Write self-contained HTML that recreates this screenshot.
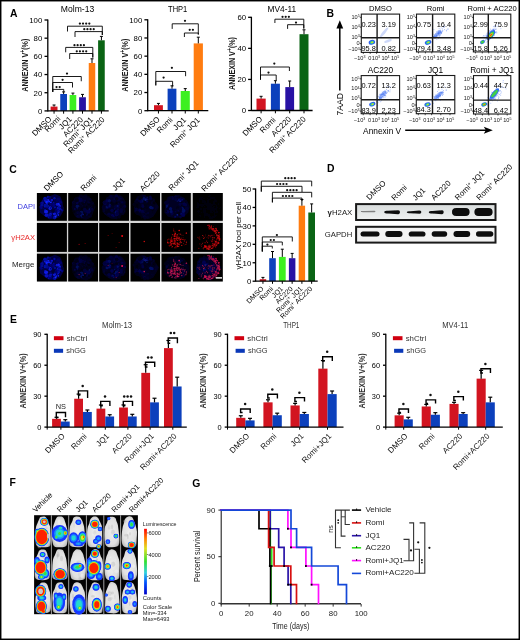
<!DOCTYPE html><html><head><meta charset="utf-8"><style>html,body{margin:0;padding:0;background:#fff;width:520px;height:640px;overflow:hidden;}svg{display:block;will-change:transform;}text{font-family:"Liberation Sans", sans-serif;}</style></head><body><svg width="520" height="640" viewBox="0 0 520 640" font-family='"Liberation Sans", sans-serif'>
<defs><linearGradient id="cbar" x1="0" y1="1" x2="0" y2="0"><stop offset="0" stop-color="#0000c8"/><stop offset="0.18" stop-color="#0050ff"/><stop offset="0.33" stop-color="#30d0e0"/><stop offset="0.5" stop-color="#30e030"/><stop offset="0.7" stop-color="#e0e020"/><stop offset="0.85" stop-color="#ff8000"/><stop offset="1" stop-color="#ff0000"/></linearGradient><radialGradient id="mouse" cx="0.5" cy="0.5" r="0.6"><stop offset="0" stop-color="#ececec"/><stop offset="0.7" stop-color="#e0e0e0"/><stop offset="0.92" stop-color="#c4c4c4"/><stop offset="1" stop-color="#a0a0a0"/></radialGradient><linearGradient id="blot1" x1="0" y1="0" x2="0" y2="1"><stop offset="0" stop-color="#d8dcdc"/><stop offset="1" stop-color="#eef0f0"/></linearGradient><filter id="b04" x="-20%" y="-20%" width="140%" height="140%"><feGaussianBlur stdDeviation="0.45"/></filter><filter id="b03" x="-20%" y="-20%" width="140%" height="140%"><feGaussianBlur stdDeviation="0.3"/></filter></defs>
<rect x="0" y="0" width="520" height="640" fill="#fff"/>
<rect x="0.7" y="0.7" width="518.6" height="638.6" fill="none" stroke="#000" stroke-width="1.5"/>
<text x="10" y="17.2" font-size="10.4" font-weight="bold">A</text>
<text x="326.5" y="17.2" font-size="10.4" font-weight="bold">B</text>
<text x="9.3" y="172.7" font-size="10.4" font-weight="bold">C</text>
<text x="327" y="172.4" font-size="10.4" font-weight="bold">D</text>
<text x="10" y="323.4" font-size="10.4" font-weight="bold">E</text>
<text x="9.5" y="486.2" font-size="10.4" font-weight="bold">F</text>
<text x="192.3" y="486.6" font-size="10.4" font-weight="bold">G</text>
<rect x="50.6" y="106.6" width="6.9" height="4.3" fill="#d21420"/>
<line x1="54.05" y1="106.6" x2="54.05" y2="105" stroke="#000" stroke-width="1"/>
<line x1="52.55" y1="105" x2="55.55" y2="105" stroke="#000" stroke-width="1"/>
<rect x="60.25" y="94" width="6.75" height="16.9" fill="#0c40bc"/>
<line x1="63.62" y1="94" x2="63.62" y2="91.9" stroke="#000" stroke-width="1"/>
<line x1="62.12" y1="91.9" x2="65.12" y2="91.9" stroke="#000" stroke-width="1"/>
<rect x="69.6" y="95" width="6.65" height="15.9" fill="#3cf020"/>
<line x1="72.92" y1="95" x2="72.92" y2="93.1" stroke="#000" stroke-width="1"/>
<line x1="71.42" y1="93.1" x2="74.42" y2="93.1" stroke="#000" stroke-width="1"/>
<rect x="79.1" y="97.25" width="6.8" height="13.65" fill="#2812a4"/>
<line x1="82.5" y1="97.25" x2="82.5" y2="94.4" stroke="#000" stroke-width="1"/>
<line x1="81" y1="94.4" x2="84" y2="94.4" stroke="#000" stroke-width="1"/>
<rect x="88.75" y="63" width="6.5" height="47.9" fill="#ff7c10"/>
<line x1="92" y1="63" x2="92" y2="58.8" stroke="#000" stroke-width="1"/>
<line x1="90.5" y1="58.8" x2="93.5" y2="58.8" stroke="#000" stroke-width="1"/>
<rect x="98.1" y="40.3" width="6.65" height="70.6" fill="#0a6414"/>
<line x1="101.42" y1="40.3" x2="101.42" y2="36.4" stroke="#000" stroke-width="1"/>
<line x1="99.92" y1="36.4" x2="102.92" y2="36.4" stroke="#000" stroke-width="1"/>
<line x1="47.8" y1="19.5" x2="47.8" y2="111.4" stroke="#000" stroke-width="1.3"/>
<line x1="44.5" y1="110.9" x2="47.8" y2="110.9" stroke="#000" stroke-width="1.3"/>
<text x="42.3" y="113.71" font-size="7.8" text-anchor="end">0</text>
<line x1="44.5" y1="92.72" x2="47.8" y2="92.72" stroke="#000" stroke-width="1.3"/>
<text x="42.3" y="95.53" font-size="7.8" text-anchor="end">20</text>
<line x1="44.5" y1="74.54" x2="47.8" y2="74.54" stroke="#000" stroke-width="1.3"/>
<text x="42.3" y="77.35" font-size="7.8" text-anchor="end">40</text>
<line x1="44.5" y1="56.36" x2="47.8" y2="56.36" stroke="#000" stroke-width="1.3"/>
<text x="42.3" y="59.17" font-size="7.8" text-anchor="end">60</text>
<line x1="44.5" y1="38.18" x2="47.8" y2="38.18" stroke="#000" stroke-width="1.3"/>
<text x="42.3" y="40.99" font-size="7.8" text-anchor="end">80</text>
<line x1="44.5" y1="20" x2="47.8" y2="20" stroke="#000" stroke-width="1.3"/>
<text x="42.3" y="22.81" font-size="7.8" text-anchor="end">100</text>
<line x1="47.8" y1="110.9" x2="108.7" y2="110.9" stroke="#000" stroke-width="1.3"/>
<line x1="54.05" y1="110.9" x2="54.05" y2="113.7" stroke="#000" stroke-width="1"/>
<line x1="63.62" y1="110.9" x2="63.62" y2="113.7" stroke="#000" stroke-width="1"/>
<line x1="72.92" y1="110.9" x2="72.92" y2="113.7" stroke="#000" stroke-width="1"/>
<line x1="82.5" y1="110.9" x2="82.5" y2="113.7" stroke="#000" stroke-width="1"/>
<line x1="92" y1="110.9" x2="92" y2="113.7" stroke="#000" stroke-width="1"/>
<line x1="101.42" y1="110.9" x2="101.42" y2="113.7" stroke="#000" stroke-width="1"/>
<polyline points="67.5,31.5 67.5,26.2 102.3,26.2 102.3,35" fill="none" stroke="#000" stroke-width="0.9"/>
<circle cx="79.88" cy="23.6" r="1.12" fill="#111"/>
<circle cx="83.02" cy="23.6" r="1.12" fill="#111"/>
<circle cx="86.17" cy="23.6" r="1.12" fill="#111"/>
<circle cx="89.32" cy="23.6" r="1.12" fill="#111"/>
<polyline points="75,37 75,31.6 102.3,31.6 102.3,35" fill="none" stroke="#000" stroke-width="0.9"/>
<circle cx="84.28" cy="29.2" r="1.12" fill="#111"/>
<circle cx="87.42" cy="29.2" r="1.12" fill="#111"/>
<circle cx="90.58" cy="29.2" r="1.12" fill="#111"/>
<circle cx="93.72" cy="29.2" r="1.12" fill="#111"/>
<polyline points="65.7,52.3 65.7,47.4 92.8,47.4 92.8,57.5" fill="none" stroke="#000" stroke-width="0.9"/>
<circle cx="74.48" cy="45.2" r="1.12" fill="#111"/>
<circle cx="77.62" cy="45.2" r="1.12" fill="#111"/>
<circle cx="80.78" cy="45.2" r="1.12" fill="#111"/>
<circle cx="83.92" cy="45.2" r="1.12" fill="#111"/>
<polyline points="69.7,59 69.7,53.5 92.8,53.5 92.8,57.5" fill="none" stroke="#000" stroke-width="0.9"/>
<circle cx="76.78" cy="51.3" r="1.12" fill="#111"/>
<circle cx="79.92" cy="51.3" r="1.12" fill="#111"/>
<circle cx="83.08" cy="51.3" r="1.12" fill="#111"/>
<circle cx="86.22" cy="51.3" r="1.12" fill="#111"/>
<polyline points="52.75,91.9 52.75,76.5 81.25,76.5 81.25,81.25" fill="none" stroke="#000" stroke-width="0.9"/>
<circle cx="67" cy="73.6" r="1.12" fill="#111"/>
<polyline points="52.75,91.9 52.75,82.5 72.5,82.5 72.5,87.5" fill="none" stroke="#000" stroke-width="0.9"/>
<circle cx="62.6" cy="79.8" r="1.12" fill="#111"/>
<polyline points="52.75,91.9 52.75,89.4 63.75,89.4 63.75,91.9" fill="none" stroke="#000" stroke-width="0.9"/>
<circle cx="56.52" cy="87.1" r="1.12" fill="#111"/>
<circle cx="59.68" cy="87.1" r="1.12" fill="#111"/>
<text x="77.5" y="12.4" font-size="9.2" text-anchor="middle" textLength="33.4" lengthAdjust="spacingAndGlyphs">Molm-13</text>
<text x="28.1" y="65.2" font-size="9" text-anchor="middle" fill="#1a1a1a" font-weight="bold" transform="rotate(-90 28.1 65.2)" textLength="53" lengthAdjust="spacingAndGlyphs">ANNEXIN V<tspan font-size="6.5" dy="-3">+</tspan><tspan dy="3">(%)</tspan></text>
<text x="52.2" y="119.6" font-size="8" text-anchor="end" transform="rotate(-45 52.2 119.6)">DMSO</text>
<text x="60.9" y="119.3" font-size="8" text-anchor="end" transform="rotate(-45 60.9 119.3)">Romi</text>
<text x="72.5" y="119.7" font-size="8" text-anchor="end" transform="rotate(-45 72.5 119.7)">JQ1</text>
<text x="83.6" y="120.2" font-size="8" text-anchor="end" transform="rotate(-45 83.6 120.2)">AC220</text>
<text x="93.7" y="120.2" font-size="8" text-anchor="end" transform="rotate(-45 93.7 120.2)">Romi<tspan font-size="5.2" dy="-2.6">+</tspan><tspan dy="2.6"> </tspan>JQ1</text>
<text x="105.2" y="120.2" font-size="8" text-anchor="end" transform="rotate(-45 105.2 120.2)">Romi<tspan font-size="5.2" dy="-2.6">+</tspan><tspan dy="2.6"> </tspan>AC220</text>
<rect x="154" y="105.2" width="8.9" height="5.5" fill="#d21420"/>
<line x1="158.45" y1="105.2" x2="158.45" y2="103.4" stroke="#000" stroke-width="1"/>
<line x1="156.95" y1="103.4" x2="159.95" y2="103.4" stroke="#000" stroke-width="1"/>
<rect x="167.6" y="88.7" width="8.8" height="22" fill="#0c40bc"/>
<line x1="172" y1="88.7" x2="172" y2="85.8" stroke="#000" stroke-width="1"/>
<line x1="170.5" y1="85.8" x2="173.5" y2="85.8" stroke="#000" stroke-width="1"/>
<rect x="180.7" y="91" width="9.1" height="19.7" fill="#3cf020"/>
<line x1="185.25" y1="91" x2="185.25" y2="88.6" stroke="#000" stroke-width="1"/>
<line x1="183.75" y1="88.6" x2="186.75" y2="88.6" stroke="#000" stroke-width="1"/>
<rect x="193.7" y="43.4" width="9.2" height="67.3" fill="#ff7c10"/>
<line x1="198.3" y1="43.4" x2="198.3" y2="37.2" stroke="#000" stroke-width="1"/>
<line x1="196.8" y1="37.2" x2="199.8" y2="37.2" stroke="#000" stroke-width="1"/>
<line x1="147.7" y1="19.3" x2="147.7" y2="111.2" stroke="#000" stroke-width="1.3"/>
<line x1="144.4" y1="110.7" x2="147.7" y2="110.7" stroke="#000" stroke-width="1.3"/>
<text x="142.3" y="113.51" font-size="7.8" text-anchor="end">0</text>
<line x1="144.4" y1="92.52" x2="147.7" y2="92.52" stroke="#000" stroke-width="1.3"/>
<text x="142.3" y="95.33" font-size="7.8" text-anchor="end">20</text>
<line x1="144.4" y1="74.34" x2="147.7" y2="74.34" stroke="#000" stroke-width="1.3"/>
<text x="142.3" y="77.15" font-size="7.8" text-anchor="end">40</text>
<line x1="144.4" y1="56.16" x2="147.7" y2="56.16" stroke="#000" stroke-width="1.3"/>
<text x="142.3" y="58.97" font-size="7.8" text-anchor="end">60</text>
<line x1="144.4" y1="37.98" x2="147.7" y2="37.98" stroke="#000" stroke-width="1.3"/>
<text x="142.3" y="40.79" font-size="7.8" text-anchor="end">80</text>
<line x1="144.4" y1="19.8" x2="147.7" y2="19.8" stroke="#000" stroke-width="1.3"/>
<text x="142.3" y="22.61" font-size="7.8" text-anchor="end">100</text>
<line x1="147.7" y1="110.7" x2="208.3" y2="110.7" stroke="#000" stroke-width="1.3"/>
<line x1="158.45" y1="110.7" x2="158.45" y2="113.5" stroke="#000" stroke-width="1"/>
<line x1="172" y1="110.7" x2="172" y2="113.5" stroke="#000" stroke-width="1"/>
<line x1="185.25" y1="110.7" x2="185.25" y2="113.5" stroke="#000" stroke-width="1"/>
<line x1="198.3" y1="110.7" x2="198.3" y2="113.5" stroke="#000" stroke-width="1"/>
<polyline points="172.2,28.9 172.2,23.8 198.3,23.8 198.3,34.5" fill="none" stroke="#000" stroke-width="0.9"/>
<circle cx="185" cy="20.8" r="1.12" fill="#111"/>
<polyline points="184.4,37 184.4,33 198.3,33 198.3,34.5" fill="none" stroke="#000" stroke-width="0.9"/>
<circle cx="189.73" cy="29.8" r="1.12" fill="#111"/>
<circle cx="192.88" cy="29.8" r="1.12" fill="#111"/>
<polyline points="155.8,85.4 155.8,71.5 185.6,71.5 185.6,76.2" fill="none" stroke="#000" stroke-width="0.9"/>
<circle cx="171.9" cy="67.8" r="1.12" fill="#111"/>
<polyline points="155.8,85.4 155.8,81.3 172.6,81.3 172.6,86.5" fill="none" stroke="#000" stroke-width="0.9"/>
<circle cx="163.6" cy="77.6" r="1.12" fill="#111"/>
<text x="177.7" y="12.4" font-size="9.2" text-anchor="middle" textLength="19.2" lengthAdjust="spacingAndGlyphs">THP1</text>
<text x="128.1" y="65.2" font-size="9" text-anchor="middle" fill="#1a1a1a" font-weight="bold" transform="rotate(-90 128.1 65.2)" textLength="53" lengthAdjust="spacingAndGlyphs">ANNEXIN V<tspan font-size="6.5" dy="-3">+</tspan><tspan dy="3">(%)</tspan></text>
<text x="160.5" y="119.8" font-size="8" text-anchor="end" transform="rotate(-45 160.5 119.8)">DMSO</text>
<text x="173.3" y="120.4" font-size="8" text-anchor="end" transform="rotate(-45 173.3 120.4)">Romi</text>
<text x="186.7" y="120.4" font-size="8" text-anchor="end" transform="rotate(-45 186.7 120.4)">JQ1</text>
<text x="200.5" y="120.7" font-size="8" text-anchor="end" transform="rotate(-45 200.5 120.7)">Romi<tspan font-size="5.2" dy="-2.6">+</tspan><tspan dy="2.6"> </tspan>JQ1</text>
<rect x="256.5" y="98.6" width="9.2" height="11.9" fill="#d21420"/>
<line x1="261.1" y1="98.6" x2="261.1" y2="96.3" stroke="#000" stroke-width="1"/>
<line x1="259.6" y1="96.3" x2="262.6" y2="96.3" stroke="#000" stroke-width="1"/>
<rect x="270.9" y="83.7" width="9" height="26.8" fill="#0c40bc"/>
<line x1="275.4" y1="83.7" x2="275.4" y2="80.7" stroke="#000" stroke-width="1"/>
<line x1="273.9" y1="80.7" x2="276.9" y2="80.7" stroke="#000" stroke-width="1"/>
<rect x="285.3" y="87.1" width="8.8" height="23.4" fill="#2812a4"/>
<line x1="289.7" y1="87.1" x2="289.7" y2="81" stroke="#000" stroke-width="1"/>
<line x1="288.2" y1="81" x2="291.2" y2="81" stroke="#000" stroke-width="1"/>
<rect x="299.5" y="34.2" width="9" height="76.3" fill="#0a6414"/>
<line x1="304" y1="34.2" x2="304" y2="29.8" stroke="#000" stroke-width="1"/>
<line x1="302.5" y1="29.8" x2="305.5" y2="29.8" stroke="#000" stroke-width="1"/>
<line x1="251.4" y1="16.8" x2="251.4" y2="111" stroke="#000" stroke-width="1.3"/>
<line x1="248.1" y1="110.5" x2="251.4" y2="110.5" stroke="#000" stroke-width="1.3"/>
<text x="246.2" y="113.31" font-size="7.8" text-anchor="end">0</text>
<line x1="248.1" y1="79.43" x2="251.4" y2="79.43" stroke="#000" stroke-width="1.3"/>
<text x="246.2" y="82.24" font-size="7.8" text-anchor="end">20</text>
<line x1="248.1" y1="48.37" x2="251.4" y2="48.37" stroke="#000" stroke-width="1.3"/>
<text x="246.2" y="51.17" font-size="7.8" text-anchor="end">40</text>
<line x1="248.1" y1="17.3" x2="251.4" y2="17.3" stroke="#000" stroke-width="1.3"/>
<text x="246.2" y="20.11" font-size="7.8" text-anchor="end">60</text>
<line x1="251.4" y1="110.5" x2="312.6" y2="110.5" stroke="#000" stroke-width="1.3"/>
<line x1="261.1" y1="110.5" x2="261.1" y2="113.3" stroke="#000" stroke-width="1"/>
<line x1="275.4" y1="110.5" x2="275.4" y2="113.3" stroke="#000" stroke-width="1"/>
<line x1="289.7" y1="110.5" x2="289.7" y2="113.3" stroke="#000" stroke-width="1"/>
<line x1="304" y1="110.5" x2="304" y2="113.3" stroke="#000" stroke-width="1"/>
<polyline points="274.9,23 274.9,19.2 303.8,19.2 303.8,28.5" fill="none" stroke="#000" stroke-width="0.9"/>
<circle cx="282.55" cy="16.8" r="1.12" fill="#111"/>
<circle cx="285.7" cy="16.8" r="1.12" fill="#111"/>
<circle cx="288.85" cy="16.8" r="1.12" fill="#111"/>
<polyline points="287.6,28.9 287.6,24.7 303.8,24.7 303.8,28.5" fill="none" stroke="#000" stroke-width="0.9"/>
<circle cx="296" cy="22.6" r="1.12" fill="#111"/>
<polyline points="260.5,79.7 260.5,67 289.4,67 289.4,71" fill="none" stroke="#000" stroke-width="0.9"/>
<circle cx="274.3" cy="63.6" r="1.12" fill="#111"/>
<polyline points="260.5,79.7 260.5,75 276.2,75 276.2,80.1" fill="none" stroke="#000" stroke-width="0.9"/>
<circle cx="268.5" cy="72.6" r="1.12" fill="#111"/>
<text x="281.8" y="12.4" font-size="9.2" text-anchor="middle" textLength="28.6" lengthAdjust="spacingAndGlyphs">MV4-11</text>
<text x="235.2" y="63.5" font-size="9" text-anchor="middle" fill="#1a1a1a" font-weight="bold" transform="rotate(-90 235.2 63.5)" textLength="53" lengthAdjust="spacingAndGlyphs">ANNEXIN V<tspan font-size="6.5" dy="-3">+</tspan><tspan dy="3">(%)</tspan></text>
<text x="262.8" y="119.6" font-size="8" text-anchor="end" transform="rotate(-45 262.8 119.6)">DMSO</text>
<text x="276.3" y="120.4" font-size="8" text-anchor="end" transform="rotate(-45 276.3 120.4)">Romi</text>
<text x="291.7" y="119.6" font-size="8" text-anchor="end" transform="rotate(-45 291.7 119.6)">AC220</text>
<text x="306.3" y="119.7" font-size="8" text-anchor="end" transform="rotate(-45 306.3 119.7)">Romi<tspan font-size="5.2" dy="-2.6">+</tspan><tspan dy="2.6"> </tspan>AC220</text>
<ellipse cx="384" cy="32.5" rx="1.4" ry="6.5" transform="rotate(40 384 32.5)" fill="#c8d4f8" opacity="0.9"/>
<ellipse cx="388" cy="41" rx="1.2" ry="4" transform="rotate(70 388 41)" fill="#c8d4f8" opacity="0.9"/>
<ellipse cx="371.9" cy="42.3" rx="3.3" ry="2.3" transform="rotate(-15 371.9 42.3)" fill="#2a5cf0"/>
<ellipse cx="371.9" cy="42.3" rx="2.15" ry="1.43" transform="rotate(-15 371.9 42.3)" fill="#30c8a0"/>
<ellipse cx="372.2" cy="42.3" rx="1.25" ry="0.8" transform="rotate(-15 372.2 42.3)" fill="#c8e020"/>
<rect x="361.3" y="14.1" width="38.3" height="38.3" fill="none" stroke="#1a1a1a" stroke-width="1.1"/>
<line x1="377.1" y1="14.1" x2="377.1" y2="52.4" stroke="#1a1a1a" stroke-width="1.4"/>
<line x1="361.3" y1="37.8" x2="399.6" y2="37.8" stroke="#1a1a1a" stroke-width="1.4"/>
<text x="368.7" y="26.5" font-size="7.4" text-anchor="middle">0.23</text>
<text x="388.7" y="26.5" font-size="7.4" text-anchor="middle">3.19</text>
<text x="368.7" y="51" font-size="7.4" text-anchor="middle">95.8</text>
<text x="388.7" y="51" font-size="7.4" text-anchor="middle">0.82</text>
<text x="380.45" y="11.2" font-size="7.6" text-anchor="middle">DMSO</text>
<text x="359.7" y="19.1" font-size="5.6" text-anchor="end" fill="#222">10<tspan font-size="3.6" dy="-1.9">5</tspan><tspan dy="1.9"></tspan></text>
<line x1="359.8" y1="17.3" x2="361.3" y2="17.3" stroke="#000" stroke-width="0.7"/>
<text x="359.7" y="28.9" font-size="5.6" text-anchor="end" fill="#222">10<tspan font-size="3.6" dy="-1.9">4</tspan><tspan dy="1.9"></tspan></text>
<line x1="359.8" y1="27.1" x2="361.3" y2="27.1" stroke="#000" stroke-width="0.7"/>
<text x="359.7" y="38.5" font-size="5.6" text-anchor="end" fill="#222">10<tspan font-size="3.6" dy="-1.9">3</tspan><tspan dy="1.9"></tspan></text>
<line x1="359.8" y1="36.7" x2="361.3" y2="36.7" stroke="#000" stroke-width="0.7"/>
<text x="359.7" y="45.4" font-size="5.6" text-anchor="end" fill="#222">0</text>
<line x1="359.8" y1="43.6" x2="361.3" y2="43.6" stroke="#000" stroke-width="0.7"/>
<text x="359.7" y="51.4" font-size="5.6" text-anchor="end" fill="#222">&#8722;10<tspan font-size="3.6" dy="-1.9">3</tspan><tspan dy="1.9"></tspan></text>
<line x1="359.8" y1="49.6" x2="361.3" y2="49.6" stroke="#000" stroke-width="0.7"/>
<text x="359.7" y="60.2" font-size="5.6" text-anchor="middle" fill="#222">&#8722;10<tspan font-size="3.6" dy="-1.9">3</tspan><tspan dy="1.9"></tspan></text>
<text x="369.7" y="60.2" font-size="5.6" text-anchor="middle" fill="#222">0</text>
<text x="375.9" y="60.2" font-size="5.6" text-anchor="middle" fill="#222">10<tspan font-size="3.6" dy="-1.9">3</tspan><tspan dy="1.9"></tspan></text>
<text x="385.5" y="60.2" font-size="5.6" text-anchor="middle" fill="#222">10<tspan font-size="3.6" dy="-1.9">4</tspan><tspan dy="1.9"></tspan></text>
<text x="395.1" y="60.2" font-size="5.6" text-anchor="middle" fill="#222">10<tspan font-size="3.6" dy="-1.9">5</tspan><tspan dy="1.9"></tspan></text>
<line x1="363.3" y1="52.4" x2="363.3" y2="53.9" stroke="#000" stroke-width="0.7"/>
<line x1="370.2" y1="52.4" x2="370.2" y2="53.9" stroke="#000" stroke-width="0.7"/>
<line x1="376.6" y1="52.4" x2="376.6" y2="53.9" stroke="#000" stroke-width="0.7"/>
<line x1="385.8" y1="52.4" x2="385.8" y2="53.9" stroke="#000" stroke-width="0.7"/>
<line x1="395" y1="52.4" x2="395" y2="53.9" stroke="#000" stroke-width="0.7"/>
<rect x="433.64" y="38.09" width="0.9" height="0.9" fill="#3c6cf0" opacity="0.45"/>
<rect x="433.19" y="36.01" width="0.9" height="0.9" fill="#3c6cf0" opacity="0.45"/>
<rect x="438.01" y="32.85" width="0.9" height="0.9" fill="#3c6cf0" opacity="0.45"/>
<rect x="439.35" y="36.85" width="0.9" height="0.9" fill="#3c6cf0" opacity="0.45"/>
<rect x="435.13" y="36.27" width="0.9" height="0.9" fill="#3c6cf0" opacity="0.45"/>
<rect x="438.99" y="35.3" width="0.9" height="0.9" fill="#3c6cf0" opacity="0.45"/>
<rect x="441.33" y="31.63" width="0.9" height="0.9" fill="#3c6cf0" opacity="0.45"/>
<rect x="438.44" y="32.15" width="0.9" height="0.9" fill="#3c6cf0" opacity="0.45"/>
<rect x="440.65" y="27.55" width="0.9" height="0.9" fill="#3c6cf0" opacity="0.45"/>
<rect x="436.25" y="31.23" width="0.9" height="0.9" fill="#3c6cf0" opacity="0.45"/>
<rect x="438.31" y="32.77" width="0.9" height="0.9" fill="#3c6cf0" opacity="0.45"/>
<rect x="441.84" y="29.84" width="0.9" height="0.9" fill="#3c6cf0" opacity="0.45"/>
<rect x="436.64" y="34.66" width="0.9" height="0.9" fill="#3c6cf0" opacity="0.45"/>
<rect x="441.12" y="32.24" width="0.9" height="0.9" fill="#3c6cf0" opacity="0.45"/>
<rect x="443.42" y="27.09" width="0.9" height="0.9" fill="#3c6cf0" opacity="0.45"/>
<rect x="443.87" y="26.39" width="0.9" height="0.9" fill="#3c6cf0" opacity="0.45"/>
<rect x="432.24" y="35.75" width="0.9" height="0.9" fill="#3c6cf0" opacity="0.45"/>
<rect x="432.23" y="33.82" width="0.9" height="0.9" fill="#3c6cf0" opacity="0.45"/>
<rect x="438.9" y="33.41" width="0.9" height="0.9" fill="#3c6cf0" opacity="0.45"/>
<rect x="436.39" y="36.25" width="0.9" height="0.9" fill="#3c6cf0" opacity="0.45"/>
<rect x="439.53" y="34.56" width="0.9" height="0.9" fill="#3c6cf0" opacity="0.45"/>
<rect x="438.69" y="31.34" width="0.9" height="0.9" fill="#3c6cf0" opacity="0.45"/>
<rect x="436.42" y="32.64" width="0.9" height="0.9" fill="#3c6cf0" opacity="0.45"/>
<rect x="433.13" y="36.43" width="0.9" height="0.9" fill="#3c6cf0" opacity="0.45"/>
<rect x="438.67" y="28.21" width="0.9" height="0.9" fill="#3c6cf0" opacity="0.45"/>
<rect x="442.98" y="26.16" width="0.9" height="0.9" fill="#3c6cf0" opacity="0.45"/>
<rect x="447.52" y="28.69" width="0.9" height="0.9" fill="#3c6cf0" opacity="0.45"/>
<rect x="438.82" y="31.98" width="0.9" height="0.9" fill="#3c6cf0" opacity="0.45"/>
<rect x="445.87" y="29.73" width="0.9" height="0.9" fill="#3c6cf0" opacity="0.45"/>
<rect x="441.15" y="33" width="0.9" height="0.9" fill="#3c6cf0" opacity="0.45"/>
<rect x="439.44" y="31.67" width="0.9" height="0.9" fill="#3c6cf0" opacity="0.45"/>
<rect x="441.91" y="31.17" width="0.9" height="0.9" fill="#3c6cf0" opacity="0.45"/>
<rect x="436.28" y="35.03" width="0.9" height="0.9" fill="#3c6cf0" opacity="0.45"/>
<rect x="447.43" y="28.62" width="0.9" height="0.9" fill="#3c6cf0" opacity="0.45"/>
<rect x="436.37" y="38.9" width="0.9" height="0.9" fill="#3c6cf0" opacity="0.45"/>
<rect x="435.93" y="34.37" width="0.9" height="0.9" fill="#3c6cf0" opacity="0.45"/>
<rect x="431.68" y="38.66" width="0.9" height="0.9" fill="#3c6cf0" opacity="0.45"/>
<rect x="438.45" y="33.57" width="0.9" height="0.9" fill="#3c6cf0" opacity="0.45"/>
<rect x="437.85" y="33.08" width="0.9" height="0.9" fill="#3c6cf0" opacity="0.45"/>
<rect x="440.08" y="30.98" width="0.9" height="0.9" fill="#3c6cf0" opacity="0.45"/>
<rect x="446.13" y="30.47" width="0.9" height="0.9" fill="#3c6cf0" opacity="0.45"/>
<rect x="433.43" y="29.15" width="0.9" height="0.9" fill="#3c6cf0" opacity="0.45"/>
<rect x="436.13" y="35" width="0.9" height="0.9" fill="#3c6cf0" opacity="0.45"/>
<rect x="437.72" y="33.28" width="0.9" height="0.9" fill="#3c6cf0" opacity="0.45"/>
<rect x="434.83" y="37.49" width="0.9" height="0.9" fill="#3c6cf0" opacity="0.45"/>
<rect x="438.13" y="32.26" width="0.9" height="0.9" fill="#3c6cf0" opacity="0.45"/>
<rect x="438.21" y="38.09" width="0.9" height="0.9" fill="#3c6cf0" opacity="0.45"/>
<rect x="428.89" y="40.18" width="0.9" height="0.9" fill="#3c6cf0" opacity="0.45"/>
<rect x="440.33" y="33.09" width="0.9" height="0.9" fill="#3c6cf0" opacity="0.45"/>
<rect x="435.1" y="33.5" width="0.9" height="0.9" fill="#3c6cf0" opacity="0.45"/>
<rect x="439.84" y="29.61" width="0.9" height="0.9" fill="#3c6cf0" opacity="0.45"/>
<rect x="437.51" y="30.79" width="0.9" height="0.9" fill="#3c6cf0" opacity="0.45"/>
<rect x="440.25" y="33.99" width="0.9" height="0.9" fill="#3c6cf0" opacity="0.45"/>
<rect x="433.58" y="34.33" width="0.9" height="0.9" fill="#3c6cf0" opacity="0.45"/>
<rect x="434.9" y="36.77" width="0.9" height="0.9" fill="#3c6cf0" opacity="0.45"/>
<rect x="439.52" y="34.95" width="0.9" height="0.9" fill="#3c6cf0" opacity="0.45"/>
<rect x="437.47" y="33.68" width="0.9" height="0.9" fill="#3c6cf0" opacity="0.45"/>
<rect x="433.97" y="34.72" width="0.9" height="0.9" fill="#3c6cf0" opacity="0.45"/>
<rect x="438.64" y="36.25" width="0.9" height="0.9" fill="#3c6cf0" opacity="0.45"/>
<rect x="438.03" y="32.88" width="0.9" height="0.9" fill="#3c6cf0" opacity="0.45"/>
<rect x="439.09" y="30.48" width="0.9" height="0.9" fill="#3c6cf0" opacity="0.45"/>
<rect x="439.68" y="30.82" width="0.9" height="0.9" fill="#3c6cf0" opacity="0.45"/>
<rect x="441.98" y="28.44" width="0.9" height="0.9" fill="#3c6cf0" opacity="0.45"/>
<rect x="437.78" y="34.59" width="0.9" height="0.9" fill="#3c6cf0" opacity="0.45"/>
<rect x="443.39" y="25.26" width="0.9" height="0.9" fill="#3c6cf0" opacity="0.45"/>
<rect x="433.98" y="37.5" width="0.9" height="0.9" fill="#3c6cf0" opacity="0.45"/>
<rect x="438.13" y="31.56" width="0.9" height="0.9" fill="#3c6cf0" opacity="0.45"/>
<rect x="434.72" y="35.38" width="0.9" height="0.9" fill="#3c6cf0" opacity="0.45"/>
<rect x="433.23" y="36" width="0.9" height="0.9" fill="#3c6cf0" opacity="0.45"/>
<rect x="434.18" y="36.57" width="0.9" height="0.9" fill="#3c6cf0" opacity="0.45"/>
<rect x="438.28" y="33.3" width="0.9" height="0.9" fill="#3c6cf0" opacity="0.45"/>
<rect x="437.86" y="29.98" width="0.9" height="0.9" fill="#3c6cf0" opacity="0.45"/>
<rect x="435.08" y="35.78" width="0.9" height="0.9" fill="#3c6cf0" opacity="0.45"/>
<rect x="440.02" y="32.09" width="0.9" height="0.9" fill="#3c6cf0" opacity="0.45"/>
<rect x="434.87" y="37.65" width="0.9" height="0.9" fill="#3c6cf0" opacity="0.45"/>
<rect x="438.71" y="32.42" width="0.9" height="0.9" fill="#3c6cf0" opacity="0.45"/>
<rect x="434.43" y="36.09" width="0.9" height="0.9" fill="#3c6cf0" opacity="0.45"/>
<rect x="441.12" y="31.71" width="0.9" height="0.9" fill="#3c6cf0" opacity="0.45"/>
<rect x="439.49" y="32.94" width="0.9" height="0.9" fill="#3c6cf0" opacity="0.45"/>
<rect x="432.63" y="37.01" width="0.9" height="0.9" fill="#3c6cf0" opacity="0.45"/>
<rect x="440.82" y="32.71" width="0.9" height="0.9" fill="#3c6cf0" opacity="0.45"/>
<rect x="436" y="35.69" width="0.9" height="0.9" fill="#3c6cf0" opacity="0.45"/>
<rect x="437.09" y="32.83" width="0.9" height="0.9" fill="#3c6cf0" opacity="0.45"/>
<rect x="444.02" y="29.13" width="0.9" height="0.9" fill="#3c6cf0" opacity="0.45"/>
<rect x="435.55" y="36.76" width="0.9" height="0.9" fill="#3c6cf0" opacity="0.45"/>
<rect x="442.39" y="30.36" width="0.9" height="0.9" fill="#3c6cf0" opacity="0.45"/>
<rect x="440.64" y="31.65" width="0.9" height="0.9" fill="#3c6cf0" opacity="0.45"/>
<rect x="436.28" y="36.63" width="0.9" height="0.9" fill="#3c6cf0" opacity="0.45"/>
<rect x="440.2" y="31.83" width="0.9" height="0.9" fill="#3c6cf0" opacity="0.45"/>
<rect x="434.05" y="35.99" width="0.9" height="0.9" fill="#3c6cf0" opacity="0.45"/>
<ellipse cx="437.5" cy="34" rx="1.93" ry="4.95" transform="rotate(45 437.5 34)" fill="#4a78f4" opacity="0.55"/>
<ellipse cx="428.1" cy="42.4" rx="3.4" ry="2.2" transform="rotate(-20 428.1 42.4)" fill="#2a5cf0"/>
<ellipse cx="428.1" cy="42.4" rx="2.21" ry="1.36" transform="rotate(-20 428.1 42.4)" fill="#30c8a0"/>
<ellipse cx="428.4" cy="42.4" rx="1.29" ry="0.77" transform="rotate(-20 428.4 42.4)" fill="#c8e020"/>
<rect x="416.5" y="14.1" width="38.3" height="37.8" fill="none" stroke="#1a1a1a" stroke-width="1.1"/>
<line x1="432.6" y1="14.1" x2="432.6" y2="51.9" stroke="#1a1a1a" stroke-width="1.4"/>
<line x1="416.5" y1="37.8" x2="454.8" y2="37.8" stroke="#1a1a1a" stroke-width="1.4"/>
<text x="423.9" y="26.5" font-size="7.4" text-anchor="middle">0.75</text>
<text x="443.9" y="26.5" font-size="7.4" text-anchor="middle">16.4</text>
<text x="423.9" y="51" font-size="7.4" text-anchor="middle">79.4</text>
<text x="443.9" y="51" font-size="7.4" text-anchor="middle">3.48</text>
<text x="435.65" y="11.2" font-size="7.6" text-anchor="middle">Romi</text>
<text x="414.9" y="19.1" font-size="5.6" text-anchor="end" fill="#222">10<tspan font-size="3.6" dy="-1.9">5</tspan><tspan dy="1.9"></tspan></text>
<line x1="415" y1="17.3" x2="416.5" y2="17.3" stroke="#000" stroke-width="0.7"/>
<text x="414.9" y="28.9" font-size="5.6" text-anchor="end" fill="#222">10<tspan font-size="3.6" dy="-1.9">4</tspan><tspan dy="1.9"></tspan></text>
<line x1="415" y1="27.1" x2="416.5" y2="27.1" stroke="#000" stroke-width="0.7"/>
<text x="414.9" y="38.5" font-size="5.6" text-anchor="end" fill="#222">10<tspan font-size="3.6" dy="-1.9">3</tspan><tspan dy="1.9"></tspan></text>
<line x1="415" y1="36.7" x2="416.5" y2="36.7" stroke="#000" stroke-width="0.7"/>
<text x="414.9" y="45.4" font-size="5.6" text-anchor="end" fill="#222">0</text>
<line x1="415" y1="43.6" x2="416.5" y2="43.6" stroke="#000" stroke-width="0.7"/>
<text x="414.9" y="51.4" font-size="5.6" text-anchor="end" fill="#222">&#8722;10<tspan font-size="3.6" dy="-1.9">3</tspan><tspan dy="1.9"></tspan></text>
<line x1="415" y1="49.6" x2="416.5" y2="49.6" stroke="#000" stroke-width="0.7"/>
<text x="414.9" y="59.7" font-size="5.6" text-anchor="middle" fill="#222">&#8722;10<tspan font-size="3.6" dy="-1.9">3</tspan><tspan dy="1.9"></tspan></text>
<text x="424.9" y="59.7" font-size="5.6" text-anchor="middle" fill="#222">0</text>
<text x="431.1" y="59.7" font-size="5.6" text-anchor="middle" fill="#222">10<tspan font-size="3.6" dy="-1.9">3</tspan><tspan dy="1.9"></tspan></text>
<text x="440.7" y="59.7" font-size="5.6" text-anchor="middle" fill="#222">10<tspan font-size="3.6" dy="-1.9">4</tspan><tspan dy="1.9"></tspan></text>
<text x="450.3" y="59.7" font-size="5.6" text-anchor="middle" fill="#222">10<tspan font-size="3.6" dy="-1.9">5</tspan><tspan dy="1.9"></tspan></text>
<line x1="418.5" y1="51.9" x2="418.5" y2="53.4" stroke="#000" stroke-width="0.7"/>
<line x1="425.4" y1="51.9" x2="425.4" y2="53.4" stroke="#000" stroke-width="0.7"/>
<line x1="431.8" y1="51.9" x2="431.8" y2="53.4" stroke="#000" stroke-width="0.7"/>
<line x1="441" y1="51.9" x2="441" y2="53.4" stroke="#000" stroke-width="0.7"/>
<line x1="450.2" y1="51.9" x2="450.2" y2="53.4" stroke="#000" stroke-width="0.7"/>
<rect x="486.87" y="34.93" width="0.9" height="0.9" fill="#3c6cf0" opacity="0.45"/>
<rect x="491.77" y="33.48" width="0.9" height="0.9" fill="#3c6cf0" opacity="0.45"/>
<rect x="493.42" y="37.37" width="0.9" height="0.9" fill="#3c6cf0" opacity="0.45"/>
<rect x="500.42" y="28.26" width="0.9" height="0.9" fill="#3c6cf0" opacity="0.45"/>
<rect x="483.09" y="35.25" width="0.9" height="0.9" fill="#3c6cf0" opacity="0.45"/>
<rect x="492.08" y="33.5" width="0.9" height="0.9" fill="#3c6cf0" opacity="0.45"/>
<rect x="496.65" y="25.91" width="0.9" height="0.9" fill="#3c6cf0" opacity="0.45"/>
<rect x="492.69" y="28.84" width="0.9" height="0.9" fill="#3c6cf0" opacity="0.45"/>
<rect x="486.53" y="37.45" width="0.9" height="0.9" fill="#3c6cf0" opacity="0.45"/>
<rect x="488.77" y="35.63" width="0.9" height="0.9" fill="#3c6cf0" opacity="0.45"/>
<rect x="490.47" y="31.27" width="0.9" height="0.9" fill="#3c6cf0" opacity="0.45"/>
<rect x="491.17" y="32.95" width="0.9" height="0.9" fill="#3c6cf0" opacity="0.45"/>
<rect x="495.03" y="31.94" width="0.9" height="0.9" fill="#3c6cf0" opacity="0.45"/>
<rect x="496.36" y="32.3" width="0.9" height="0.9" fill="#3c6cf0" opacity="0.45"/>
<rect x="494.36" y="32.1" width="0.9" height="0.9" fill="#3c6cf0" opacity="0.45"/>
<rect x="492.04" y="36.69" width="0.9" height="0.9" fill="#3c6cf0" opacity="0.45"/>
<rect x="487.98" y="37.65" width="0.9" height="0.9" fill="#3c6cf0" opacity="0.45"/>
<rect x="492.71" y="28.79" width="0.9" height="0.9" fill="#3c6cf0" opacity="0.45"/>
<rect x="482.58" y="36.54" width="0.9" height="0.9" fill="#3c6cf0" opacity="0.45"/>
<rect x="491.03" y="30.61" width="0.9" height="0.9" fill="#3c6cf0" opacity="0.45"/>
<rect x="482.92" y="42.34" width="0.9" height="0.9" fill="#3c6cf0" opacity="0.45"/>
<rect x="486.47" y="32.83" width="0.9" height="0.9" fill="#3c6cf0" opacity="0.45"/>
<rect x="487.51" y="35.73" width="0.9" height="0.9" fill="#3c6cf0" opacity="0.45"/>
<rect x="488.65" y="30.01" width="0.9" height="0.9" fill="#3c6cf0" opacity="0.45"/>
<rect x="485.78" y="41.65" width="0.9" height="0.9" fill="#3c6cf0" opacity="0.45"/>
<rect x="495.47" y="32.45" width="0.9" height="0.9" fill="#3c6cf0" opacity="0.45"/>
<rect x="490.47" y="33.61" width="0.9" height="0.9" fill="#3c6cf0" opacity="0.45"/>
<rect x="492.98" y="26.16" width="0.9" height="0.9" fill="#3c6cf0" opacity="0.45"/>
<rect x="490.29" y="36.01" width="0.9" height="0.9" fill="#3c6cf0" opacity="0.45"/>
<rect x="485.48" y="38.94" width="0.9" height="0.9" fill="#3c6cf0" opacity="0.45"/>
<rect x="486.6" y="34.93" width="0.9" height="0.9" fill="#3c6cf0" opacity="0.45"/>
<rect x="490.23" y="33.76" width="0.9" height="0.9" fill="#3c6cf0" opacity="0.45"/>
<rect x="490.13" y="35.37" width="0.9" height="0.9" fill="#3c6cf0" opacity="0.45"/>
<rect x="489.47" y="35.46" width="0.9" height="0.9" fill="#3c6cf0" opacity="0.45"/>
<rect x="494.07" y="35.18" width="0.9" height="0.9" fill="#3c6cf0" opacity="0.45"/>
<rect x="489.4" y="37.86" width="0.9" height="0.9" fill="#3c6cf0" opacity="0.45"/>
<rect x="486.65" y="36.9" width="0.9" height="0.9" fill="#3c6cf0" opacity="0.45"/>
<rect x="484.58" y="37.79" width="0.9" height="0.9" fill="#3c6cf0" opacity="0.45"/>
<rect x="490.49" y="30.9" width="0.9" height="0.9" fill="#3c6cf0" opacity="0.45"/>
<rect x="487.55" y="37.92" width="0.9" height="0.9" fill="#3c6cf0" opacity="0.45"/>
<rect x="488.23" y="38.93" width="0.9" height="0.9" fill="#3c6cf0" opacity="0.45"/>
<rect x="493.06" y="29.71" width="0.9" height="0.9" fill="#3c6cf0" opacity="0.45"/>
<rect x="489.78" y="35.98" width="0.9" height="0.9" fill="#3c6cf0" opacity="0.45"/>
<rect x="485.1" y="36.88" width="0.9" height="0.9" fill="#3c6cf0" opacity="0.45"/>
<rect x="493.69" y="30.22" width="0.9" height="0.9" fill="#3c6cf0" opacity="0.45"/>
<rect x="495.36" y="28.98" width="0.9" height="0.9" fill="#3c6cf0" opacity="0.45"/>
<rect x="487.23" y="34.57" width="0.9" height="0.9" fill="#3c6cf0" opacity="0.45"/>
<rect x="487.48" y="32.16" width="0.9" height="0.9" fill="#3c6cf0" opacity="0.45"/>
<rect x="485.32" y="35.37" width="0.9" height="0.9" fill="#3c6cf0" opacity="0.45"/>
<rect x="488.24" y="33.83" width="0.9" height="0.9" fill="#3c6cf0" opacity="0.45"/>
<rect x="488.91" y="30.62" width="0.9" height="0.9" fill="#3c6cf0" opacity="0.45"/>
<rect x="489.83" y="37.14" width="0.9" height="0.9" fill="#3c6cf0" opacity="0.45"/>
<rect x="483.91" y="35.53" width="0.9" height="0.9" fill="#3c6cf0" opacity="0.45"/>
<rect x="492.7" y="33.56" width="0.9" height="0.9" fill="#3c6cf0" opacity="0.45"/>
<rect x="495.92" y="31.36" width="0.9" height="0.9" fill="#3c6cf0" opacity="0.45"/>
<rect x="485.93" y="38.58" width="0.9" height="0.9" fill="#3c6cf0" opacity="0.45"/>
<rect x="487.48" y="41.08" width="0.9" height="0.9" fill="#3c6cf0" opacity="0.45"/>
<rect x="494.62" y="25.09" width="0.9" height="0.9" fill="#3c6cf0" opacity="0.45"/>
<rect x="495.66" y="28.47" width="0.9" height="0.9" fill="#3c6cf0" opacity="0.45"/>
<rect x="494.33" y="28.43" width="0.9" height="0.9" fill="#3c6cf0" opacity="0.45"/>
<rect x="488.79" y="38.75" width="0.9" height="0.9" fill="#3c6cf0" opacity="0.45"/>
<rect x="490.79" y="34.79" width="0.9" height="0.9" fill="#3c6cf0" opacity="0.45"/>
<rect x="491.12" y="32.81" width="0.9" height="0.9" fill="#3c6cf0" opacity="0.45"/>
<rect x="489.71" y="35.54" width="0.9" height="0.9" fill="#3c6cf0" opacity="0.45"/>
<rect x="492.22" y="32.78" width="0.9" height="0.9" fill="#3c6cf0" opacity="0.45"/>
<rect x="491.91" y="37.63" width="0.9" height="0.9" fill="#3c6cf0" opacity="0.45"/>
<rect x="487.43" y="41.4" width="0.9" height="0.9" fill="#3c6cf0" opacity="0.45"/>
<rect x="494.62" y="25.76" width="0.9" height="0.9" fill="#3c6cf0" opacity="0.45"/>
<rect x="493.3" y="33.98" width="0.9" height="0.9" fill="#3c6cf0" opacity="0.45"/>
<rect x="491.04" y="33.01" width="0.9" height="0.9" fill="#3c6cf0" opacity="0.45"/>
<rect x="494.41" y="29.16" width="0.9" height="0.9" fill="#3c6cf0" opacity="0.45"/>
<rect x="491.48" y="31.91" width="0.9" height="0.9" fill="#3c6cf0" opacity="0.45"/>
<rect x="498.23" y="24.14" width="0.9" height="0.9" fill="#3c6cf0" opacity="0.45"/>
<rect x="490.08" y="36.45" width="0.9" height="0.9" fill="#3c6cf0" opacity="0.45"/>
<rect x="489.95" y="28.69" width="0.9" height="0.9" fill="#3c6cf0" opacity="0.45"/>
<rect x="487.82" y="36.69" width="0.9" height="0.9" fill="#3c6cf0" opacity="0.45"/>
<rect x="485.11" y="39.83" width="0.9" height="0.9" fill="#3c6cf0" opacity="0.45"/>
<rect x="493.57" y="29.81" width="0.9" height="0.9" fill="#3c6cf0" opacity="0.45"/>
<rect x="486.33" y="36.26" width="0.9" height="0.9" fill="#3c6cf0" opacity="0.45"/>
<rect x="486.09" y="36.75" width="0.9" height="0.9" fill="#3c6cf0" opacity="0.45"/>
<rect x="489.48" y="37.79" width="0.9" height="0.9" fill="#3c6cf0" opacity="0.45"/>
<rect x="492.17" y="34.58" width="0.9" height="0.9" fill="#3c6cf0" opacity="0.45"/>
<rect x="492.08" y="31.49" width="0.9" height="0.9" fill="#3c6cf0" opacity="0.45"/>
<rect x="494.6" y="26.62" width="0.9" height="0.9" fill="#3c6cf0" opacity="0.45"/>
<rect x="492.94" y="28.77" width="0.9" height="0.9" fill="#3c6cf0" opacity="0.45"/>
<rect x="487.29" y="32.78" width="0.9" height="0.9" fill="#3c6cf0" opacity="0.45"/>
<rect x="491.9" y="33.14" width="0.9" height="0.9" fill="#3c6cf0" opacity="0.45"/>
<rect x="488.77" y="39.72" width="0.9" height="0.9" fill="#3c6cf0" opacity="0.45"/>
<rect x="493.74" y="32.8" width="0.9" height="0.9" fill="#3c6cf0" opacity="0.45"/>
<rect x="485.74" y="34.43" width="0.9" height="0.9" fill="#3c6cf0" opacity="0.45"/>
<ellipse cx="490" cy="34" rx="2.2" ry="6.05" transform="rotate(40 490 34)" fill="#4a78f4" opacity="0.55"/>
<ellipse cx="491" cy="35" rx="2.6" ry="6" transform="rotate(40 491 35)" fill="#2c68f4"/>
<ellipse cx="491" cy="35" rx="1.82" ry="4.2" transform="rotate(40 491 35)" fill="#38d048"/>
<ellipse cx="491" cy="35" rx="1.04" ry="2.4" transform="rotate(40 491 35)" fill="#f0b820"/>
<ellipse cx="491" cy="35" rx="0.52" ry="1.32" transform="rotate(40 491 35)" fill="#e03010"/>
<ellipse cx="482.5" cy="42" rx="2.6" ry="1.8" transform="rotate(-30 482.5 42)" fill="#2c68f4"/>
<ellipse cx="482.5" cy="42" rx="1.82" ry="1.3" transform="rotate(-30 482.5 42)" fill="#40d048"/>
<rect x="473.4" y="14.1" width="37.4" height="37.8" fill="none" stroke="#1a1a1a" stroke-width="1.1"/>
<line x1="488.3" y1="14.1" x2="488.3" y2="51.9" stroke="#1a1a1a" stroke-width="1.4"/>
<line x1="473.4" y1="37.8" x2="510.8" y2="37.8" stroke="#1a1a1a" stroke-width="1.4"/>
<text x="480.8" y="26.5" font-size="7.4" text-anchor="middle">2.99</text>
<text x="500.8" y="26.5" font-size="7.4" text-anchor="middle">75.9</text>
<text x="480.8" y="51" font-size="7.4" text-anchor="middle">15.8</text>
<text x="500.8" y="51" font-size="7.4" text-anchor="middle">5.26</text>
<text x="492.1" y="11.2" font-size="7.6" text-anchor="middle">Romi + AC220</text>
<text x="471.8" y="19.1" font-size="5.6" text-anchor="end" fill="#222">10<tspan font-size="3.6" dy="-1.9">5</tspan><tspan dy="1.9"></tspan></text>
<line x1="471.9" y1="17.3" x2="473.4" y2="17.3" stroke="#000" stroke-width="0.7"/>
<text x="471.8" y="28.9" font-size="5.6" text-anchor="end" fill="#222">10<tspan font-size="3.6" dy="-1.9">4</tspan><tspan dy="1.9"></tspan></text>
<line x1="471.9" y1="27.1" x2="473.4" y2="27.1" stroke="#000" stroke-width="0.7"/>
<text x="471.8" y="38.5" font-size="5.6" text-anchor="end" fill="#222">10<tspan font-size="3.6" dy="-1.9">3</tspan><tspan dy="1.9"></tspan></text>
<line x1="471.9" y1="36.7" x2="473.4" y2="36.7" stroke="#000" stroke-width="0.7"/>
<text x="471.8" y="45.4" font-size="5.6" text-anchor="end" fill="#222">0</text>
<line x1="471.9" y1="43.6" x2="473.4" y2="43.6" stroke="#000" stroke-width="0.7"/>
<text x="471.8" y="51.4" font-size="5.6" text-anchor="end" fill="#222">&#8722;10<tspan font-size="3.6" dy="-1.9">3</tspan><tspan dy="1.9"></tspan></text>
<line x1="471.9" y1="49.6" x2="473.4" y2="49.6" stroke="#000" stroke-width="0.7"/>
<text x="471.8" y="59.7" font-size="5.6" text-anchor="middle" fill="#222">&#8722;10<tspan font-size="3.6" dy="-1.9">3</tspan><tspan dy="1.9"></tspan></text>
<text x="481.8" y="59.7" font-size="5.6" text-anchor="middle" fill="#222">0</text>
<text x="488" y="59.7" font-size="5.6" text-anchor="middle" fill="#222">10<tspan font-size="3.6" dy="-1.9">3</tspan><tspan dy="1.9"></tspan></text>
<text x="497.6" y="59.7" font-size="5.6" text-anchor="middle" fill="#222">10<tspan font-size="3.6" dy="-1.9">4</tspan><tspan dy="1.9"></tspan></text>
<text x="507.2" y="59.7" font-size="5.6" text-anchor="middle" fill="#222">10<tspan font-size="3.6" dy="-1.9">5</tspan><tspan dy="1.9"></tspan></text>
<line x1="475.4" y1="51.9" x2="475.4" y2="53.4" stroke="#000" stroke-width="0.7"/>
<line x1="482.3" y1="51.9" x2="482.3" y2="53.4" stroke="#000" stroke-width="0.7"/>
<line x1="488.7" y1="51.9" x2="488.7" y2="53.4" stroke="#000" stroke-width="0.7"/>
<line x1="497.9" y1="51.9" x2="497.9" y2="53.4" stroke="#000" stroke-width="0.7"/>
<line x1="507.1" y1="51.9" x2="507.1" y2="53.4" stroke="#000" stroke-width="0.7"/>
<rect x="380.57" y="97.69" width="0.9" height="0.9" fill="#3c6cf0" opacity="0.45"/>
<rect x="379.01" y="99.53" width="0.9" height="0.9" fill="#3c6cf0" opacity="0.45"/>
<rect x="380.02" y="96.77" width="0.9" height="0.9" fill="#3c6cf0" opacity="0.45"/>
<rect x="388.74" y="86.54" width="0.9" height="0.9" fill="#3c6cf0" opacity="0.45"/>
<rect x="377.18" y="99.22" width="0.9" height="0.9" fill="#3c6cf0" opacity="0.45"/>
<rect x="377.19" y="96.16" width="0.9" height="0.9" fill="#3c6cf0" opacity="0.45"/>
<rect x="382.93" y="92.89" width="0.9" height="0.9" fill="#3c6cf0" opacity="0.45"/>
<rect x="381.88" y="95.73" width="0.9" height="0.9" fill="#3c6cf0" opacity="0.45"/>
<rect x="380.89" y="94.2" width="0.9" height="0.9" fill="#3c6cf0" opacity="0.45"/>
<rect x="380.39" y="98.21" width="0.9" height="0.9" fill="#3c6cf0" opacity="0.45"/>
<rect x="376.63" y="99" width="0.9" height="0.9" fill="#3c6cf0" opacity="0.45"/>
<rect x="377.18" y="105.04" width="0.9" height="0.9" fill="#3c6cf0" opacity="0.45"/>
<rect x="380.29" y="93.89" width="0.9" height="0.9" fill="#3c6cf0" opacity="0.45"/>
<rect x="379" y="93.9" width="0.9" height="0.9" fill="#3c6cf0" opacity="0.45"/>
<rect x="386.84" y="92.03" width="0.9" height="0.9" fill="#3c6cf0" opacity="0.45"/>
<rect x="379.94" y="93.63" width="0.9" height="0.9" fill="#3c6cf0" opacity="0.45"/>
<rect x="385.8" y="93.26" width="0.9" height="0.9" fill="#3c6cf0" opacity="0.45"/>
<rect x="390.22" y="86.64" width="0.9" height="0.9" fill="#3c6cf0" opacity="0.45"/>
<rect x="381.16" y="94.59" width="0.9" height="0.9" fill="#3c6cf0" opacity="0.45"/>
<rect x="377.65" y="100.23" width="0.9" height="0.9" fill="#3c6cf0" opacity="0.45"/>
<rect x="388.25" y="86.42" width="0.9" height="0.9" fill="#3c6cf0" opacity="0.45"/>
<rect x="384.94" y="93.68" width="0.9" height="0.9" fill="#3c6cf0" opacity="0.45"/>
<rect x="380.57" y="97.64" width="0.9" height="0.9" fill="#3c6cf0" opacity="0.45"/>
<rect x="378.66" y="100.33" width="0.9" height="0.9" fill="#3c6cf0" opacity="0.45"/>
<rect x="389.47" y="91.38" width="0.9" height="0.9" fill="#3c6cf0" opacity="0.45"/>
<rect x="376.06" y="101.29" width="0.9" height="0.9" fill="#3c6cf0" opacity="0.45"/>
<rect x="378.92" y="97.57" width="0.9" height="0.9" fill="#3c6cf0" opacity="0.45"/>
<rect x="383.77" y="93.59" width="0.9" height="0.9" fill="#3c6cf0" opacity="0.45"/>
<rect x="381.14" y="100.27" width="0.9" height="0.9" fill="#3c6cf0" opacity="0.45"/>
<rect x="379.31" y="97.58" width="0.9" height="0.9" fill="#3c6cf0" opacity="0.45"/>
<rect x="383.18" y="91.07" width="0.9" height="0.9" fill="#3c6cf0" opacity="0.45"/>
<rect x="383.49" y="96.24" width="0.9" height="0.9" fill="#3c6cf0" opacity="0.45"/>
<rect x="379.75" y="95.12" width="0.9" height="0.9" fill="#3c6cf0" opacity="0.45"/>
<rect x="378.82" y="99.5" width="0.9" height="0.9" fill="#3c6cf0" opacity="0.45"/>
<rect x="384.56" y="95.31" width="0.9" height="0.9" fill="#3c6cf0" opacity="0.45"/>
<rect x="382.34" y="93.96" width="0.9" height="0.9" fill="#3c6cf0" opacity="0.45"/>
<rect x="377.56" y="99.37" width="0.9" height="0.9" fill="#3c6cf0" opacity="0.45"/>
<rect x="380.15" y="101.28" width="0.9" height="0.9" fill="#3c6cf0" opacity="0.45"/>
<rect x="383.75" y="94.69" width="0.9" height="0.9" fill="#3c6cf0" opacity="0.45"/>
<rect x="384.73" y="95.01" width="0.9" height="0.9" fill="#3c6cf0" opacity="0.45"/>
<rect x="388.09" y="89.99" width="0.9" height="0.9" fill="#3c6cf0" opacity="0.45"/>
<rect x="377.39" y="99.06" width="0.9" height="0.9" fill="#3c6cf0" opacity="0.45"/>
<rect x="385.98" y="88.98" width="0.9" height="0.9" fill="#3c6cf0" opacity="0.45"/>
<rect x="376.99" y="100.1" width="0.9" height="0.9" fill="#3c6cf0" opacity="0.45"/>
<rect x="385.44" y="95.65" width="0.9" height="0.9" fill="#3c6cf0" opacity="0.45"/>
<rect x="382.26" y="94.06" width="0.9" height="0.9" fill="#3c6cf0" opacity="0.45"/>
<rect x="381.23" y="93.96" width="0.9" height="0.9" fill="#3c6cf0" opacity="0.45"/>
<rect x="386.83" y="89.93" width="0.9" height="0.9" fill="#3c6cf0" opacity="0.45"/>
<rect x="382.6" y="93.47" width="0.9" height="0.9" fill="#3c6cf0" opacity="0.45"/>
<rect x="385" y="90.37" width="0.9" height="0.9" fill="#3c6cf0" opacity="0.45"/>
<rect x="377.59" y="102.15" width="0.9" height="0.9" fill="#3c6cf0" opacity="0.45"/>
<rect x="383.5" y="93.29" width="0.9" height="0.9" fill="#3c6cf0" opacity="0.45"/>
<rect x="383.85" y="94.89" width="0.9" height="0.9" fill="#3c6cf0" opacity="0.45"/>
<rect x="377.1" y="98.46" width="0.9" height="0.9" fill="#3c6cf0" opacity="0.45"/>
<rect x="383.54" y="91.38" width="0.9" height="0.9" fill="#3c6cf0" opacity="0.45"/>
<rect x="384.49" y="91.36" width="0.9" height="0.9" fill="#3c6cf0" opacity="0.45"/>
<rect x="380.37" y="96.54" width="0.9" height="0.9" fill="#3c6cf0" opacity="0.45"/>
<rect x="382.17" y="98.89" width="0.9" height="0.9" fill="#3c6cf0" opacity="0.45"/>
<rect x="386.52" y="91.06" width="0.9" height="0.9" fill="#3c6cf0" opacity="0.45"/>
<rect x="385.42" y="91.93" width="0.9" height="0.9" fill="#3c6cf0" opacity="0.45"/>
<rect x="379.27" y="97.99" width="0.9" height="0.9" fill="#3c6cf0" opacity="0.45"/>
<rect x="383.42" y="94.58" width="0.9" height="0.9" fill="#3c6cf0" opacity="0.45"/>
<rect x="381.64" y="94" width="0.9" height="0.9" fill="#3c6cf0" opacity="0.45"/>
<rect x="385.59" y="92.18" width="0.9" height="0.9" fill="#3c6cf0" opacity="0.45"/>
<rect x="379.07" y="97.18" width="0.9" height="0.9" fill="#3c6cf0" opacity="0.45"/>
<rect x="381.85" y="91.54" width="0.9" height="0.9" fill="#3c6cf0" opacity="0.45"/>
<rect x="376.14" y="98.48" width="0.9" height="0.9" fill="#3c6cf0" opacity="0.45"/>
<rect x="381.61" y="97.39" width="0.9" height="0.9" fill="#3c6cf0" opacity="0.45"/>
<rect x="382.08" y="96.4" width="0.9" height="0.9" fill="#3c6cf0" opacity="0.45"/>
<rect x="387.91" y="90.32" width="0.9" height="0.9" fill="#3c6cf0" opacity="0.45"/>
<rect x="380.93" y="97.21" width="0.9" height="0.9" fill="#3c6cf0" opacity="0.45"/>
<rect x="378.11" y="95.86" width="0.9" height="0.9" fill="#3c6cf0" opacity="0.45"/>
<rect x="388.17" y="90.98" width="0.9" height="0.9" fill="#3c6cf0" opacity="0.45"/>
<rect x="382.89" y="93.44" width="0.9" height="0.9" fill="#3c6cf0" opacity="0.45"/>
<rect x="380.6" y="95.59" width="0.9" height="0.9" fill="#3c6cf0" opacity="0.45"/>
<rect x="381.63" y="92.71" width="0.9" height="0.9" fill="#3c6cf0" opacity="0.45"/>
<rect x="380.47" y="97.58" width="0.9" height="0.9" fill="#3c6cf0" opacity="0.45"/>
<rect x="383.33" y="94.29" width="0.9" height="0.9" fill="#3c6cf0" opacity="0.45"/>
<rect x="389.69" y="89.52" width="0.9" height="0.9" fill="#3c6cf0" opacity="0.45"/>
<rect x="384.63" y="95.18" width="0.9" height="0.9" fill="#3c6cf0" opacity="0.45"/>
<rect x="382.32" y="92.09" width="0.9" height="0.9" fill="#3c6cf0" opacity="0.45"/>
<rect x="386.74" y="86.23" width="0.9" height="0.9" fill="#3c6cf0" opacity="0.45"/>
<rect x="384.57" y="92.12" width="0.9" height="0.9" fill="#3c6cf0" opacity="0.45"/>
<rect x="386.23" y="93.09" width="0.9" height="0.9" fill="#3c6cf0" opacity="0.45"/>
<rect x="383.95" y="90.35" width="0.9" height="0.9" fill="#3c6cf0" opacity="0.45"/>
<rect x="384.54" y="97.2" width="0.9" height="0.9" fill="#3c6cf0" opacity="0.45"/>
<rect x="384.89" y="91.09" width="0.9" height="0.9" fill="#3c6cf0" opacity="0.45"/>
<rect x="381.66" y="93.12" width="0.9" height="0.9" fill="#3c6cf0" opacity="0.45"/>
<rect x="379.37" y="99.19" width="0.9" height="0.9" fill="#3c6cf0" opacity="0.45"/>
<rect x="383.05" y="97.28" width="0.9" height="0.9" fill="#3c6cf0" opacity="0.45"/>
<ellipse cx="382.5" cy="95" rx="1.93" ry="4.95" transform="rotate(45 382.5 95)" fill="#4a78f4" opacity="0.55"/>
<ellipse cx="372.3" cy="104.2" rx="3.2" ry="2.1" transform="rotate(-20 372.3 104.2)" fill="#2a5cf0"/>
<ellipse cx="372.3" cy="104.2" rx="2.08" ry="1.3" transform="rotate(-20 372.3 104.2)" fill="#30c8a0"/>
<ellipse cx="372.6" cy="104.2" rx="1.22" ry="0.73" transform="rotate(-20 372.6 104.2)" fill="#c8e020"/>
<rect x="361.2" y="75.6" width="38.4" height="38.1" fill="none" stroke="#1a1a1a" stroke-width="1.1"/>
<line x1="377.1" y1="75.6" x2="377.1" y2="113.7" stroke="#1a1a1a" stroke-width="1.4"/>
<line x1="361.2" y1="99.8" x2="399.6" y2="99.8" stroke="#1a1a1a" stroke-width="1.4"/>
<text x="368.6" y="88" font-size="7.4" text-anchor="middle">0.72</text>
<text x="388.6" y="88" font-size="7.4" text-anchor="middle">13.2</text>
<text x="368.6" y="112.5" font-size="7.4" text-anchor="middle">83.9</text>
<text x="388.6" y="112.5" font-size="7.4" text-anchor="middle">2.23</text>
<text x="380.4" y="72.7" font-size="8.3" text-anchor="middle">AC220</text>
<text x="359.6" y="80.6" font-size="5.6" text-anchor="end" fill="#222">10<tspan font-size="3.6" dy="-1.9">5</tspan><tspan dy="1.9"></tspan></text>
<line x1="359.7" y1="78.8" x2="361.2" y2="78.8" stroke="#000" stroke-width="0.7"/>
<text x="359.6" y="90.4" font-size="5.6" text-anchor="end" fill="#222">10<tspan font-size="3.6" dy="-1.9">4</tspan><tspan dy="1.9"></tspan></text>
<line x1="359.7" y1="88.6" x2="361.2" y2="88.6" stroke="#000" stroke-width="0.7"/>
<text x="359.6" y="100" font-size="5.6" text-anchor="end" fill="#222">10<tspan font-size="3.6" dy="-1.9">3</tspan><tspan dy="1.9"></tspan></text>
<line x1="359.7" y1="98.2" x2="361.2" y2="98.2" stroke="#000" stroke-width="0.7"/>
<text x="359.6" y="106.9" font-size="5.6" text-anchor="end" fill="#222">0</text>
<line x1="359.7" y1="105.1" x2="361.2" y2="105.1" stroke="#000" stroke-width="0.7"/>
<text x="359.6" y="112.9" font-size="5.6" text-anchor="end" fill="#222">&#8722;10<tspan font-size="3.6" dy="-1.9">3</tspan><tspan dy="1.9"></tspan></text>
<line x1="359.7" y1="111.1" x2="361.2" y2="111.1" stroke="#000" stroke-width="0.7"/>
<text x="359.6" y="121.5" font-size="5.6" text-anchor="middle" fill="#222">&#8722;10<tspan font-size="3.6" dy="-1.9">3</tspan><tspan dy="1.9"></tspan></text>
<text x="369.6" y="121.5" font-size="5.6" text-anchor="middle" fill="#222">0</text>
<text x="375.8" y="121.5" font-size="5.6" text-anchor="middle" fill="#222">10<tspan font-size="3.6" dy="-1.9">3</tspan><tspan dy="1.9"></tspan></text>
<text x="385.4" y="121.5" font-size="5.6" text-anchor="middle" fill="#222">10<tspan font-size="3.6" dy="-1.9">4</tspan><tspan dy="1.9"></tspan></text>
<text x="395" y="121.5" font-size="5.6" text-anchor="middle" fill="#222">10<tspan font-size="3.6" dy="-1.9">5</tspan><tspan dy="1.9"></tspan></text>
<line x1="363.2" y1="113.7" x2="363.2" y2="115.2" stroke="#000" stroke-width="0.7"/>
<line x1="370.1" y1="113.7" x2="370.1" y2="115.2" stroke="#000" stroke-width="0.7"/>
<line x1="376.5" y1="113.7" x2="376.5" y2="115.2" stroke="#000" stroke-width="0.7"/>
<line x1="385.7" y1="113.7" x2="385.7" y2="115.2" stroke="#000" stroke-width="0.7"/>
<line x1="394.9" y1="113.7" x2="394.9" y2="115.2" stroke="#000" stroke-width="0.7"/>
<rect x="439.92" y="91.95" width="0.9" height="0.9" fill="#3c6cf0" opacity="0.45"/>
<rect x="438.38" y="89.4" width="0.9" height="0.9" fill="#3c6cf0" opacity="0.45"/>
<rect x="439.6" y="94.94" width="0.9" height="0.9" fill="#3c6cf0" opacity="0.45"/>
<rect x="442.74" y="91.67" width="0.9" height="0.9" fill="#3c6cf0" opacity="0.45"/>
<rect x="438.17" y="97.55" width="0.9" height="0.9" fill="#3c6cf0" opacity="0.45"/>
<rect x="436.78" y="96.83" width="0.9" height="0.9" fill="#3c6cf0" opacity="0.45"/>
<rect x="437.01" y="90.96" width="0.9" height="0.9" fill="#3c6cf0" opacity="0.45"/>
<rect x="431.12" y="100.16" width="0.9" height="0.9" fill="#3c6cf0" opacity="0.45"/>
<rect x="439.38" y="93.67" width="0.9" height="0.9" fill="#3c6cf0" opacity="0.45"/>
<rect x="442.41" y="93.2" width="0.9" height="0.9" fill="#3c6cf0" opacity="0.45"/>
<rect x="442" y="95.02" width="0.9" height="0.9" fill="#3c6cf0" opacity="0.45"/>
<rect x="440.84" y="92.51" width="0.9" height="0.9" fill="#3c6cf0" opacity="0.45"/>
<rect x="445.91" y="89.59" width="0.9" height="0.9" fill="#3c6cf0" opacity="0.45"/>
<rect x="441.46" y="93.75" width="0.9" height="0.9" fill="#3c6cf0" opacity="0.45"/>
<rect x="441.72" y="91.9" width="0.9" height="0.9" fill="#3c6cf0" opacity="0.45"/>
<rect x="437.69" y="96.38" width="0.9" height="0.9" fill="#3c6cf0" opacity="0.45"/>
<rect x="437.73" y="97.23" width="0.9" height="0.9" fill="#3c6cf0" opacity="0.45"/>
<rect x="435.61" y="99.43" width="0.9" height="0.9" fill="#3c6cf0" opacity="0.45"/>
<rect x="441.27" y="91.27" width="0.9" height="0.9" fill="#3c6cf0" opacity="0.45"/>
<rect x="434.25" y="96.08" width="0.9" height="0.9" fill="#3c6cf0" opacity="0.45"/>
<rect x="434.19" y="98.38" width="0.9" height="0.9" fill="#3c6cf0" opacity="0.45"/>
<rect x="441.28" y="92.34" width="0.9" height="0.9" fill="#3c6cf0" opacity="0.45"/>
<rect x="432.94" y="102.8" width="0.9" height="0.9" fill="#3c6cf0" opacity="0.45"/>
<rect x="440.76" y="92.29" width="0.9" height="0.9" fill="#3c6cf0" opacity="0.45"/>
<rect x="434.12" y="97.28" width="0.9" height="0.9" fill="#3c6cf0" opacity="0.45"/>
<rect x="438.57" y="93.49" width="0.9" height="0.9" fill="#3c6cf0" opacity="0.45"/>
<rect x="438.81" y="96.38" width="0.9" height="0.9" fill="#3c6cf0" opacity="0.45"/>
<rect x="439.88" y="93.91" width="0.9" height="0.9" fill="#3c6cf0" opacity="0.45"/>
<rect x="436.69" y="95.23" width="0.9" height="0.9" fill="#3c6cf0" opacity="0.45"/>
<rect x="436.31" y="97.58" width="0.9" height="0.9" fill="#3c6cf0" opacity="0.45"/>
<rect x="436.28" y="95.98" width="0.9" height="0.9" fill="#3c6cf0" opacity="0.45"/>
<rect x="438.32" y="96.35" width="0.9" height="0.9" fill="#3c6cf0" opacity="0.45"/>
<rect x="435.49" y="99.42" width="0.9" height="0.9" fill="#3c6cf0" opacity="0.45"/>
<rect x="438" y="95.99" width="0.9" height="0.9" fill="#3c6cf0" opacity="0.45"/>
<rect x="435.76" y="95.35" width="0.9" height="0.9" fill="#3c6cf0" opacity="0.45"/>
<rect x="438.87" y="94.4" width="0.9" height="0.9" fill="#3c6cf0" opacity="0.45"/>
<rect x="435.15" y="96.3" width="0.9" height="0.9" fill="#3c6cf0" opacity="0.45"/>
<rect x="439.79" y="100.04" width="0.9" height="0.9" fill="#3c6cf0" opacity="0.45"/>
<rect x="436.72" y="97" width="0.9" height="0.9" fill="#3c6cf0" opacity="0.45"/>
<rect x="436.96" y="95.07" width="0.9" height="0.9" fill="#3c6cf0" opacity="0.45"/>
<rect x="439.22" y="92.64" width="0.9" height="0.9" fill="#3c6cf0" opacity="0.45"/>
<rect x="437.56" y="96.52" width="0.9" height="0.9" fill="#3c6cf0" opacity="0.45"/>
<rect x="440.39" y="92.83" width="0.9" height="0.9" fill="#3c6cf0" opacity="0.45"/>
<rect x="441.79" y="92.37" width="0.9" height="0.9" fill="#3c6cf0" opacity="0.45"/>
<rect x="440.06" y="95.35" width="0.9" height="0.9" fill="#3c6cf0" opacity="0.45"/>
<rect x="435.5" y="98" width="0.9" height="0.9" fill="#3c6cf0" opacity="0.45"/>
<rect x="442.81" y="92.07" width="0.9" height="0.9" fill="#3c6cf0" opacity="0.45"/>
<rect x="436.52" y="96.36" width="0.9" height="0.9" fill="#3c6cf0" opacity="0.45"/>
<rect x="444.31" y="86.5" width="0.9" height="0.9" fill="#3c6cf0" opacity="0.45"/>
<rect x="438.06" y="95.26" width="0.9" height="0.9" fill="#3c6cf0" opacity="0.45"/>
<rect x="438.27" y="96.29" width="0.9" height="0.9" fill="#3c6cf0" opacity="0.45"/>
<rect x="437.4" y="96.42" width="0.9" height="0.9" fill="#3c6cf0" opacity="0.45"/>
<rect x="438.16" y="98.74" width="0.9" height="0.9" fill="#3c6cf0" opacity="0.45"/>
<rect x="439.92" y="94.92" width="0.9" height="0.9" fill="#3c6cf0" opacity="0.45"/>
<rect x="439.98" y="96.3" width="0.9" height="0.9" fill="#3c6cf0" opacity="0.45"/>
<rect x="445.62" y="89.71" width="0.9" height="0.9" fill="#3c6cf0" opacity="0.45"/>
<rect x="438.61" y="95.5" width="0.9" height="0.9" fill="#3c6cf0" opacity="0.45"/>
<rect x="433.34" y="99.02" width="0.9" height="0.9" fill="#3c6cf0" opacity="0.45"/>
<rect x="438.95" y="95.55" width="0.9" height="0.9" fill="#3c6cf0" opacity="0.45"/>
<rect x="431.38" y="100.82" width="0.9" height="0.9" fill="#3c6cf0" opacity="0.45"/>
<rect x="436.84" y="98.51" width="0.9" height="0.9" fill="#3c6cf0" opacity="0.45"/>
<rect x="432.91" y="98.7" width="0.9" height="0.9" fill="#3c6cf0" opacity="0.45"/>
<rect x="439.55" y="95.33" width="0.9" height="0.9" fill="#3c6cf0" opacity="0.45"/>
<rect x="443.04" y="90.2" width="0.9" height="0.9" fill="#3c6cf0" opacity="0.45"/>
<rect x="442.27" y="92.84" width="0.9" height="0.9" fill="#3c6cf0" opacity="0.45"/>
<rect x="440.44" y="95.14" width="0.9" height="0.9" fill="#3c6cf0" opacity="0.45"/>
<rect x="436.06" y="95.9" width="0.9" height="0.9" fill="#3c6cf0" opacity="0.45"/>
<rect x="441.84" y="92.18" width="0.9" height="0.9" fill="#3c6cf0" opacity="0.45"/>
<rect x="435.98" y="97.33" width="0.9" height="0.9" fill="#3c6cf0" opacity="0.45"/>
<rect x="441.96" y="90.92" width="0.9" height="0.9" fill="#3c6cf0" opacity="0.45"/>
<rect x="440.75" y="92.15" width="0.9" height="0.9" fill="#3c6cf0" opacity="0.45"/>
<rect x="437.14" y="94.94" width="0.9" height="0.9" fill="#3c6cf0" opacity="0.45"/>
<rect x="438.6" y="94.77" width="0.9" height="0.9" fill="#3c6cf0" opacity="0.45"/>
<rect x="434.85" y="94.57" width="0.9" height="0.9" fill="#3c6cf0" opacity="0.45"/>
<rect x="439.04" y="93.96" width="0.9" height="0.9" fill="#3c6cf0" opacity="0.45"/>
<rect x="432.08" y="101.8" width="0.9" height="0.9" fill="#3c6cf0" opacity="0.45"/>
<rect x="441.51" y="88.81" width="0.9" height="0.9" fill="#3c6cf0" opacity="0.45"/>
<rect x="441.44" y="93.94" width="0.9" height="0.9" fill="#3c6cf0" opacity="0.45"/>
<rect x="442.72" y="93.98" width="0.9" height="0.9" fill="#3c6cf0" opacity="0.45"/>
<rect x="434.76" y="97.55" width="0.9" height="0.9" fill="#3c6cf0" opacity="0.45"/>
<rect x="437.72" y="98.03" width="0.9" height="0.9" fill="#3c6cf0" opacity="0.45"/>
<rect x="438.97" y="95.65" width="0.9" height="0.9" fill="#3c6cf0" opacity="0.45"/>
<rect x="438.1" y="94.31" width="0.9" height="0.9" fill="#3c6cf0" opacity="0.45"/>
<rect x="437.32" y="99.31" width="0.9" height="0.9" fill="#3c6cf0" opacity="0.45"/>
<rect x="437.02" y="96.53" width="0.9" height="0.9" fill="#3c6cf0" opacity="0.45"/>
<rect x="435.27" y="100.27" width="0.9" height="0.9" fill="#3c6cf0" opacity="0.45"/>
<rect x="438.09" y="95.09" width="0.9" height="0.9" fill="#3c6cf0" opacity="0.45"/>
<rect x="430.15" y="104.16" width="0.9" height="0.9" fill="#3c6cf0" opacity="0.45"/>
<rect x="434.28" y="99.82" width="0.9" height="0.9" fill="#3c6cf0" opacity="0.45"/>
<rect x="433.43" y="96.3" width="0.9" height="0.9" fill="#3c6cf0" opacity="0.45"/>
<ellipse cx="438" cy="95.5" rx="1.93" ry="4.95" transform="rotate(45 438 95.5)" fill="#4a78f4" opacity="0.55"/>
<ellipse cx="427.5" cy="104.5" rx="3.2" ry="2.1" transform="rotate(-20 427.5 104.5)" fill="#2a5cf0"/>
<ellipse cx="427.5" cy="104.5" rx="2.08" ry="1.3" transform="rotate(-20 427.5 104.5)" fill="#30c8a0"/>
<ellipse cx="427.8" cy="104.5" rx="1.22" ry="0.73" transform="rotate(-20 427.8 104.5)" fill="#c8e020"/>
<rect x="416.3" y="75.5" width="38.5" height="38.2" fill="none" stroke="#1a1a1a" stroke-width="1.1"/>
<line x1="432.5" y1="75.5" x2="432.5" y2="113.7" stroke="#1a1a1a" stroke-width="1.4"/>
<line x1="416.3" y1="99.8" x2="454.8" y2="99.8" stroke="#1a1a1a" stroke-width="1.4"/>
<text x="423.7" y="87.9" font-size="7.4" text-anchor="middle">0.63</text>
<text x="443.7" y="87.9" font-size="7.4" text-anchor="middle">12.3</text>
<text x="423.7" y="112.4" font-size="7.4" text-anchor="middle">84.3</text>
<text x="443.7" y="112.4" font-size="7.4" text-anchor="middle">2.70</text>
<text x="435.55" y="72.6" font-size="8.3" text-anchor="middle">JQ1</text>
<text x="414.7" y="80.5" font-size="5.6" text-anchor="end" fill="#222">10<tspan font-size="3.6" dy="-1.9">5</tspan><tspan dy="1.9"></tspan></text>
<line x1="414.8" y1="78.7" x2="416.3" y2="78.7" stroke="#000" stroke-width="0.7"/>
<text x="414.7" y="90.3" font-size="5.6" text-anchor="end" fill="#222">10<tspan font-size="3.6" dy="-1.9">4</tspan><tspan dy="1.9"></tspan></text>
<line x1="414.8" y1="88.5" x2="416.3" y2="88.5" stroke="#000" stroke-width="0.7"/>
<text x="414.7" y="99.9" font-size="5.6" text-anchor="end" fill="#222">10<tspan font-size="3.6" dy="-1.9">3</tspan><tspan dy="1.9"></tspan></text>
<line x1="414.8" y1="98.1" x2="416.3" y2="98.1" stroke="#000" stroke-width="0.7"/>
<text x="414.7" y="106.8" font-size="5.6" text-anchor="end" fill="#222">0</text>
<line x1="414.8" y1="105" x2="416.3" y2="105" stroke="#000" stroke-width="0.7"/>
<text x="414.7" y="112.8" font-size="5.6" text-anchor="end" fill="#222">&#8722;10<tspan font-size="3.6" dy="-1.9">3</tspan><tspan dy="1.9"></tspan></text>
<line x1="414.8" y1="111" x2="416.3" y2="111" stroke="#000" stroke-width="0.7"/>
<text x="414.7" y="121.5" font-size="5.6" text-anchor="middle" fill="#222">&#8722;10<tspan font-size="3.6" dy="-1.9">3</tspan><tspan dy="1.9"></tspan></text>
<text x="424.7" y="121.5" font-size="5.6" text-anchor="middle" fill="#222">0</text>
<text x="430.9" y="121.5" font-size="5.6" text-anchor="middle" fill="#222">10<tspan font-size="3.6" dy="-1.9">3</tspan><tspan dy="1.9"></tspan></text>
<text x="440.5" y="121.5" font-size="5.6" text-anchor="middle" fill="#222">10<tspan font-size="3.6" dy="-1.9">4</tspan><tspan dy="1.9"></tspan></text>
<text x="450.1" y="121.5" font-size="5.6" text-anchor="middle" fill="#222">10<tspan font-size="3.6" dy="-1.9">5</tspan><tspan dy="1.9"></tspan></text>
<line x1="418.3" y1="113.7" x2="418.3" y2="115.2" stroke="#000" stroke-width="0.7"/>
<line x1="425.2" y1="113.7" x2="425.2" y2="115.2" stroke="#000" stroke-width="0.7"/>
<line x1="431.6" y1="113.7" x2="431.6" y2="115.2" stroke="#000" stroke-width="0.7"/>
<line x1="440.8" y1="113.7" x2="440.8" y2="115.2" stroke="#000" stroke-width="0.7"/>
<line x1="450" y1="113.7" x2="450" y2="115.2" stroke="#000" stroke-width="0.7"/>
<rect x="495.74" y="88.04" width="0.9" height="0.9" fill="#3c6cf0" opacity="0.45"/>
<rect x="493.46" y="93.44" width="0.9" height="0.9" fill="#3c6cf0" opacity="0.45"/>
<rect x="492.9" y="96.93" width="0.9" height="0.9" fill="#3c6cf0" opacity="0.45"/>
<rect x="496.06" y="93.33" width="0.9" height="0.9" fill="#3c6cf0" opacity="0.45"/>
<rect x="496.93" y="100.52" width="0.9" height="0.9" fill="#3c6cf0" opacity="0.45"/>
<rect x="487.4" y="105.19" width="0.9" height="0.9" fill="#3c6cf0" opacity="0.45"/>
<rect x="493.44" y="99.03" width="0.9" height="0.9" fill="#3c6cf0" opacity="0.45"/>
<rect x="487.4" y="103.98" width="0.9" height="0.9" fill="#3c6cf0" opacity="0.45"/>
<rect x="495.82" y="89.08" width="0.9" height="0.9" fill="#3c6cf0" opacity="0.45"/>
<rect x="502.05" y="85.92" width="0.9" height="0.9" fill="#3c6cf0" opacity="0.45"/>
<rect x="488.35" y="99.03" width="0.9" height="0.9" fill="#3c6cf0" opacity="0.45"/>
<rect x="492.59" y="95.09" width="0.9" height="0.9" fill="#3c6cf0" opacity="0.45"/>
<rect x="499.64" y="90.69" width="0.9" height="0.9" fill="#3c6cf0" opacity="0.45"/>
<rect x="496.87" y="92.52" width="0.9" height="0.9" fill="#3c6cf0" opacity="0.45"/>
<rect x="493.18" y="92.18" width="0.9" height="0.9" fill="#3c6cf0" opacity="0.45"/>
<rect x="495.44" y="93.09" width="0.9" height="0.9" fill="#3c6cf0" opacity="0.45"/>
<rect x="489.22" y="98.41" width="0.9" height="0.9" fill="#3c6cf0" opacity="0.45"/>
<rect x="493.84" y="99.19" width="0.9" height="0.9" fill="#3c6cf0" opacity="0.45"/>
<rect x="497.86" y="90.06" width="0.9" height="0.9" fill="#3c6cf0" opacity="0.45"/>
<rect x="496.83" y="88.79" width="0.9" height="0.9" fill="#3c6cf0" opacity="0.45"/>
<rect x="490.86" y="99.46" width="0.9" height="0.9" fill="#3c6cf0" opacity="0.45"/>
<rect x="495.65" y="96.2" width="0.9" height="0.9" fill="#3c6cf0" opacity="0.45"/>
<rect x="492.66" y="95.26" width="0.9" height="0.9" fill="#3c6cf0" opacity="0.45"/>
<rect x="491.94" y="97.88" width="0.9" height="0.9" fill="#3c6cf0" opacity="0.45"/>
<rect x="499.13" y="94" width="0.9" height="0.9" fill="#3c6cf0" opacity="0.45"/>
<rect x="505.59" y="88.44" width="0.9" height="0.9" fill="#3c6cf0" opacity="0.45"/>
<rect x="496.74" y="85.56" width="0.9" height="0.9" fill="#3c6cf0" opacity="0.45"/>
<rect x="493.14" y="92.47" width="0.9" height="0.9" fill="#3c6cf0" opacity="0.45"/>
<rect x="500.2" y="94.78" width="0.9" height="0.9" fill="#3c6cf0" opacity="0.45"/>
<rect x="497.27" y="94.93" width="0.9" height="0.9" fill="#3c6cf0" opacity="0.45"/>
<rect x="498.16" y="90.57" width="0.9" height="0.9" fill="#3c6cf0" opacity="0.45"/>
<rect x="498.02" y="98.08" width="0.9" height="0.9" fill="#3c6cf0" opacity="0.45"/>
<rect x="484.27" y="104.47" width="0.9" height="0.9" fill="#3c6cf0" opacity="0.45"/>
<rect x="492.72" y="97.15" width="0.9" height="0.9" fill="#3c6cf0" opacity="0.45"/>
<rect x="496.92" y="91.01" width="0.9" height="0.9" fill="#3c6cf0" opacity="0.45"/>
<rect x="492.23" y="92.15" width="0.9" height="0.9" fill="#3c6cf0" opacity="0.45"/>
<rect x="495.15" y="99.23" width="0.9" height="0.9" fill="#3c6cf0" opacity="0.45"/>
<rect x="489.65" y="99.58" width="0.9" height="0.9" fill="#3c6cf0" opacity="0.45"/>
<rect x="487.15" y="99.93" width="0.9" height="0.9" fill="#3c6cf0" opacity="0.45"/>
<rect x="497.15" y="91.19" width="0.9" height="0.9" fill="#3c6cf0" opacity="0.45"/>
<rect x="493.19" y="98.32" width="0.9" height="0.9" fill="#3c6cf0" opacity="0.45"/>
<rect x="492.59" y="95.49" width="0.9" height="0.9" fill="#3c6cf0" opacity="0.45"/>
<rect x="490.3" y="102.8" width="0.9" height="0.9" fill="#3c6cf0" opacity="0.45"/>
<rect x="502.6" y="81.81" width="0.9" height="0.9" fill="#3c6cf0" opacity="0.45"/>
<rect x="498.5" y="96.73" width="0.9" height="0.9" fill="#3c6cf0" opacity="0.45"/>
<rect x="491.65" y="96.36" width="0.9" height="0.9" fill="#3c6cf0" opacity="0.45"/>
<rect x="489.29" y="99.13" width="0.9" height="0.9" fill="#3c6cf0" opacity="0.45"/>
<rect x="492.66" y="92.28" width="0.9" height="0.9" fill="#3c6cf0" opacity="0.45"/>
<rect x="486.03" y="100.14" width="0.9" height="0.9" fill="#3c6cf0" opacity="0.45"/>
<rect x="489.38" y="99.65" width="0.9" height="0.9" fill="#3c6cf0" opacity="0.45"/>
<rect x="500.94" y="91.54" width="0.9" height="0.9" fill="#3c6cf0" opacity="0.45"/>
<rect x="490.87" y="97.96" width="0.9" height="0.9" fill="#3c6cf0" opacity="0.45"/>
<rect x="494.6" y="94.46" width="0.9" height="0.9" fill="#3c6cf0" opacity="0.45"/>
<rect x="491.95" y="100.36" width="0.9" height="0.9" fill="#3c6cf0" opacity="0.45"/>
<rect x="493.51" y="93.53" width="0.9" height="0.9" fill="#3c6cf0" opacity="0.45"/>
<rect x="494.3" y="96.89" width="0.9" height="0.9" fill="#3c6cf0" opacity="0.45"/>
<rect x="498.53" y="90.1" width="0.9" height="0.9" fill="#3c6cf0" opacity="0.45"/>
<rect x="497.88" y="96.47" width="0.9" height="0.9" fill="#3c6cf0" opacity="0.45"/>
<rect x="494.59" y="95.22" width="0.9" height="0.9" fill="#3c6cf0" opacity="0.45"/>
<rect x="493.53" y="95.78" width="0.9" height="0.9" fill="#3c6cf0" opacity="0.45"/>
<rect x="491.13" y="95.52" width="0.9" height="0.9" fill="#3c6cf0" opacity="0.45"/>
<rect x="494.52" y="98.55" width="0.9" height="0.9" fill="#3c6cf0" opacity="0.45"/>
<rect x="493.39" y="98.25" width="0.9" height="0.9" fill="#3c6cf0" opacity="0.45"/>
<rect x="487.11" y="103.32" width="0.9" height="0.9" fill="#3c6cf0" opacity="0.45"/>
<rect x="491.36" y="95.78" width="0.9" height="0.9" fill="#3c6cf0" opacity="0.45"/>
<rect x="494.64" y="97.8" width="0.9" height="0.9" fill="#3c6cf0" opacity="0.45"/>
<rect x="496.35" y="88.54" width="0.9" height="0.9" fill="#3c6cf0" opacity="0.45"/>
<rect x="500.34" y="92.88" width="0.9" height="0.9" fill="#3c6cf0" opacity="0.45"/>
<rect x="491.93" y="97.49" width="0.9" height="0.9" fill="#3c6cf0" opacity="0.45"/>
<rect x="500.96" y="87.03" width="0.9" height="0.9" fill="#3c6cf0" opacity="0.45"/>
<rect x="491.16" y="91.8" width="0.9" height="0.9" fill="#3c6cf0" opacity="0.45"/>
<rect x="493.68" y="92.7" width="0.9" height="0.9" fill="#3c6cf0" opacity="0.45"/>
<rect x="493.53" y="95.87" width="0.9" height="0.9" fill="#3c6cf0" opacity="0.45"/>
<rect x="498.15" y="85.41" width="0.9" height="0.9" fill="#3c6cf0" opacity="0.45"/>
<rect x="498.02" y="93.48" width="0.9" height="0.9" fill="#3c6cf0" opacity="0.45"/>
<rect x="499.64" y="84.21" width="0.9" height="0.9" fill="#3c6cf0" opacity="0.45"/>
<rect x="499.74" y="90.02" width="0.9" height="0.9" fill="#3c6cf0" opacity="0.45"/>
<rect x="489.82" y="96.34" width="0.9" height="0.9" fill="#3c6cf0" opacity="0.45"/>
<rect x="492.37" y="98.01" width="0.9" height="0.9" fill="#3c6cf0" opacity="0.45"/>
<rect x="502.81" y="80.1" width="0.9" height="0.9" fill="#3c6cf0" opacity="0.45"/>
<rect x="493.46" y="92.21" width="0.9" height="0.9" fill="#3c6cf0" opacity="0.45"/>
<rect x="489.46" y="98.11" width="0.9" height="0.9" fill="#3c6cf0" opacity="0.45"/>
<rect x="498.62" y="90.75" width="0.9" height="0.9" fill="#3c6cf0" opacity="0.45"/>
<rect x="495.54" y="95.14" width="0.9" height="0.9" fill="#3c6cf0" opacity="0.45"/>
<rect x="488.87" y="99.43" width="0.9" height="0.9" fill="#3c6cf0" opacity="0.45"/>
<rect x="487.18" y="97.32" width="0.9" height="0.9" fill="#3c6cf0" opacity="0.45"/>
<rect x="503.75" y="87.17" width="0.9" height="0.9" fill="#3c6cf0" opacity="0.45"/>
<rect x="494.3" y="93.98" width="0.9" height="0.9" fill="#3c6cf0" opacity="0.45"/>
<rect x="494.26" y="90.75" width="0.9" height="0.9" fill="#3c6cf0" opacity="0.45"/>
<rect x="492.36" y="94.12" width="0.9" height="0.9" fill="#3c6cf0" opacity="0.45"/>
<ellipse cx="494" cy="95" rx="2.48" ry="6.6" transform="rotate(40 494 95)" fill="#4a78f4" opacity="0.55"/>
<ellipse cx="494.5" cy="93.5" rx="2.2" ry="6.5" transform="rotate(40 494.5 93.5)" fill="#2c68f4"/>
<ellipse cx="494.5" cy="93.5" rx="1.54" ry="4.68" transform="rotate(40 494.5 93.5)" fill="#40d048"/>
<ellipse cx="484.2" cy="104.4" rx="3" ry="2" transform="rotate(-20 484.2 104.4)" fill="#2c68f4"/>
<ellipse cx="484.2" cy="104.4" rx="2.1" ry="1.4" transform="rotate(-20 484.2 104.4)" fill="#38d048"/>
<ellipse cx="484.2" cy="104.4" rx="1.2" ry="0.8" transform="rotate(-20 484.2 104.4)" fill="#f0b820"/>
<ellipse cx="484.2" cy="104.4" rx="0.6" ry="0.44" transform="rotate(-20 484.2 104.4)" fill="#e03010"/>
<rect x="473.5" y="75.6" width="37.3" height="38.4" fill="none" stroke="#1a1a1a" stroke-width="1.1"/>
<line x1="488.4" y1="75.6" x2="488.4" y2="114" stroke="#1a1a1a" stroke-width="1.4"/>
<line x1="473.5" y1="100.1" x2="510.8" y2="100.1" stroke="#1a1a1a" stroke-width="1.4"/>
<text x="480.9" y="88" font-size="7.4" text-anchor="middle">0.44</text>
<text x="500.9" y="88" font-size="7.4" text-anchor="middle">44.7</text>
<text x="480.9" y="112.5" font-size="7.4" text-anchor="middle">48.4</text>
<text x="500.9" y="112.5" font-size="7.4" text-anchor="middle">6.42</text>
<text x="492.15" y="72.7" font-size="8.3" text-anchor="middle">Romi + JQ1</text>
<text x="471.9" y="80.6" font-size="5.6" text-anchor="end" fill="#222">10<tspan font-size="3.6" dy="-1.9">5</tspan><tspan dy="1.9"></tspan></text>
<line x1="472" y1="78.8" x2="473.5" y2="78.8" stroke="#000" stroke-width="0.7"/>
<text x="471.9" y="90.4" font-size="5.6" text-anchor="end" fill="#222">10<tspan font-size="3.6" dy="-1.9">4</tspan><tspan dy="1.9"></tspan></text>
<line x1="472" y1="88.6" x2="473.5" y2="88.6" stroke="#000" stroke-width="0.7"/>
<text x="471.9" y="100" font-size="5.6" text-anchor="end" fill="#222">10<tspan font-size="3.6" dy="-1.9">3</tspan><tspan dy="1.9"></tspan></text>
<line x1="472" y1="98.2" x2="473.5" y2="98.2" stroke="#000" stroke-width="0.7"/>
<text x="471.9" y="106.9" font-size="5.6" text-anchor="end" fill="#222">0</text>
<line x1="472" y1="105.1" x2="473.5" y2="105.1" stroke="#000" stroke-width="0.7"/>
<text x="471.9" y="112.9" font-size="5.6" text-anchor="end" fill="#222">&#8722;10<tspan font-size="3.6" dy="-1.9">3</tspan><tspan dy="1.9"></tspan></text>
<line x1="472" y1="111.1" x2="473.5" y2="111.1" stroke="#000" stroke-width="0.7"/>
<text x="471.9" y="121.8" font-size="5.6" text-anchor="middle" fill="#222">&#8722;10<tspan font-size="3.6" dy="-1.9">3</tspan><tspan dy="1.9"></tspan></text>
<text x="481.9" y="121.8" font-size="5.6" text-anchor="middle" fill="#222">0</text>
<text x="488.1" y="121.8" font-size="5.6" text-anchor="middle" fill="#222">10<tspan font-size="3.6" dy="-1.9">3</tspan><tspan dy="1.9"></tspan></text>
<text x="497.7" y="121.8" font-size="5.6" text-anchor="middle" fill="#222">10<tspan font-size="3.6" dy="-1.9">4</tspan><tspan dy="1.9"></tspan></text>
<text x="507.3" y="121.8" font-size="5.6" text-anchor="middle" fill="#222">10<tspan font-size="3.6" dy="-1.9">5</tspan><tspan dy="1.9"></tspan></text>
<line x1="475.5" y1="114" x2="475.5" y2="115.5" stroke="#000" stroke-width="0.7"/>
<line x1="482.4" y1="114" x2="482.4" y2="115.5" stroke="#000" stroke-width="0.7"/>
<line x1="488.8" y1="114" x2="488.8" y2="115.5" stroke="#000" stroke-width="0.7"/>
<line x1="498" y1="114" x2="498" y2="115.5" stroke="#000" stroke-width="0.7"/>
<line x1="507.2" y1="114" x2="507.2" y2="115.5" stroke="#000" stroke-width="0.7"/>
<line x1="339.8" y1="27" x2="339.8" y2="90.6" stroke="#000" stroke-width="1.5"/>
<polygon points="339.8,20.2 336.4,28.4 343.2,28.4" fill="#000"/>
<text x="342.9" y="104.35" font-size="8.6" text-anchor="middle" transform="rotate(-90 342.9 104.35)" textLength="22.3" lengthAdjust="spacingAndGlyphs">7AAD</text>
<text x="363.1" y="133.9" font-size="8.4" textLength="38.1" lengthAdjust="spacingAndGlyphs">Annexin V</text>
<line x1="405.2" y1="130.2" x2="486" y2="130.2" stroke="#000" stroke-width="1.6"/>
<polygon points="492.8,130.2 483.8,126.7 485.8,130.2 483.8,133.7" fill="#000"/>
<rect x="36.9" y="193" width="185.9" height="88.5" fill="#d4d4d4"/>
<rect x="36.9" y="193" width="30" height="27.8" fill="#000"/>
<rect x="36.9" y="223" width="30" height="28.9" fill="#000"/>
<rect x="36.9" y="253.7" width="30" height="27.8" fill="#000"/>
<rect x="68.2" y="193" width="29.8" height="27.8" fill="#000"/>
<rect x="68.2" y="223" width="29.8" height="28.9" fill="#000"/>
<rect x="68.2" y="253.7" width="29.8" height="27.8" fill="#000"/>
<rect x="99.2" y="193" width="29.8" height="27.8" fill="#000"/>
<rect x="99.2" y="223" width="29.8" height="28.9" fill="#000"/>
<rect x="99.2" y="253.7" width="29.8" height="27.8" fill="#000"/>
<rect x="130.5" y="193" width="29.5" height="27.8" fill="#000"/>
<rect x="130.5" y="223" width="29.5" height="28.9" fill="#000"/>
<rect x="130.5" y="253.7" width="29.5" height="27.8" fill="#000"/>
<rect x="161.5" y="193" width="29.3" height="27.8" fill="#000"/>
<rect x="161.5" y="223" width="29.3" height="28.9" fill="#000"/>
<rect x="161.5" y="253.7" width="29.3" height="27.8" fill="#000"/>
<rect x="192.8" y="193" width="30" height="27.8" fill="#000"/>
<rect x="192.8" y="223" width="30" height="28.9" fill="#000"/>
<rect x="192.8" y="253.7" width="30" height="27.8" fill="#000"/>
<g transform="translate(51.9 206.9)" filter="url(#b03)">
<path d="M11.25 0 L10.96 5.12 L8.17 9.93 L2.87 12.21 L-2.89 12.28 L-7.55 9.18 L-11.88 5.55 L-12.4 0 L-9.97 -4.66 L-7.59 -9.23 L-2.44 -10.37 L3.02 -12.84 L8.49 -10.33 L10.64 -4.97Z" fill="rgb(4,4,70)"/>
<circle cx="-3.61" cy="9.22" r="0.91" fill="rgb(0,1,76)"/>
<circle cx="2.51" cy="6.17" r="1.86" fill="rgb(8,17,189)"/>
<circle cx="2.69" cy="10.72" r="1.78" fill="rgb(5,11,158)"/>
<circle cx="1.88" cy="-4.12" r="0.85" fill="rgb(4,9,148)"/>
<circle cx="7.1" cy="0.25" r="1.38" fill="rgb(9,18,194)"/>
<circle cx="3.66" cy="9.7" r="0.98" fill="rgb(21,43,255)"/>
<circle cx="-8.55" cy="2.89" r="0.85" fill="rgb(7,15,180)"/>
<circle cx="-10.49" cy="-3.7" r="1.56" fill="rgb(1,3,109)"/>
<circle cx="1.26" cy="-7.95" r="1.41" fill="rgb(0,1,72)"/>
<circle cx="-6.52" cy="-1.17" r="1.14" fill="rgb(7,14,175)"/>
<circle cx="-9.81" cy="1.02" r="1.77" fill="rgb(3,6,131)"/>
<circle cx="-3.29" cy="-4.63" r="1.79" fill="rgb(22,44,255)"/>
<circle cx="-2.18" cy="-9.65" r="1.29" fill="rgb(2,4,113)"/>
<circle cx="-3.76" cy="-2.15" r="1.73" fill="rgb(8,17,189)"/>
<circle cx="5.01" cy="8.44" r="0.85" fill="rgb(14,29,237)"/>
<circle cx="8.28" cy="2.73" r="1.07" fill="rgb(0,0,63)"/>
<circle cx="-6.6" cy="-6.29" r="1.38" fill="rgb(10,20,204)"/>
<circle cx="-0.64" cy="1.09" r="0.93" fill="rgb(0,0,58)"/>
<circle cx="-9.47" cy="-1.52" r="1.17" fill="rgb(0,0,60)"/>
<circle cx="6.59" cy="-2.78" r="1.44" fill="rgb(16,32,245)"/>
<circle cx="-4.19" cy="-6.58" r="1.54" fill="rgb(8,16,184)"/>
<circle cx="5.35" cy="8.56" r="0.76" fill="rgb(21,42,255)"/>
<circle cx="1.81" cy="5.34" r="0.87" fill="rgb(0,0,60)"/>
<circle cx="-2.5" cy="-3.08" r="1.83" fill="rgb(0,0,51)"/>
<circle cx="-6.78" cy="4.8" r="1.11" fill="rgb(5,10,155)"/>
<circle cx="-4.78" cy="1.41" r="1" fill="rgb(3,6,130)"/>
<circle cx="3.16" cy="4.09" r="1.82" fill="rgb(4,8,140)"/>
<circle cx="-9.14" cy="-6.46" r="1.01" fill="rgb(1,2,92)"/>
<circle cx="-1.21" cy="-4.78" r="1.17" fill="rgb(19,38,255)"/>
<circle cx="-0.79" cy="5.83" r="1.82" fill="rgb(1,3,107)"/>
<circle cx="8.43" cy="-0.42" r="0.71" fill="rgb(0,1,81)"/>
<circle cx="5.41" cy="2.97" r="1.45" fill="rgb(4,8,142)"/>
<circle cx="6.19" cy="-8.16" r="1.51" fill="rgb(1,2,87)"/>
<circle cx="-9.06" cy="3.31" r="1.87" fill="rgb(0,0,63)"/>
<circle cx="8.79" cy="1.27" r="1.66" fill="rgb(1,2,88)"/>
<circle cx="6.61" cy="8.37" r="1.58" fill="rgb(0,0,35)"/>
<circle cx="-2.32" cy="-7.71" r="1.16" fill="rgb(0,1,72)"/>
<circle cx="-4.92" cy="1.71" r="1.71" fill="rgb(0,0,63)"/>
<circle cx="-5.6" cy="-1.8" r="1.46" fill="rgb(5,11,160)"/>
<circle cx="5.67" cy="6.52" r="0.83" fill="rgb(7,15,182)"/>
<circle cx="-3.29" cy="9.97" r="0.97" fill="rgb(3,7,135)"/>
<circle cx="-6" cy="4.75" r="1.73" fill="rgb(13,27,228)"/>
<circle cx="2.08" cy="1.27" r="0.72" fill="rgb(3,7,134)"/>
<circle cx="2.08" cy="3.04" r="1.45" fill="rgb(0,0,59)"/>
<circle cx="7.02" cy="4.8" r="0.87" fill="rgb(9,19,200)"/>
<circle cx="0.49" cy="-8.62" r="1.84" fill="rgb(0,0,58)"/>
<circle cx="-0.58" cy="-6.94" r="0.82" fill="rgb(10,20,201)"/>
<circle cx="5.21" cy="-8.97" r="1.8" fill="rgb(0,0,50)"/>
<circle cx="2.29" cy="-10.56" r="1.59" fill="rgb(0,0,65)"/>
<circle cx="1.24" cy="-6.55" r="0.72" fill="rgb(0,0,39)"/>
<circle cx="-8.36" cy="-0.35" r="1.46" fill="rgb(0,0,50)"/>
<circle cx="7.4" cy="2.51" r="0.94" fill="rgb(1,3,104)"/>
<circle cx="10.26" cy="3.16" r="1.41" fill="rgb(3,6,131)"/>
<circle cx="8.05" cy="1.5" r="1.62" fill="rgb(8,16,183)"/>
<circle cx="-0.85" cy="-2.08" r="0.98" fill="rgb(3,7,135)"/>
<circle cx="1.18" cy="-0.1" r="1.76" fill="rgb(0,1,75)"/>
<circle cx="4.51" cy="4.24" r="1.76" fill="rgb(1,2,97)"/>
<circle cx="-3.62" cy="-10.3" r="0.81" fill="rgb(0,0,62)"/>
<circle cx="-5.47" cy="8.24" r="1.82" fill="rgb(8,17,189)"/>
<circle cx="-0.75" cy="-3.15" r="0.94" fill="rgb(1,2,96)"/>
<circle cx="-1.02" cy="9.17" r="1.61" fill="rgb(1,3,101)"/>
<circle cx="10.72" cy="1.08" r="1.59" fill="rgb(0,0,55)"/>
<circle cx="1.3" cy="-1.92" r="1.87" fill="rgb(2,5,120)"/>
<circle cx="7.96" cy="0.37" r="1.16" fill="rgb(2,4,115)"/>
<circle cx="1.64" cy="4.51" r="0.96" fill="rgb(2,4,112)"/>
<circle cx="-2.92" cy="10.33" r="1.01" fill="rgb(8,16,185)"/>
<circle cx="5.74" cy="1" r="0.91" fill="rgb(9,18,192)"/>
<circle cx="-1.81" cy="-2.93" r="0.9" fill="rgb(2,4,113)"/>
<circle cx="-5.12" cy="-4.59" r="1.32" fill="rgb(17,35,255)"/>
<circle cx="-1.36" cy="0.94" r="0.75" fill="rgb(9,18,193)"/>
<circle cx="-11.23" cy="0.08" r="1.13" fill="rgb(2,5,120)"/>
<circle cx="5.19" cy="-2.45" r="1.39" fill="rgb(10,20,203)"/>
<circle cx="-1.1" cy="-5.97" r="1.09" fill="rgb(2,5,122)"/>
<circle cx="8.47" cy="-4.74" r="1.63" fill="rgb(2,4,110)"/>
<circle cx="-4.15" cy="-3.78" r="0.82" fill="rgb(7,14,176)"/>
<circle cx="0.75" cy="3.04" r="1.44" fill="rgb(0,0,58)"/>
<circle cx="4.97" cy="-9.05" r="1.84" fill="rgb(0,0,63)"/>
<circle cx="-4.78" cy="8.09" r="1.27" fill="rgb(8,17,187)"/>
<circle cx="-3.96" cy="-9.9" r="1.31" fill="rgb(4,8,143)"/>
<circle cx="6.29" cy="-7.47" r="1.87" fill="rgb(1,2,98)"/>
<circle cx="-1.85" cy="1.28" r="1.83" fill="rgb(11,23,215)"/>
<circle cx="-9.55" cy="-2.16" r="0.82" fill="rgb(2,5,123)"/>
<circle cx="2.53" cy="-8.59" r="1.27" fill="rgb(5,10,152)"/>
<circle cx="-1.72" cy="9.76" r="1.75" fill="rgb(2,5,119)"/>
<circle cx="9.01" cy="2.48" r="0.92" fill="rgb(4,9,150)"/>
<circle cx="6.66" cy="4.27" r="1.46" fill="rgb(4,8,142)"/>
<circle cx="-6.46" cy="-1.22" r="1.89" fill="rgb(5,10,153)"/>
<circle cx="-7.1" cy="-0.28" r="0.91" fill="rgb(6,12,168)"/>
<circle cx="-9.56" cy="-3.97" r="1.6" fill="rgb(4,8,143)"/>
<circle cx="-3.16" cy="-6.89" r="0.7" fill="rgb(22,45,255)"/>
<circle cx="-6.73" cy="3.51" r="1.04" fill="rgb(9,18,193)"/>
<circle cx="2.44" cy="7.16" r="1.33" fill="rgb(10,21,205)"/>
<circle cx="5.49" cy="-5.5" r="1.47" fill="rgb(0,1,84)"/>
<circle cx="-1.37" cy="1.14" r="0.83" fill="rgb(2,4,113)"/>
<circle cx="-6.88" cy="-8.25" r="1.85" fill="rgb(5,11,161)"/>
<circle cx="6.43" cy="8.08" r="0.99" fill="rgb(12,25,221)"/>
<circle cx="-4.64" cy="0.78" r="1.33" fill="rgb(0,1,80)"/>
<circle cx="-5.39" cy="4.54" r="1.51" fill="rgb(13,27,231)"/>
<circle cx="6.36" cy="5.69" r="0.74" fill="rgb(9,19,198)"/>
<circle cx="-0.03" cy="-1.61" r="1.16" fill="rgb(1,2,98)"/>
<circle cx="3.06" cy="0.39" r="1.02" fill="rgb(5,10,155)"/>
<circle cx="-4.53" cy="-0.55" r="1.82" fill="rgb(3,7,138)"/>
<circle cx="0.11" cy="-6.84" r="1.12" fill="rgb(9,18,195)"/>
<circle cx="-1.3" cy="7.23" r="1.16" fill="rgb(12,25,220)"/>
<circle cx="-2.11" cy="8.05" r="1.61" fill="rgb(5,11,163)"/>
<circle cx="-2.33" cy="-8.97" r="1.23" fill="rgb(1,3,106)"/>
<circle cx="7.89" cy="-0.92" r="1.13" fill="rgb(11,22,210)"/>
<circle cx="7.05" cy="0.5" r="1.18" fill="rgb(3,7,137)"/>
<circle cx="1.14" cy="4.39" r="1.55" fill="rgb(0,0,49)"/>
<circle cx="-10.05" cy="-1.76" r="1.6" fill="rgb(3,7,137)"/>
</g>
<g transform="translate(51.9 237.45)" filter="url(#b03)">
</g>
<g transform="translate(51.9 267.6)" filter="url(#b03)">
<path d="M11.25 0 L10.96 5.12 L8.17 9.93 L2.87 12.21 L-2.89 12.28 L-7.55 9.18 L-11.88 5.55 L-12.4 0 L-9.97 -4.66 L-7.59 -9.23 L-2.44 -10.37 L3.02 -12.84 L8.49 -10.33 L10.64 -4.97Z" fill="rgb(4,4,70)"/>
<circle cx="-3.61" cy="9.22" r="0.91" fill="rgb(0,1,76)"/>
<circle cx="2.51" cy="6.17" r="1.86" fill="rgb(8,17,189)"/>
<circle cx="2.69" cy="10.72" r="1.78" fill="rgb(5,11,158)"/>
<circle cx="1.88" cy="-4.12" r="0.85" fill="rgb(4,9,148)"/>
<circle cx="7.1" cy="0.25" r="1.38" fill="rgb(9,18,194)"/>
<circle cx="3.66" cy="9.7" r="0.98" fill="rgb(21,43,255)"/>
<circle cx="-8.55" cy="2.89" r="0.85" fill="rgb(7,15,180)"/>
<circle cx="-10.49" cy="-3.7" r="1.56" fill="rgb(1,3,109)"/>
<circle cx="1.26" cy="-7.95" r="1.41" fill="rgb(0,1,72)"/>
<circle cx="-6.52" cy="-1.17" r="1.14" fill="rgb(7,14,175)"/>
<circle cx="-9.81" cy="1.02" r="1.77" fill="rgb(3,6,131)"/>
<circle cx="-3.29" cy="-4.63" r="1.79" fill="rgb(22,44,255)"/>
<circle cx="-2.18" cy="-9.65" r="1.29" fill="rgb(2,4,113)"/>
<circle cx="-3.76" cy="-2.15" r="1.73" fill="rgb(8,17,189)"/>
<circle cx="5.01" cy="8.44" r="0.85" fill="rgb(14,29,237)"/>
<circle cx="8.28" cy="2.73" r="1.07" fill="rgb(0,0,63)"/>
<circle cx="-6.6" cy="-6.29" r="1.38" fill="rgb(10,20,204)"/>
<circle cx="-0.64" cy="1.09" r="0.93" fill="rgb(0,0,58)"/>
<circle cx="-9.47" cy="-1.52" r="1.17" fill="rgb(0,0,60)"/>
<circle cx="6.59" cy="-2.78" r="1.44" fill="rgb(16,32,245)"/>
<circle cx="-4.19" cy="-6.58" r="1.54" fill="rgb(8,16,184)"/>
<circle cx="5.35" cy="8.56" r="0.76" fill="rgb(21,42,255)"/>
<circle cx="1.81" cy="5.34" r="0.87" fill="rgb(0,0,60)"/>
<circle cx="-2.5" cy="-3.08" r="1.83" fill="rgb(0,0,51)"/>
<circle cx="-6.78" cy="4.8" r="1.11" fill="rgb(5,10,155)"/>
<circle cx="-4.78" cy="1.41" r="1" fill="rgb(3,6,130)"/>
<circle cx="3.16" cy="4.09" r="1.82" fill="rgb(4,8,140)"/>
<circle cx="-9.14" cy="-6.46" r="1.01" fill="rgb(1,2,92)"/>
<circle cx="-1.21" cy="-4.78" r="1.17" fill="rgb(19,38,255)"/>
<circle cx="-0.79" cy="5.83" r="1.82" fill="rgb(1,3,107)"/>
<circle cx="8.43" cy="-0.42" r="0.71" fill="rgb(0,1,81)"/>
<circle cx="5.41" cy="2.97" r="1.45" fill="rgb(4,8,142)"/>
<circle cx="6.19" cy="-8.16" r="1.51" fill="rgb(1,2,87)"/>
<circle cx="-9.06" cy="3.31" r="1.87" fill="rgb(0,0,63)"/>
<circle cx="8.79" cy="1.27" r="1.66" fill="rgb(1,2,88)"/>
<circle cx="6.61" cy="8.37" r="1.58" fill="rgb(0,0,35)"/>
<circle cx="-2.32" cy="-7.71" r="1.16" fill="rgb(0,1,72)"/>
<circle cx="-4.92" cy="1.71" r="1.71" fill="rgb(0,0,63)"/>
<circle cx="-5.6" cy="-1.8" r="1.46" fill="rgb(5,11,160)"/>
<circle cx="5.67" cy="6.52" r="0.83" fill="rgb(7,15,182)"/>
<circle cx="-3.29" cy="9.97" r="0.97" fill="rgb(3,7,135)"/>
<circle cx="-6" cy="4.75" r="1.73" fill="rgb(13,27,228)"/>
<circle cx="2.08" cy="1.27" r="0.72" fill="rgb(3,7,134)"/>
<circle cx="2.08" cy="3.04" r="1.45" fill="rgb(0,0,59)"/>
<circle cx="7.02" cy="4.8" r="0.87" fill="rgb(9,19,200)"/>
<circle cx="0.49" cy="-8.62" r="1.84" fill="rgb(0,0,58)"/>
<circle cx="-0.58" cy="-6.94" r="0.82" fill="rgb(10,20,201)"/>
<circle cx="5.21" cy="-8.97" r="1.8" fill="rgb(0,0,50)"/>
<circle cx="2.29" cy="-10.56" r="1.59" fill="rgb(0,0,65)"/>
<circle cx="1.24" cy="-6.55" r="0.72" fill="rgb(0,0,39)"/>
<circle cx="-8.36" cy="-0.35" r="1.46" fill="rgb(0,0,50)"/>
<circle cx="7.4" cy="2.51" r="0.94" fill="rgb(1,3,104)"/>
<circle cx="10.26" cy="3.16" r="1.41" fill="rgb(3,6,131)"/>
<circle cx="8.05" cy="1.5" r="1.62" fill="rgb(8,16,183)"/>
<circle cx="-0.85" cy="-2.08" r="0.98" fill="rgb(3,7,135)"/>
<circle cx="1.18" cy="-0.1" r="1.76" fill="rgb(0,1,75)"/>
<circle cx="4.51" cy="4.24" r="1.76" fill="rgb(1,2,97)"/>
<circle cx="-3.62" cy="-10.3" r="0.81" fill="rgb(0,0,62)"/>
<circle cx="-5.47" cy="8.24" r="1.82" fill="rgb(8,17,189)"/>
<circle cx="-0.75" cy="-3.15" r="0.94" fill="rgb(1,2,96)"/>
<circle cx="-1.02" cy="9.17" r="1.61" fill="rgb(1,3,101)"/>
<circle cx="10.72" cy="1.08" r="1.59" fill="rgb(0,0,55)"/>
<circle cx="1.3" cy="-1.92" r="1.87" fill="rgb(2,5,120)"/>
<circle cx="7.96" cy="0.37" r="1.16" fill="rgb(2,4,115)"/>
<circle cx="1.64" cy="4.51" r="0.96" fill="rgb(2,4,112)"/>
<circle cx="-2.92" cy="10.33" r="1.01" fill="rgb(8,16,185)"/>
<circle cx="5.74" cy="1" r="0.91" fill="rgb(9,18,192)"/>
<circle cx="-1.81" cy="-2.93" r="0.9" fill="rgb(2,4,113)"/>
<circle cx="-5.12" cy="-4.59" r="1.32" fill="rgb(17,35,255)"/>
<circle cx="-1.36" cy="0.94" r="0.75" fill="rgb(9,18,193)"/>
<circle cx="-11.23" cy="0.08" r="1.13" fill="rgb(2,5,120)"/>
<circle cx="5.19" cy="-2.45" r="1.39" fill="rgb(10,20,203)"/>
<circle cx="-1.1" cy="-5.97" r="1.09" fill="rgb(2,5,122)"/>
<circle cx="8.47" cy="-4.74" r="1.63" fill="rgb(2,4,110)"/>
<circle cx="-4.15" cy="-3.78" r="0.82" fill="rgb(7,14,176)"/>
<circle cx="0.75" cy="3.04" r="1.44" fill="rgb(0,0,58)"/>
<circle cx="4.97" cy="-9.05" r="1.84" fill="rgb(0,0,63)"/>
<circle cx="-4.78" cy="8.09" r="1.27" fill="rgb(8,17,187)"/>
<circle cx="-3.96" cy="-9.9" r="1.31" fill="rgb(4,8,143)"/>
<circle cx="6.29" cy="-7.47" r="1.87" fill="rgb(1,2,98)"/>
<circle cx="-1.85" cy="1.28" r="1.83" fill="rgb(11,23,215)"/>
<circle cx="-9.55" cy="-2.16" r="0.82" fill="rgb(2,5,123)"/>
<circle cx="2.53" cy="-8.59" r="1.27" fill="rgb(5,10,152)"/>
<circle cx="-1.72" cy="9.76" r="1.75" fill="rgb(2,5,119)"/>
<circle cx="9.01" cy="2.48" r="0.92" fill="rgb(4,9,150)"/>
<circle cx="6.66" cy="4.27" r="1.46" fill="rgb(4,8,142)"/>
<circle cx="-6.46" cy="-1.22" r="1.89" fill="rgb(5,10,153)"/>
<circle cx="-7.1" cy="-0.28" r="0.91" fill="rgb(6,12,168)"/>
<circle cx="-9.56" cy="-3.97" r="1.6" fill="rgb(4,8,143)"/>
<circle cx="-3.16" cy="-6.89" r="0.7" fill="rgb(22,45,255)"/>
<circle cx="-6.73" cy="3.51" r="1.04" fill="rgb(9,18,193)"/>
<circle cx="2.44" cy="7.16" r="1.33" fill="rgb(10,21,205)"/>
<circle cx="5.49" cy="-5.5" r="1.47" fill="rgb(0,1,84)"/>
<circle cx="-1.37" cy="1.14" r="0.83" fill="rgb(2,4,113)"/>
<circle cx="-6.88" cy="-8.25" r="1.85" fill="rgb(5,11,161)"/>
<circle cx="6.43" cy="8.08" r="0.99" fill="rgb(12,25,221)"/>
<circle cx="-4.64" cy="0.78" r="1.33" fill="rgb(0,1,80)"/>
<circle cx="-5.39" cy="4.54" r="1.51" fill="rgb(13,27,231)"/>
<circle cx="6.36" cy="5.69" r="0.74" fill="rgb(9,19,198)"/>
<circle cx="-0.03" cy="-1.61" r="1.16" fill="rgb(1,2,98)"/>
<circle cx="3.06" cy="0.39" r="1.02" fill="rgb(5,10,155)"/>
<circle cx="-4.53" cy="-0.55" r="1.82" fill="rgb(3,7,138)"/>
<circle cx="0.11" cy="-6.84" r="1.12" fill="rgb(9,18,195)"/>
<circle cx="-1.3" cy="7.23" r="1.16" fill="rgb(12,25,220)"/>
<circle cx="-2.11" cy="8.05" r="1.61" fill="rgb(5,11,163)"/>
<circle cx="-2.33" cy="-8.97" r="1.23" fill="rgb(1,3,106)"/>
<circle cx="7.89" cy="-0.92" r="1.13" fill="rgb(11,22,210)"/>
<circle cx="7.05" cy="0.5" r="1.18" fill="rgb(3,7,137)"/>
<circle cx="1.14" cy="4.39" r="1.55" fill="rgb(0,0,49)"/>
<circle cx="-10.05" cy="-1.76" r="1.6" fill="rgb(3,7,137)"/>
</g>
<g transform="translate(83.1 206.9)" filter="url(#b03)">
<path d="M12.54 0 L10.27 4.8 L8.53 10.37 L3.02 12.82 L-2.72 11.54 L-7.97 9.69 L-10.32 4.82 L-11.48 0 L-10.52 -4.91 L-8.02 -9.76 L-2.55 -10.83 L3.05 -12.95 L6.88 -8.37 L10.27 -4.8Z" fill="rgb(4,4,28)"/>
<circle cx="8.41" cy="5.25" r="1.27" fill="rgb(0,1,35)"/>
<circle cx="-4.15" cy="8.01" r="0.95" fill="rgb(0,1,37)"/>
<circle cx="-5.64" cy="2.65" r="1.69" fill="rgb(0,0,22)"/>
<circle cx="-3.92" cy="-8.34" r="1.17" fill="rgb(3,6,67)"/>
<circle cx="-5.33" cy="5.06" r="1.5" fill="rgb(0,0,33)"/>
<circle cx="7.69" cy="0.32" r="1.11" fill="rgb(2,4,56)"/>
<circle cx="9.4" cy="1.3" r="1.38" fill="rgb(0,0,14)"/>
<circle cx="1.2" cy="1.73" r="0.78" fill="rgb(0,0,23)"/>
<circle cx="5.46" cy="7.59" r="1.14" fill="rgb(1,2,47)"/>
<circle cx="-4.48" cy="-6.37" r="1.75" fill="rgb(0,1,39)"/>
<circle cx="-3.96" cy="9.77" r="1.52" fill="rgb(1,3,52)"/>
<circle cx="3.27" cy="0.12" r="1.11" fill="rgb(0,0,16)"/>
<circle cx="9.97" cy="-3.51" r="0.84" fill="rgb(1,2,46)"/>
<circle cx="-2.73" cy="-9.56" r="1.65" fill="rgb(3,7,70)"/>
<circle cx="3.04" cy="3.69" r="1.59" fill="rgb(3,6,66)"/>
<circle cx="5.89" cy="-4.72" r="0.87" fill="rgb(1,2,48)"/>
<circle cx="10.24" cy="-2.83" r="0.78" fill="rgb(0,0,27)"/>
<circle cx="-8.95" cy="-2.82" r="0.77" fill="rgb(0,0,34)"/>
<circle cx="-1.84" cy="10.09" r="1.82" fill="rgb(0,0,20)"/>
<circle cx="-0" cy="5.11" r="1.88" fill="rgb(0,0,22)"/>
<circle cx="5.19" cy="-3.72" r="1.48" fill="rgb(0,0,18)"/>
<circle cx="0.95" cy="-0.81" r="1.73" fill="rgb(0,1,41)"/>
<circle cx="-8.24" cy="2.18" r="0.99" fill="rgb(3,7,70)"/>
<circle cx="-1.34" cy="9.09" r="1.34" fill="rgb(2,5,62)"/>
<circle cx="-5.53" cy="9.44" r="1.51" fill="rgb(0,0,26)"/>
<circle cx="5.63" cy="-4.42" r="0.96" fill="rgb(0,0,16)"/>
<circle cx="3.98" cy="1.76" r="1.11" fill="rgb(0,0,24)"/>
<circle cx="-5.17" cy="5.51" r="1.51" fill="rgb(1,2,43)"/>
<circle cx="-2.62" cy="-6.3" r="1.36" fill="rgb(2,4,60)"/>
<circle cx="5.81" cy="6" r="1.51" fill="rgb(0,0,32)"/>
<circle cx="-0.53" cy="-5.52" r="1.25" fill="rgb(1,2,47)"/>
<circle cx="-0.66" cy="2.18" r="1.89" fill="rgb(0,0,16)"/>
<circle cx="-0.47" cy="-7.47" r="1.02" fill="rgb(4,9,77)"/>
<circle cx="-2.72" cy="-10.68" r="1.26" fill="rgb(2,5,61)"/>
<circle cx="10.79" cy="-1.12" r="1.19" fill="rgb(0,0,16)"/>
<circle cx="-5.65" cy="1.76" r="0.87" fill="rgb(3,6,67)"/>
<circle cx="-0.19" cy="-10.46" r="1.53" fill="rgb(0,0,18)"/>
<circle cx="-0.9" cy="8.98" r="1.87" fill="rgb(4,8,76)"/>
<circle cx="1.96" cy="-6.28" r="0.88" fill="rgb(3,7,70)"/>
<circle cx="-1.65" cy="-7.11" r="0.99" fill="rgb(0,1,36)"/>
<circle cx="2.09" cy="9.87" r="0.98" fill="rgb(0,0,21)"/>
<circle cx="1.59" cy="4.2" r="1.4" fill="rgb(2,4,56)"/>
<circle cx="-5.47" cy="-9.22" r="0.75" fill="rgb(0,0,34)"/>
<circle cx="3.02" cy="7.54" r="1.8" fill="rgb(2,5,64)"/>
<circle cx="-5.37" cy="-0.38" r="1.82" fill="rgb(3,7,70)"/>
<circle cx="-5.43" cy="9.46" r="1.39" fill="rgb(1,3,54)"/>
<circle cx="-4.03" cy="0.48" r="0.75" fill="rgb(0,0,23)"/>
<circle cx="-7.3" cy="-6.14" r="1.42" fill="rgb(1,3,54)"/>
<circle cx="7.17" cy="-0.28" r="0.77" fill="rgb(0,0,24)"/>
<circle cx="-1.96" cy="8" r="1.06" fill="rgb(7,15,97)"/>
<circle cx="0.89" cy="9.57" r="1.37" fill="rgb(1,2,47)"/>
<circle cx="6.06" cy="8.5" r="1.61" fill="rgb(1,3,52)"/>
<circle cx="5.99" cy="-2.56" r="1.07" fill="rgb(0,0,15)"/>
<circle cx="6.2" cy="-4.64" r="0.88" fill="rgb(0,0,21)"/>
<circle cx="3.84" cy="6.43" r="1.76" fill="rgb(3,6,67)"/>
<circle cx="0.48" cy="-9.81" r="1.63" fill="rgb(0,0,30)"/>
<circle cx="1.33" cy="8.08" r="1.77" fill="rgb(0,0,17)"/>
<circle cx="6.02" cy="6.28" r="1.47" fill="rgb(1,3,51)"/>
<circle cx="-2.83" cy="-6.26" r="1.83" fill="rgb(3,6,67)"/>
<circle cx="-8.29" cy="-7.51" r="0.77" fill="rgb(1,2,44)"/>
<circle cx="-1.62" cy="-3.01" r="1.15" fill="rgb(1,2,45)"/>
<circle cx="1.46" cy="-1.89" r="0.75" fill="rgb(1,3,54)"/>
<circle cx="0.54" cy="0.2" r="1.88" fill="rgb(0,0,19)"/>
<circle cx="5.52" cy="-9.31" r="1.53" fill="rgb(0,0,22)"/>
<circle cx="2.7" cy="-9.25" r="1.87" fill="rgb(0,0,33)"/>
<circle cx="-1.27" cy="-9.26" r="1.18" fill="rgb(0,1,38)"/>
<circle cx="0.4" cy="-8.11" r="1.8" fill="rgb(2,4,60)"/>
<circle cx="-9.19" cy="5.02" r="1.34" fill="rgb(0,0,15)"/>
<circle cx="-0.27" cy="-1.14" r="1.04" fill="rgb(1,2,44)"/>
<circle cx="-6.28" cy="-6.33" r="1.83" fill="rgb(0,0,19)"/>
<circle cx="0.19" cy="4.17" r="0.78" fill="rgb(0,1,41)"/>
<circle cx="7.93" cy="5.86" r="1.35" fill="rgb(0,0,19)"/>
<circle cx="5.72" cy="-5.02" r="1.7" fill="rgb(1,2,46)"/>
<circle cx="1.6" cy="2.69" r="1.74" fill="rgb(2,4,56)"/>
<circle cx="5.75" cy="-7.62" r="1.85" fill="rgb(0,1,36)"/>
<circle cx="-0.63" cy="-9.85" r="0.77" fill="rgb(6,13,91)"/>
<circle cx="-0.48" cy="-8.62" r="1.01" fill="rgb(0,0,15)"/>
<circle cx="-1.74" cy="-8.03" r="1.04" fill="rgb(2,5,62)"/>
<circle cx="-9.67" cy="-4.32" r="1.36" fill="rgb(2,4,57)"/>
<circle cx="-0.39" cy="-3.32" r="1.37" fill="rgb(0,0,21)"/>
<circle cx="1.8" cy="-3.46" r="1.3" fill="rgb(0,0,21)"/>
<circle cx="-1.43" cy="3.99" r="1.21" fill="rgb(0,0,22)"/>
<circle cx="1.24" cy="-4.51" r="0.79" fill="rgb(2,5,64)"/>
<circle cx="-0.05" cy="9.24" r="1.09" fill="rgb(0,0,14)"/>
<circle cx="3.06" cy="4.48" r="0.89" fill="rgb(3,6,68)"/>
<circle cx="-2.02" cy="-10.59" r="1.74" fill="rgb(0,0,30)"/>
<circle cx="-4.26" cy="8.97" r="1.12" fill="rgb(1,2,46)"/>
<circle cx="7.11" cy="-6.18" r="1.39" fill="rgb(0,0,25)"/>
<circle cx="-1.66" cy="5.81" r="1.87" fill="rgb(5,11,84)"/>
<circle cx="5.92" cy="9.06" r="0.71" fill="rgb(1,2,44)"/>
<circle cx="5.8" cy="4.69" r="1.75" fill="rgb(5,10,81)"/>
<circle cx="-0.04" cy="7.54" r="0.95" fill="rgb(8,17,102)"/>
<circle cx="5.76" cy="4.45" r="1.75" fill="rgb(3,6,67)"/>
<circle cx="0.87" cy="-0.85" r="0.85" fill="rgb(0,0,21)"/>
<circle cx="-5.93" cy="-4.08" r="1.44" fill="rgb(3,6,68)"/>
<circle cx="-7.03" cy="-6.18" r="1.77" fill="rgb(0,0,22)"/>
<circle cx="6.59" cy="-7.85" r="0.91" fill="rgb(1,2,44)"/>
<circle cx="6.45" cy="2.24" r="0.94" fill="rgb(5,10,82)"/>
<circle cx="7.11" cy="-7.68" r="1.28" fill="rgb(0,1,40)"/>
<circle cx="5.95" cy="8.24" r="1.3" fill="rgb(0,0,21)"/>
<circle cx="0.47" cy="-9" r="1.75" fill="rgb(0,1,35)"/>
<circle cx="-3.14" cy="6.62" r="1.54" fill="rgb(0,1,43)"/>
<circle cx="8.76" cy="2.18" r="1.66" fill="rgb(1,2,50)"/>
<circle cx="-5.68" cy="6.38" r="0.77" fill="rgb(1,3,55)"/>
<circle cx="2.02" cy="-7.46" r="1.03" fill="rgb(0,1,38)"/>
<circle cx="2.1" cy="10.16" r="1.85" fill="rgb(0,0,28)"/>
<circle cx="-6" cy="-0.63" r="1.4" fill="rgb(6,12,88)"/>
<circle cx="3.21" cy="-2.85" r="0.73" fill="rgb(1,2,45)"/>
<circle cx="2.95" cy="6.65" r="1.04" fill="rgb(0,1,35)"/>
<circle cx="-8.85" cy="-4.12" r="1.31" fill="rgb(0,0,34)"/>
</g>
<g transform="translate(83.1 237.45)" filter="url(#b03)">
<circle cx="-4" cy="7" r="0.6" fill="rgb(144,10,12)"/>
<circle cx="2" cy="6" r="0.5" fill="rgb(144,10,12)"/>
</g>
<g transform="translate(83.1 267.6)" filter="url(#b03)">
<path d="M12.54 0 L10.27 4.8 L8.53 10.37 L3.02 12.82 L-2.72 11.54 L-7.97 9.69 L-10.32 4.82 L-11.48 0 L-10.52 -4.91 L-8.02 -9.76 L-2.55 -10.83 L3.05 -12.95 L6.88 -8.37 L10.27 -4.8Z" fill="rgb(4,4,28)"/>
<circle cx="8.41" cy="5.25" r="1.27" fill="rgb(0,1,35)"/>
<circle cx="-4.15" cy="8.01" r="0.95" fill="rgb(0,1,37)"/>
<circle cx="-5.64" cy="2.65" r="1.69" fill="rgb(0,0,22)"/>
<circle cx="-3.92" cy="-8.34" r="1.17" fill="rgb(3,6,67)"/>
<circle cx="-5.33" cy="5.06" r="1.5" fill="rgb(0,0,33)"/>
<circle cx="7.69" cy="0.32" r="1.11" fill="rgb(2,4,56)"/>
<circle cx="9.4" cy="1.3" r="1.38" fill="rgb(0,0,14)"/>
<circle cx="1.2" cy="1.73" r="0.78" fill="rgb(0,0,23)"/>
<circle cx="5.46" cy="7.59" r="1.14" fill="rgb(1,2,47)"/>
<circle cx="-4.48" cy="-6.37" r="1.75" fill="rgb(0,1,39)"/>
<circle cx="-3.96" cy="9.77" r="1.52" fill="rgb(1,3,52)"/>
<circle cx="3.27" cy="0.12" r="1.11" fill="rgb(0,0,16)"/>
<circle cx="9.97" cy="-3.51" r="0.84" fill="rgb(1,2,46)"/>
<circle cx="-2.73" cy="-9.56" r="1.65" fill="rgb(3,7,70)"/>
<circle cx="3.04" cy="3.69" r="1.59" fill="rgb(3,6,66)"/>
<circle cx="5.89" cy="-4.72" r="0.87" fill="rgb(1,2,48)"/>
<circle cx="10.24" cy="-2.83" r="0.78" fill="rgb(0,0,27)"/>
<circle cx="-8.95" cy="-2.82" r="0.77" fill="rgb(0,0,34)"/>
<circle cx="-1.84" cy="10.09" r="1.82" fill="rgb(0,0,20)"/>
<circle cx="-0" cy="5.11" r="1.88" fill="rgb(0,0,22)"/>
<circle cx="5.19" cy="-3.72" r="1.48" fill="rgb(0,0,18)"/>
<circle cx="0.95" cy="-0.81" r="1.73" fill="rgb(0,1,41)"/>
<circle cx="-8.24" cy="2.18" r="0.99" fill="rgb(3,7,70)"/>
<circle cx="-1.34" cy="9.09" r="1.34" fill="rgb(2,5,62)"/>
<circle cx="-5.53" cy="9.44" r="1.51" fill="rgb(0,0,26)"/>
<circle cx="5.63" cy="-4.42" r="0.96" fill="rgb(0,0,16)"/>
<circle cx="3.98" cy="1.76" r="1.11" fill="rgb(0,0,24)"/>
<circle cx="-5.17" cy="5.51" r="1.51" fill="rgb(1,2,43)"/>
<circle cx="-2.62" cy="-6.3" r="1.36" fill="rgb(2,4,60)"/>
<circle cx="5.81" cy="6" r="1.51" fill="rgb(0,0,32)"/>
<circle cx="-0.53" cy="-5.52" r="1.25" fill="rgb(1,2,47)"/>
<circle cx="-0.66" cy="2.18" r="1.89" fill="rgb(0,0,16)"/>
<circle cx="-0.47" cy="-7.47" r="1.02" fill="rgb(4,9,77)"/>
<circle cx="-2.72" cy="-10.68" r="1.26" fill="rgb(2,5,61)"/>
<circle cx="10.79" cy="-1.12" r="1.19" fill="rgb(0,0,16)"/>
<circle cx="-5.65" cy="1.76" r="0.87" fill="rgb(3,6,67)"/>
<circle cx="-0.19" cy="-10.46" r="1.53" fill="rgb(0,0,18)"/>
<circle cx="-0.9" cy="8.98" r="1.87" fill="rgb(4,8,76)"/>
<circle cx="1.96" cy="-6.28" r="0.88" fill="rgb(3,7,70)"/>
<circle cx="-1.65" cy="-7.11" r="0.99" fill="rgb(0,1,36)"/>
<circle cx="2.09" cy="9.87" r="0.98" fill="rgb(0,0,21)"/>
<circle cx="1.59" cy="4.2" r="1.4" fill="rgb(2,4,56)"/>
<circle cx="-5.47" cy="-9.22" r="0.75" fill="rgb(0,0,34)"/>
<circle cx="3.02" cy="7.54" r="1.8" fill="rgb(2,5,64)"/>
<circle cx="-5.37" cy="-0.38" r="1.82" fill="rgb(3,7,70)"/>
<circle cx="-5.43" cy="9.46" r="1.39" fill="rgb(1,3,54)"/>
<circle cx="-4.03" cy="0.48" r="0.75" fill="rgb(0,0,23)"/>
<circle cx="-7.3" cy="-6.14" r="1.42" fill="rgb(1,3,54)"/>
<circle cx="7.17" cy="-0.28" r="0.77" fill="rgb(0,0,24)"/>
<circle cx="-1.96" cy="8" r="1.06" fill="rgb(7,15,97)"/>
<circle cx="0.89" cy="9.57" r="1.37" fill="rgb(1,2,47)"/>
<circle cx="6.06" cy="8.5" r="1.61" fill="rgb(1,3,52)"/>
<circle cx="5.99" cy="-2.56" r="1.07" fill="rgb(0,0,15)"/>
<circle cx="6.2" cy="-4.64" r="0.88" fill="rgb(0,0,21)"/>
<circle cx="3.84" cy="6.43" r="1.76" fill="rgb(3,6,67)"/>
<circle cx="0.48" cy="-9.81" r="1.63" fill="rgb(0,0,30)"/>
<circle cx="1.33" cy="8.08" r="1.77" fill="rgb(0,0,17)"/>
<circle cx="6.02" cy="6.28" r="1.47" fill="rgb(1,3,51)"/>
<circle cx="-2.83" cy="-6.26" r="1.83" fill="rgb(3,6,67)"/>
<circle cx="-8.29" cy="-7.51" r="0.77" fill="rgb(1,2,44)"/>
<circle cx="-1.62" cy="-3.01" r="1.15" fill="rgb(1,2,45)"/>
<circle cx="1.46" cy="-1.89" r="0.75" fill="rgb(1,3,54)"/>
<circle cx="0.54" cy="0.2" r="1.88" fill="rgb(0,0,19)"/>
<circle cx="5.52" cy="-9.31" r="1.53" fill="rgb(0,0,22)"/>
<circle cx="2.7" cy="-9.25" r="1.87" fill="rgb(0,0,33)"/>
<circle cx="-1.27" cy="-9.26" r="1.18" fill="rgb(0,1,38)"/>
<circle cx="0.4" cy="-8.11" r="1.8" fill="rgb(2,4,60)"/>
<circle cx="-9.19" cy="5.02" r="1.34" fill="rgb(0,0,15)"/>
<circle cx="-0.27" cy="-1.14" r="1.04" fill="rgb(1,2,44)"/>
<circle cx="-6.28" cy="-6.33" r="1.83" fill="rgb(0,0,19)"/>
<circle cx="0.19" cy="4.17" r="0.78" fill="rgb(0,1,41)"/>
<circle cx="7.93" cy="5.86" r="1.35" fill="rgb(0,0,19)"/>
<circle cx="5.72" cy="-5.02" r="1.7" fill="rgb(1,2,46)"/>
<circle cx="1.6" cy="2.69" r="1.74" fill="rgb(2,4,56)"/>
<circle cx="5.75" cy="-7.62" r="1.85" fill="rgb(0,1,36)"/>
<circle cx="-0.63" cy="-9.85" r="0.77" fill="rgb(6,13,91)"/>
<circle cx="-0.48" cy="-8.62" r="1.01" fill="rgb(0,0,15)"/>
<circle cx="-1.74" cy="-8.03" r="1.04" fill="rgb(2,5,62)"/>
<circle cx="-9.67" cy="-4.32" r="1.36" fill="rgb(2,4,57)"/>
<circle cx="-0.39" cy="-3.32" r="1.37" fill="rgb(0,0,21)"/>
<circle cx="1.8" cy="-3.46" r="1.3" fill="rgb(0,0,21)"/>
<circle cx="-1.43" cy="3.99" r="1.21" fill="rgb(0,0,22)"/>
<circle cx="1.24" cy="-4.51" r="0.79" fill="rgb(2,5,64)"/>
<circle cx="-0.05" cy="9.24" r="1.09" fill="rgb(0,0,14)"/>
<circle cx="3.06" cy="4.48" r="0.89" fill="rgb(3,6,68)"/>
<circle cx="-2.02" cy="-10.59" r="1.74" fill="rgb(0,0,30)"/>
<circle cx="-4.26" cy="8.97" r="1.12" fill="rgb(1,2,46)"/>
<circle cx="7.11" cy="-6.18" r="1.39" fill="rgb(0,0,25)"/>
<circle cx="-1.66" cy="5.81" r="1.87" fill="rgb(5,11,84)"/>
<circle cx="5.92" cy="9.06" r="0.71" fill="rgb(1,2,44)"/>
<circle cx="5.8" cy="4.69" r="1.75" fill="rgb(5,10,81)"/>
<circle cx="-0.04" cy="7.54" r="0.95" fill="rgb(8,17,102)"/>
<circle cx="5.76" cy="4.45" r="1.75" fill="rgb(3,6,67)"/>
<circle cx="0.87" cy="-0.85" r="0.85" fill="rgb(0,0,21)"/>
<circle cx="-5.93" cy="-4.08" r="1.44" fill="rgb(3,6,68)"/>
<circle cx="-7.03" cy="-6.18" r="1.77" fill="rgb(0,0,22)"/>
<circle cx="6.59" cy="-7.85" r="0.91" fill="rgb(1,2,44)"/>
<circle cx="6.45" cy="2.24" r="0.94" fill="rgb(5,10,82)"/>
<circle cx="7.11" cy="-7.68" r="1.28" fill="rgb(0,1,40)"/>
<circle cx="5.95" cy="8.24" r="1.3" fill="rgb(0,0,21)"/>
<circle cx="0.47" cy="-9" r="1.75" fill="rgb(0,1,35)"/>
<circle cx="-3.14" cy="6.62" r="1.54" fill="rgb(0,1,43)"/>
<circle cx="8.76" cy="2.18" r="1.66" fill="rgb(1,2,50)"/>
<circle cx="-5.68" cy="6.38" r="0.77" fill="rgb(1,3,55)"/>
<circle cx="2.02" cy="-7.46" r="1.03" fill="rgb(0,1,38)"/>
<circle cx="2.1" cy="10.16" r="1.85" fill="rgb(0,0,28)"/>
<circle cx="-6" cy="-0.63" r="1.4" fill="rgb(6,12,88)"/>
<circle cx="3.21" cy="-2.85" r="0.73" fill="rgb(1,2,45)"/>
<circle cx="2.95" cy="6.65" r="1.04" fill="rgb(0,1,35)"/>
<circle cx="-8.85" cy="-4.12" r="1.31" fill="rgb(0,0,34)"/>
<circle cx="-4" cy="7" r="0.6" fill="rgb(144,20,66)"/>
<circle cx="2" cy="6" r="0.5" fill="rgb(144,20,66)"/>
</g>
<g transform="translate(114.1 206.9)" filter="url(#b03)">
<path d="M11.26 0 L11.39 5.32 L7.06 8.59 L2.88 12.23 L-2.81 11.93 L-7.46 9.07 L-11.39 5.32 L-12.5 0 L-9.87 -4.61 L-7.72 -9.4 L-2.82 -11.97 L2.75 -11.69 L8.37 -10.18 L11.71 -5.47Z" fill="rgb(4,4,32)"/>
<circle cx="-3.86" cy="3.75" r="1.67" fill="rgb(0,0,24)"/>
<circle cx="-3.26" cy="-8.2" r="1.3" fill="rgb(0,1,40)"/>
<circle cx="1.44" cy="8.1" r="1.45" fill="rgb(0,0,27)"/>
<circle cx="-6.33" cy="-6.75" r="0.81" fill="rgb(0,0,33)"/>
<circle cx="-4.67" cy="8.13" r="1.6" fill="rgb(0,1,43)"/>
<circle cx="-6.47" cy="2.99" r="0.9" fill="rgb(1,3,60)"/>
<circle cx="2.3" cy="8.36" r="1.22" fill="rgb(1,3,60)"/>
<circle cx="-7.01" cy="-2.68" r="1.77" fill="rgb(4,8,82)"/>
<circle cx="4.1" cy="-8.05" r="1.84" fill="rgb(0,1,39)"/>
<circle cx="-8.45" cy="2.92" r="1.52" fill="rgb(1,2,55)"/>
<circle cx="-7.53" cy="6.17" r="1.8" fill="rgb(0,1,41)"/>
<circle cx="-5.91" cy="-5.77" r="1.33" fill="rgb(6,13,100)"/>
<circle cx="-8.79" cy="6.52" r="0.91" fill="rgb(1,2,54)"/>
<circle cx="9.4" cy="4.6" r="1.16" fill="rgb(1,2,53)"/>
<circle cx="-0.28" cy="9.34" r="0.96" fill="rgb(3,7,78)"/>
<circle cx="-8.71" cy="2.96" r="1.2" fill="rgb(0,0,25)"/>
<circle cx="4.88" cy="6.12" r="0.8" fill="rgb(0,0,29)"/>
<circle cx="-3.36" cy="2.81" r="0.88" fill="rgb(0,0,24)"/>
<circle cx="-5.54" cy="3.15" r="1.2" fill="rgb(1,2,53)"/>
<circle cx="0.21" cy="4.9" r="1.59" fill="rgb(1,2,50)"/>
<circle cx="2.31" cy="7.35" r="1.7" fill="rgb(4,8,81)"/>
<circle cx="-10.08" cy="2.43" r="0.97" fill="rgb(0,1,44)"/>
<circle cx="3.89" cy="2.57" r="1.17" fill="rgb(2,4,66)"/>
<circle cx="5.8" cy="-9.48" r="1.26" fill="rgb(1,3,55)"/>
<circle cx="5.93" cy="0.28" r="1.48" fill="rgb(0,0,36)"/>
<circle cx="-3.23" cy="-10.36" r="1.85" fill="rgb(0,1,46)"/>
<circle cx="-5.04" cy="-5.94" r="1.03" fill="rgb(4,9,88)"/>
<circle cx="1.71" cy="-9.48" r="0.77" fill="rgb(1,2,52)"/>
<circle cx="4.15" cy="10.2" r="1.24" fill="rgb(0,0,22)"/>
<circle cx="-6.3" cy="-4.68" r="1.85" fill="rgb(7,14,102)"/>
<circle cx="-2.25" cy="3.48" r="1.24" fill="rgb(6,12,98)"/>
<circle cx="0.03" cy="4.2" r="1.4" fill="rgb(0,0,17)"/>
<circle cx="-1.63" cy="8.27" r="1.28" fill="rgb(4,9,86)"/>
<circle cx="2.8" cy="-0.84" r="1.61" fill="rgb(4,9,86)"/>
<circle cx="1.92" cy="-0.51" r="1.37" fill="rgb(1,3,56)"/>
<circle cx="-6.32" cy="-4.49" r="1.78" fill="rgb(0,1,43)"/>
<circle cx="6.81" cy="-6.57" r="1.36" fill="rgb(3,6,73)"/>
<circle cx="8.27" cy="4.51" r="1.6" fill="rgb(0,0,20)"/>
<circle cx="-3.06" cy="-4.13" r="0.78" fill="rgb(0,0,30)"/>
<circle cx="4.96" cy="10.02" r="1.76" fill="rgb(0,0,26)"/>
<circle cx="4.37" cy="4.92" r="1.13" fill="rgb(0,1,47)"/>
<circle cx="5.4" cy="-1.23" r="0.95" fill="rgb(2,5,70)"/>
<circle cx="7.27" cy="5.94" r="1.28" fill="rgb(0,0,30)"/>
<circle cx="-1.19" cy="-3.15" r="1.53" fill="rgb(0,0,20)"/>
<circle cx="1.53" cy="-0.06" r="1.89" fill="rgb(0,1,48)"/>
<circle cx="5.6" cy="-9.75" r="1.87" fill="rgb(0,0,38)"/>
<circle cx="7.29" cy="2.67" r="1.17" fill="rgb(2,4,64)"/>
<circle cx="-7.05" cy="2.76" r="1.68" fill="rgb(0,0,34)"/>
<circle cx="5.35" cy="-0.92" r="1.66" fill="rgb(1,2,51)"/>
<circle cx="-0.39" cy="-10.19" r="1.8" fill="rgb(0,1,44)"/>
<circle cx="5.05" cy="-7.44" r="0.8" fill="rgb(0,0,31)"/>
<circle cx="6.67" cy="-8.07" r="1.02" fill="rgb(1,3,59)"/>
<circle cx="-0.79" cy="-10.87" r="0.73" fill="rgb(0,0,24)"/>
<circle cx="2.43" cy="4.7" r="1.69" fill="rgb(3,7,79)"/>
<circle cx="3.93" cy="-8.52" r="1.87" fill="rgb(1,3,61)"/>
<circle cx="-10.07" cy="4.03" r="0.99" fill="rgb(0,1,45)"/>
<circle cx="-4.01" cy="-2.38" r="1.68" fill="rgb(1,3,59)"/>
<circle cx="8.26" cy="0.51" r="1.04" fill="rgb(0,1,46)"/>
<circle cx="7.51" cy="3.23" r="0.82" fill="rgb(0,0,33)"/>
<circle cx="-7.58" cy="5.41" r="1.64" fill="rgb(0,0,19)"/>
<circle cx="6.71" cy="3.87" r="1.73" fill="rgb(0,0,34)"/>
<circle cx="7.58" cy="-6.05" r="1.09" fill="rgb(0,0,33)"/>
<circle cx="3.65" cy="-7.19" r="1.57" fill="rgb(1,2,51)"/>
<circle cx="2.51" cy="6.54" r="1.1" fill="rgb(6,12,98)"/>
<circle cx="2.58" cy="-3.62" r="1.3" fill="rgb(0,0,17)"/>
<circle cx="-1.8" cy="8.53" r="0.75" fill="rgb(2,5,70)"/>
<circle cx="-6.91" cy="0.03" r="1.71" fill="rgb(4,9,85)"/>
<circle cx="7.28" cy="-6.45" r="1.44" fill="rgb(0,0,36)"/>
<circle cx="-6.59" cy="-1.88" r="1.48" fill="rgb(0,1,45)"/>
<circle cx="4.42" cy="-3.37" r="0.89" fill="rgb(1,2,53)"/>
<circle cx="-4.66" cy="5.28" r="1.47" fill="rgb(0,0,21)"/>
<circle cx="-5.64" cy="8.44" r="1.58" fill="rgb(0,0,27)"/>
<circle cx="4.61" cy="-0.59" r="1.87" fill="rgb(1,2,55)"/>
<circle cx="-5.32" cy="3.69" r="1.7" fill="rgb(0,0,24)"/>
<circle cx="-4.86" cy="9.42" r="0.92" fill="rgb(0,1,42)"/>
<circle cx="10.71" cy="-0.49" r="1.42" fill="rgb(1,2,54)"/>
<circle cx="0.26" cy="-11" r="0.99" fill="rgb(0,0,24)"/>
<circle cx="0.57" cy="-7.28" r="1.7" fill="rgb(1,3,60)"/>
<circle cx="-4.47" cy="-0.61" r="1.42" fill="rgb(3,6,73)"/>
<circle cx="-8.73" cy="-4.82" r="1.77" fill="rgb(1,2,48)"/>
<circle cx="-3.74" cy="-2.55" r="0.9" fill="rgb(7,14,104)"/>
<circle cx="9.02" cy="-6.08" r="0.94" fill="rgb(0,0,26)"/>
<circle cx="-2.25" cy="-7.3" r="1.6" fill="rgb(0,0,37)"/>
<circle cx="-2.09" cy="3.51" r="1.75" fill="rgb(2,4,66)"/>
<circle cx="3.56" cy="-0.92" r="1.09" fill="rgb(5,11,92)"/>
<circle cx="6.94" cy="-1.28" r="1.1" fill="rgb(0,0,26)"/>
<circle cx="-4.72" cy="-0.46" r="1.1" fill="rgb(4,9,86)"/>
<circle cx="-0.27" cy="-5.44" r="1.49" fill="rgb(0,1,43)"/>
<circle cx="1.64" cy="5.85" r="1.17" fill="rgb(6,13,101)"/>
<circle cx="-5.16" cy="7.23" r="1.74" fill="rgb(1,2,52)"/>
<circle cx="-9.59" cy="-4.14" r="1.81" fill="rgb(2,5,71)"/>
<circle cx="8.23" cy="-4.57" r="1.17" fill="rgb(2,4,64)"/>
<circle cx="8.52" cy="6.73" r="1.11" fill="rgb(0,0,33)"/>
<circle cx="-9.36" cy="-2.98" r="0.84" fill="rgb(2,5,70)"/>
<circle cx="2.31" cy="-10.72" r="1.83" fill="rgb(1,3,56)"/>
<circle cx="-9.59" cy="-4.65" r="1.72" fill="rgb(1,2,51)"/>
<circle cx="6.91" cy="-0.45" r="1.6" fill="rgb(0,0,27)"/>
<circle cx="9.94" cy="-4.08" r="1.24" fill="rgb(0,1,41)"/>
<circle cx="7.39" cy="7.36" r="0.85" fill="rgb(0,0,27)"/>
<circle cx="8.75" cy="6.5" r="1.65" fill="rgb(0,0,33)"/>
<circle cx="7.09" cy="3.35" r="1.63" fill="rgb(1,2,54)"/>
<circle cx="2.88" cy="7.29" r="1.8" fill="rgb(3,7,77)"/>
<circle cx="7.19" cy="4.83" r="1.44" fill="rgb(1,2,55)"/>
<circle cx="1.35" cy="-6.01" r="0.72" fill="rgb(0,1,43)"/>
<circle cx="2.54" cy="-8.09" r="1.83" fill="rgb(0,0,24)"/>
<circle cx="0.5" cy="2.01" r="0.8" fill="rgb(3,7,77)"/>
<circle cx="-2.27" cy="-3.51" r="1.58" fill="rgb(0,0,18)"/>
<circle cx="-6.95" cy="-6" r="1.56" fill="rgb(2,5,70)"/>
<circle cx="3.29" cy="6.58" r="1.74" fill="rgb(1,3,60)"/>
<circle cx="-4.81" cy="-6.26" r="1.71" fill="rgb(4,8,82)"/>
</g>
<g transform="translate(114.1 237.45)" filter="url(#b03)">
<circle cx="8" cy="-1.5" r="1" fill="rgb(240,10,12)"/>
<circle cx="-6" cy="-2" r="0.5" fill="rgb(144,10,12)"/>
<circle cx="5" cy="5" r="0.5" fill="rgb(144,10,12)"/>
<circle cx="2" cy="10" r="0.5" fill="rgb(128,10,12)"/>
<circle cx="-2" cy="-4" r="0.45" fill="rgb(128,10,12)"/>
</g>
<g transform="translate(114.1 267.6)" filter="url(#b03)">
<path d="M11.26 0 L11.39 5.32 L7.06 8.59 L2.88 12.23 L-2.81 11.93 L-7.46 9.07 L-11.39 5.32 L-12.5 0 L-9.87 -4.61 L-7.72 -9.4 L-2.82 -11.97 L2.75 -11.69 L8.37 -10.18 L11.71 -5.47Z" fill="rgb(4,4,35)"/>
<circle cx="-3.86" cy="3.75" r="1.67" fill="rgb(0,0,27)"/>
<circle cx="-3.26" cy="-8.2" r="1.3" fill="rgb(0,1,45)"/>
<circle cx="1.44" cy="8.1" r="1.45" fill="rgb(0,0,30)"/>
<circle cx="-6.33" cy="-6.75" r="0.81" fill="rgb(0,0,37)"/>
<circle cx="-4.67" cy="8.13" r="1.6" fill="rgb(0,1,48)"/>
<circle cx="-6.47" cy="2.99" r="0.9" fill="rgb(2,4,69)"/>
<circle cx="2.3" cy="8.36" r="1.22" fill="rgb(2,4,68)"/>
<circle cx="-7.01" cy="-2.68" r="1.77" fill="rgb(4,9,94)"/>
<circle cx="4.1" cy="-8.05" r="1.84" fill="rgb(0,1,44)"/>
<circle cx="-8.45" cy="2.92" r="1.52" fill="rgb(1,3,63)"/>
<circle cx="-7.53" cy="6.17" r="1.8" fill="rgb(0,1,47)"/>
<circle cx="-5.91" cy="-5.77" r="1.33" fill="rgb(7,15,115)"/>
<circle cx="-8.79" cy="6.52" r="0.91" fill="rgb(1,3,62)"/>
<circle cx="9.4" cy="4.6" r="1.16" fill="rgb(1,3,61)"/>
<circle cx="-0.28" cy="9.34" r="0.96" fill="rgb(4,8,89)"/>
<circle cx="-8.71" cy="2.96" r="1.2" fill="rgb(0,0,29)"/>
<circle cx="4.88" cy="6.12" r="0.8" fill="rgb(0,0,33)"/>
<circle cx="-3.36" cy="2.81" r="0.88" fill="rgb(0,0,27)"/>
<circle cx="-5.54" cy="3.15" r="1.2" fill="rgb(1,3,61)"/>
<circle cx="0.21" cy="4.9" r="1.59" fill="rgb(1,2,57)"/>
<circle cx="2.31" cy="7.35" r="1.7" fill="rgb(4,9,93)"/>
<circle cx="-10.08" cy="2.43" r="0.97" fill="rgb(0,1,50)"/>
<circle cx="3.89" cy="2.57" r="1.17" fill="rgb(2,5,75)"/>
<circle cx="5.8" cy="-9.48" r="1.26" fill="rgb(1,3,63)"/>
<circle cx="5.93" cy="0.28" r="1.48" fill="rgb(0,0,41)"/>
<circle cx="-3.23" cy="-10.36" r="1.85" fill="rgb(1,2,52)"/>
<circle cx="-5.04" cy="-5.94" r="1.03" fill="rgb(5,11,101)"/>
<circle cx="1.71" cy="-9.48" r="0.77" fill="rgb(1,2,59)"/>
<circle cx="4.15" cy="10.2" r="1.24" fill="rgb(0,0,25)"/>
<circle cx="-6.3" cy="-4.68" r="1.85" fill="rgb(8,16,117)"/>
<circle cx="-2.25" cy="3.48" r="1.24" fill="rgb(7,14,112)"/>
<circle cx="0.03" cy="4.2" r="1.4" fill="rgb(0,0,18)"/>
<circle cx="-1.63" cy="8.27" r="1.28" fill="rgb(5,10,98)"/>
<circle cx="2.8" cy="-0.84" r="1.61" fill="rgb(5,10,99)"/>
<circle cx="1.92" cy="-0.51" r="1.37" fill="rgb(1,3,64)"/>
<circle cx="-6.32" cy="-4.49" r="1.78" fill="rgb(0,1,49)"/>
<circle cx="6.81" cy="-6.57" r="1.36" fill="rgb(3,7,84)"/>
<circle cx="8.27" cy="4.51" r="1.6" fill="rgb(0,0,22)"/>
<circle cx="-3.06" cy="-4.13" r="0.78" fill="rgb(0,0,34)"/>
<circle cx="4.96" cy="10.02" r="1.76" fill="rgb(0,0,29)"/>
<circle cx="4.37" cy="4.92" r="1.13" fill="rgb(1,2,53)"/>
<circle cx="5.4" cy="-1.23" r="0.95" fill="rgb(3,6,80)"/>
<circle cx="7.27" cy="5.94" r="1.28" fill="rgb(0,0,34)"/>
<circle cx="-1.19" cy="-3.15" r="1.53" fill="rgb(0,0,22)"/>
<circle cx="1.53" cy="-0.06" r="1.89" fill="rgb(1,2,54)"/>
<circle cx="5.6" cy="-9.75" r="1.87" fill="rgb(0,1,43)"/>
<circle cx="7.29" cy="2.67" r="1.17" fill="rgb(2,5,73)"/>
<circle cx="-7.05" cy="2.76" r="1.68" fill="rgb(0,0,39)"/>
<circle cx="5.35" cy="-0.92" r="1.66" fill="rgb(1,2,58)"/>
<circle cx="-0.39" cy="-10.19" r="1.8" fill="rgb(0,1,50)"/>
<circle cx="5.05" cy="-7.44" r="0.8" fill="rgb(0,0,35)"/>
<circle cx="6.67" cy="-8.07" r="1.02" fill="rgb(2,4,67)"/>
<circle cx="-0.79" cy="-10.87" r="0.73" fill="rgb(0,0,27)"/>
<circle cx="2.43" cy="4.7" r="1.69" fill="rgb(4,8,91)"/>
<circle cx="3.93" cy="-8.52" r="1.87" fill="rgb(2,4,70)"/>
<circle cx="-10.07" cy="4.03" r="0.99" fill="rgb(0,1,52)"/>
<circle cx="-4.01" cy="-2.38" r="1.68" fill="rgb(2,4,68)"/>
<circle cx="8.26" cy="0.51" r="1.04" fill="rgb(1,2,52)"/>
<circle cx="7.51" cy="3.23" r="0.82" fill="rgb(0,0,37)"/>
<circle cx="-7.58" cy="5.41" r="1.64" fill="rgb(0,0,21)"/>
<circle cx="6.71" cy="3.87" r="1.73" fill="rgb(0,0,38)"/>
<circle cx="7.58" cy="-6.05" r="1.09" fill="rgb(0,0,38)"/>
<circle cx="3.65" cy="-7.19" r="1.57" fill="rgb(1,2,58)"/>
<circle cx="2.51" cy="6.54" r="1.1" fill="rgb(7,14,113)"/>
<circle cx="2.58" cy="-3.62" r="1.3" fill="rgb(0,0,18)"/>
<circle cx="-1.8" cy="8.53" r="0.75" fill="rgb(3,6,81)"/>
<circle cx="-6.91" cy="0.03" r="1.71" fill="rgb(5,10,98)"/>
<circle cx="7.28" cy="-6.45" r="1.44" fill="rgb(0,0,41)"/>
<circle cx="-6.59" cy="-1.88" r="1.48" fill="rgb(0,1,51)"/>
<circle cx="4.42" cy="-3.37" r="0.89" fill="rgb(1,3,61)"/>
<circle cx="-4.66" cy="5.28" r="1.47" fill="rgb(0,0,24)"/>
<circle cx="-5.64" cy="8.44" r="1.58" fill="rgb(0,0,30)"/>
<circle cx="4.61" cy="-0.59" r="1.87" fill="rgb(1,3,63)"/>
<circle cx="-5.32" cy="3.69" r="1.7" fill="rgb(0,0,27)"/>
<circle cx="-4.86" cy="9.42" r="0.92" fill="rgb(0,1,47)"/>
<circle cx="10.71" cy="-0.49" r="1.42" fill="rgb(1,3,61)"/>
<circle cx="0.26" cy="-11" r="0.99" fill="rgb(0,0,26)"/>
<circle cx="0.57" cy="-7.28" r="1.7" fill="rgb(2,4,69)"/>
<circle cx="-4.47" cy="-0.61" r="1.42" fill="rgb(3,7,84)"/>
<circle cx="-8.73" cy="-4.82" r="1.77" fill="rgb(1,2,55)"/>
<circle cx="-3.74" cy="-2.55" r="0.9" fill="rgb(8,17,120)"/>
<circle cx="9.02" cy="-6.08" r="0.94" fill="rgb(0,0,29)"/>
<circle cx="-2.25" cy="-7.3" r="1.6" fill="rgb(0,1,42)"/>
<circle cx="-2.09" cy="3.51" r="1.75" fill="rgb(2,5,76)"/>
<circle cx="3.56" cy="-0.92" r="1.09" fill="rgb(6,12,106)"/>
<circle cx="6.94" cy="-1.28" r="1.1" fill="rgb(0,0,29)"/>
<circle cx="-4.72" cy="-0.46" r="1.1" fill="rgb(5,11,99)"/>
<circle cx="-0.27" cy="-5.44" r="1.49" fill="rgb(0,1,49)"/>
<circle cx="1.64" cy="5.85" r="1.17" fill="rgb(8,16,116)"/>
<circle cx="-5.16" cy="7.23" r="1.74" fill="rgb(1,2,60)"/>
<circle cx="-9.59" cy="-4.14" r="1.81" fill="rgb(3,6,81)"/>
<circle cx="8.23" cy="-4.57" r="1.17" fill="rgb(2,5,73)"/>
<circle cx="8.52" cy="6.73" r="1.11" fill="rgb(0,0,37)"/>
<circle cx="-9.36" cy="-2.98" r="0.84" fill="rgb(3,6,81)"/>
<circle cx="2.31" cy="-10.72" r="1.83" fill="rgb(1,3,64)"/>
<circle cx="-9.59" cy="-4.65" r="1.72" fill="rgb(1,2,58)"/>
<circle cx="6.91" cy="-0.45" r="1.6" fill="rgb(0,0,30)"/>
<circle cx="9.94" cy="-4.08" r="1.24" fill="rgb(0,1,47)"/>
<circle cx="7.39" cy="7.36" r="0.85" fill="rgb(0,0,31)"/>
<circle cx="8.75" cy="6.5" r="1.65" fill="rgb(0,0,37)"/>
<circle cx="7.09" cy="3.35" r="1.63" fill="rgb(1,3,62)"/>
<circle cx="2.88" cy="7.29" r="1.8" fill="rgb(4,8,88)"/>
<circle cx="7.19" cy="4.83" r="1.44" fill="rgb(1,3,63)"/>
<circle cx="1.35" cy="-6.01" r="0.72" fill="rgb(0,1,48)"/>
<circle cx="2.54" cy="-8.09" r="1.83" fill="rgb(0,0,27)"/>
<circle cx="0.5" cy="2.01" r="0.8" fill="rgb(4,8,89)"/>
<circle cx="-2.27" cy="-3.51" r="1.58" fill="rgb(0,0,19)"/>
<circle cx="-6.95" cy="-6" r="1.56" fill="rgb(3,6,80)"/>
<circle cx="3.29" cy="6.58" r="1.74" fill="rgb(2,4,69)"/>
<circle cx="-4.81" cy="-6.26" r="1.71" fill="rgb(4,9,95)"/>
<circle cx="8" cy="-1.5" r="1" fill="rgb(240,20,90)"/>
<circle cx="-6" cy="-2" r="0.5" fill="rgb(144,20,66)"/>
<circle cx="5" cy="5" r="0.5" fill="rgb(144,20,66)"/>
<circle cx="2" cy="10" r="0.5" fill="rgb(128,20,62)"/>
<circle cx="-2" cy="-4" r="0.45" fill="rgb(128,20,62)"/>
</g>
<g transform="translate(145.25 206.9)" filter="url(#b03)">
<path d="M13.71 0 L10.97 5.12 L8.07 9.82 L2.89 12.29 L-2.55 10.84 L-6.89 8.38 L-11.36 5.3 L-11.18 0 L-10.77 -5.03 L-8.39 -10.2 L-2.98 -12.67 L2.49 -10.57 L6.9 -8.39 L10.34 -4.83Z" fill="rgb(4,4,29)"/>
<circle cx="0.84" cy="-1.57" r="0.83" fill="rgb(0,0,25)"/>
<circle cx="5.68" cy="5.88" r="1.19" fill="rgb(0,0,28)"/>
<circle cx="-1.01" cy="-9.55" r="1.64" fill="rgb(1,2,47)"/>
<circle cx="-9.23" cy="-4.52" r="1.14" fill="rgb(0,0,23)"/>
<circle cx="-9.62" cy="-5.31" r="1.27" fill="rgb(0,1,37)"/>
<circle cx="-0.04" cy="5.99" r="1.88" fill="rgb(0,0,27)"/>
<circle cx="8.09" cy="-6.99" r="1.55" fill="rgb(0,0,34)"/>
<circle cx="-2.26" cy="7.51" r="1.2" fill="rgb(0,0,23)"/>
<circle cx="-0.06" cy="3.57" r="0.82" fill="rgb(3,7,73)"/>
<circle cx="3.64" cy="-8.72" r="1.28" fill="rgb(0,0,20)"/>
<circle cx="11.22" cy="-0.29" r="1.63" fill="rgb(0,1,37)"/>
<circle cx="-1.57" cy="-5.9" r="1.42" fill="rgb(2,5,64)"/>
<circle cx="-8.04" cy="6.32" r="1.6" fill="rgb(0,1,39)"/>
<circle cx="6.92" cy="2.98" r="1.48" fill="rgb(0,0,18)"/>
<circle cx="5.8" cy="-5.98" r="1.45" fill="rgb(0,1,40)"/>
<circle cx="0.92" cy="6.96" r="1.48" fill="rgb(0,1,41)"/>
<circle cx="-5.69" cy="5.34" r="1.37" fill="rgb(0,1,43)"/>
<circle cx="-2.9" cy="-5.78" r="1.72" fill="rgb(2,5,65)"/>
<circle cx="-10.9" cy="-2.54" r="1.8" fill="rgb(0,0,25)"/>
<circle cx="2.83" cy="6.2" r="0.74" fill="rgb(3,6,68)"/>
<circle cx="-7.94" cy="-6.95" r="1.52" fill="rgb(1,2,50)"/>
<circle cx="-3.68" cy="5.37" r="0.78" fill="rgb(3,7,75)"/>
<circle cx="10.45" cy="1.87" r="0.9" fill="rgb(0,1,44)"/>
<circle cx="-5.48" cy="2.63" r="1.04" fill="rgb(6,12,92)"/>
<circle cx="-1.56" cy="-9.62" r="1" fill="rgb(0,1,38)"/>
<circle cx="-7.08" cy="-0.94" r="1.09" fill="rgb(0,1,42)"/>
<circle cx="2.02" cy="-7.04" r="1.63" fill="rgb(0,0,26)"/>
<circle cx="7.37" cy="-5.72" r="1.75" fill="rgb(0,0,35)"/>
<circle cx="0.99" cy="-0.44" r="0.72" fill="rgb(0,1,39)"/>
<circle cx="-2.78" cy="4.81" r="1.51" fill="rgb(2,4,58)"/>
<circle cx="3.7" cy="-4.43" r="1.9" fill="rgb(0,0,15)"/>
<circle cx="1.68" cy="-8.21" r="0.76" fill="rgb(0,0,24)"/>
<circle cx="7.53" cy="-3.31" r="1.64" fill="rgb(1,2,50)"/>
<circle cx="0.07" cy="-10.14" r="1" fill="rgb(0,0,33)"/>
<circle cx="-9.05" cy="4.01" r="1.61" fill="rgb(1,3,56)"/>
<circle cx="-6.85" cy="-3.74" r="1.5" fill="rgb(0,0,22)"/>
<circle cx="-4.61" cy="-6.66" r="1.88" fill="rgb(1,3,55)"/>
<circle cx="3.47" cy="-1.28" r="1.44" fill="rgb(0,0,31)"/>
<circle cx="-2.23" cy="-5.6" r="1.25" fill="rgb(6,12,90)"/>
<circle cx="0.25" cy="-2.57" r="0.73" fill="rgb(0,0,30)"/>
<circle cx="2.08" cy="-7.89" r="1.43" fill="rgb(7,14,97)"/>
<circle cx="-3.06" cy="6.01" r="0.94" fill="rgb(1,2,47)"/>
<circle cx="7.09" cy="5.71" r="1.24" fill="rgb(0,1,36)"/>
<circle cx="-1.5" cy="-5.72" r="1.09" fill="rgb(1,3,54)"/>
<circle cx="-4.14" cy="8.24" r="1.18" fill="rgb(0,0,20)"/>
<circle cx="7.13" cy="5.89" r="1.86" fill="rgb(0,0,35)"/>
<circle cx="-9.14" cy="1" r="1.68" fill="rgb(0,1,38)"/>
<circle cx="-2.76" cy="-8.62" r="0.87" fill="rgb(0,0,16)"/>
<circle cx="0.04" cy="-7.25" r="1.46" fill="rgb(10,21,115)"/>
<circle cx="4.33" cy="-8.74" r="1.49" fill="rgb(3,6,68)"/>
<circle cx="6.81" cy="-2.81" r="0.83" fill="rgb(0,0,26)"/>
<circle cx="-0.17" cy="10.68" r="0.75" fill="rgb(0,1,39)"/>
<circle cx="7.55" cy="1.33" r="1.13" fill="rgb(1,3,56)"/>
<circle cx="5.74" cy="0.72" r="1.57" fill="rgb(5,11,89)"/>
<circle cx="2.44" cy="-5.33" r="0.94" fill="rgb(2,5,66)"/>
<circle cx="-3.53" cy="10.47" r="1.05" fill="rgb(0,0,23)"/>
<circle cx="2.12" cy="10.31" r="1.41" fill="rgb(0,1,40)"/>
<circle cx="4.56" cy="-6.2" r="1.63" fill="rgb(2,5,66)"/>
<circle cx="-1.68" cy="5.23" r="1.24" fill="rgb(2,4,58)"/>
<circle cx="2.26" cy="-8.84" r="1.42" fill="rgb(3,7,72)"/>
<circle cx="-0.85" cy="9.71" r="1.46" fill="rgb(1,3,56)"/>
<circle cx="-1.33" cy="-5.3" r="1.24" fill="rgb(0,0,24)"/>
<circle cx="-8.02" cy="-5.35" r="1.35" fill="rgb(0,0,32)"/>
<circle cx="2.1" cy="1.31" r="1.08" fill="rgb(0,0,23)"/>
<circle cx="0.18" cy="4.27" r="1.1" fill="rgb(0,0,35)"/>
<circle cx="4.91" cy="-9.76" r="1.58" fill="rgb(2,4,61)"/>
<circle cx="5.5" cy="0.39" r="1.54" fill="rgb(6,13,96)"/>
<circle cx="3.17" cy="-3.93" r="0.82" fill="rgb(0,0,28)"/>
<circle cx="-6.75" cy="-1.06" r="0.87" fill="rgb(0,1,36)"/>
<circle cx="6.93" cy="1.13" r="1.48" fill="rgb(5,11,89)"/>
<circle cx="-2.56" cy="-1.23" r="1.14" fill="rgb(0,0,35)"/>
<circle cx="-4.89" cy="-5.25" r="1.03" fill="rgb(1,3,55)"/>
<circle cx="-0.1" cy="-0.77" r="1.66" fill="rgb(0,0,21)"/>
<circle cx="3.76" cy="-4.96" r="1.85" fill="rgb(0,0,26)"/>
<circle cx="-2.83" cy="-1.85" r="1.38" fill="rgb(2,4,60)"/>
<circle cx="-2.46" cy="7.65" r="1.39" fill="rgb(0,1,38)"/>
<circle cx="-5.94" cy="3.57" r="1.07" fill="rgb(4,9,80)"/>
<circle cx="4.72" cy="-8.55" r="0.88" fill="rgb(2,5,64)"/>
<circle cx="6.13" cy="-7.31" r="1.79" fill="rgb(0,0,22)"/>
<circle cx="-4.77" cy="-0.07" r="1.9" fill="rgb(0,0,27)"/>
<circle cx="1.76" cy="-5.17" r="0.75" fill="rgb(5,11,88)"/>
<circle cx="-2.97" cy="-8.48" r="1.79" fill="rgb(4,8,77)"/>
<circle cx="-1.19" cy="-10.31" r="1.82" fill="rgb(1,2,46)"/>
<circle cx="-8.72" cy="4.12" r="1.19" fill="rgb(1,3,56)"/>
<circle cx="4.07" cy="-8.67" r="1.4" fill="rgb(0,0,23)"/>
<circle cx="-8.69" cy="0.78" r="1.54" fill="rgb(0,0,15)"/>
<circle cx="-7.74" cy="5.85" r="0.72" fill="rgb(0,0,29)"/>
<circle cx="-8.82" cy="1.94" r="1.35" fill="rgb(1,3,54)"/>
<circle cx="3.34" cy="-3.12" r="1.18" fill="rgb(0,0,20)"/>
<circle cx="-5.43" cy="-8.26" r="1.42" fill="rgb(0,0,17)"/>
<circle cx="-4.81" cy="6.65" r="0.89" fill="rgb(0,0,22)"/>
<circle cx="-4.3" cy="-5" r="1.31" fill="rgb(3,6,68)"/>
<circle cx="-2.86" cy="3.97" r="1.31" fill="rgb(2,5,66)"/>
<circle cx="-0.43" cy="11.12" r="1.63" fill="rgb(0,0,33)"/>
<circle cx="-4.13" cy="-9.44" r="1.86" fill="rgb(0,0,20)"/>
<circle cx="-3.75" cy="-2.65" r="0.77" fill="rgb(0,1,42)"/>
<circle cx="-3.12" cy="1.65" r="1.24" fill="rgb(0,0,18)"/>
<circle cx="5.22" cy="-8.34" r="1.63" fill="rgb(2,4,60)"/>
<circle cx="-6.48" cy="-5.91" r="0.86" fill="rgb(1,3,55)"/>
<circle cx="-8.28" cy="-1.05" r="1.75" fill="rgb(0,0,15)"/>
<circle cx="-2.81" cy="-5.95" r="1.27" fill="rgb(3,7,75)"/>
<circle cx="-1.23" cy="-8.28" r="1.31" fill="rgb(6,13,94)"/>
<circle cx="8.33" cy="5.29" r="1.39" fill="rgb(0,0,29)"/>
<circle cx="8.78" cy="-3.92" r="1.71" fill="rgb(0,0,17)"/>
<circle cx="7.53" cy="-1.62" r="1.26" fill="rgb(0,0,27)"/>
<circle cx="-2.39" cy="-0.48" r="1.47" fill="rgb(2,4,61)"/>
<circle cx="-8.26" cy="5.98" r="1.77" fill="rgb(0,0,24)"/>
<circle cx="4.93" cy="-6.03" r="1.24" fill="rgb(0,0,20)"/>
<circle cx="6.59" cy="5.16" r="1.32" fill="rgb(0,0,26)"/>
<circle cx="-5.41" cy="3.47" r="1.34" fill="rgb(3,6,70)"/>
</g>
<g transform="translate(145.25 237.45)" filter="url(#b03)">
<circle cx="-1" cy="4" r="0.8" fill="rgb(192,10,12)"/>
</g>
<g transform="translate(145.25 267.6)" filter="url(#b03)">
<path d="M13.71 0 L10.97 5.12 L8.07 9.82 L2.89 12.29 L-2.55 10.84 L-6.89 8.38 L-11.36 5.3 L-11.18 0 L-10.77 -5.03 L-8.39 -10.2 L-2.98 -12.67 L2.49 -10.57 L6.9 -8.39 L10.34 -4.83Z" fill="rgb(4,4,31)"/>
<circle cx="0.84" cy="-1.57" r="0.83" fill="rgb(0,0,27)"/>
<circle cx="5.68" cy="5.88" r="1.19" fill="rgb(0,0,30)"/>
<circle cx="-1.01" cy="-9.55" r="1.64" fill="rgb(1,2,51)"/>
<circle cx="-9.23" cy="-4.52" r="1.14" fill="rgb(0,0,25)"/>
<circle cx="-9.62" cy="-5.31" r="1.27" fill="rgb(0,1,39)"/>
<circle cx="-0.04" cy="5.99" r="1.88" fill="rgb(0,0,29)"/>
<circle cx="8.09" cy="-6.99" r="1.55" fill="rgb(0,0,36)"/>
<circle cx="-2.26" cy="7.51" r="1.2" fill="rgb(0,0,25)"/>
<circle cx="-0.06" cy="3.57" r="0.82" fill="rgb(3,7,78)"/>
<circle cx="3.64" cy="-8.72" r="1.28" fill="rgb(0,0,21)"/>
<circle cx="11.22" cy="-0.29" r="1.63" fill="rgb(0,1,39)"/>
<circle cx="-1.57" cy="-5.9" r="1.42" fill="rgb(2,5,68)"/>
<circle cx="-8.04" cy="6.32" r="1.6" fill="rgb(0,1,42)"/>
<circle cx="6.92" cy="2.98" r="1.48" fill="rgb(0,0,19)"/>
<circle cx="5.8" cy="-5.98" r="1.45" fill="rgb(0,1,43)"/>
<circle cx="0.92" cy="6.96" r="1.48" fill="rgb(0,1,44)"/>
<circle cx="-5.69" cy="5.34" r="1.37" fill="rgb(0,1,46)"/>
<circle cx="-2.9" cy="-5.78" r="1.72" fill="rgb(2,5,70)"/>
<circle cx="-10.9" cy="-2.54" r="1.8" fill="rgb(0,0,27)"/>
<circle cx="2.83" cy="6.2" r="0.74" fill="rgb(3,6,72)"/>
<circle cx="-7.94" cy="-6.95" r="1.52" fill="rgb(1,2,54)"/>
<circle cx="-3.68" cy="5.37" r="0.78" fill="rgb(4,8,80)"/>
<circle cx="10.45" cy="1.87" r="0.9" fill="rgb(1,2,47)"/>
<circle cx="-5.48" cy="2.63" r="1.04" fill="rgb(6,13,98)"/>
<circle cx="-1.56" cy="-9.62" r="1" fill="rgb(0,1,41)"/>
<circle cx="-7.08" cy="-0.94" r="1.09" fill="rgb(0,1,44)"/>
<circle cx="2.02" cy="-7.04" r="1.63" fill="rgb(0,0,28)"/>
<circle cx="7.37" cy="-5.72" r="1.75" fill="rgb(0,1,38)"/>
<circle cx="0.99" cy="-0.44" r="0.72" fill="rgb(0,1,41)"/>
<circle cx="-2.78" cy="4.81" r="1.51" fill="rgb(2,4,62)"/>
<circle cx="3.7" cy="-4.43" r="1.9" fill="rgb(0,0,16)"/>
<circle cx="1.68" cy="-8.21" r="0.76" fill="rgb(0,0,26)"/>
<circle cx="7.53" cy="-3.31" r="1.64" fill="rgb(1,2,53)"/>
<circle cx="0.07" cy="-10.14" r="1" fill="rgb(0,0,35)"/>
<circle cx="-9.05" cy="4.01" r="1.61" fill="rgb(1,3,59)"/>
<circle cx="-6.85" cy="-3.74" r="1.5" fill="rgb(0,0,23)"/>
<circle cx="-4.61" cy="-6.66" r="1.88" fill="rgb(1,3,59)"/>
<circle cx="3.47" cy="-1.28" r="1.44" fill="rgb(0,0,33)"/>
<circle cx="-2.23" cy="-5.6" r="1.25" fill="rgb(6,13,96)"/>
<circle cx="0.25" cy="-2.57" r="0.73" fill="rgb(0,0,33)"/>
<circle cx="2.08" cy="-7.89" r="1.43" fill="rgb(7,15,103)"/>
<circle cx="-3.06" cy="6.01" r="0.94" fill="rgb(1,2,50)"/>
<circle cx="7.09" cy="5.71" r="1.24" fill="rgb(0,1,39)"/>
<circle cx="-1.5" cy="-5.72" r="1.09" fill="rgb(1,3,57)"/>
<circle cx="-4.14" cy="8.24" r="1.18" fill="rgb(0,0,21)"/>
<circle cx="7.13" cy="5.89" r="1.86" fill="rgb(0,0,37)"/>
<circle cx="-9.14" cy="1" r="1.68" fill="rgb(0,1,40)"/>
<circle cx="-2.76" cy="-8.62" r="0.87" fill="rgb(0,0,18)"/>
<circle cx="0.04" cy="-7.25" r="1.46" fill="rgb(11,22,122)"/>
<circle cx="4.33" cy="-8.74" r="1.49" fill="rgb(3,6,73)"/>
<circle cx="6.81" cy="-2.81" r="0.83" fill="rgb(0,0,28)"/>
<circle cx="-0.17" cy="10.68" r="0.75" fill="rgb(0,1,42)"/>
<circle cx="7.55" cy="1.33" r="1.13" fill="rgb(1,3,59)"/>
<circle cx="5.74" cy="0.72" r="1.57" fill="rgb(6,12,95)"/>
<circle cx="2.44" cy="-5.33" r="0.94" fill="rgb(3,6,70)"/>
<circle cx="-3.53" cy="10.47" r="1.05" fill="rgb(0,0,25)"/>
<circle cx="2.12" cy="10.31" r="1.41" fill="rgb(0,1,43)"/>
<circle cx="4.56" cy="-6.2" r="1.63" fill="rgb(3,6,70)"/>
<circle cx="-1.68" cy="5.23" r="1.24" fill="rgb(2,4,62)"/>
<circle cx="2.26" cy="-8.84" r="1.42" fill="rgb(3,7,77)"/>
<circle cx="-0.85" cy="9.71" r="1.46" fill="rgb(1,3,60)"/>
<circle cx="-1.33" cy="-5.3" r="1.24" fill="rgb(0,0,26)"/>
<circle cx="-8.02" cy="-5.35" r="1.35" fill="rgb(0,0,34)"/>
<circle cx="2.1" cy="1.31" r="1.08" fill="rgb(0,0,24)"/>
<circle cx="0.18" cy="4.27" r="1.1" fill="rgb(0,0,37)"/>
<circle cx="4.91" cy="-9.76" r="1.58" fill="rgb(2,5,66)"/>
<circle cx="5.5" cy="0.39" r="1.54" fill="rgb(7,14,102)"/>
<circle cx="3.17" cy="-3.93" r="0.82" fill="rgb(0,0,30)"/>
<circle cx="-6.75" cy="-1.06" r="0.87" fill="rgb(0,1,39)"/>
<circle cx="6.93" cy="1.13" r="1.48" fill="rgb(6,12,95)"/>
<circle cx="-2.56" cy="-1.23" r="1.14" fill="rgb(0,1,38)"/>
<circle cx="-4.89" cy="-5.25" r="1.03" fill="rgb(1,3,59)"/>
<circle cx="-0.1" cy="-0.77" r="1.66" fill="rgb(0,0,22)"/>
<circle cx="3.76" cy="-4.96" r="1.85" fill="rgb(0,0,28)"/>
<circle cx="-2.83" cy="-1.85" r="1.38" fill="rgb(2,4,64)"/>
<circle cx="-2.46" cy="7.65" r="1.39" fill="rgb(0,1,40)"/>
<circle cx="-5.94" cy="3.57" r="1.07" fill="rgb(4,9,85)"/>
<circle cx="4.72" cy="-8.55" r="0.88" fill="rgb(2,5,69)"/>
<circle cx="6.13" cy="-7.31" r="1.79" fill="rgb(0,0,24)"/>
<circle cx="-4.77" cy="-0.07" r="1.9" fill="rgb(0,0,29)"/>
<circle cx="1.76" cy="-5.17" r="0.75" fill="rgb(6,12,94)"/>
<circle cx="-2.97" cy="-8.48" r="1.79" fill="rgb(4,8,82)"/>
<circle cx="-1.19" cy="-10.31" r="1.82" fill="rgb(1,2,50)"/>
<circle cx="-8.72" cy="4.12" r="1.19" fill="rgb(1,3,60)"/>
<circle cx="4.07" cy="-8.67" r="1.4" fill="rgb(0,0,25)"/>
<circle cx="-8.69" cy="0.78" r="1.54" fill="rgb(0,0,16)"/>
<circle cx="-7.74" cy="5.85" r="0.72" fill="rgb(0,0,31)"/>
<circle cx="-8.82" cy="1.94" r="1.35" fill="rgb(1,3,57)"/>
<circle cx="3.34" cy="-3.12" r="1.18" fill="rgb(0,0,22)"/>
<circle cx="-5.43" cy="-8.26" r="1.42" fill="rgb(0,0,18)"/>
<circle cx="-4.81" cy="6.65" r="0.89" fill="rgb(0,0,23)"/>
<circle cx="-4.3" cy="-5" r="1.31" fill="rgb(3,6,73)"/>
<circle cx="-2.86" cy="3.97" r="1.31" fill="rgb(3,6,70)"/>
<circle cx="-0.43" cy="11.12" r="1.63" fill="rgb(0,0,36)"/>
<circle cx="-4.13" cy="-9.44" r="1.86" fill="rgb(0,0,21)"/>
<circle cx="-3.75" cy="-2.65" r="0.77" fill="rgb(0,1,45)"/>
<circle cx="-3.12" cy="1.65" r="1.24" fill="rgb(0,0,19)"/>
<circle cx="5.22" cy="-8.34" r="1.63" fill="rgb(2,4,64)"/>
<circle cx="-6.48" cy="-5.91" r="0.86" fill="rgb(1,3,58)"/>
<circle cx="-8.28" cy="-1.05" r="1.75" fill="rgb(0,0,16)"/>
<circle cx="-2.81" cy="-5.95" r="1.27" fill="rgb(4,8,80)"/>
<circle cx="-1.23" cy="-8.28" r="1.31" fill="rgb(7,14,100)"/>
<circle cx="8.33" cy="5.29" r="1.39" fill="rgb(0,0,31)"/>
<circle cx="8.78" cy="-3.92" r="1.71" fill="rgb(0,0,18)"/>
<circle cx="7.53" cy="-1.62" r="1.26" fill="rgb(0,0,29)"/>
<circle cx="-2.39" cy="-0.48" r="1.47" fill="rgb(2,4,65)"/>
<circle cx="-8.26" cy="5.98" r="1.77" fill="rgb(0,0,25)"/>
<circle cx="4.93" cy="-6.03" r="1.24" fill="rgb(0,0,21)"/>
<circle cx="6.59" cy="5.16" r="1.32" fill="rgb(0,0,27)"/>
<circle cx="-5.41" cy="3.47" r="1.34" fill="rgb(3,6,74)"/>
<circle cx="-1" cy="4" r="0.8" fill="rgb(192,20,78)"/>
</g>
<g transform="translate(176.15 206.9)" filter="url(#b03)">
<path d="M13.66 0 L12.07 5.64 L8.1 9.85 L2.56 10.87 L-2.63 11.16 L-8.06 9.81 L-11.9 5.56 L-10.87 0 L-10.2 -4.76 L-8.4 -10.21 L-2.49 -10.57 L2.84 -12.07 L7.36 -8.95 L11.47 -5.36Z" fill="rgb(4,4,34)"/>
<circle cx="5.59" cy="-6.56" r="1.09" fill="rgb(2,4,65)"/>
<circle cx="-6.47" cy="-6.19" r="1.26" fill="rgb(0,0,35)"/>
<circle cx="3.64" cy="7.7" r="1.42" fill="rgb(0,0,25)"/>
<circle cx="3.29" cy="-9.74" r="1.2" fill="rgb(0,0,36)"/>
<circle cx="5.92" cy="-3.1" r="0.94" fill="rgb(7,14,109)"/>
<circle cx="-5.02" cy="-8.81" r="1.46" fill="rgb(0,1,41)"/>
<circle cx="9.66" cy="-5.82" r="1.33" fill="rgb(0,0,29)"/>
<circle cx="6.74" cy="1.72" r="0.89" fill="rgb(0,0,29)"/>
<circle cx="0.63" cy="0.92" r="0.99" fill="rgb(1,2,57)"/>
<circle cx="8" cy="3.91" r="1.46" fill="rgb(6,12,100)"/>
<circle cx="-7.9" cy="-2.42" r="1.07" fill="rgb(2,4,67)"/>
<circle cx="5.17" cy="-7.86" r="1.77" fill="rgb(7,15,113)"/>
<circle cx="4.35" cy="-6.89" r="1.58" fill="rgb(3,6,80)"/>
<circle cx="4.37" cy="-2.51" r="1.24" fill="rgb(1,2,58)"/>
<circle cx="7.16" cy="4.75" r="1.68" fill="rgb(4,9,91)"/>
<circle cx="-10.16" cy="-4.39" r="1.71" fill="rgb(0,1,48)"/>
<circle cx="9.36" cy="0.67" r="0.9" fill="rgb(0,0,30)"/>
<circle cx="-2.33" cy="4.16" r="0.95" fill="rgb(0,0,23)"/>
<circle cx="0.69" cy="5.6" r="0.8" fill="rgb(5,11,98)"/>
<circle cx="0.81" cy="2.51" r="0.97" fill="rgb(0,1,46)"/>
<circle cx="2.6" cy="7.45" r="1.76" fill="rgb(0,0,24)"/>
<circle cx="-10.46" cy="-3.39" r="1.17" fill="rgb(0,1,43)"/>
<circle cx="1.44" cy="6.82" r="1.44" fill="rgb(6,12,103)"/>
<circle cx="-1.72" cy="10.57" r="1.13" fill="rgb(0,0,29)"/>
<circle cx="1.76" cy="-10.67" r="0.71" fill="rgb(0,1,43)"/>
<circle cx="6.56" cy="1.23" r="0.74" fill="rgb(4,8,88)"/>
<circle cx="2.02" cy="4.15" r="1.07" fill="rgb(2,5,75)"/>
<circle cx="-3.71" cy="-8.51" r="1.23" fill="rgb(0,0,17)"/>
<circle cx="7.41" cy="6.87" r="1.14" fill="rgb(2,5,71)"/>
<circle cx="3.92" cy="-9.47" r="0.81" fill="rgb(0,0,22)"/>
<circle cx="-2.8" cy="5.67" r="1.21" fill="rgb(1,2,53)"/>
<circle cx="9.12" cy="-1.6" r="1.44" fill="rgb(2,4,70)"/>
<circle cx="0.87" cy="8.47" r="1.4" fill="rgb(0,0,36)"/>
<circle cx="6.8" cy="8.52" r="1.77" fill="rgb(0,1,42)"/>
<circle cx="0.96" cy="5.06" r="1.69" fill="rgb(0,0,39)"/>
<circle cx="4.59" cy="-8.61" r="0.87" fill="rgb(2,5,74)"/>
<circle cx="0.15" cy="2.03" r="0.85" fill="rgb(2,4,68)"/>
<circle cx="-1.9" cy="8.57" r="0.78" fill="rgb(0,0,37)"/>
<circle cx="4.8" cy="-3.69" r="1.55" fill="rgb(0,0,17)"/>
<circle cx="8.32" cy="-0.57" r="1.2" fill="rgb(0,0,19)"/>
<circle cx="-8.44" cy="4.85" r="1.7" fill="rgb(3,6,76)"/>
<circle cx="7.75" cy="-2.5" r="0.84" fill="rgb(4,8,87)"/>
<circle cx="-9.23" cy="-1.02" r="1.26" fill="rgb(4,9,92)"/>
<circle cx="-9.83" cy="4.14" r="0.77" fill="rgb(1,2,57)"/>
<circle cx="-5.6" cy="1.76" r="1.68" fill="rgb(5,10,94)"/>
<circle cx="6.08" cy="1.85" r="1.67" fill="rgb(5,11,97)"/>
<circle cx="1.47" cy="-6.89" r="1.72" fill="rgb(5,10,96)"/>
<circle cx="3.49" cy="-7.56" r="0.86" fill="rgb(4,8,85)"/>
<circle cx="1.34" cy="0.3" r="1.31" fill="rgb(0,0,19)"/>
<circle cx="8.06" cy="-2.91" r="1.61" fill="rgb(2,5,74)"/>
<circle cx="5.58" cy="-2.03" r="1.81" fill="rgb(1,2,55)"/>
<circle cx="-4.55" cy="8.27" r="0.88" fill="rgb(0,1,45)"/>
<circle cx="1.97" cy="6.49" r="1.76" fill="rgb(0,0,19)"/>
<circle cx="-3.41" cy="4.38" r="0.71" fill="rgb(2,5,75)"/>
<circle cx="0.57" cy="-7.56" r="1.18" fill="rgb(0,0,23)"/>
<circle cx="2.24" cy="-0.2" r="0.91" fill="rgb(0,0,31)"/>
<circle cx="3.95" cy="-5.56" r="0.85" fill="rgb(11,22,131)"/>
<circle cx="0.23" cy="1.83" r="0.92" fill="rgb(0,0,19)"/>
<circle cx="-9.12" cy="-6.53" r="0.98" fill="rgb(0,0,31)"/>
<circle cx="4.37" cy="10.21" r="1.29" fill="rgb(1,3,59)"/>
<circle cx="1.46" cy="9.34" r="1.32" fill="rgb(0,1,44)"/>
<circle cx="3.99" cy="-2.74" r="1.61" fill="rgb(1,2,58)"/>
<circle cx="-0.38" cy="-10.27" r="1.39" fill="rgb(1,3,62)"/>
<circle cx="1.22" cy="7.97" r="0.94" fill="rgb(10,21,128)"/>
<circle cx="-1.37" cy="4.83" r="0.82" fill="rgb(4,9,93)"/>
<circle cx="5.11" cy="7.18" r="1.21" fill="rgb(4,8,87)"/>
<circle cx="-0.08" cy="-9.5" r="0.79" fill="rgb(0,0,38)"/>
<circle cx="-3.22" cy="-8.29" r="1.54" fill="rgb(1,3,60)"/>
<circle cx="4.61" cy="1.92" r="1.57" fill="rgb(0,1,41)"/>
<circle cx="-1.98" cy="5.1" r="1.03" fill="rgb(0,0,32)"/>
<circle cx="-9.51" cy="0.17" r="0.82" fill="rgb(5,10,95)"/>
<circle cx="-10.55" cy="-3.59" r="0.85" fill="rgb(0,0,37)"/>
<circle cx="-5.84" cy="-8.43" r="0.8" fill="rgb(0,0,18)"/>
<circle cx="-2.37" cy="6.4" r="0.8" fill="rgb(0,0,28)"/>
<circle cx="-9.72" cy="5.25" r="1.03" fill="rgb(1,3,59)"/>
<circle cx="5.81" cy="-1.54" r="0.85" fill="rgb(0,0,26)"/>
<circle cx="10.7" cy="1.59" r="1.88" fill="rgb(1,2,51)"/>
<circle cx="-4.56" cy="4.82" r="0.8" fill="rgb(0,0,30)"/>
<circle cx="-3.89" cy="-9.81" r="0.99" fill="rgb(1,3,58)"/>
<circle cx="6" cy="-8.97" r="0.93" fill="rgb(0,0,18)"/>
<circle cx="7.61" cy="-8.22" r="0.78" fill="rgb(4,9,90)"/>
<circle cx="-8.02" cy="-5.83" r="1.35" fill="rgb(0,1,43)"/>
<circle cx="-10.1" cy="-4.7" r="1.13" fill="rgb(0,1,43)"/>
<circle cx="7.02" cy="8.03" r="1.85" fill="rgb(3,6,79)"/>
<circle cx="9.16" cy="-2.1" r="1.68" fill="rgb(2,4,66)"/>
<circle cx="-0.31" cy="-7.28" r="1.64" fill="rgb(1,2,57)"/>
<circle cx="-1" cy="9.97" r="1.16" fill="rgb(3,7,81)"/>
<circle cx="-9.91" cy="4.37" r="0.75" fill="rgb(0,0,22)"/>
<circle cx="6.66" cy="-8.55" r="1.12" fill="rgb(0,1,50)"/>
<circle cx="-5.66" cy="-8.99" r="1.77" fill="rgb(0,1,45)"/>
<circle cx="-4.21" cy="6.48" r="1.59" fill="rgb(2,4,65)"/>
<circle cx="-4.98" cy="4.51" r="1.5" fill="rgb(5,10,93)"/>
</g>
<g transform="translate(176.15 237.45)" filter="url(#b03)">
<circle cx="-0.92" cy="4.07" r="0.59" fill="rgb(119,10,12)"/>
<circle cx="-3.25" cy="3.42" r="0.65" fill="rgb(122,10,12)"/>
<circle cx="2.09" cy="2.67" r="0.33" fill="rgb(184,10,12)"/>
<circle cx="8.81" cy="2.16" r="0.71" fill="rgb(122,10,12)"/>
<circle cx="1.62" cy="6.32" r="0.42" fill="rgb(124,10,12)"/>
<circle cx="-0.87" cy="6.85" r="0.46" fill="rgb(200,10,12)"/>
<circle cx="1.64" cy="1.05" r="0.56" fill="rgb(191,10,12)"/>
<circle cx="10.35" cy="5.21" r="0.58" fill="rgb(157,10,12)"/>
<circle cx="-6.98" cy="8.11" r="0.56" fill="rgb(156,10,12)"/>
<circle cx="3.06" cy="2.22" r="0.53" fill="rgb(215,10,12)"/>
<circle cx="4.36" cy="-3.19" r="0.73" fill="rgb(121,10,12)"/>
<circle cx="-1.82" cy="-1.41" r="0.8" fill="rgb(221,10,12)"/>
<circle cx="-5.53" cy="7.68" r="0.48" fill="rgb(152,10,12)"/>
<circle cx="-1.18" cy="-5.53" r="0.69" fill="rgb(127,10,12)"/>
<circle cx="9.72" cy="7.05" r="0.57" fill="rgb(173,10,12)"/>
<circle cx="-2.47" cy="-6.61" r="0.66" fill="rgb(177,10,12)"/>
<circle cx="-5.67" cy="4.78" r="0.67" fill="rgb(171,10,12)"/>
<circle cx="4.43" cy="2.15" r="0.75" fill="rgb(223,10,12)"/>
<circle cx="0.17" cy="-1.26" r="0.56" fill="rgb(148,10,12)"/>
<circle cx="2.79" cy="-3.8" r="0.39" fill="rgb(149,10,12)"/>
<circle cx="0.67" cy="0.51" r="0.68" fill="rgb(171,10,12)"/>
<circle cx="2.51" cy="6.45" r="0.75" fill="rgb(117,10,12)"/>
<circle cx="-1.33" cy="10.18" r="0.5" fill="rgb(215,10,12)"/>
<circle cx="6.93" cy="0.34" r="0.4" fill="rgb(215,10,12)"/>
<circle cx="-3.72" cy="9.29" r="0.63" fill="rgb(177,10,12)"/>
<circle cx="-5.08" cy="7.46" r="0.79" fill="rgb(208,10,12)"/>
<circle cx="2.06" cy="0.15" r="0.42" fill="rgb(193,10,12)"/>
<circle cx="-8.09" cy="5.27" r="0.55" fill="rgb(219,10,12)"/>
<circle cx="10.15" cy="3.86" r="0.45" fill="rgb(193,10,12)"/>
<circle cx="-4.53" cy="-0.2" r="0.52" fill="rgb(195,10,12)"/>
<circle cx="3.05" cy="-0.03" r="0.66" fill="rgb(168,10,12)"/>
<circle cx="-1.97" cy="-1.41" r="0.64" fill="rgb(124,10,12)"/>
<circle cx="-6.33" cy="7.57" r="0.39" fill="rgb(190,10,12)"/>
<circle cx="-4.14" cy="4.29" r="0.43" fill="rgb(191,10,12)"/>
<circle cx="2.51" cy="6.32" r="0.35" fill="rgb(158,10,12)"/>
<circle cx="5.22" cy="5.07" r="0.55" fill="rgb(118,10,12)"/>
<circle cx="3.88" cy="5.39" r="0.76" fill="rgb(165,10,12)"/>
<circle cx="-1.63" cy="1.21" r="0.68" fill="rgb(113,10,12)"/>
<circle cx="6.17" cy="2.05" r="0.5" fill="rgb(208,10,12)"/>
<circle cx="1.87" cy="6.74" r="0.7" fill="rgb(208,10,12)"/>
<circle cx="-0.29" cy="5.56" r="0.65" fill="rgb(159,10,12)"/>
<circle cx="10.19" cy="-4.29" r="0.8" fill="rgb(182,10,12)"/>
<circle cx="7.28" cy="2.09" r="0.42" fill="rgb(218,10,12)"/>
<circle cx="5.55" cy="4.73" r="0.42" fill="rgb(184,10,12)"/>
<circle cx="-4.85" cy="1.5" r="0.7" fill="rgb(150,10,12)"/>
<circle cx="-8.62" cy="3.38" r="0.49" fill="rgb(126,10,12)"/>
<circle cx="-4.12" cy="2.9" r="0.56" fill="rgb(170,10,12)"/>
<circle cx="-2.13" cy="6.45" r="0.76" fill="rgb(178,10,12)"/>
<circle cx="1.46" cy="1.27" r="0.6" fill="rgb(119,10,12)"/>
<circle cx="2.55" cy="8.9" r="0.67" fill="rgb(179,10,12)"/>
<circle cx="-1.61" cy="4.56" r="0.74" fill="rgb(177,10,12)"/>
<circle cx="9.69" cy="5.33" r="0.34" fill="rgb(108,10,12)"/>
<circle cx="-6.81" cy="8.82" r="0.46" fill="rgb(133,10,12)"/>
<circle cx="-1.54" cy="-2.86" r="0.79" fill="rgb(162,10,12)"/>
<circle cx="-4.3" cy="5.57" r="0.34" fill="rgb(135,10,12)"/>
<circle cx="0.84" cy="-0.09" r="0.73" fill="rgb(146,10,12)"/>
<circle cx="1.57" cy="6.34" r="0.42" fill="rgb(156,10,12)"/>
<circle cx="-2.45" cy="-8.39" r="0.51" fill="rgb(156,10,12)"/>
<circle cx="0.74" cy="-0.68" r="0.45" fill="rgb(190,10,12)"/>
<circle cx="8.09" cy="7.48" r="0.37" fill="rgb(136,10,12)"/>
<circle cx="-2.24" cy="2.29" r="0.36" fill="rgb(218,10,12)"/>
<circle cx="-5.22" cy="3.25" r="0.79" fill="rgb(191,10,12)"/>
<circle cx="-0.89" cy="-3.89" r="0.79" fill="rgb(210,10,12)"/>
<circle cx="-0.06" cy="9.4" r="0.42" fill="rgb(104,10,12)"/>
<circle cx="-4.53" cy="9.65" r="0.43" fill="rgb(217,10,12)"/>
<circle cx="6.88" cy="-2.26" r="0.56" fill="rgb(125,10,12)"/>
<circle cx="1.13" cy="2.92" r="0.69" fill="rgb(205,10,12)"/>
<circle cx="-7.27" cy="1.68" r="0.61" fill="rgb(156,10,12)"/>
<circle cx="1.11" cy="-2.66" r="0.76" fill="rgb(172,10,12)"/>
<circle cx="-8.06" cy="5.91" r="0.65" fill="rgb(126,10,12)"/>
<circle cx="-5.18" cy="1.88" r="0.53" fill="rgb(155,10,12)"/>
<circle cx="-0.15" cy="-2.29" r="0.37" fill="rgb(204,10,12)"/>
<circle cx="-0.24" cy="0.97" r="0.69" fill="rgb(195,10,12)"/>
<circle cx="3.01" cy="8.11" r="0.31" fill="rgb(189,10,12)"/>
<circle cx="-4.58" cy="3.67" r="0.67" fill="rgb(216,10,12)"/>
<circle cx="1.27" cy="5.73" r="0.7" fill="rgb(209,10,12)"/>
<circle cx="-3.05" cy="6.49" r="0.48" fill="rgb(132,10,12)"/>
<circle cx="0.24" cy="1.12" r="0.38" fill="rgb(145,10,12)"/>
<circle cx="2.99" cy="-3.38" r="0.54" fill="rgb(112,10,12)"/>
<circle cx="1.94" cy="-0.61" r="0.58" fill="rgb(106,10,12)"/>
<circle cx="-2.03" cy="-2.97" r="0.47" fill="rgb(149,10,12)"/>
<circle cx="5.64" cy="7.98" r="0.61" fill="rgb(207,10,12)"/>
<circle cx="-1.95" cy="1.15" r="0.79" fill="rgb(202,10,12)"/>
<circle cx="5.04" cy="0.64" r="0.54" fill="rgb(136,10,12)"/>
<circle cx="-0.2" cy="10.35" r="0.7" fill="rgb(104,10,12)"/>
<circle cx="-5.89" cy="5.45" r="0.78" fill="rgb(168,10,12)"/>
<circle cx="1.37" cy="-0.33" r="0.62" fill="rgb(126,10,12)"/>
<circle cx="3.31" cy="1" r="0.65" fill="rgb(130,10,12)"/>
<circle cx="1.14" cy="-2.56" r="0.57" fill="rgb(137,10,12)"/>
<circle cx="-1.19" cy="-1.22" r="0.75" fill="rgb(201,10,12)"/>
<circle cx="0.18" cy="2.08" r="0.61" fill="rgb(154,10,12)"/>
<circle cx="-4.05" cy="4.04" r="0.57" fill="rgb(182,10,12)"/>
<circle cx="5.27" cy="-2.43" r="0.38" fill="rgb(143,10,12)"/>
<circle cx="-5.67" cy="7.99" r="0.39" fill="rgb(118,10,12)"/>
<circle cx="-4.38" cy="0.86" r="0.42" fill="rgb(131,10,12)"/>
<circle cx="-4.28" cy="6.01" r="0.77" fill="rgb(183,10,12)"/>
<circle cx="-0.18" cy="8.86" r="0.59" fill="rgb(177,10,12)"/>
<circle cx="0.17" cy="0.91" r="0.63" fill="rgb(159,10,12)"/>
<circle cx="-1.97" cy="3.15" r="0.48" fill="rgb(199,10,12)"/>
<circle cx="-0.97" cy="-3.11" r="0.57" fill="rgb(177,10,12)"/>
<circle cx="4.26" cy="3.91" r="0.57" fill="rgb(194,10,12)"/>
<circle cx="1.05" cy="5.25" r="0.32" fill="rgb(201,10,12)"/>
<circle cx="3.17" cy="6.97" r="0.7" fill="rgb(128,10,12)"/>
<circle cx="-0.27" cy="6.75" r="0.6" fill="rgb(153,10,12)"/>
<circle cx="3.7" cy="1.75" r="0.7" fill="rgb(118,10,12)"/>
<circle cx="-1.55" cy="5.44" r="0.6" fill="rgb(108,10,12)"/>
<circle cx="-1.18" cy="2.75" r="0.73" fill="rgb(223,10,12)"/>
<circle cx="-8.43" cy="4.76" r="0.69" fill="rgb(214,10,12)"/>
<circle cx="-1.85" cy="5.98" r="0.55" fill="rgb(106,10,12)"/>
<circle cx="3.73" cy="3.07" r="0.57" fill="rgb(143,10,12)"/>
<circle cx="-3.3" cy="2.14" r="0.37" fill="rgb(203,10,12)"/>
<circle cx="-8.69" cy="2.12" r="0.46" fill="rgb(163,10,12)"/>
<circle cx="-0.95" cy="4" r="0.42" fill="rgb(148,10,12)"/>
<circle cx="-2.1" cy="3.89" r="0.38" fill="rgb(162,10,12)"/>
<circle cx="-0.94" cy="6.97" r="0.45" fill="rgb(199,10,12)"/>
<circle cx="-2.99" cy="5.76" r="0.77" fill="rgb(152,10,12)"/>
<circle cx="1.29" cy="7.37" r="0.47" fill="rgb(152,10,12)"/>
<circle cx="5.02" cy="5.15" r="0.76" fill="rgb(136,10,12)"/>
<circle cx="5.54" cy="1.45" r="0.41" fill="rgb(165,10,12)"/>
<circle cx="2.3" cy="1.03" r="0.66" fill="rgb(150,10,12)"/>
<circle cx="8.24" cy="3.49" r="0.73" fill="rgb(118,10,12)"/>
<circle cx="7.46" cy="6.25" r="0.47" fill="rgb(199,10,12)"/>
<circle cx="-3.74" cy="-2.76" r="0.64" fill="rgb(154,10,12)"/>
<circle cx="-1.91" cy="-1.39" r="0.33" fill="rgb(205,10,12)"/>
<circle cx="-4.14" cy="-1.32" r="0.33" fill="rgb(107,10,12)"/>
<circle cx="1.57" cy="9.02" r="0.76" fill="rgb(217,10,12)"/>
<circle cx="2.2" cy="1.28" r="0.42" fill="rgb(195,10,12)"/>
<circle cx="3" cy="-7" r="0.8" fill="rgb(240,10,12)"/>
<circle cx="-2" cy="6" r="0.7" fill="rgb(224,10,12)"/>
<circle cx="1" cy="8" r="0.6" fill="rgb(224,10,12)"/>
<circle cx="-5" cy="4" r="0.6" fill="rgb(208,10,12)"/>
</g>
<g transform="translate(176.15 267.6)" filter="url(#b03)">
<path d="M13.66 0 L12.07 5.64 L8.1 9.85 L2.56 10.87 L-2.63 11.16 L-8.06 9.81 L-11.9 5.56 L-10.87 0 L-10.2 -4.76 L-8.4 -10.21 L-2.49 -10.57 L2.84 -12.07 L7.36 -8.95 L11.47 -5.36Z" fill="rgb(4,4,23)"/>
<circle cx="5.59" cy="-6.56" r="1.09" fill="rgb(1,2,39)"/>
<circle cx="-6.47" cy="-6.19" r="1.26" fill="rgb(0,0,22)"/>
<circle cx="3.64" cy="7.7" r="1.42" fill="rgb(0,0,16)"/>
<circle cx="3.29" cy="-9.74" r="1.2" fill="rgb(0,0,22)"/>
<circle cx="5.92" cy="-3.1" r="0.94" fill="rgb(4,8,65)"/>
<circle cx="-5.02" cy="-8.81" r="1.46" fill="rgb(0,0,25)"/>
<circle cx="9.66" cy="-5.82" r="1.33" fill="rgb(0,0,18)"/>
<circle cx="6.74" cy="1.72" r="0.89" fill="rgb(0,0,19)"/>
<circle cx="0.63" cy="0.92" r="0.99" fill="rgb(0,1,34)"/>
<circle cx="8" cy="3.91" r="1.46" fill="rgb(3,7,60)"/>
<circle cx="-7.9" cy="-2.42" r="1.07" fill="rgb(1,2,41)"/>
<circle cx="5.17" cy="-7.86" r="1.77" fill="rgb(4,9,67)"/>
<circle cx="4.35" cy="-6.89" r="1.58" fill="rgb(2,4,48)"/>
<circle cx="4.37" cy="-2.51" r="1.24" fill="rgb(0,1,35)"/>
<circle cx="7.16" cy="4.75" r="1.68" fill="rgb(2,5,54)"/>
<circle cx="-10.16" cy="-4.39" r="1.71" fill="rgb(0,0,29)"/>
<circle cx="9.36" cy="0.67" r="0.9" fill="rgb(0,0,19)"/>
<circle cx="-2.33" cy="4.16" r="0.95" fill="rgb(0,0,15)"/>
<circle cx="0.69" cy="5.6" r="0.8" fill="rgb(3,6,59)"/>
<circle cx="0.81" cy="2.51" r="0.97" fill="rgb(0,0,28)"/>
<circle cx="2.6" cy="7.45" r="1.76" fill="rgb(0,0,15)"/>
<circle cx="-10.46" cy="-3.39" r="1.17" fill="rgb(0,0,26)"/>
<circle cx="1.44" cy="6.82" r="1.44" fill="rgb(3,7,61)"/>
<circle cx="-1.72" cy="10.57" r="1.13" fill="rgb(0,0,18)"/>
<circle cx="1.76" cy="-10.67" r="0.71" fill="rgb(0,0,26)"/>
<circle cx="6.56" cy="1.23" r="0.74" fill="rgb(2,5,53)"/>
<circle cx="2.02" cy="4.15" r="1.07" fill="rgb(1,3,45)"/>
<circle cx="-3.71" cy="-8.51" r="1.23" fill="rgb(0,0,11)"/>
<circle cx="7.41" cy="6.87" r="1.14" fill="rgb(1,2,43)"/>
<circle cx="3.92" cy="-9.47" r="0.81" fill="rgb(0,0,14)"/>
<circle cx="-2.8" cy="5.67" r="1.21" fill="rgb(0,1,32)"/>
<circle cx="9.12" cy="-1.6" r="1.44" fill="rgb(1,2,42)"/>
<circle cx="0.87" cy="8.47" r="1.4" fill="rgb(0,0,22)"/>
<circle cx="6.8" cy="8.52" r="1.77" fill="rgb(0,0,26)"/>
<circle cx="0.96" cy="5.06" r="1.69" fill="rgb(0,0,24)"/>
<circle cx="4.59" cy="-8.61" r="0.87" fill="rgb(1,3,44)"/>
<circle cx="0.15" cy="2.03" r="0.85" fill="rgb(1,2,41)"/>
<circle cx="-1.9" cy="8.57" r="0.78" fill="rgb(0,0,23)"/>
<circle cx="4.8" cy="-3.69" r="1.55" fill="rgb(0,0,11)"/>
<circle cx="8.32" cy="-0.57" r="1.2" fill="rgb(0,0,12)"/>
<circle cx="-8.44" cy="4.85" r="1.7" fill="rgb(1,3,46)"/>
<circle cx="7.75" cy="-2.5" r="0.84" fill="rgb(2,4,52)"/>
<circle cx="-9.23" cy="-1.02" r="1.26" fill="rgb(2,5,55)"/>
<circle cx="-9.83" cy="4.14" r="0.77" fill="rgb(0,1,34)"/>
<circle cx="-5.6" cy="1.76" r="1.68" fill="rgb(2,5,56)"/>
<circle cx="6.08" cy="1.85" r="1.67" fill="rgb(3,6,58)"/>
<circle cx="1.47" cy="-6.89" r="1.72" fill="rgb(3,6,57)"/>
<circle cx="3.49" cy="-7.56" r="0.86" fill="rgb(2,4,51)"/>
<circle cx="1.34" cy="0.3" r="1.31" fill="rgb(0,0,13)"/>
<circle cx="8.06" cy="-2.91" r="1.61" fill="rgb(1,3,44)"/>
<circle cx="5.58" cy="-2.03" r="1.81" fill="rgb(0,1,34)"/>
<circle cx="-4.55" cy="8.27" r="0.88" fill="rgb(0,0,28)"/>
<circle cx="1.97" cy="6.49" r="1.76" fill="rgb(0,0,13)"/>
<circle cx="-3.41" cy="4.38" r="0.71" fill="rgb(1,3,45)"/>
<circle cx="0.57" cy="-7.56" r="1.18" fill="rgb(0,0,15)"/>
<circle cx="2.24" cy="-0.2" r="0.91" fill="rgb(0,0,20)"/>
<circle cx="3.95" cy="-5.56" r="0.85" fill="rgb(6,13,78)"/>
<circle cx="0.23" cy="1.83" r="0.92" fill="rgb(0,0,12)"/>
<circle cx="-9.12" cy="-6.53" r="0.98" fill="rgb(0,0,19)"/>
<circle cx="4.37" cy="10.21" r="1.29" fill="rgb(0,1,35)"/>
<circle cx="1.46" cy="9.34" r="1.32" fill="rgb(0,0,27)"/>
<circle cx="3.99" cy="-2.74" r="1.61" fill="rgb(0,1,35)"/>
<circle cx="-0.38" cy="-10.27" r="1.39" fill="rgb(1,2,38)"/>
<circle cx="1.22" cy="7.97" r="0.94" fill="rgb(6,12,76)"/>
<circle cx="-1.37" cy="4.83" r="0.82" fill="rgb(2,5,55)"/>
<circle cx="5.11" cy="7.18" r="1.21" fill="rgb(2,4,52)"/>
<circle cx="-0.08" cy="-9.5" r="0.79" fill="rgb(0,0,23)"/>
<circle cx="-3.22" cy="-8.29" r="1.54" fill="rgb(0,1,37)"/>
<circle cx="4.61" cy="1.92" r="1.57" fill="rgb(0,0,25)"/>
<circle cx="-1.98" cy="5.1" r="1.03" fill="rgb(0,0,20)"/>
<circle cx="-9.51" cy="0.17" r="0.82" fill="rgb(3,6,57)"/>
<circle cx="-10.55" cy="-3.59" r="0.85" fill="rgb(0,0,23)"/>
<circle cx="-5.84" cy="-8.43" r="0.8" fill="rgb(0,0,12)"/>
<circle cx="-2.37" cy="6.4" r="0.8" fill="rgb(0,0,17)"/>
<circle cx="-9.72" cy="5.25" r="1.03" fill="rgb(0,1,36)"/>
<circle cx="5.81" cy="-1.54" r="0.85" fill="rgb(0,0,17)"/>
<circle cx="10.7" cy="1.59" r="1.88" fill="rgb(0,1,31)"/>
<circle cx="-4.56" cy="4.82" r="0.8" fill="rgb(0,0,19)"/>
<circle cx="-3.89" cy="-9.81" r="0.99" fill="rgb(0,1,35)"/>
<circle cx="6" cy="-8.97" r="0.93" fill="rgb(0,0,12)"/>
<circle cx="7.61" cy="-8.22" r="0.78" fill="rgb(2,5,54)"/>
<circle cx="-8.02" cy="-5.83" r="1.35" fill="rgb(0,0,27)"/>
<circle cx="-10.1" cy="-4.7" r="1.13" fill="rgb(0,0,26)"/>
<circle cx="7.02" cy="8.03" r="1.85" fill="rgb(1,3,48)"/>
<circle cx="9.16" cy="-2.1" r="1.68" fill="rgb(1,2,40)"/>
<circle cx="-0.31" cy="-7.28" r="1.64" fill="rgb(0,1,35)"/>
<circle cx="-1" cy="9.97" r="1.16" fill="rgb(2,4,48)"/>
<circle cx="-9.91" cy="4.37" r="0.75" fill="rgb(0,0,14)"/>
<circle cx="6.66" cy="-8.55" r="1.12" fill="rgb(0,1,30)"/>
<circle cx="-5.66" cy="-8.99" r="1.77" fill="rgb(0,0,27)"/>
<circle cx="-4.21" cy="6.48" r="1.59" fill="rgb(1,2,40)"/>
<circle cx="-4.98" cy="4.51" r="1.5" fill="rgb(2,5,56)"/>
<circle cx="-0.92" cy="4.07" r="0.59" fill="rgb(119,20,59)"/>
<circle cx="-3.25" cy="3.42" r="0.65" fill="rgb(122,20,60)"/>
<circle cx="2.09" cy="2.67" r="0.33" fill="rgb(184,20,76)"/>
<circle cx="8.81" cy="2.16" r="0.71" fill="rgb(122,20,60)"/>
<circle cx="1.62" cy="6.32" r="0.42" fill="rgb(124,20,61)"/>
<circle cx="-0.87" cy="6.85" r="0.46" fill="rgb(200,20,80)"/>
<circle cx="1.64" cy="1.05" r="0.56" fill="rgb(191,20,77)"/>
<circle cx="10.35" cy="5.21" r="0.58" fill="rgb(157,20,69)"/>
<circle cx="-6.98" cy="8.11" r="0.56" fill="rgb(156,20,69)"/>
<circle cx="3.06" cy="2.22" r="0.53" fill="rgb(215,20,83)"/>
<circle cx="4.36" cy="-3.19" r="0.73" fill="rgb(121,20,60)"/>
<circle cx="-1.82" cy="-1.41" r="0.8" fill="rgb(221,20,85)"/>
<circle cx="-5.53" cy="7.68" r="0.48" fill="rgb(152,20,68)"/>
<circle cx="-1.18" cy="-5.53" r="0.69" fill="rgb(127,20,61)"/>
<circle cx="9.72" cy="7.05" r="0.57" fill="rgb(173,20,73)"/>
<circle cx="-2.47" cy="-6.61" r="0.66" fill="rgb(177,20,74)"/>
<circle cx="-5.67" cy="4.78" r="0.67" fill="rgb(171,20,72)"/>
<circle cx="4.43" cy="2.15" r="0.75" fill="rgb(223,20,85)"/>
<circle cx="0.17" cy="-1.26" r="0.56" fill="rgb(148,20,67)"/>
<circle cx="2.79" cy="-3.8" r="0.39" fill="rgb(149,20,67)"/>
<circle cx="0.67" cy="0.51" r="0.68" fill="rgb(171,20,72)"/>
<circle cx="2.51" cy="6.45" r="0.75" fill="rgb(117,20,59)"/>
<circle cx="-1.33" cy="10.18" r="0.5" fill="rgb(215,20,83)"/>
<circle cx="6.93" cy="0.34" r="0.4" fill="rgb(215,20,83)"/>
<circle cx="-3.72" cy="9.29" r="0.63" fill="rgb(177,20,74)"/>
<circle cx="-5.08" cy="7.46" r="0.79" fill="rgb(208,20,82)"/>
<circle cx="2.06" cy="0.15" r="0.42" fill="rgb(193,20,78)"/>
<circle cx="-8.09" cy="5.27" r="0.55" fill="rgb(219,20,84)"/>
<circle cx="10.15" cy="3.86" r="0.45" fill="rgb(193,20,78)"/>
<circle cx="-4.53" cy="-0.2" r="0.52" fill="rgb(195,20,78)"/>
<circle cx="3.05" cy="-0.03" r="0.66" fill="rgb(168,20,72)"/>
<circle cx="-1.97" cy="-1.41" r="0.64" fill="rgb(124,20,61)"/>
<circle cx="-6.33" cy="7.57" r="0.39" fill="rgb(190,20,77)"/>
<circle cx="-4.14" cy="4.29" r="0.43" fill="rgb(191,20,77)"/>
<circle cx="2.51" cy="6.32" r="0.35" fill="rgb(158,20,69)"/>
<circle cx="5.22" cy="5.07" r="0.55" fill="rgb(118,20,59)"/>
<circle cx="3.88" cy="5.39" r="0.76" fill="rgb(165,20,71)"/>
<circle cx="-1.63" cy="1.21" r="0.68" fill="rgb(113,20,58)"/>
<circle cx="6.17" cy="2.05" r="0.5" fill="rgb(208,20,82)"/>
<circle cx="1.87" cy="6.74" r="0.7" fill="rgb(208,20,82)"/>
<circle cx="-0.29" cy="5.56" r="0.65" fill="rgb(159,20,69)"/>
<circle cx="10.19" cy="-4.29" r="0.8" fill="rgb(182,20,75)"/>
<circle cx="7.28" cy="2.09" r="0.42" fill="rgb(218,20,84)"/>
<circle cx="5.55" cy="4.73" r="0.42" fill="rgb(184,20,76)"/>
<circle cx="-4.85" cy="1.5" r="0.7" fill="rgb(150,20,67)"/>
<circle cx="-8.62" cy="3.38" r="0.49" fill="rgb(126,20,61)"/>
<circle cx="-4.12" cy="2.9" r="0.56" fill="rgb(170,20,72)"/>
<circle cx="-2.13" cy="6.45" r="0.76" fill="rgb(178,20,74)"/>
<circle cx="1.46" cy="1.27" r="0.6" fill="rgb(119,20,59)"/>
<circle cx="2.55" cy="8.9" r="0.67" fill="rgb(179,20,74)"/>
<circle cx="-1.61" cy="4.56" r="0.74" fill="rgb(177,20,74)"/>
<circle cx="9.69" cy="5.33" r="0.34" fill="rgb(108,20,57)"/>
<circle cx="-6.81" cy="8.82" r="0.46" fill="rgb(133,20,63)"/>
<circle cx="-1.54" cy="-2.86" r="0.79" fill="rgb(162,20,70)"/>
<circle cx="-4.3" cy="5.57" r="0.34" fill="rgb(135,20,63)"/>
<circle cx="0.84" cy="-0.09" r="0.73" fill="rgb(146,20,66)"/>
<circle cx="1.57" cy="6.34" r="0.42" fill="rgb(156,20,69)"/>
<circle cx="-2.45" cy="-8.39" r="0.51" fill="rgb(156,20,69)"/>
<circle cx="0.74" cy="-0.68" r="0.45" fill="rgb(190,20,77)"/>
<circle cx="8.09" cy="7.48" r="0.37" fill="rgb(136,20,64)"/>
<circle cx="-2.24" cy="2.29" r="0.36" fill="rgb(218,20,84)"/>
<circle cx="-5.22" cy="3.25" r="0.79" fill="rgb(191,20,77)"/>
<circle cx="-0.89" cy="-3.89" r="0.79" fill="rgb(210,20,82)"/>
<circle cx="-0.06" cy="9.4" r="0.42" fill="rgb(104,20,56)"/>
<circle cx="-4.53" cy="9.65" r="0.43" fill="rgb(217,20,84)"/>
<circle cx="6.88" cy="-2.26" r="0.56" fill="rgb(125,20,61)"/>
<circle cx="1.13" cy="2.92" r="0.69" fill="rgb(205,20,81)"/>
<circle cx="-7.27" cy="1.68" r="0.61" fill="rgb(156,20,69)"/>
<circle cx="1.11" cy="-2.66" r="0.76" fill="rgb(172,20,73)"/>
<circle cx="-8.06" cy="5.91" r="0.65" fill="rgb(126,20,61)"/>
<circle cx="-5.18" cy="1.88" r="0.53" fill="rgb(155,20,68)"/>
<circle cx="-0.15" cy="-2.29" r="0.37" fill="rgb(204,20,81)"/>
<circle cx="-0.24" cy="0.97" r="0.69" fill="rgb(195,20,78)"/>
<circle cx="3.01" cy="8.11" r="0.31" fill="rgb(189,20,77)"/>
<circle cx="-4.58" cy="3.67" r="0.67" fill="rgb(216,20,84)"/>
<circle cx="1.27" cy="5.73" r="0.7" fill="rgb(209,20,82)"/>
<circle cx="-3.05" cy="6.49" r="0.48" fill="rgb(132,20,63)"/>
<circle cx="0.24" cy="1.12" r="0.38" fill="rgb(145,20,66)"/>
<circle cx="2.99" cy="-3.38" r="0.54" fill="rgb(112,20,58)"/>
<circle cx="1.94" cy="-0.61" r="0.58" fill="rgb(106,20,56)"/>
<circle cx="-2.03" cy="-2.97" r="0.47" fill="rgb(149,20,67)"/>
<circle cx="5.64" cy="7.98" r="0.61" fill="rgb(207,20,81)"/>
<circle cx="-1.95" cy="1.15" r="0.79" fill="rgb(202,20,80)"/>
<circle cx="5.04" cy="0.64" r="0.54" fill="rgb(136,20,64)"/>
<circle cx="-0.2" cy="10.35" r="0.7" fill="rgb(104,20,56)"/>
<circle cx="-5.89" cy="5.45" r="0.78" fill="rgb(168,20,72)"/>
<circle cx="1.37" cy="-0.33" r="0.62" fill="rgb(126,20,61)"/>
<circle cx="3.31" cy="1" r="0.65" fill="rgb(130,20,62)"/>
<circle cx="1.14" cy="-2.56" r="0.57" fill="rgb(137,20,64)"/>
<circle cx="-1.19" cy="-1.22" r="0.75" fill="rgb(201,20,80)"/>
<circle cx="0.18" cy="2.08" r="0.61" fill="rgb(154,20,68)"/>
<circle cx="-4.05" cy="4.04" r="0.57" fill="rgb(182,20,75)"/>
<circle cx="5.27" cy="-2.43" r="0.38" fill="rgb(143,20,65)"/>
<circle cx="-5.67" cy="7.99" r="0.39" fill="rgb(118,20,59)"/>
<circle cx="-4.38" cy="0.86" r="0.42" fill="rgb(131,20,62)"/>
<circle cx="-4.28" cy="6.01" r="0.77" fill="rgb(183,20,75)"/>
<circle cx="-0.18" cy="8.86" r="0.59" fill="rgb(177,20,74)"/>
<circle cx="0.17" cy="0.91" r="0.63" fill="rgb(159,20,69)"/>
<circle cx="-1.97" cy="3.15" r="0.48" fill="rgb(199,20,79)"/>
<circle cx="-0.97" cy="-3.11" r="0.57" fill="rgb(177,20,74)"/>
<circle cx="4.26" cy="3.91" r="0.57" fill="rgb(194,20,78)"/>
<circle cx="1.05" cy="5.25" r="0.32" fill="rgb(201,20,80)"/>
<circle cx="3.17" cy="6.97" r="0.7" fill="rgb(128,20,62)"/>
<circle cx="-0.27" cy="6.75" r="0.6" fill="rgb(153,20,68)"/>
<circle cx="3.7" cy="1.75" r="0.7" fill="rgb(118,20,59)"/>
<circle cx="-1.55" cy="5.44" r="0.6" fill="rgb(108,20,57)"/>
<circle cx="-1.18" cy="2.75" r="0.73" fill="rgb(223,20,85)"/>
<circle cx="-8.43" cy="4.76" r="0.69" fill="rgb(214,20,83)"/>
<circle cx="-1.85" cy="5.98" r="0.55" fill="rgb(106,20,56)"/>
<circle cx="3.73" cy="3.07" r="0.57" fill="rgb(143,20,65)"/>
<circle cx="-3.3" cy="2.14" r="0.37" fill="rgb(203,20,80)"/>
<circle cx="-8.69" cy="2.12" r="0.46" fill="rgb(163,20,70)"/>
<circle cx="-0.95" cy="4" r="0.42" fill="rgb(148,20,67)"/>
<circle cx="-2.1" cy="3.89" r="0.38" fill="rgb(162,20,70)"/>
<circle cx="-0.94" cy="6.97" r="0.45" fill="rgb(199,20,79)"/>
<circle cx="-2.99" cy="5.76" r="0.77" fill="rgb(152,20,68)"/>
<circle cx="1.29" cy="7.37" r="0.47" fill="rgb(152,20,68)"/>
<circle cx="5.02" cy="5.15" r="0.76" fill="rgb(136,20,64)"/>
<circle cx="5.54" cy="1.45" r="0.41" fill="rgb(165,20,71)"/>
<circle cx="2.3" cy="1.03" r="0.66" fill="rgb(150,20,67)"/>
<circle cx="8.24" cy="3.49" r="0.73" fill="rgb(118,20,59)"/>
<circle cx="7.46" cy="6.25" r="0.47" fill="rgb(199,20,79)"/>
<circle cx="-3.74" cy="-2.76" r="0.64" fill="rgb(154,20,68)"/>
<circle cx="-1.91" cy="-1.39" r="0.33" fill="rgb(205,20,81)"/>
<circle cx="-4.14" cy="-1.32" r="0.33" fill="rgb(107,20,56)"/>
<circle cx="1.57" cy="9.02" r="0.76" fill="rgb(217,20,84)"/>
<circle cx="2.2" cy="1.28" r="0.42" fill="rgb(195,20,78)"/>
<circle cx="3" cy="-7" r="0.8" fill="rgb(240,20,90)"/>
<circle cx="-2" cy="6" r="0.7" fill="rgb(224,20,86)"/>
<circle cx="1" cy="8" r="0.6" fill="rgb(224,20,86)"/>
<circle cx="-5" cy="4" r="0.6" fill="rgb(208,20,82)"/>
</g>
<g transform="translate(207.8 206.9)" filter="url(#b03)">
<path d="M13.42 0 L10.68 4.99 L8.2 9.98 L3.03 12.89 L-2.61 11.11 L-8.16 9.93 L-10.64 4.97 L-11.31 0 L-10.68 -4.99 L-8.13 -9.89 L-2.51 -10.65 L2.84 -12.08 L7.4 -9 L10.2 -4.77Z" fill="rgb(4,4,10)"/>
<circle cx="-6.36" cy="2.99" r="1.76" fill="rgb(0,0,7)"/>
<circle cx="4.73" cy="-2.59" r="1.43" fill="rgb(0,0,11)"/>
<circle cx="9.89" cy="-2.56" r="1" fill="rgb(0,0,7)"/>
<circle cx="10.2" cy="-4.85" r="0.84" fill="rgb(0,0,8)"/>
<circle cx="4.39" cy="-8.86" r="1.87" fill="rgb(0,0,9)"/>
<circle cx="9.58" cy="-1.47" r="1.34" fill="rgb(0,0,6)"/>
<circle cx="-9.85" cy="-0.29" r="1.69" fill="rgb(0,0,8)"/>
<circle cx="-8.64" cy="-0.84" r="1.65" fill="rgb(0,0,9)"/>
<circle cx="8.58" cy="-3.96" r="1.2" fill="rgb(0,0,5)"/>
<circle cx="-1.46" cy="5.6" r="0.83" fill="rgb(0,0,5)"/>
<circle cx="-9.93" cy="1.19" r="1.86" fill="rgb(0,0,9)"/>
<circle cx="-1.18" cy="-0.67" r="0.77" fill="rgb(0,0,7)"/>
<circle cx="4.32" cy="-4.71" r="1.24" fill="rgb(0,0,9)"/>
<circle cx="-9.02" cy="-5.24" r="0.79" fill="rgb(0,0,8)"/>
<circle cx="-4.46" cy="-5.05" r="1.02" fill="rgb(0,0,10)"/>
<circle cx="0.55" cy="10.84" r="0.8" fill="rgb(0,0,7)"/>
<circle cx="3.1" cy="-10.38" r="0.9" fill="rgb(0,0,7)"/>
<circle cx="4.39" cy="-4.91" r="0.75" fill="rgb(0,0,6)"/>
<circle cx="4.02" cy="-3.72" r="1.14" fill="rgb(0,0,5)"/>
<circle cx="-3.47" cy="-10.73" r="1.44" fill="rgb(0,0,6)"/>
<circle cx="-1.32" cy="10.41" r="1.52" fill="rgb(0,0,7)"/>
<circle cx="4.33" cy="-7.04" r="0.71" fill="rgb(0,0,7)"/>
<circle cx="4.75" cy="8.12" r="1.39" fill="rgb(0,0,8)"/>
<circle cx="9.3" cy="2.97" r="1.73" fill="rgb(0,0,9)"/>
<circle cx="0.03" cy="-9.2" r="1.13" fill="rgb(0,0,6)"/>
<circle cx="3.33" cy="8.43" r="1.67" fill="rgb(0,0,6)"/>
<circle cx="0.65" cy="5.76" r="1.04" fill="rgb(0,0,5)"/>
<circle cx="1.78" cy="-10.11" r="0.74" fill="rgb(0,0,9)"/>
<circle cx="-3.36" cy="-7.78" r="1.83" fill="rgb(0,0,6)"/>
<circle cx="-2.61" cy="-5.76" r="1.23" fill="rgb(0,0,9)"/>
<circle cx="-7.67" cy="1.44" r="0.73" fill="rgb(0,0,7)"/>
<circle cx="2.65" cy="-5.62" r="0.91" fill="rgb(0,0,7)"/>
<circle cx="-2.73" cy="-1.25" r="0.95" fill="rgb(0,0,5)"/>
<circle cx="6.76" cy="-6.44" r="0.81" fill="rgb(0,0,8)"/>
<circle cx="-9.24" cy="2.92" r="1.24" fill="rgb(0,0,8)"/>
<circle cx="6.16" cy="3.23" r="1.77" fill="rgb(0,0,10)"/>
<circle cx="-5.06" cy="-4.4" r="1.39" fill="rgb(0,0,8)"/>
<circle cx="-10.14" cy="2.47" r="0.82" fill="rgb(0,0,7)"/>
<circle cx="-1.05" cy="-9.39" r="1.33" fill="rgb(0,0,5)"/>
<circle cx="9" cy="-1.26" r="1.27" fill="rgb(0,0,8)"/>
<circle cx="-9.99" cy="5.11" r="1.26" fill="rgb(0,0,6)"/>
<circle cx="6.71" cy="4.54" r="1.53" fill="rgb(0,0,8)"/>
<circle cx="5.73" cy="-0.8" r="1.13" fill="rgb(0,0,6)"/>
<circle cx="-5.49" cy="9.3" r="1.27" fill="rgb(0,0,6)"/>
<circle cx="7.22" cy="-0.04" r="1.2" fill="rgb(0,0,7)"/>
<circle cx="-2.83" cy="5.74" r="0.72" fill="rgb(0,0,9)"/>
<circle cx="9.28" cy="4.11" r="1.21" fill="rgb(0,0,8)"/>
<circle cx="-7.71" cy="0.97" r="1.22" fill="rgb(0,0,6)"/>
<circle cx="-5.38" cy="6.82" r="1.41" fill="rgb(0,0,6)"/>
<circle cx="10.87" cy="2.86" r="1.27" fill="rgb(0,0,5)"/>
<circle cx="-2.9" cy="2.86" r="1.24" fill="rgb(0,1,13)"/>
<circle cx="2.54" cy="5.95" r="1.35" fill="rgb(0,0,6)"/>
<circle cx="11.09" cy="-0.11" r="1.55" fill="rgb(0,0,6)"/>
<circle cx="-9.1" cy="-3.83" r="0.75" fill="rgb(0,0,5)"/>
<circle cx="7.79" cy="7.43" r="0.75" fill="rgb(0,0,5)"/>
<circle cx="-2.71" cy="0.65" r="1.84" fill="rgb(0,0,6)"/>
<circle cx="4.17" cy="8.94" r="1.25" fill="rgb(0,0,9)"/>
<circle cx="-4.87" cy="1.83" r="1.34" fill="rgb(0,0,7)"/>
<circle cx="-7.45" cy="-3.54" r="1.76" fill="rgb(0,0,6)"/>
<circle cx="-6.73" cy="1.79" r="1.71" fill="rgb(0,0,7)"/>
<circle cx="-7.73" cy="-5.93" r="1.13" fill="rgb(0,0,9)"/>
<circle cx="-0.61" cy="-3.45" r="1.25" fill="rgb(0,0,9)"/>
<circle cx="-3.55" cy="2.94" r="1.11" fill="rgb(0,0,11)"/>
<circle cx="-3.04" cy="2.4" r="1.74" fill="rgb(0,0,12)"/>
<circle cx="2.92" cy="6.41" r="0.93" fill="rgb(0,0,6)"/>
<circle cx="4.29" cy="-7.75" r="1.53" fill="rgb(0,0,9)"/>
<circle cx="-4.96" cy="8.68" r="1.41" fill="rgb(0,0,5)"/>
<circle cx="-3.15" cy="-0.3" r="1.32" fill="rgb(0,0,7)"/>
<circle cx="2.3" cy="2.26" r="1.87" fill="rgb(0,0,11)"/>
<circle cx="-9.64" cy="-5.86" r="0.82" fill="rgb(0,0,7)"/>
<circle cx="3.89" cy="6.56" r="1.68" fill="rgb(0,0,9)"/>
<circle cx="8.57" cy="-1.35" r="1.36" fill="rgb(0,0,8)"/>
<circle cx="4.22" cy="7.16" r="1.67" fill="rgb(0,0,6)"/>
<circle cx="2.22" cy="-4.83" r="1.05" fill="rgb(0,0,5)"/>
<circle cx="4.92" cy="0.63" r="1.81" fill="rgb(0,0,11)"/>
<circle cx="-9.72" cy="4.28" r="1.9" fill="rgb(0,0,5)"/>
<circle cx="-7.99" cy="-3.79" r="0.71" fill="rgb(0,0,6)"/>
<circle cx="-8.66" cy="-2.3" r="1.63" fill="rgb(0,0,8)"/>
<circle cx="1.61" cy="-0.82" r="0.81" fill="rgb(0,1,13)"/>
<circle cx="4.72" cy="-6.75" r="1.18" fill="rgb(0,0,5)"/>
<circle cx="5.75" cy="-8.93" r="1.32" fill="rgb(0,0,9)"/>
<circle cx="-3.64" cy="-8.59" r="1.62" fill="rgb(0,0,7)"/>
<circle cx="2.8" cy="4.65" r="1.59" fill="rgb(0,0,9)"/>
<circle cx="2.87" cy="-0.4" r="1.07" fill="rgb(0,1,15)"/>
<circle cx="-6.34" cy="7.02" r="0.95" fill="rgb(0,0,9)"/>
<circle cx="-8.39" cy="6.68" r="1.2" fill="rgb(0,0,9)"/>
<circle cx="-1.09" cy="10.06" r="1.14" fill="rgb(0,0,5)"/>
<circle cx="5.27" cy="0.44" r="1.3" fill="rgb(0,0,8)"/>
<circle cx="1.05" cy="-8.82" r="1.18" fill="rgb(0,0,6)"/>
<circle cx="0.17" cy="4.15" r="1.85" fill="rgb(0,0,6)"/>
<circle cx="3.09" cy="-9.94" r="1.02" fill="rgb(0,0,8)"/>
<circle cx="-0.33" cy="-8.29" r="1.4" fill="rgb(0,0,8)"/>
<circle cx="-2.55" cy="-3.1" r="1.55" fill="rgb(0,0,12)"/>
<circle cx="-5.24" cy="-2.35" r="1.2" fill="rgb(0,0,9)"/>
<circle cx="1.76" cy="9.74" r="1.67" fill="rgb(0,0,8)"/>
<circle cx="7.14" cy="-0.28" r="0.79" fill="rgb(0,0,8)"/>
<circle cx="-5.49" cy="-8.65" r="0.72" fill="rgb(0,0,7)"/>
<circle cx="-1.64" cy="-6.87" r="1.6" fill="rgb(0,0,6)"/>
<circle cx="-6.75" cy="4.37" r="1.24" fill="rgb(0,0,8)"/>
<circle cx="-2.67" cy="-5.46" r="1.26" fill="rgb(0,0,6)"/>
<circle cx="2.29" cy="-6.04" r="1.01" fill="rgb(0,0,6)"/>
<circle cx="-2.54" cy="3.43" r="1.39" fill="rgb(0,0,8)"/>
<circle cx="3.39" cy="-0.12" r="0.89" fill="rgb(0,0,7)"/>
<circle cx="-7.44" cy="7.35" r="1.32" fill="rgb(0,0,5)"/>
<circle cx="-9.27" cy="4.64" r="1.9" fill="rgb(0,0,7)"/>
<circle cx="6.87" cy="-8.37" r="0.83" fill="rgb(0,0,8)"/>
<circle cx="8.63" cy="7.06" r="0.78" fill="rgb(0,0,5)"/>
<circle cx="-6.56" cy="-5.69" r="1.22" fill="rgb(0,0,5)"/>
<circle cx="-6.46" cy="4.11" r="0.86" fill="rgb(0,0,6)"/>
<circle cx="-3.74" cy="-5.34" r="1.88" fill="rgb(0,0,9)"/>
</g>
<g transform="translate(207.8 237.45)" filter="url(#b03)">
<circle cx="11.26" cy="-0.65" r="0.59" fill="rgb(175,10,12)"/>
<circle cx="2.14" cy="9.19" r="0.84" fill="rgb(178,10,12)"/>
<circle cx="3.58" cy="-10.75" r="0.43" fill="rgb(236,10,12)"/>
<circle cx="6.33" cy="6.88" r="0.83" fill="rgb(153,10,12)"/>
<circle cx="-1.83" cy="8.43" r="0.46" fill="rgb(192,10,12)"/>
<circle cx="8.03" cy="-5.69" r="0.36" fill="rgb(189,10,12)"/>
<circle cx="1.59" cy="9.6" r="0.67" fill="rgb(180,10,12)"/>
<circle cx="7.81" cy="9.48" r="0.6" fill="rgb(158,10,12)"/>
<circle cx="11.18" cy="1.08" r="0.85" fill="rgb(237,10,12)"/>
<circle cx="7.75" cy="-4.48" r="0.82" fill="rgb(138,10,12)"/>
<circle cx="6.24" cy="6.68" r="0.58" fill="rgb(204,10,12)"/>
<circle cx="-2.08" cy="9.71" r="0.53" fill="rgb(215,10,12)"/>
<circle cx="8.74" cy="2.13" r="0.49" fill="rgb(142,10,12)"/>
<circle cx="5.09" cy="9.75" r="0.35" fill="rgb(175,10,12)"/>
<circle cx="4.84" cy="10.66" r="0.7" fill="rgb(186,10,12)"/>
<circle cx="12.03" cy="1.5" r="0.56" fill="rgb(144,10,12)"/>
<circle cx="8.61" cy="-5.05" r="0.52" fill="rgb(146,10,12)"/>
<circle cx="11.37" cy="-3.08" r="0.38" fill="rgb(128,10,12)"/>
<circle cx="6.48" cy="-6.58" r="0.84" fill="rgb(218,10,12)"/>
<circle cx="2.06" cy="8.36" r="0.67" fill="rgb(205,10,12)"/>
<circle cx="5.98" cy="-7.49" r="0.58" fill="rgb(163,10,12)"/>
<circle cx="10.41" cy="-1.68" r="0.73" fill="rgb(210,10,12)"/>
<circle cx="0.8" cy="11.58" r="0.4" fill="rgb(191,10,12)"/>
<circle cx="7.87" cy="-7.15" r="0.5" fill="rgb(229,10,12)"/>
<circle cx="10.36" cy="0.48" r="0.46" fill="rgb(177,10,12)"/>
<circle cx="7.88" cy="4.42" r="0.83" fill="rgb(177,10,12)"/>
<circle cx="8.38" cy="-8.14" r="0.33" fill="rgb(202,10,12)"/>
<circle cx="11.68" cy="-3.08" r="0.34" fill="rgb(226,10,12)"/>
<circle cx="9.02" cy="6.69" r="0.53" fill="rgb(154,10,12)"/>
<circle cx="8.39" cy="4.79" r="0.8" fill="rgb(179,10,12)"/>
<circle cx="5.02" cy="10.18" r="0.41" fill="rgb(173,10,12)"/>
<circle cx="2.15" cy="-8.73" r="0.34" fill="rgb(237,10,12)"/>
<circle cx="10.04" cy="0.49" r="0.69" fill="rgb(139,10,12)"/>
<circle cx="3.14" cy="-8.31" r="0.38" fill="rgb(148,10,12)"/>
<circle cx="7.47" cy="-7.05" r="0.48" fill="rgb(225,10,12)"/>
<circle cx="11.43" cy="3" r="0.62" fill="rgb(183,10,12)"/>
<circle cx="-2.89" cy="8.34" r="0.82" fill="rgb(224,10,12)"/>
<circle cx="1.54" cy="-8.61" r="0.49" fill="rgb(147,10,12)"/>
<circle cx="7.39" cy="6.48" r="0.7" fill="rgb(176,10,12)"/>
<circle cx="9" cy="-3.05" r="0.66" fill="rgb(135,10,12)"/>
<circle cx="9.26" cy="1.39" r="0.66" fill="rgb(198,10,12)"/>
<circle cx="11.44" cy="0.79" r="0.71" fill="rgb(118,10,12)"/>
<circle cx="9.32" cy="4.76" r="0.62" fill="rgb(172,10,12)"/>
<circle cx="1.45" cy="11.24" r="0.71" fill="rgb(122,10,12)"/>
<circle cx="9.24" cy="-1.82" r="0.83" fill="rgb(183,10,12)"/>
<circle cx="2.7" cy="-10.92" r="0.31" fill="rgb(164,10,12)"/>
<circle cx="4.86" cy="-7.75" r="0.69" fill="rgb(233,10,12)"/>
<circle cx="7.39" cy="-5.97" r="0.85" fill="rgb(231,10,12)"/>
<circle cx="2.65" cy="11.17" r="0.41" fill="rgb(118,10,12)"/>
<circle cx="5.32" cy="-9.28" r="0.32" fill="rgb(201,10,12)"/>
<circle cx="1.25" cy="-12.18" r="0.71" fill="rgb(204,10,12)"/>
<circle cx="11.38" cy="-1.15" r="0.79" fill="rgb(195,10,12)"/>
<circle cx="10.84" cy="0.05" r="0.74" fill="rgb(120,10,12)"/>
<circle cx="7.1" cy="5.63" r="0.59" fill="rgb(116,10,12)"/>
<circle cx="2.12" cy="9.99" r="0.62" fill="rgb(193,10,12)"/>
<circle cx="9.95" cy="0.17" r="0.76" fill="rgb(153,10,12)"/>
<circle cx="10.32" cy="1.13" r="0.43" fill="rgb(235,10,12)"/>
<circle cx="2.77" cy="11.71" r="0.45" fill="rgb(204,10,12)"/>
<circle cx="0.27" cy="10.92" r="0.82" fill="rgb(149,10,12)"/>
<circle cx="2.86" cy="9.4" r="0.69" fill="rgb(136,10,12)"/>
<circle cx="2.31" cy="-10.34" r="0.72" fill="rgb(144,10,12)"/>
<circle cx="4.52" cy="7.97" r="0.84" fill="rgb(155,10,12)"/>
<circle cx="8.18" cy="4.73" r="0.65" fill="rgb(120,10,12)"/>
<circle cx="0.84" cy="9.57" r="0.64" fill="rgb(190,10,12)"/>
<circle cx="0.42" cy="11.69" r="0.78" fill="rgb(207,10,12)"/>
<circle cx="3.61" cy="-8.29" r="0.47" fill="rgb(143,10,12)"/>
<circle cx="1.61" cy="-8.66" r="0.4" fill="rgb(163,10,12)"/>
<circle cx="10.91" cy="-4.7" r="0.8" fill="rgb(198,10,12)"/>
<circle cx="11.22" cy="-4.85" r="0.55" fill="rgb(234,10,12)"/>
<circle cx="8.37" cy="-5.22" r="0.71" fill="rgb(165,10,12)"/>
<circle cx="10.93" cy="5.57" r="0.78" fill="rgb(152,10,12)"/>
<circle cx="9.16" cy="6.84" r="0.42" fill="rgb(199,10,12)"/>
<circle cx="6.33" cy="8.01" r="0.82" fill="rgb(123,10,12)"/>
<circle cx="1.66" cy="8.58" r="0.58" fill="rgb(142,10,12)"/>
<circle cx="9.11" cy="-3.42" r="0.36" fill="rgb(235,10,12)"/>
<circle cx="10.49" cy="3.67" r="0.31" fill="rgb(216,10,12)"/>
<circle cx="5.34" cy="-7.17" r="0.78" fill="rgb(121,10,12)"/>
<circle cx="8.65" cy="-7.68" r="0.7" fill="rgb(139,10,12)"/>
<circle cx="2.53" cy="8.62" r="0.36" fill="rgb(180,10,12)"/>
<circle cx="9.52" cy="5.92" r="0.35" fill="rgb(239,10,12)"/>
<circle cx="-1.28" cy="8.53" r="0.31" fill="rgb(235,10,12)"/>
<circle cx="10.99" cy="-2.04" r="0.49" fill="rgb(202,10,12)"/>
<circle cx="9.86" cy="0.03" r="0.44" fill="rgb(204,10,12)"/>
<circle cx="8.17" cy="-8.92" r="0.82" fill="rgb(205,10,12)"/>
<circle cx="8.43" cy="-7.2" r="0.73" fill="rgb(174,10,12)"/>
<circle cx="1.1" cy="-8.68" r="0.61" fill="rgb(112,10,12)"/>
<circle cx="-2.92" cy="9.67" r="0.8" fill="rgb(232,10,12)"/>
<circle cx="7.74" cy="-5.7" r="0.46" fill="rgb(131,10,12)"/>
<circle cx="3.85" cy="10.89" r="0.69" fill="rgb(214,10,12)"/>
<circle cx="11.85" cy="1.67" r="0.83" fill="rgb(212,10,12)"/>
<circle cx="8.19" cy="-7.19" r="0.32" fill="rgb(140,10,12)"/>
<circle cx="-0.85" cy="9.46" r="0.44" fill="rgb(214,10,12)"/>
<circle cx="6.98" cy="9.15" r="0.42" fill="rgb(200,10,12)"/>
<circle cx="5.62" cy="9.23" r="0.55" fill="rgb(222,10,12)"/>
<circle cx="-0.93" cy="10.58" r="0.78" fill="rgb(236,10,12)"/>
<circle cx="4.65" cy="-8.61" r="0.83" fill="rgb(187,10,12)"/>
<circle cx="9.18" cy="7.59" r="0.34" fill="rgb(143,10,12)"/>
<circle cx="5.38" cy="8.11" r="0.35" fill="rgb(213,10,12)"/>
<circle cx="8.64" cy="2.73" r="0.43" fill="rgb(168,10,12)"/>
<circle cx="-0.3" cy="8.75" r="0.33" fill="rgb(169,10,12)"/>
<circle cx="-1.52" cy="8.93" r="0.8" fill="rgb(128,10,12)"/>
<circle cx="5.04" cy="10.55" r="0.3" fill="rgb(130,10,12)"/>
<circle cx="8.57" cy="7.78" r="0.78" fill="rgb(179,10,12)"/>
<circle cx="11.33" cy="-0.13" r="0.76" fill="rgb(160,10,12)"/>
<circle cx="9.91" cy="0.32" r="0.51" fill="rgb(147,10,12)"/>
<circle cx="8.68" cy="7.78" r="0.38" fill="rgb(219,10,12)"/>
<circle cx="1.09" cy="-9.97" r="0.61" fill="rgb(113,10,12)"/>
<circle cx="10.97" cy="-2.17" r="0.63" fill="rgb(198,10,12)"/>
<circle cx="10.37" cy="5.76" r="0.81" fill="rgb(155,10,12)"/>
<circle cx="1.3" cy="9.18" r="0.39" fill="rgb(230,10,12)"/>
<circle cx="-1.46" cy="12.18" r="0.41" fill="rgb(160,10,12)"/>
<circle cx="10.94" cy="-0.19" r="0.42" fill="rgb(167,10,12)"/>
<circle cx="4.82" cy="-8.76" r="0.32" fill="rgb(231,10,12)"/>
<circle cx="6.3" cy="-6.4" r="0.56" fill="rgb(131,10,12)"/>
<circle cx="-2.87" cy="8.76" r="0.58" fill="rgb(215,10,12)"/>
<circle cx="-4.22" cy="11.21" r="0.53" fill="rgb(191,10,12)"/>
<circle cx="7.37" cy="7.76" r="0.75" fill="rgb(138,10,12)"/>
<circle cx="8.41" cy="5.51" r="0.64" fill="rgb(114,10,12)"/>
<circle cx="3.52" cy="-11.7" r="0.61" fill="rgb(138,10,12)"/>
<circle cx="0.95" cy="8.72" r="0.85" fill="rgb(146,10,12)"/>
<circle cx="1.47" cy="-11.07" r="0.61" fill="rgb(180,10,12)"/>
<circle cx="1.5" cy="11.96" r="0.5" fill="rgb(171,10,12)"/>
<circle cx="8.07" cy="8.7" r="0.43" fill="rgb(176,10,12)"/>
<circle cx="9.41" cy="5.62" r="0.4" fill="rgb(228,10,12)"/>
<circle cx="8.02" cy="-3.84" r="0.51" fill="rgb(198,10,12)"/>
<circle cx="5.65" cy="-10.87" r="0.34" fill="rgb(238,10,12)"/>
<circle cx="-2.25" cy="9.09" r="0.73" fill="rgb(199,10,12)"/>
<circle cx="0.05" cy="-12" r="0.58" fill="rgb(190,10,12)"/>
<circle cx="2.52" cy="-9.68" r="0.53" fill="rgb(192,10,12)"/>
<circle cx="1.82" cy="-8.57" r="0.4" fill="rgb(227,10,12)"/>
<circle cx="10.98" cy="5.05" r="0.33" fill="rgb(184,10,12)"/>
<circle cx="10.75" cy="5.45" r="0.63" fill="rgb(220,10,12)"/>
<circle cx="10.08" cy="-6.53" r="0.47" fill="rgb(228,10,12)"/>
<circle cx="7.99" cy="4.05" r="0.67" fill="rgb(218,10,12)"/>
<circle cx="8.82" cy="8.22" r="0.35" fill="rgb(144,10,12)"/>
<circle cx="6.15" cy="-8.34" r="0.72" fill="rgb(185,10,12)"/>
<circle cx="7.94" cy="5.97" r="0.31" fill="rgb(129,10,12)"/>
<circle cx="3.6" cy="-9.16" r="0.75" fill="rgb(230,10,12)"/>
<circle cx="9.35" cy="-6.92" r="0.64" fill="rgb(202,10,12)"/>
<circle cx="3.5" cy="-10.07" r="0.82" fill="rgb(126,10,12)"/>
<circle cx="3.91" cy="-8.41" r="0.45" fill="rgb(190,10,12)"/>
<circle cx="10.71" cy="-0.8" r="0.81" fill="rgb(157,10,12)"/>
<circle cx="5.59" cy="-8.69" r="0.71" fill="rgb(186,10,12)"/>
<circle cx="3.8" cy="-8.86" r="0.84" fill="rgb(126,10,12)"/>
<circle cx="9.14" cy="7" r="0.44" fill="rgb(120,10,12)"/>
<circle cx="-2.12" cy="8.95" r="0.6" fill="rgb(211,10,12)"/>
<circle cx="3.58" cy="-11.43" r="0.49" fill="rgb(236,10,12)"/>
<circle cx="-0.63" cy="11.35" r="0.44" fill="rgb(217,10,12)"/>
<circle cx="0.23" cy="9.2" r="0.33" fill="rgb(148,10,12)"/>
<circle cx="6.81" cy="7.13" r="0.47" fill="rgb(232,10,12)"/>
<circle cx="-8.14" cy="-0.44" r="0.52" fill="rgb(132,10,12)"/>
<circle cx="-8.87" cy="0.7" r="0.49" fill="rgb(167,10,12)"/>
<circle cx="3.51" cy="-2.11" r="0.64" fill="rgb(137,10,12)"/>
<circle cx="-6.24" cy="9.04" r="0.49" fill="rgb(157,10,12)"/>
<circle cx="4.25" cy="4.08" r="0.62" fill="rgb(162,10,12)"/>
<circle cx="-8.91" cy="10.88" r="0.57" fill="rgb(149,10,12)"/>
<circle cx="3.79" cy="3.59" r="0.63" fill="rgb(132,10,12)"/>
<circle cx="-5.28" cy="-1.95" r="0.6" fill="rgb(154,10,12)"/>
<circle cx="-4.86" cy="4.75" r="0.35" fill="rgb(127,10,12)"/>
<circle cx="-4.18" cy="-1.43" r="0.49" fill="rgb(100,10,12)"/>
<circle cx="-1.19" cy="3.66" r="0.63" fill="rgb(150,10,12)"/>
<circle cx="2.43" cy="-1.32" r="0.54" fill="rgb(108,10,12)"/>
<circle cx="-4.36" cy="10.2" r="0.54" fill="rgb(103,10,12)"/>
<circle cx="-5.81" cy="0.05" r="0.32" fill="rgb(148,10,12)"/>
<circle cx="2.82" cy="-1.52" r="0.53" fill="rgb(106,10,12)"/>
<circle cx="5.06" cy="3.28" r="0.55" fill="rgb(167,10,12)"/>
<circle cx="-2.5" cy="-1.57" r="0.42" fill="rgb(159,10,12)"/>
<circle cx="0.37" cy="0.42" r="0.53" fill="rgb(119,10,12)"/>
<circle cx="-3.15" cy="0.09" r="0.4" fill="rgb(153,10,12)"/>
<circle cx="-0.96" cy="0.19" r="0.33" fill="rgb(119,10,12)"/>
<circle cx="0.23" cy="-1.07" r="0.46" fill="rgb(130,10,12)"/>
<circle cx="4.88" cy="1.94" r="0.7" fill="rgb(111,10,12)"/>
<circle cx="1.24" cy="7.34" r="0.38" fill="rgb(149,10,12)"/>
<circle cx="2.33" cy="0.12" r="0.44" fill="rgb(115,10,12)"/>
<circle cx="3.18" cy="3.18" r="0.45" fill="rgb(107,10,12)"/>
<circle cx="6.27" cy="-2.54" r="0.47" fill="rgb(167,10,12)"/>
<circle cx="-5.92" cy="7.28" r="0.43" fill="rgb(149,10,12)"/>
<circle cx="-2.71" cy="5.21" r="0.56" fill="rgb(155,10,12)"/>
<circle cx="-4.29" cy="-1.29" r="0.38" fill="rgb(140,10,12)"/>
<circle cx="-5.62" cy="11" r="0.39" fill="rgb(120,10,12)"/>
<circle cx="-7.97" cy="6.45" r="0.54" fill="rgb(101,10,12)"/>
<circle cx="5.03" cy="6" r="0.7" fill="rgb(139,10,12)"/>
<circle cx="1.56" cy="-1.63" r="0.42" fill="rgb(162,10,12)"/>
<circle cx="-9.88" cy="-0.12" r="0.57" fill="rgb(134,10,12)"/>
<circle cx="-6.27" cy="7.4" r="0.51" fill="rgb(110,10,12)"/>
<circle cx="4.19" cy="-1.57" r="0.32" fill="rgb(114,10,12)"/>
<circle cx="6.97" cy="3.4" r="0.55" fill="rgb(147,10,12)"/>
<circle cx="4.9" cy="-2.18" r="0.47" fill="rgb(147,10,12)"/>
<circle cx="4.61" cy="0.36" r="0.69" fill="rgb(136,10,12)"/>
<circle cx="6.37" cy="0.49" r="0.57" fill="rgb(139,10,12)"/>
<circle cx="-3.43" cy="0.35" r="0.46" fill="rgb(163,10,12)"/>
<circle cx="-8.05" cy="1.62" r="0.68" fill="rgb(121,10,12)"/>
<circle cx="6.29" cy="0.16" r="0.6" fill="rgb(161,10,12)"/>
<circle cx="-4.17" cy="0.89" r="0.68" fill="rgb(166,10,12)"/>
<circle cx="-7" cy="8.28" r="0.35" fill="rgb(98,10,12)"/>
<circle cx="-0.3" cy="5.11" r="0.65" fill="rgb(138,10,12)"/>
<circle cx="-2.52" cy="-2.7" r="0.3" fill="rgb(147,10,12)"/>
<circle cx="0.6" cy="0.84" r="0.38" fill="rgb(128,10,12)"/>
<circle cx="-5.38" cy="5.98" r="0.53" fill="rgb(135,10,12)"/>
<circle cx="1" cy="-1.99" r="0.65" fill="rgb(133,10,12)"/>
</g>
<g transform="translate(207.8 267.6)" filter="url(#b03)">
<path d="M13.42 0 L10.68 4.99 L8.2 9.98 L3.03 12.89 L-2.61 11.11 L-8.16 9.93 L-10.64 4.97 L-11.31 0 L-10.68 -4.99 L-8.13 -9.89 L-2.51 -10.65 L2.84 -12.08 L7.4 -9 L10.2 -4.77Z" fill="rgb(4,4,42)"/>
<circle cx="-6.36" cy="2.99" r="1.76" fill="rgb(0,1,50)"/>
<circle cx="4.73" cy="-2.59" r="1.43" fill="rgb(4,8,99)"/>
<circle cx="9.89" cy="-2.56" r="1" fill="rgb(0,1,51)"/>
<circle cx="10.2" cy="-4.85" r="0.84" fill="rgb(0,1,57)"/>
<circle cx="4.39" cy="-8.86" r="1.87" fill="rgb(1,3,72)"/>
<circle cx="9.58" cy="-1.47" r="1.34" fill="rgb(0,0,43)"/>
<circle cx="-9.85" cy="-0.29" r="1.69" fill="rgb(0,1,57)"/>
<circle cx="-8.64" cy="-0.84" r="1.65" fill="rgb(2,4,78)"/>
<circle cx="8.58" cy="-3.96" r="1.2" fill="rgb(0,0,28)"/>
<circle cx="-1.46" cy="5.6" r="0.83" fill="rgb(0,0,30)"/>
<circle cx="-9.93" cy="1.19" r="1.86" fill="rgb(1,3,71)"/>
<circle cx="-1.18" cy="-0.67" r="0.77" fill="rgb(0,1,50)"/>
<circle cx="4.32" cy="-4.71" r="1.24" fill="rgb(1,3,70)"/>
<circle cx="-9.02" cy="-5.24" r="0.79" fill="rgb(0,1,59)"/>
<circle cx="-4.46" cy="-5.05" r="1.02" fill="rgb(2,5,86)"/>
<circle cx="0.55" cy="10.84" r="0.8" fill="rgb(0,0,45)"/>
<circle cx="3.1" cy="-10.38" r="0.9" fill="rgb(0,1,49)"/>
<circle cx="4.39" cy="-4.91" r="0.75" fill="rgb(0,0,37)"/>
<circle cx="4.02" cy="-3.72" r="1.14" fill="rgb(0,0,30)"/>
<circle cx="-3.47" cy="-10.73" r="1.44" fill="rgb(0,0,33)"/>
<circle cx="-1.32" cy="10.41" r="1.52" fill="rgb(0,1,49)"/>
<circle cx="4.33" cy="-7.04" r="0.71" fill="rgb(0,1,49)"/>
<circle cx="4.75" cy="8.12" r="1.39" fill="rgb(1,2,65)"/>
<circle cx="9.3" cy="2.97" r="1.73" fill="rgb(1,3,70)"/>
<circle cx="0.03" cy="-9.2" r="1.13" fill="rgb(0,0,41)"/>
<circle cx="3.33" cy="8.43" r="1.67" fill="rgb(0,0,41)"/>
<circle cx="0.65" cy="5.76" r="1.04" fill="rgb(0,0,27)"/>
<circle cx="1.78" cy="-10.11" r="0.74" fill="rgb(1,3,74)"/>
<circle cx="-3.36" cy="-7.78" r="1.83" fill="rgb(0,0,41)"/>
<circle cx="-2.61" cy="-5.76" r="1.23" fill="rgb(2,4,78)"/>
<circle cx="-7.67" cy="1.44" r="0.73" fill="rgb(0,1,50)"/>
<circle cx="2.65" cy="-5.62" r="0.91" fill="rgb(0,1,52)"/>
<circle cx="-2.73" cy="-1.25" r="0.95" fill="rgb(0,0,24)"/>
<circle cx="6.76" cy="-6.44" r="0.81" fill="rgb(1,2,63)"/>
<circle cx="-9.24" cy="2.92" r="1.24" fill="rgb(1,2,64)"/>
<circle cx="6.16" cy="3.23" r="1.77" fill="rgb(2,5,82)"/>
<circle cx="-5.06" cy="-4.4" r="1.39" fill="rgb(1,2,61)"/>
<circle cx="-10.14" cy="2.47" r="0.82" fill="rgb(0,1,53)"/>
<circle cx="-1.05" cy="-9.39" r="1.33" fill="rgb(0,0,26)"/>
<circle cx="9" cy="-1.26" r="1.27" fill="rgb(1,2,60)"/>
<circle cx="-9.99" cy="5.11" r="1.26" fill="rgb(0,0,37)"/>
<circle cx="6.71" cy="4.54" r="1.53" fill="rgb(1,2,61)"/>
<circle cx="5.73" cy="-0.8" r="1.13" fill="rgb(0,0,36)"/>
<circle cx="-5.49" cy="9.3" r="1.27" fill="rgb(0,0,33)"/>
<circle cx="7.22" cy="-0.04" r="1.2" fill="rgb(0,1,50)"/>
<circle cx="-2.83" cy="5.74" r="0.72" fill="rgb(2,4,78)"/>
<circle cx="9.28" cy="4.11" r="1.21" fill="rgb(1,2,63)"/>
<circle cx="-7.71" cy="0.97" r="1.22" fill="rgb(0,0,36)"/>
<circle cx="-5.38" cy="6.82" r="1.41" fill="rgb(0,0,41)"/>
<circle cx="10.87" cy="2.86" r="1.27" fill="rgb(0,0,21)"/>
<circle cx="-2.9" cy="2.86" r="1.24" fill="rgb(6,12,119)"/>
<circle cx="2.54" cy="5.95" r="1.35" fill="rgb(0,0,33)"/>
<circle cx="11.09" cy="-0.11" r="1.55" fill="rgb(0,0,34)"/>
<circle cx="-9.1" cy="-3.83" r="0.75" fill="rgb(0,0,30)"/>
<circle cx="7.79" cy="7.43" r="0.75" fill="rgb(0,0,24)"/>
<circle cx="-2.71" cy="0.65" r="1.84" fill="rgb(0,0,43)"/>
<circle cx="4.17" cy="8.94" r="1.25" fill="rgb(1,3,70)"/>
<circle cx="-4.87" cy="1.83" r="1.34" fill="rgb(0,0,47)"/>
<circle cx="-7.45" cy="-3.54" r="1.76" fill="rgb(0,0,42)"/>
<circle cx="-6.73" cy="1.79" r="1.71" fill="rgb(0,1,52)"/>
<circle cx="-7.73" cy="-5.93" r="1.13" fill="rgb(1,3,69)"/>
<circle cx="-0.61" cy="-3.45" r="1.25" fill="rgb(1,3,75)"/>
<circle cx="-3.55" cy="2.94" r="1.11" fill="rgb(3,7,94)"/>
<circle cx="-3.04" cy="2.4" r="1.74" fill="rgb(5,10,111)"/>
<circle cx="2.92" cy="6.41" r="0.93" fill="rgb(0,0,39)"/>
<circle cx="4.29" cy="-7.75" r="1.53" fill="rgb(1,3,74)"/>
<circle cx="-4.96" cy="8.68" r="1.41" fill="rgb(0,0,27)"/>
<circle cx="-3.15" cy="-0.3" r="1.32" fill="rgb(0,1,55)"/>
<circle cx="2.3" cy="2.26" r="1.87" fill="rgb(3,6,93)"/>
<circle cx="-9.64" cy="-5.86" r="0.82" fill="rgb(0,1,49)"/>
<circle cx="3.89" cy="6.56" r="1.68" fill="rgb(1,3,75)"/>
<circle cx="8.57" cy="-1.35" r="1.36" fill="rgb(1,2,65)"/>
<circle cx="4.22" cy="7.16" r="1.67" fill="rgb(0,0,37)"/>
<circle cx="2.22" cy="-4.83" r="1.05" fill="rgb(0,0,31)"/>
<circle cx="4.92" cy="0.63" r="1.81" fill="rgb(4,8,102)"/>
<circle cx="-9.72" cy="4.28" r="1.9" fill="rgb(0,0,32)"/>
<circle cx="-7.99" cy="-3.79" r="0.71" fill="rgb(0,0,37)"/>
<circle cx="-8.66" cy="-2.3" r="1.63" fill="rgb(1,2,62)"/>
<circle cx="1.61" cy="-0.82" r="0.81" fill="rgb(6,13,121)"/>
<circle cx="4.72" cy="-6.75" r="1.18" fill="rgb(0,0,21)"/>
<circle cx="5.75" cy="-8.93" r="1.32" fill="rgb(1,3,74)"/>
<circle cx="-3.64" cy="-8.59" r="1.62" fill="rgb(0,1,50)"/>
<circle cx="2.8" cy="4.65" r="1.59" fill="rgb(1,3,69)"/>
<circle cx="2.87" cy="-0.4" r="1.07" fill="rgb(10,20,146)"/>
<circle cx="-6.34" cy="7.02" r="0.95" fill="rgb(2,4,79)"/>
<circle cx="-8.39" cy="6.68" r="1.2" fill="rgb(1,3,70)"/>
<circle cx="-1.09" cy="10.06" r="1.14" fill="rgb(0,0,32)"/>
<circle cx="5.27" cy="0.44" r="1.3" fill="rgb(0,1,57)"/>
<circle cx="1.05" cy="-8.82" r="1.18" fill="rgb(0,0,34)"/>
<circle cx="0.17" cy="4.15" r="1.85" fill="rgb(0,0,37)"/>
<circle cx="3.09" cy="-9.94" r="1.02" fill="rgb(1,2,62)"/>
<circle cx="-0.33" cy="-8.29" r="1.4" fill="rgb(1,2,68)"/>
<circle cx="-2.55" cy="-3.1" r="1.55" fill="rgb(5,10,108)"/>
<circle cx="-5.24" cy="-2.35" r="1.2" fill="rgb(1,3,70)"/>
<circle cx="1.76" cy="9.74" r="1.67" fill="rgb(1,2,61)"/>
<circle cx="7.14" cy="-0.28" r="0.79" fill="rgb(0,1,59)"/>
<circle cx="-5.49" cy="-8.65" r="0.72" fill="rgb(0,0,45)"/>
<circle cx="-1.64" cy="-6.87" r="1.6" fill="rgb(0,0,33)"/>
<circle cx="-6.75" cy="4.37" r="1.24" fill="rgb(0,1,57)"/>
<circle cx="-2.67" cy="-5.46" r="1.26" fill="rgb(0,0,37)"/>
<circle cx="2.29" cy="-6.04" r="1.01" fill="rgb(0,0,33)"/>
<circle cx="-2.54" cy="3.43" r="1.39" fill="rgb(1,2,66)"/>
<circle cx="3.39" cy="-0.12" r="0.89" fill="rgb(0,1,51)"/>
<circle cx="-7.44" cy="7.35" r="1.32" fill="rgb(0,0,30)"/>
<circle cx="-9.27" cy="4.64" r="1.9" fill="rgb(0,1,53)"/>
<circle cx="6.87" cy="-8.37" r="0.83" fill="rgb(1,2,66)"/>
<circle cx="8.63" cy="7.06" r="0.78" fill="rgb(0,0,31)"/>
<circle cx="-6.56" cy="-5.69" r="1.22" fill="rgb(0,0,31)"/>
<circle cx="-6.46" cy="4.11" r="0.86" fill="rgb(0,0,43)"/>
<circle cx="-3.74" cy="-5.34" r="1.88" fill="rgb(2,4,79)"/>
<circle cx="11.26" cy="-0.65" r="0.59" fill="rgb(175,20,73)"/>
<circle cx="2.14" cy="9.19" r="0.84" fill="rgb(178,20,74)"/>
<circle cx="3.58" cy="-10.75" r="0.43" fill="rgb(236,20,89)"/>
<circle cx="6.33" cy="6.88" r="0.83" fill="rgb(153,20,68)"/>
<circle cx="-1.83" cy="8.43" r="0.46" fill="rgb(192,20,78)"/>
<circle cx="8.03" cy="-5.69" r="0.36" fill="rgb(189,20,77)"/>
<circle cx="1.59" cy="9.6" r="0.67" fill="rgb(180,20,75)"/>
<circle cx="7.81" cy="9.48" r="0.6" fill="rgb(158,20,69)"/>
<circle cx="11.18" cy="1.08" r="0.85" fill="rgb(237,20,89)"/>
<circle cx="7.75" cy="-4.48" r="0.82" fill="rgb(138,20,64)"/>
<circle cx="6.24" cy="6.68" r="0.58" fill="rgb(204,20,81)"/>
<circle cx="-2.08" cy="9.71" r="0.53" fill="rgb(215,20,83)"/>
<circle cx="8.74" cy="2.13" r="0.49" fill="rgb(142,20,65)"/>
<circle cx="5.09" cy="9.75" r="0.35" fill="rgb(175,20,73)"/>
<circle cx="4.84" cy="10.66" r="0.7" fill="rgb(186,20,76)"/>
<circle cx="12.03" cy="1.5" r="0.56" fill="rgb(144,20,66)"/>
<circle cx="8.61" cy="-5.05" r="0.52" fill="rgb(146,20,66)"/>
<circle cx="11.37" cy="-3.08" r="0.38" fill="rgb(128,20,62)"/>
<circle cx="6.48" cy="-6.58" r="0.84" fill="rgb(218,20,84)"/>
<circle cx="2.06" cy="8.36" r="0.67" fill="rgb(205,20,81)"/>
<circle cx="5.98" cy="-7.49" r="0.58" fill="rgb(163,20,70)"/>
<circle cx="10.41" cy="-1.68" r="0.73" fill="rgb(210,20,82)"/>
<circle cx="0.8" cy="11.58" r="0.4" fill="rgb(191,20,77)"/>
<circle cx="7.87" cy="-7.15" r="0.5" fill="rgb(229,20,87)"/>
<circle cx="10.36" cy="0.48" r="0.46" fill="rgb(177,20,74)"/>
<circle cx="7.88" cy="4.42" r="0.83" fill="rgb(177,20,74)"/>
<circle cx="8.38" cy="-8.14" r="0.33" fill="rgb(202,20,80)"/>
<circle cx="11.68" cy="-3.08" r="0.34" fill="rgb(226,20,86)"/>
<circle cx="9.02" cy="6.69" r="0.53" fill="rgb(154,20,68)"/>
<circle cx="8.39" cy="4.79" r="0.8" fill="rgb(179,20,74)"/>
<circle cx="5.02" cy="10.18" r="0.41" fill="rgb(173,20,73)"/>
<circle cx="2.15" cy="-8.73" r="0.34" fill="rgb(237,20,89)"/>
<circle cx="10.04" cy="0.49" r="0.69" fill="rgb(139,20,64)"/>
<circle cx="3.14" cy="-8.31" r="0.38" fill="rgb(148,20,67)"/>
<circle cx="7.47" cy="-7.05" r="0.48" fill="rgb(225,20,86)"/>
<circle cx="11.43" cy="3" r="0.62" fill="rgb(183,20,75)"/>
<circle cx="-2.89" cy="8.34" r="0.82" fill="rgb(224,20,86)"/>
<circle cx="1.54" cy="-8.61" r="0.49" fill="rgb(147,20,66)"/>
<circle cx="7.39" cy="6.48" r="0.7" fill="rgb(176,20,74)"/>
<circle cx="9" cy="-3.05" r="0.66" fill="rgb(135,20,63)"/>
<circle cx="9.26" cy="1.39" r="0.66" fill="rgb(198,20,79)"/>
<circle cx="11.44" cy="0.79" r="0.71" fill="rgb(118,20,59)"/>
<circle cx="9.32" cy="4.76" r="0.62" fill="rgb(172,20,73)"/>
<circle cx="1.45" cy="11.24" r="0.71" fill="rgb(122,20,60)"/>
<circle cx="9.24" cy="-1.82" r="0.83" fill="rgb(183,20,75)"/>
<circle cx="2.7" cy="-10.92" r="0.31" fill="rgb(164,20,71)"/>
<circle cx="4.86" cy="-7.75" r="0.69" fill="rgb(233,20,88)"/>
<circle cx="7.39" cy="-5.97" r="0.85" fill="rgb(231,20,87)"/>
<circle cx="2.65" cy="11.17" r="0.41" fill="rgb(118,20,59)"/>
<circle cx="5.32" cy="-9.28" r="0.32" fill="rgb(201,20,80)"/>
<circle cx="1.25" cy="-12.18" r="0.71" fill="rgb(204,20,81)"/>
<circle cx="11.38" cy="-1.15" r="0.79" fill="rgb(195,20,78)"/>
<circle cx="10.84" cy="0.05" r="0.74" fill="rgb(120,20,60)"/>
<circle cx="7.1" cy="5.63" r="0.59" fill="rgb(116,20,59)"/>
<circle cx="2.12" cy="9.99" r="0.62" fill="rgb(193,20,78)"/>
<circle cx="9.95" cy="0.17" r="0.76" fill="rgb(153,20,68)"/>
<circle cx="10.32" cy="1.13" r="0.43" fill="rgb(235,20,88)"/>
<circle cx="2.77" cy="11.71" r="0.45" fill="rgb(204,20,81)"/>
<circle cx="0.27" cy="10.92" r="0.82" fill="rgb(149,20,67)"/>
<circle cx="2.86" cy="9.4" r="0.69" fill="rgb(136,20,64)"/>
<circle cx="2.31" cy="-10.34" r="0.72" fill="rgb(144,20,66)"/>
<circle cx="4.52" cy="7.97" r="0.84" fill="rgb(155,20,68)"/>
<circle cx="8.18" cy="4.73" r="0.65" fill="rgb(120,20,60)"/>
<circle cx="0.84" cy="9.57" r="0.64" fill="rgb(190,20,77)"/>
<circle cx="0.42" cy="11.69" r="0.78" fill="rgb(207,20,81)"/>
<circle cx="3.61" cy="-8.29" r="0.47" fill="rgb(143,20,65)"/>
<circle cx="1.61" cy="-8.66" r="0.4" fill="rgb(163,20,70)"/>
<circle cx="10.91" cy="-4.7" r="0.8" fill="rgb(198,20,79)"/>
<circle cx="11.22" cy="-4.85" r="0.55" fill="rgb(234,20,88)"/>
<circle cx="8.37" cy="-5.22" r="0.71" fill="rgb(165,20,71)"/>
<circle cx="10.93" cy="5.57" r="0.78" fill="rgb(152,20,68)"/>
<circle cx="9.16" cy="6.84" r="0.42" fill="rgb(199,20,79)"/>
<circle cx="6.33" cy="8.01" r="0.82" fill="rgb(123,20,60)"/>
<circle cx="1.66" cy="8.58" r="0.58" fill="rgb(142,20,65)"/>
<circle cx="9.11" cy="-3.42" r="0.36" fill="rgb(235,20,88)"/>
<circle cx="10.49" cy="3.67" r="0.31" fill="rgb(216,20,84)"/>
<circle cx="5.34" cy="-7.17" r="0.78" fill="rgb(121,20,60)"/>
<circle cx="8.65" cy="-7.68" r="0.7" fill="rgb(139,20,64)"/>
<circle cx="2.53" cy="8.62" r="0.36" fill="rgb(180,20,75)"/>
<circle cx="9.52" cy="5.92" r="0.35" fill="rgb(239,20,89)"/>
<circle cx="-1.28" cy="8.53" r="0.31" fill="rgb(235,20,88)"/>
<circle cx="10.99" cy="-2.04" r="0.49" fill="rgb(202,20,80)"/>
<circle cx="9.86" cy="0.03" r="0.44" fill="rgb(204,20,81)"/>
<circle cx="8.17" cy="-8.92" r="0.82" fill="rgb(205,20,81)"/>
<circle cx="8.43" cy="-7.2" r="0.73" fill="rgb(174,20,73)"/>
<circle cx="1.1" cy="-8.68" r="0.61" fill="rgb(112,20,58)"/>
<circle cx="-2.92" cy="9.67" r="0.8" fill="rgb(232,20,88)"/>
<circle cx="7.74" cy="-5.7" r="0.46" fill="rgb(131,20,62)"/>
<circle cx="3.85" cy="10.89" r="0.69" fill="rgb(214,20,83)"/>
<circle cx="11.85" cy="1.67" r="0.83" fill="rgb(212,20,83)"/>
<circle cx="8.19" cy="-7.19" r="0.32" fill="rgb(140,20,65)"/>
<circle cx="-0.85" cy="9.46" r="0.44" fill="rgb(214,20,83)"/>
<circle cx="6.98" cy="9.15" r="0.42" fill="rgb(200,20,80)"/>
<circle cx="5.62" cy="9.23" r="0.55" fill="rgb(222,20,85)"/>
<circle cx="-0.93" cy="10.58" r="0.78" fill="rgb(236,20,89)"/>
<circle cx="4.65" cy="-8.61" r="0.83" fill="rgb(187,20,76)"/>
<circle cx="9.18" cy="7.59" r="0.34" fill="rgb(143,20,65)"/>
<circle cx="5.38" cy="8.11" r="0.35" fill="rgb(213,20,83)"/>
<circle cx="8.64" cy="2.73" r="0.43" fill="rgb(168,20,72)"/>
<circle cx="-0.3" cy="8.75" r="0.33" fill="rgb(169,20,72)"/>
<circle cx="-1.52" cy="8.93" r="0.8" fill="rgb(128,20,62)"/>
<circle cx="5.04" cy="10.55" r="0.3" fill="rgb(130,20,62)"/>
<circle cx="8.57" cy="7.78" r="0.78" fill="rgb(179,20,74)"/>
<circle cx="11.33" cy="-0.13" r="0.76" fill="rgb(160,20,70)"/>
<circle cx="9.91" cy="0.32" r="0.51" fill="rgb(147,20,66)"/>
<circle cx="8.68" cy="7.78" r="0.38" fill="rgb(219,20,84)"/>
<circle cx="1.09" cy="-9.97" r="0.61" fill="rgb(113,20,58)"/>
<circle cx="10.97" cy="-2.17" r="0.63" fill="rgb(198,20,79)"/>
<circle cx="10.37" cy="5.76" r="0.81" fill="rgb(155,20,68)"/>
<circle cx="1.3" cy="9.18" r="0.39" fill="rgb(230,20,87)"/>
<circle cx="-1.46" cy="12.18" r="0.41" fill="rgb(160,20,70)"/>
<circle cx="10.94" cy="-0.19" r="0.42" fill="rgb(167,20,71)"/>
<circle cx="4.82" cy="-8.76" r="0.32" fill="rgb(231,20,87)"/>
<circle cx="6.3" cy="-6.4" r="0.56" fill="rgb(131,20,62)"/>
<circle cx="-2.87" cy="8.76" r="0.58" fill="rgb(215,20,83)"/>
<circle cx="-4.22" cy="11.21" r="0.53" fill="rgb(191,20,77)"/>
<circle cx="7.37" cy="7.76" r="0.75" fill="rgb(138,20,64)"/>
<circle cx="8.41" cy="5.51" r="0.64" fill="rgb(114,20,58)"/>
<circle cx="3.52" cy="-11.7" r="0.61" fill="rgb(138,20,64)"/>
<circle cx="0.95" cy="8.72" r="0.85" fill="rgb(146,20,66)"/>
<circle cx="1.47" cy="-11.07" r="0.61" fill="rgb(180,20,75)"/>
<circle cx="1.5" cy="11.96" r="0.5" fill="rgb(171,20,72)"/>
<circle cx="8.07" cy="8.7" r="0.43" fill="rgb(176,20,74)"/>
<circle cx="9.41" cy="5.62" r="0.4" fill="rgb(228,20,87)"/>
<circle cx="8.02" cy="-3.84" r="0.51" fill="rgb(198,20,79)"/>
<circle cx="5.65" cy="-10.87" r="0.34" fill="rgb(238,20,89)"/>
<circle cx="-2.25" cy="9.09" r="0.73" fill="rgb(199,20,79)"/>
<circle cx="0.05" cy="-12" r="0.58" fill="rgb(190,20,77)"/>
<circle cx="2.52" cy="-9.68" r="0.53" fill="rgb(192,20,78)"/>
<circle cx="1.82" cy="-8.57" r="0.4" fill="rgb(227,20,86)"/>
<circle cx="10.98" cy="5.05" r="0.33" fill="rgb(184,20,76)"/>
<circle cx="10.75" cy="5.45" r="0.63" fill="rgb(220,20,85)"/>
<circle cx="10.08" cy="-6.53" r="0.47" fill="rgb(228,20,87)"/>
<circle cx="7.99" cy="4.05" r="0.67" fill="rgb(218,20,84)"/>
<circle cx="8.82" cy="8.22" r="0.35" fill="rgb(144,20,66)"/>
<circle cx="6.15" cy="-8.34" r="0.72" fill="rgb(185,20,76)"/>
<circle cx="7.94" cy="5.97" r="0.31" fill="rgb(129,20,62)"/>
<circle cx="3.6" cy="-9.16" r="0.75" fill="rgb(230,20,87)"/>
<circle cx="9.35" cy="-6.92" r="0.64" fill="rgb(202,20,80)"/>
<circle cx="3.5" cy="-10.07" r="0.82" fill="rgb(126,20,61)"/>
<circle cx="3.91" cy="-8.41" r="0.45" fill="rgb(190,20,77)"/>
<circle cx="10.71" cy="-0.8" r="0.81" fill="rgb(157,20,69)"/>
<circle cx="5.59" cy="-8.69" r="0.71" fill="rgb(186,20,76)"/>
<circle cx="3.8" cy="-8.86" r="0.84" fill="rgb(126,20,61)"/>
<circle cx="9.14" cy="7" r="0.44" fill="rgb(120,20,60)"/>
<circle cx="-2.12" cy="8.95" r="0.6" fill="rgb(211,20,82)"/>
<circle cx="3.58" cy="-11.43" r="0.49" fill="rgb(236,20,89)"/>
<circle cx="-0.63" cy="11.35" r="0.44" fill="rgb(217,20,84)"/>
<circle cx="0.23" cy="9.2" r="0.33" fill="rgb(148,20,67)"/>
<circle cx="6.81" cy="7.13" r="0.47" fill="rgb(232,20,88)"/>
<circle cx="-8.14" cy="-0.44" r="0.52" fill="rgb(132,20,63)"/>
<circle cx="-8.87" cy="0.7" r="0.49" fill="rgb(167,20,71)"/>
<circle cx="3.51" cy="-2.11" r="0.64" fill="rgb(137,20,64)"/>
<circle cx="-6.24" cy="9.04" r="0.49" fill="rgb(157,20,69)"/>
<circle cx="4.25" cy="4.08" r="0.62" fill="rgb(162,20,70)"/>
<circle cx="-8.91" cy="10.88" r="0.57" fill="rgb(149,20,67)"/>
<circle cx="3.79" cy="3.59" r="0.63" fill="rgb(132,20,63)"/>
<circle cx="-5.28" cy="-1.95" r="0.6" fill="rgb(154,20,68)"/>
<circle cx="-4.86" cy="4.75" r="0.35" fill="rgb(127,20,61)"/>
<circle cx="-4.18" cy="-1.43" r="0.49" fill="rgb(100,20,55)"/>
<circle cx="-1.19" cy="3.66" r="0.63" fill="rgb(150,20,67)"/>
<circle cx="2.43" cy="-1.32" r="0.54" fill="rgb(108,20,57)"/>
<circle cx="-4.36" cy="10.2" r="0.54" fill="rgb(103,20,55)"/>
<circle cx="-5.81" cy="0.05" r="0.32" fill="rgb(148,20,67)"/>
<circle cx="2.82" cy="-1.52" r="0.53" fill="rgb(106,20,56)"/>
<circle cx="5.06" cy="3.28" r="0.55" fill="rgb(167,20,71)"/>
<circle cx="-2.5" cy="-1.57" r="0.42" fill="rgb(159,20,69)"/>
<circle cx="0.37" cy="0.42" r="0.53" fill="rgb(119,20,59)"/>
<circle cx="-3.15" cy="0.09" r="0.4" fill="rgb(153,20,68)"/>
<circle cx="-0.96" cy="0.19" r="0.33" fill="rgb(119,20,59)"/>
<circle cx="0.23" cy="-1.07" r="0.46" fill="rgb(130,20,62)"/>
<circle cx="4.88" cy="1.94" r="0.7" fill="rgb(111,20,57)"/>
<circle cx="1.24" cy="7.34" r="0.38" fill="rgb(149,20,67)"/>
<circle cx="2.33" cy="0.12" r="0.44" fill="rgb(115,20,58)"/>
<circle cx="3.18" cy="3.18" r="0.45" fill="rgb(107,20,56)"/>
<circle cx="6.27" cy="-2.54" r="0.47" fill="rgb(167,20,71)"/>
<circle cx="-5.92" cy="7.28" r="0.43" fill="rgb(149,20,67)"/>
<circle cx="-2.71" cy="5.21" r="0.56" fill="rgb(155,20,68)"/>
<circle cx="-4.29" cy="-1.29" r="0.38" fill="rgb(140,20,65)"/>
<circle cx="-5.62" cy="11" r="0.39" fill="rgb(120,20,60)"/>
<circle cx="-7.97" cy="6.45" r="0.54" fill="rgb(101,20,55)"/>
<circle cx="5.03" cy="6" r="0.7" fill="rgb(139,20,64)"/>
<circle cx="1.56" cy="-1.63" r="0.42" fill="rgb(162,20,70)"/>
<circle cx="-9.88" cy="-0.12" r="0.57" fill="rgb(134,20,63)"/>
<circle cx="-6.27" cy="7.4" r="0.51" fill="rgb(110,20,57)"/>
<circle cx="4.19" cy="-1.57" r="0.32" fill="rgb(114,20,58)"/>
<circle cx="6.97" cy="3.4" r="0.55" fill="rgb(147,20,66)"/>
<circle cx="4.9" cy="-2.18" r="0.47" fill="rgb(147,20,66)"/>
<circle cx="4.61" cy="0.36" r="0.69" fill="rgb(136,20,64)"/>
<circle cx="6.37" cy="0.49" r="0.57" fill="rgb(139,20,64)"/>
<circle cx="-3.43" cy="0.35" r="0.46" fill="rgb(163,20,70)"/>
<circle cx="-8.05" cy="1.62" r="0.68" fill="rgb(121,20,60)"/>
<circle cx="6.29" cy="0.16" r="0.6" fill="rgb(161,20,70)"/>
<circle cx="-4.17" cy="0.89" r="0.68" fill="rgb(166,20,71)"/>
<circle cx="-7" cy="8.28" r="0.35" fill="rgb(98,20,54)"/>
<circle cx="-0.3" cy="5.11" r="0.65" fill="rgb(138,20,64)"/>
<circle cx="-2.52" cy="-2.7" r="0.3" fill="rgb(147,20,66)"/>
<circle cx="0.6" cy="0.84" r="0.38" fill="rgb(128,20,62)"/>
<circle cx="-5.38" cy="5.98" r="0.53" fill="rgb(135,20,63)"/>
<circle cx="1" cy="-1.99" r="0.65" fill="rgb(133,20,63)"/>
</g>
<rect x="215.8" y="277.2" width="6.2" height="1.4" fill="#fff"/>
<text x="35" y="209.4" font-size="7.5" text-anchor="end" fill="#4040e0">DAPI</text>
<text x="35" y="240.4" font-size="7.6" text-anchor="end" fill="#e82828">&#947;H2AX</text>
<text x="34.4" y="266.5" font-size="7.9" text-anchor="end" fill="#222">Merge</text>
<text x="46.9" y="191.5" font-size="8" transform="rotate(-45 46.9 191.5)">DMSO</text>
<text x="83.8" y="191.5" font-size="8" transform="rotate(-45 83.8 191.5)">Romi</text>
<text x="115.4" y="191.3" font-size="8" transform="rotate(-45 115.4 191.3)">JQ1</text>
<text x="143.1" y="191.7" font-size="8" transform="rotate(-45 143.1 191.7)">AC220</text>
<text x="171.8" y="190.9" font-size="8" transform="rotate(-45 171.8 190.9)">Romi<tspan font-size="5.2" dy="-2.6">+</tspan><tspan dy="2.6"> </tspan>JQ1</text>
<text x="204.6" y="191.9" font-size="8" transform="rotate(-45 204.6 191.9)">Romi<tspan font-size="5.2" dy="-2.6">+</tspan><tspan dy="2.6"> </tspan>AC220</text>
<rect x="259.7" y="279.2" width="6.5" height="2" fill="#d21420"/>
<line x1="262.95" y1="279.2" x2="262.95" y2="277.4" stroke="#000" stroke-width="1"/>
<line x1="261.45" y1="277.4" x2="264.45" y2="277.4" stroke="#000" stroke-width="1"/>
<rect x="269.2" y="258.2" width="6.6" height="23" fill="#0c40bc"/>
<line x1="272.5" y1="258.2" x2="272.5" y2="251.5" stroke="#000" stroke-width="1"/>
<line x1="271" y1="251.5" x2="274" y2="251.5" stroke="#000" stroke-width="1"/>
<rect x="278.9" y="256.9" width="6.8" height="24.3" fill="#3cf020"/>
<line x1="282.3" y1="256.9" x2="282.3" y2="249.2" stroke="#000" stroke-width="1"/>
<line x1="280.8" y1="249.2" x2="283.8" y2="249.2" stroke="#000" stroke-width="1"/>
<rect x="288.9" y="258.2" width="6.5" height="23" fill="#2812a4"/>
<line x1="292.15" y1="258.2" x2="292.15" y2="253.4" stroke="#000" stroke-width="1"/>
<line x1="290.65" y1="253.4" x2="293.65" y2="253.4" stroke="#000" stroke-width="1"/>
<rect x="298.7" y="205.7" width="6.4" height="75.5" fill="#ff7c10"/>
<line x1="301.9" y1="205.7" x2="301.9" y2="199.5" stroke="#000" stroke-width="1"/>
<line x1="300.4" y1="199.5" x2="303.4" y2="199.5" stroke="#000" stroke-width="1"/>
<rect x="308.3" y="212.5" width="6.7" height="68.7" fill="#0a6414"/>
<line x1="311.65" y1="212.5" x2="311.65" y2="203.9" stroke="#000" stroke-width="1"/>
<line x1="310.15" y1="203.9" x2="313.15" y2="203.9" stroke="#000" stroke-width="1"/>
<line x1="255.6" y1="188.5" x2="255.6" y2="281.7" stroke="#000" stroke-width="1.3"/>
<line x1="252.6" y1="281.2" x2="255.6" y2="281.2" stroke="#000" stroke-width="1.3"/>
<text x="251.3" y="284.01" font-size="7.8" text-anchor="end">0</text>
<line x1="252.6" y1="262.76" x2="255.6" y2="262.76" stroke="#000" stroke-width="1.3"/>
<text x="251.3" y="265.57" font-size="7.8" text-anchor="end">10</text>
<line x1="252.6" y1="244.32" x2="255.6" y2="244.32" stroke="#000" stroke-width="1.3"/>
<text x="251.3" y="247.13" font-size="7.8" text-anchor="end">20</text>
<line x1="252.6" y1="225.88" x2="255.6" y2="225.88" stroke="#000" stroke-width="1.3"/>
<text x="251.3" y="228.69" font-size="7.8" text-anchor="end">30</text>
<line x1="252.6" y1="207.44" x2="255.6" y2="207.44" stroke="#000" stroke-width="1.3"/>
<text x="251.3" y="210.25" font-size="7.8" text-anchor="end">40</text>
<line x1="252.6" y1="189" x2="255.6" y2="189" stroke="#000" stroke-width="1.3"/>
<text x="251.3" y="191.81" font-size="7.8" text-anchor="end">50</text>
<line x1="255.6" y1="281.2" x2="317.7" y2="281.2" stroke="#000" stroke-width="1.3"/>
<line x1="262.95" y1="281.2" x2="262.95" y2="283.8" stroke="#000" stroke-width="1"/>
<line x1="272.5" y1="281.2" x2="272.5" y2="283.8" stroke="#000" stroke-width="1"/>
<line x1="282.3" y1="281.2" x2="282.3" y2="283.8" stroke="#000" stroke-width="1"/>
<line x1="292.15" y1="281.2" x2="292.15" y2="283.8" stroke="#000" stroke-width="1"/>
<line x1="301.9" y1="281.2" x2="301.9" y2="283.8" stroke="#000" stroke-width="1"/>
<line x1="311.65" y1="281.2" x2="311.65" y2="283.8" stroke="#000" stroke-width="1"/>
<polyline points="261.3,191.6 261.3,181.1 311.7,181.1 311.7,186.3" fill="none" stroke="#000" stroke-width="0.9"/>
<circle cx="285.27" cy="178.2" r="1.12" fill="#111"/>
<circle cx="288.43" cy="178.2" r="1.12" fill="#111"/>
<circle cx="291.57" cy="178.2" r="1.12" fill="#111"/>
<circle cx="294.73" cy="178.2" r="1.12" fill="#111"/>
<polyline points="261.3,191.6 261.3,186.3 302,186.3 302,192" fill="none" stroke="#000" stroke-width="0.9"/>
<circle cx="277.07" cy="184" r="1.12" fill="#111"/>
<circle cx="280.23" cy="184" r="1.12" fill="#111"/>
<circle cx="283.38" cy="184" r="1.12" fill="#111"/>
<circle cx="286.53" cy="184" r="1.12" fill="#111"/>
<polyline points="272.4,202.4 272.4,192.3 311.7,192.3 311.7,197.4" fill="none" stroke="#000" stroke-width="0.9"/>
<circle cx="287.17" cy="190.2" r="1.12" fill="#111"/>
<circle cx="290.32" cy="190.2" r="1.12" fill="#111"/>
<circle cx="293.47" cy="190.2" r="1.12" fill="#111"/>
<circle cx="296.62" cy="190.2" r="1.12" fill="#111"/>
<polyline points="272.4,202.4 272.4,198.1 302,198.1 302,201" fill="none" stroke="#000" stroke-width="0.9"/>
<circle cx="282.88" cy="196" r="1.12" fill="#111"/>
<circle cx="286.03" cy="196" r="1.12" fill="#111"/>
<circle cx="289.18" cy="196" r="1.12" fill="#111"/>
<circle cx="292.33" cy="196" r="1.12" fill="#111"/>
<polyline points="262.3,251.5 262.3,236.9 292.3,236.9 292.3,241.5" fill="none" stroke="#000" stroke-width="0.9"/>
<circle cx="276.9" cy="235" r="1.12" fill="#111"/>
<polyline points="262.3,251.5 262.3,242 282.3,242 282.3,245.4" fill="none" stroke="#000" stroke-width="0.9"/>
<circle cx="270.73" cy="240" r="1.12" fill="#111"/>
<circle cx="273.88" cy="240" r="1.12" fill="#111"/>
<polyline points="262.3,251.5 262.3,246.2 272.3,246.2 272.3,248.5" fill="none" stroke="#000" stroke-width="0.9"/>
<circle cx="267.4" cy="244.6" r="1.12" fill="#111"/>
<text x="241.5" y="235.8" font-size="8" text-anchor="middle" transform="rotate(-90 241.5 235.8)" textLength="67.6" lengthAdjust="spacingAndGlyphs">&#947;H2AX foci per cell</text>
<text x="264.15" y="289.2" font-size="7" text-anchor="end" transform="rotate(-45 264.15 289.2)">DMSO</text>
<text x="273.7" y="289.2" font-size="7" text-anchor="end" transform="rotate(-45 273.7 289.2)">Romi</text>
<text x="283.5" y="289.2" font-size="7" text-anchor="end" transform="rotate(-45 283.5 289.2)">JQ1</text>
<text x="293.35" y="289.2" font-size="7" text-anchor="end" transform="rotate(-45 293.35 289.2)">AC220</text>
<text x="303.1" y="289.2" font-size="7" text-anchor="end" transform="rotate(-45 303.1 289.2)">Romi<tspan font-size="5.2" dy="-2.6">+</tspan><tspan dy="2.6"> </tspan>JQ1</text>
<text x="312.85" y="289.2" font-size="7" text-anchor="end" transform="rotate(-45 312.85 289.2)">Romi<tspan font-size="5.2" dy="-2.6">+</tspan><tspan dy="2.6"> </tspan>AC220</text>
<rect x="356.1" y="204.1" width="139.4" height="15.9" fill="url(#blot1)" stroke="#1a1a1a" stroke-width="2"/>
<rect x="356.1" y="226.8" width="139.4" height="15.8" fill="#f2f2f2" stroke="#1a1a1a" stroke-width="2"/>
<g filter="url(#b04)">
<path d="M360.8 211.6 C360.8 210.92 362.28 210.92 364.5 210.89 L373.82 210.85 C376.04 210.85 376.04 212.35 373.82 212.35 L364.5 212.31 C362.28 212.28 360.8 212.28 360.8 211.6 Z" fill="#808080"/>
<path d="M384.3 212.2 C384.3 210.93 385.88 210.93 388.25 210.87 L398.2 210.25 C400.57 210.25 400.57 214.15 398.2 214.15 L388.25 213.53 C385.88 213.47 384.3 213.47 384.3 212.2 Z" fill="#0c0c0c"/>
<path d="M406.8 212.2 C406.8 211.24 408.26 211.24 410.45 211.19 L419.65 210.6 C421.84 210.6 421.84 213.8 419.65 213.8 L410.45 213.21 C408.26 213.16 406.8 213.16 406.8 212.2 Z" fill="#101010"/>
<path d="M428.8 212.2 C428.8 211.03 430.3 211.03 432.55 210.97 L442 210.25 C444.25 210.25 444.25 214.15 442 214.15 L432.55 213.43 C430.3 213.37 428.8 213.37 428.8 212.2 Z" fill="#0c0c0c"/>
<rect x="452" y="208.1" width="17.6" height="7.8" rx="4.2" fill="#080808"/>
<rect x="474.4" y="208.1" width="18.2" height="7.8" rx="4.2" fill="#080808"/>
<rect x="360.5" y="231.5" width="19" height="5" rx="2.5" fill="#0a0a0a"/>
<rect x="385.3" y="231.1" width="17.2" height="5.8" rx="2.9" fill="#0a0a0a"/>
<rect x="408.7" y="231.4" width="16.8" height="5.2" rx="2.6" fill="#0a0a0a"/>
<rect x="431.7" y="231.3" width="15.5" height="5.4" rx="2.7" fill="#0a0a0a"/>
<rect x="453.5" y="231.1" width="16.7" height="5.8" rx="2.9" fill="#0a0a0a"/>
<rect x="476" y="231.3" width="17.3" height="5.4" rx="2.7" fill="#0a0a0a"/>
</g>
<text x="352.3" y="215.4" font-size="7.8" text-anchor="end" fill="#222"><tspan font-weight="bold">&#947;</tspan>H2AX</text>
<text x="352.2" y="237.3" font-size="7.7" text-anchor="end" fill="#222">GAPDH</text>
<text x="369.5" y="200.4" font-size="7.9" transform="rotate(-45 369.5 200.4)">DMSO</text>
<text x="394.6" y="201.1" font-size="7.9" transform="rotate(-45 394.6 201.1)">Romi</text>
<text x="415.7" y="201.1" font-size="7.9" transform="rotate(-45 415.7 201.1)">JQ1</text>
<text x="434.2" y="200.8" font-size="7.9" transform="rotate(-45 434.2 200.8)">AC220</text>
<text x="458" y="200.8" font-size="7.9" transform="rotate(-45 458 200.8)">Romi<tspan font-size="5.2" dy="-2.6">+</tspan><tspan dy="2.6"> </tspan>JQ1</text>
<text x="479.5" y="200.8" font-size="7.9" transform="rotate(-45 479.5 200.8)">Romi<tspan font-size="5.2" dy="-2.6">+</tspan><tspan dy="2.6"> </tspan>AC220</text>
<rect x="52.1" y="418.85" width="8.8" height="8.25" fill="#d21420"/>
<rect x="60.9" y="421.53" width="8.8" height="5.57" fill="#0c40bc"/>
<line x1="56.5" y1="418.85" x2="56.5" y2="417.3" stroke="#000" stroke-width="1.2"/>
<line x1="54.5" y1="417.3" x2="58.5" y2="417.3" stroke="#000" stroke-width="1.2"/>
<line x1="65.3" y1="421.53" x2="65.3" y2="419.68" stroke="#000" stroke-width="1.2"/>
<line x1="63.3" y1="419.68" x2="67.3" y2="419.68" stroke="#000" stroke-width="1.2"/>
<rect x="74.2" y="398.74" width="8.8" height="28.36" fill="#d21420"/>
<rect x="83" y="411.94" width="8.8" height="15.16" fill="#0c40bc"/>
<line x1="78.6" y1="398.74" x2="78.6" y2="394.1" stroke="#000" stroke-width="1.2"/>
<line x1="76.6" y1="394.1" x2="80.6" y2="394.1" stroke="#000" stroke-width="1.2"/>
<line x1="87.4" y1="411.94" x2="87.4" y2="409.98" stroke="#000" stroke-width="1.2"/>
<line x1="85.4" y1="409.98" x2="89.4" y2="409.98" stroke="#000" stroke-width="1.2"/>
<rect x="96.5" y="408.64" width="8.8" height="18.46" fill="#d21420"/>
<rect x="105.3" y="416.48" width="8.8" height="10.62" fill="#0c40bc"/>
<line x1="100.9" y1="408.64" x2="100.9" y2="405.03" stroke="#000" stroke-width="1.2"/>
<line x1="98.9" y1="405.03" x2="102.9" y2="405.03" stroke="#000" stroke-width="1.2"/>
<line x1="109.7" y1="416.48" x2="109.7" y2="414.73" stroke="#000" stroke-width="1.2"/>
<line x1="107.7" y1="414.73" x2="111.7" y2="414.73" stroke="#000" stroke-width="1.2"/>
<rect x="119.1" y="407.51" width="8.8" height="19.59" fill="#d21420"/>
<rect x="127.9" y="416.48" width="8.8" height="10.62" fill="#0c40bc"/>
<line x1="123.5" y1="407.51" x2="123.5" y2="404.93" stroke="#000" stroke-width="1.2"/>
<line x1="121.5" y1="404.93" x2="125.5" y2="404.93" stroke="#000" stroke-width="1.2"/>
<line x1="132.3" y1="416.48" x2="132.3" y2="414.31" stroke="#000" stroke-width="1.2"/>
<line x1="130.3" y1="414.31" x2="134.3" y2="414.31" stroke="#000" stroke-width="1.2"/>
<rect x="141.3" y="372.86" width="8.8" height="54.24" fill="#d21420"/>
<rect x="150.1" y="402.35" width="8.8" height="24.75" fill="#0c40bc"/>
<line x1="145.7" y1="372.86" x2="145.7" y2="364.72" stroke="#000" stroke-width="1.2"/>
<line x1="143.7" y1="364.72" x2="147.7" y2="364.72" stroke="#000" stroke-width="1.2"/>
<line x1="154.5" y1="402.35" x2="154.5" y2="398.23" stroke="#000" stroke-width="1.2"/>
<line x1="152.5" y1="398.23" x2="156.5" y2="398.23" stroke="#000" stroke-width="1.2"/>
<rect x="164" y="348.12" width="8.8" height="78.98" fill="#d21420"/>
<rect x="172.8" y="386.47" width="8.8" height="40.63" fill="#0c40bc"/>
<line x1="168.4" y1="348.12" x2="168.4" y2="340.49" stroke="#000" stroke-width="1.2"/>
<line x1="166.4" y1="340.49" x2="170.4" y2="340.49" stroke="#000" stroke-width="1.2"/>
<line x1="177.2" y1="386.47" x2="177.2" y2="377.19" stroke="#000" stroke-width="1.2"/>
<line x1="175.2" y1="377.19" x2="179.2" y2="377.19" stroke="#000" stroke-width="1.2"/>
<line x1="47.2" y1="333.7" x2="47.2" y2="427.7" stroke="#000" stroke-width="1.3"/>
<line x1="44.4" y1="427.1" x2="47.2" y2="427.1" stroke="#000" stroke-width="1.3"/>
<text x="41.4" y="429.76" font-size="7.4" text-anchor="end">0</text>
<line x1="44.4" y1="396.17" x2="47.2" y2="396.17" stroke="#000" stroke-width="1.3"/>
<text x="41.4" y="398.83" font-size="7.4" text-anchor="end">30</text>
<line x1="44.4" y1="365.23" x2="47.2" y2="365.23" stroke="#000" stroke-width="1.3"/>
<text x="41.4" y="367.9" font-size="7.4" text-anchor="end">60</text>
<line x1="44.4" y1="334.3" x2="47.2" y2="334.3" stroke="#000" stroke-width="1.3"/>
<text x="41.4" y="336.96" font-size="7.4" text-anchor="end">90</text>
<line x1="47.2" y1="427.1" x2="186.8" y2="427.1" stroke="#000" stroke-width="1.3"/>
<line x1="47.2" y1="427.1" x2="47.2" y2="429.6" stroke="#000" stroke-width="1"/>
<line x1="60.9" y1="427.1" x2="60.9" y2="429.7" stroke="#000" stroke-width="1"/>
<line x1="83" y1="427.1" x2="83" y2="429.7" stroke="#000" stroke-width="1"/>
<line x1="105.3" y1="427.1" x2="105.3" y2="429.7" stroke="#000" stroke-width="1"/>
<line x1="127.9" y1="427.1" x2="127.9" y2="429.7" stroke="#000" stroke-width="1"/>
<line x1="150.1" y1="427.1" x2="150.1" y2="429.7" stroke="#000" stroke-width="1"/>
<line x1="172.8" y1="427.1" x2="172.8" y2="429.7" stroke="#000" stroke-width="1"/>
<polyline points="58.3,417.5 56.3,417.5 56.3,412.5 65.5,412.5 65.5,417.2" fill="none" stroke="#000" stroke-width="1.4"/>
<text x="60.9" y="408.5" font-size="7.4" text-anchor="middle" fill="#222">NS</text>
<polyline points="80.4,395 78.4,395 78.4,390.9 87.6,390.9 87.6,398" fill="none" stroke="#000" stroke-width="1.4"/>
<circle cx="82.7" cy="386" r="1.25" fill="#111"/>
<polyline points="102.7,405.7 100.7,405.7 100.7,401.4 109.9,401.4 109.9,406" fill="none" stroke="#000" stroke-width="1.4"/>
<circle cx="105" cy="396.5" r="1.25" fill="#111"/>
<polyline points="125.3,405.7 123.3,405.7 123.3,401.4 132.5,401.4 132.5,406" fill="none" stroke="#000" stroke-width="1.4"/>
<circle cx="124.2" cy="396.5" r="1.25" fill="#111"/>
<circle cx="127.6" cy="396.5" r="1.25" fill="#111"/>
<circle cx="131" cy="396.5" r="1.25" fill="#111"/>
<polyline points="147.5,367 145.5,367 145.5,362.3 154.7,362.3 154.7,367" fill="none" stroke="#000" stroke-width="1.4"/>
<circle cx="148.1" cy="357.4" r="1.25" fill="#111"/>
<circle cx="151.5" cy="357.4" r="1.25" fill="#111"/>
<polyline points="170.2,343.3 168.2,343.3 168.2,338 177.4,338 177.4,343.3" fill="none" stroke="#000" stroke-width="1.4"/>
<circle cx="170.8" cy="333.1" r="1.25" fill="#111"/>
<circle cx="174.2" cy="333.1" r="1.25" fill="#111"/>
<text x="117" y="328.2" font-size="9.4" text-anchor="middle" fill="#333" textLength="30.1" lengthAdjust="spacingAndGlyphs">Molm-13</text>
<text x="26.1" y="380.9" font-size="9" text-anchor="middle" fill="#333" font-weight="bold" transform="rotate(-90 26.1 380.9)" textLength="55" lengthAdjust="spacingAndGlyphs">ANNEXIN V+(%)</text>
<rect x="53.9" y="336.2" width="9.6" height="4" fill="#d00010"/>
<rect x="53.9" y="348.8" width="9.2" height="4" fill="#0a38b8"/>
<text x="66.7" y="340.9" font-size="7.8" fill="#333" textLength="20.5" lengthAdjust="spacingAndGlyphs">shCtrl</text>
<text x="66.3" y="353.3" font-size="7.8" fill="#333" textLength="19.5" lengthAdjust="spacingAndGlyphs">shGG</text>
<text x="65.3" y="436.7" font-size="8" text-anchor="end" fill="#111" transform="rotate(-45 65.3 436.7)">DMSO</text>
<text x="87.4" y="436.7" font-size="8" text-anchor="end" fill="#111" transform="rotate(-45 87.4 436.7)">Romi</text>
<text x="109.7" y="436.7" font-size="8" text-anchor="end" fill="#111" transform="rotate(-45 109.7 436.7)">JQ1</text>
<text x="132.3" y="436.7" font-size="8" text-anchor="end" fill="#111" transform="rotate(-45 132.3 436.7)">AC220</text>
<text x="154.5" y="436.7" font-size="8" text-anchor="end" fill="#111" transform="rotate(-45 154.5 436.7)">Romi+JQ1</text>
<text x="177.2" y="436.7" font-size="8" text-anchor="end" fill="#111" transform="rotate(-45 177.2 436.7)">Romi+AC220</text>
<rect x="236.2" y="417.82" width="9.2" height="9.28" fill="#d21420"/>
<rect x="245.4" y="420.4" width="9.2" height="6.7" fill="#0c40bc"/>
<line x1="240.8" y1="417.82" x2="240.8" y2="415.76" stroke="#000" stroke-width="1.2"/>
<line x1="238.8" y1="415.76" x2="242.8" y2="415.76" stroke="#000" stroke-width="1.2"/>
<line x1="250" y1="420.4" x2="250" y2="418.34" stroke="#000" stroke-width="1.2"/>
<line x1="248" y1="418.34" x2="252" y2="418.34" stroke="#000" stroke-width="1.2"/>
<rect x="263.4" y="402.35" width="9.2" height="24.75" fill="#d21420"/>
<rect x="272.6" y="415.24" width="9.2" height="11.86" fill="#0c40bc"/>
<line x1="268" y1="402.35" x2="268" y2="399.78" stroke="#000" stroke-width="1.2"/>
<line x1="266" y1="399.78" x2="270" y2="399.78" stroke="#000" stroke-width="1.2"/>
<line x1="277.2" y1="415.24" x2="277.2" y2="413.18" stroke="#000" stroke-width="1.2"/>
<line x1="275.2" y1="413.18" x2="279.2" y2="413.18" stroke="#000" stroke-width="1.2"/>
<rect x="290.5" y="405.45" width="9.2" height="21.65" fill="#d21420"/>
<rect x="299.7" y="414" width="9.2" height="13.1" fill="#0c40bc"/>
<line x1="295.1" y1="405.45" x2="295.1" y2="403.38" stroke="#000" stroke-width="1.2"/>
<line x1="293.1" y1="403.38" x2="297.1" y2="403.38" stroke="#000" stroke-width="1.2"/>
<line x1="304.3" y1="414" x2="304.3" y2="412.46" stroke="#000" stroke-width="1.2"/>
<line x1="302.3" y1="412.46" x2="306.3" y2="412.46" stroke="#000" stroke-width="1.2"/>
<rect x="318.3" y="368.64" width="9.2" height="58.46" fill="#d21420"/>
<rect x="327.5" y="394.1" width="9.2" height="33" fill="#0c40bc"/>
<line x1="322.9" y1="368.64" x2="322.9" y2="360.59" stroke="#000" stroke-width="1.2"/>
<line x1="320.9" y1="360.59" x2="324.9" y2="360.59" stroke="#000" stroke-width="1.2"/>
<line x1="332.1" y1="394.1" x2="332.1" y2="391.01" stroke="#000" stroke-width="1.2"/>
<line x1="330.1" y1="391.01" x2="334.1" y2="391.01" stroke="#000" stroke-width="1.2"/>
<line x1="227.5" y1="333.7" x2="227.5" y2="427.7" stroke="#000" stroke-width="1.3"/>
<line x1="224.7" y1="427.1" x2="227.5" y2="427.1" stroke="#000" stroke-width="1.3"/>
<text x="221.7" y="429.76" font-size="7.4" text-anchor="end">0</text>
<line x1="224.7" y1="396.17" x2="227.5" y2="396.17" stroke="#000" stroke-width="1.3"/>
<text x="221.7" y="398.83" font-size="7.4" text-anchor="end">30</text>
<line x1="224.7" y1="365.23" x2="227.5" y2="365.23" stroke="#000" stroke-width="1.3"/>
<text x="221.7" y="367.9" font-size="7.4" text-anchor="end">60</text>
<line x1="224.7" y1="334.3" x2="227.5" y2="334.3" stroke="#000" stroke-width="1.3"/>
<text x="221.7" y="336.96" font-size="7.4" text-anchor="end">90</text>
<line x1="227.5" y1="427.1" x2="343.5" y2="427.1" stroke="#000" stroke-width="1.3"/>
<line x1="227.5" y1="427.1" x2="227.5" y2="429.6" stroke="#000" stroke-width="1"/>
<line x1="245.4" y1="427.1" x2="245.4" y2="429.7" stroke="#000" stroke-width="1"/>
<line x1="272.6" y1="427.1" x2="272.6" y2="429.7" stroke="#000" stroke-width="1"/>
<line x1="299.7" y1="427.1" x2="299.7" y2="429.7" stroke="#000" stroke-width="1"/>
<line x1="327.5" y1="427.1" x2="327.5" y2="429.7" stroke="#000" stroke-width="1"/>
<polyline points="242.6,412.5 240.6,412.5 240.6,409 250.2,409 250.2,413" fill="none" stroke="#000" stroke-width="1.4"/>
<circle cx="245.1" cy="404.1" r="1.25" fill="#111"/>
<polyline points="269.8,398 267.8,398 267.8,394.3 277.4,394.3 277.4,398.5" fill="none" stroke="#000" stroke-width="1.4"/>
<circle cx="272.3" cy="389.4" r="1.25" fill="#111"/>
<polyline points="296.9,401.5 294.9,401.5 294.9,397.6 304.5,397.6 304.5,401.5" fill="none" stroke="#000" stroke-width="1.4"/>
<circle cx="299.4" cy="392.7" r="1.25" fill="#111"/>
<polyline points="324.7,361 322.7,361 322.7,356.7 332.3,356.7 332.3,361" fill="none" stroke="#000" stroke-width="1.4"/>
<circle cx="327.2" cy="351.8" r="1.25" fill="#111"/>
<text x="291.3" y="328.2" font-size="9.4" text-anchor="middle" fill="#333" textLength="16.2" lengthAdjust="spacingAndGlyphs">THP1</text>
<text x="206.4" y="380.9" font-size="9" text-anchor="middle" fill="#333" font-weight="bold" transform="rotate(-90 206.4 380.9)" textLength="55" lengthAdjust="spacingAndGlyphs">ANNEXIN V+(%)</text>
<rect x="234.5" y="336.2" width="9.6" height="4" fill="#d00010"/>
<rect x="235.6" y="348.8" width="9.2" height="4" fill="#0a38b8"/>
<text x="247.3" y="340.9" font-size="7.8" fill="#333" textLength="20.5" lengthAdjust="spacingAndGlyphs">shCtrl</text>
<text x="248" y="353.3" font-size="7.8" fill="#333" textLength="19.5" lengthAdjust="spacingAndGlyphs">shGG</text>
<text x="249.8" y="436.7" font-size="8" text-anchor="end" fill="#111" transform="rotate(-45 249.8 436.7)">DMSO</text>
<text x="277" y="436.7" font-size="8" text-anchor="end" fill="#111" transform="rotate(-45 277 436.7)">Romi</text>
<text x="304.1" y="436.7" font-size="8" text-anchor="end" fill="#111" transform="rotate(-45 304.1 436.7)">JQ1</text>
<text x="331.9" y="436.7" font-size="8" text-anchor="end" fill="#111" transform="rotate(-45 331.9 436.7)">Romi+JQ1</text>
<rect x="394.6" y="415.35" width="9.1" height="11.75" fill="#d21420"/>
<rect x="403.7" y="419.37" width="9.1" height="7.73" fill="#0c40bc"/>
<line x1="399.15" y1="415.35" x2="399.15" y2="413.18" stroke="#000" stroke-width="1.2"/>
<line x1="397.15" y1="413.18" x2="401.15" y2="413.18" stroke="#000" stroke-width="1.2"/>
<line x1="408.25" y1="419.37" x2="408.25" y2="417.3" stroke="#000" stroke-width="1.2"/>
<line x1="406.25" y1="417.3" x2="410.25" y2="417.3" stroke="#000" stroke-width="1.2"/>
<rect x="421.7" y="406.48" width="9.1" height="20.62" fill="#d21420"/>
<rect x="430.8" y="414.73" width="9.1" height="12.37" fill="#0c40bc"/>
<line x1="426.25" y1="406.48" x2="426.25" y2="404.42" stroke="#000" stroke-width="1.2"/>
<line x1="424.25" y1="404.42" x2="428.25" y2="404.42" stroke="#000" stroke-width="1.2"/>
<line x1="435.35" y1="414.73" x2="435.35" y2="412.66" stroke="#000" stroke-width="1.2"/>
<line x1="433.35" y1="412.66" x2="437.35" y2="412.66" stroke="#000" stroke-width="1.2"/>
<rect x="449.5" y="403.9" width="9.1" height="23.2" fill="#d21420"/>
<rect x="458.6" y="414" width="9.1" height="13.1" fill="#0c40bc"/>
<line x1="454.05" y1="403.9" x2="454.05" y2="402.35" stroke="#000" stroke-width="1.2"/>
<line x1="452.05" y1="402.35" x2="456.05" y2="402.35" stroke="#000" stroke-width="1.2"/>
<line x1="463.15" y1="414" x2="463.15" y2="412.66" stroke="#000" stroke-width="1.2"/>
<line x1="461.15" y1="412.66" x2="465.15" y2="412.66" stroke="#000" stroke-width="1.2"/>
<rect x="476.6" y="378.64" width="9.1" height="48.46" fill="#d21420"/>
<rect x="485.7" y="402.35" width="9.1" height="24.75" fill="#0c40bc"/>
<line x1="481.15" y1="378.64" x2="481.15" y2="370.39" stroke="#000" stroke-width="1.2"/>
<line x1="479.15" y1="370.39" x2="483.15" y2="370.39" stroke="#000" stroke-width="1.2"/>
<line x1="490.25" y1="402.35" x2="490.25" y2="397.2" stroke="#000" stroke-width="1.2"/>
<line x1="488.25" y1="397.2" x2="492.25" y2="397.2" stroke="#000" stroke-width="1.2"/>
<line x1="385.8" y1="333.7" x2="385.8" y2="427.7" stroke="#000" stroke-width="1.3"/>
<line x1="383" y1="427.1" x2="385.8" y2="427.1" stroke="#000" stroke-width="1.3"/>
<text x="380" y="429.76" font-size="7.4" text-anchor="end">0</text>
<line x1="383" y1="396.17" x2="385.8" y2="396.17" stroke="#000" stroke-width="1.3"/>
<text x="380" y="398.83" font-size="7.4" text-anchor="end">30</text>
<line x1="383" y1="365.23" x2="385.8" y2="365.23" stroke="#000" stroke-width="1.3"/>
<text x="380" y="367.9" font-size="7.4" text-anchor="end">60</text>
<line x1="383" y1="334.3" x2="385.8" y2="334.3" stroke="#000" stroke-width="1.3"/>
<text x="380" y="336.96" font-size="7.4" text-anchor="end">90</text>
<line x1="385.8" y1="427.1" x2="502.8" y2="427.1" stroke="#000" stroke-width="1.3"/>
<line x1="385.8" y1="427.1" x2="385.8" y2="429.6" stroke="#000" stroke-width="1"/>
<line x1="403.7" y1="427.1" x2="403.7" y2="429.7" stroke="#000" stroke-width="1"/>
<line x1="430.8" y1="427.1" x2="430.8" y2="429.7" stroke="#000" stroke-width="1"/>
<line x1="458.6" y1="427.1" x2="458.6" y2="429.7" stroke="#000" stroke-width="1"/>
<line x1="485.7" y1="427.1" x2="485.7" y2="429.7" stroke="#000" stroke-width="1"/>
<polyline points="400.95,412.5 398.95,412.5 398.95,409 408.45,409 408.45,413" fill="none" stroke="#000" stroke-width="1.4"/>
<circle cx="403.4" cy="404.1" r="1.25" fill="#111"/>
<polyline points="428.05,403.5 426.05,403.5 426.05,399.9 435.55,399.9 435.55,403.5" fill="none" stroke="#000" stroke-width="1.4"/>
<circle cx="430.5" cy="395" r="1.25" fill="#111"/>
<polyline points="455.85,400.5 453.85,400.5 453.85,396.6 463.35,396.6 463.35,400.5" fill="none" stroke="#000" stroke-width="1.4"/>
<circle cx="458.3" cy="391.7" r="1.25" fill="#111"/>
<polyline points="482.95,373 480.95,373 480.95,368.8 490.45,368.8 490.45,373" fill="none" stroke="#000" stroke-width="1.4"/>
<circle cx="485.4" cy="363.9" r="1.25" fill="#111"/>
<text x="455.2" y="328.2" font-size="9.4" text-anchor="middle" fill="#333" textLength="25.8" lengthAdjust="spacingAndGlyphs">MV4-11</text>
<text x="364.7" y="380.9" font-size="9" text-anchor="middle" fill="#333" font-weight="bold" transform="rotate(-90 364.7 380.9)" textLength="55" lengthAdjust="spacingAndGlyphs">ANNEXIN V+(%)</text>
<rect x="392.9" y="336.2" width="9.6" height="4" fill="#d00010"/>
<rect x="394.1" y="348.8" width="9.2" height="4" fill="#0a38b8"/>
<text x="405.7" y="340.9" font-size="7.8" fill="#333" textLength="20.5" lengthAdjust="spacingAndGlyphs">shCtrl</text>
<text x="406.5" y="353.3" font-size="7.8" fill="#333" textLength="19.5" lengthAdjust="spacingAndGlyphs">shGG</text>
<text x="408.1" y="436.7" font-size="8" text-anchor="end" fill="#111" transform="rotate(-45 408.1 436.7)">DMSO</text>
<text x="435.2" y="436.7" font-size="8" text-anchor="end" fill="#111" transform="rotate(-45 435.2 436.7)">Romi</text>
<text x="463" y="436.7" font-size="8" text-anchor="end" fill="#111" transform="rotate(-45 463 436.7)">AC220</text>
<text x="490.1" y="436.7" font-size="8" text-anchor="end" fill="#111" transform="rotate(-45 490.1 436.7)">Romi+AC220</text>
<rect x="34.1" y="515.2" width="103.8" height="99" fill="#030303"/>
<g filter="url(#b03)">
<path d="M44.29 516.59 Q45.25 516.62 46.05 517.41 Q46.86 518.19 47.44 519.39 Q48.03 520.59 48.35 522.22 Q48.67 523.84 49.48 525.05 Q50.29 526.26 50.3 529.11 Q50.32 531.96 50.55 534.88 Q50.78 537.81 50.8 540.8 Q50.82 543.8 50.32 545.16 Q49.81 546.52 47.86 546.93 Q45.91 547.34 43.12 547.33 Q40.33 547.31 38.41 546.67 Q36.5 546.03 36.02 544.8 Q35.54 543.57 35.65 540.91 Q35.75 538.25 35.63 535.14 Q35.51 532.03 35.71 529.23 Q35.92 526.44 36.66 524.97 Q37.41 523.49 37.95 522.07 Q38.48 520.65 38.99 519.5 Q39.5 518.35 39.89 517.56 Q40.27 516.77 41.81 516.66 Q43.34 516.56 44.29 516.59 Z" fill="url(#mouse)"/>
<ellipse cx="46.4" cy="527.03" rx="1.26" ry="2.57" fill="#a8a8a8" opacity="0.3"/>
<ellipse cx="46.85" cy="526.48" rx="1.92" ry="1.26" fill="#f4f4f4" opacity="0.3"/>
<ellipse cx="39.27" cy="545.49" rx="2.03" ry="2.8" fill="#f4f4f4" opacity="0.3"/>
<ellipse cx="39.44" cy="534.6" rx="1.79" ry="1.99" fill="#a8a8a8" opacity="0.3"/>
<ellipse cx="47.28" cy="535.88" rx="1.62" ry="1.8" fill="#f4f4f4" opacity="0.3"/>
<ellipse cx="41.35" cy="526.99" rx="1.06" ry="2.48" fill="#ffffff" opacity="0.3"/>
<ellipse cx="44.06" cy="537.2" rx="1.47" ry="1.16" fill="#a8a8a8" opacity="0.3"/>
<path d="M43.56 549.42 Q44.99 549.42 45.64 550.22 Q46.28 551.03 46.81 552.37 Q47.34 553.72 47.54 555.03 Q47.75 556.35 48.7 557.71 Q49.65 559.08 49.92 561.73 Q50.2 564.39 50.13 567.71 Q50.06 571.04 49.84 573.9 Q49.63 576.76 49.48 577.87 Q49.33 578.98 47.21 579.6 Q45.08 580.23 42.44 580.18 Q39.8 580.13 37.75 579.67 Q35.69 579.22 35.15 577.76 Q34.6 576.31 34.68 573.6 Q34.75 570.9 34.73 567.72 Q34.72 564.53 35.01 561.81 Q35.31 559.09 35.96 557.72 Q36.6 556.34 37.31 554.96 Q38.02 553.58 38.39 552.22 Q38.76 550.87 39.69 550.33 Q40.61 549.8 41.37 549.61 Q42.12 549.42 43.56 549.42 Z" fill="url(#mouse)"/>
<ellipse cx="38.98" cy="562.1" rx="1.81" ry="2.28" fill="#f4f4f4" opacity="0.3"/>
<ellipse cx="42.53" cy="576.42" rx="1.07" ry="1.51" fill="#f4f4f4" opacity="0.3"/>
<ellipse cx="45.64" cy="566.38" rx="1.62" ry="1.06" fill="#a8a8a8" opacity="0.3"/>
<ellipse cx="44.69" cy="563.88" rx="1.73" ry="1.66" fill="#c8c8c8" opacity="0.3"/>
<ellipse cx="38.66" cy="570.31" rx="0.95" ry="1.29" fill="#f4f4f4" opacity="0.3"/>
<ellipse cx="41.27" cy="572.02" rx="1.46" ry="1.56" fill="#f4f4f4" opacity="0.3"/>
<ellipse cx="43.81" cy="558.03" rx="1.12" ry="1.02" fill="#a8a8a8" opacity="0.3"/>
<path d="M44.27 582.4 Q45 582.32 46.13 583.27 Q47.25 584.22 47.63 585.33 Q48.01 586.45 48.44 588.1 Q48.87 589.75 49.47 590.86 Q50.07 591.97 50.31 594.85 Q50.55 597.73 50.76 601.04 Q50.97 604.35 50.96 607.02 Q50.95 609.68 50.26 611 Q49.57 612.32 47.66 612.71 Q45.75 613.11 42.89 613.2 Q40.02 613.29 38.26 613 Q36.5 612.71 36.11 611.2 Q35.72 609.69 35.47 606.72 Q35.22 603.74 35.34 600.66 Q35.46 597.57 35.85 595.03 Q36.24 592.5 36.93 590.99 Q37.61 589.49 38.17 588.12 Q38.73 586.75 39.12 585.54 Q39.51 584.33 40.28 583.54 Q41.06 582.76 42.3 582.62 Q43.53 582.48 44.27 582.4 Z" fill="url(#mouse)"/>
<ellipse cx="41.77" cy="611.37" rx="2.15" ry="1.29" fill="#f4f4f4" opacity="0.3"/>
<ellipse cx="45.09" cy="598.4" rx="1.54" ry="1.88" fill="#f4f4f4" opacity="0.3"/>
<ellipse cx="43.12" cy="607.63" rx="1.3" ry="2.59" fill="#f4f4f4" opacity="0.3"/>
<ellipse cx="41.74" cy="605" rx="1.58" ry="1.82" fill="#a8a8a8" opacity="0.3"/>
<ellipse cx="47.16" cy="607.21" rx="1.97" ry="2.58" fill="#c8c8c8" opacity="0.3"/>
<ellipse cx="45.62" cy="598.85" rx="1.22" ry="2.44" fill="#f4f4f4" opacity="0.3"/>
<ellipse cx="41.39" cy="592.07" rx="1.52" ry="2.68" fill="#ffffff" opacity="0.3"/>
<path d="M61.13 516.47 Q62.28 516.59 63.15 517.52 Q64.02 518.45 64.41 519.48 Q64.79 520.5 65.19 522.09 Q65.59 523.69 66.08 525.11 Q66.56 526.53 67.21 529.03 Q67.86 531.52 67.88 534.77 Q67.89 538.02 67.56 540.7 Q67.22 543.37 66.9 544.81 Q66.57 546.25 64.86 546.77 Q63.14 547.3 59.83 547.33 Q56.51 547.36 55.18 546.97 Q53.85 546.57 53.22 544.89 Q52.59 543.22 52.2 540.48 Q51.8 537.73 52.31 534.71 Q52.82 531.68 52.86 529.09 Q52.9 526.5 53.49 525.16 Q54.08 523.82 54.59 522.13 Q55.11 520.44 55.63 519.45 Q56.16 518.46 56.73 517.53 Q57.3 516.6 58.64 516.48 Q59.97 516.36 61.13 516.47 Z" fill="url(#mouse)"/>
<ellipse cx="59.11" cy="521.93" rx="1.5" ry="2.47" fill="#ffffff" opacity="0.3"/>
<ellipse cx="60.22" cy="542.09" rx="1.01" ry="2.02" fill="#c8c8c8" opacity="0.3"/>
<ellipse cx="63.7" cy="524.71" rx="2.15" ry="2.39" fill="#f4f4f4" opacity="0.3"/>
<ellipse cx="56.85" cy="540.92" rx="2.13" ry="1.78" fill="#f4f4f4" opacity="0.3"/>
<ellipse cx="59.41" cy="537.79" rx="1" ry="1.94" fill="#ffffff" opacity="0.3"/>
<ellipse cx="57.77" cy="528.48" rx="1.72" ry="2.7" fill="#a8a8a8" opacity="0.3"/>
<ellipse cx="62.46" cy="532.85" rx="1.29" ry="1.78" fill="#ffffff" opacity="0.3"/>
<path d="M61.15 549.39 Q62.52 549.55 63.09 550.33 Q63.66 551.11 63.97 552.33 Q64.28 553.55 64.95 555.18 Q65.61 556.82 65.98 557.91 Q66.34 559 66.65 561.95 Q66.95 564.89 67.31 567.75 Q67.66 570.62 67.68 573.69 Q67.69 576.77 67.08 578.05 Q66.48 579.34 64.53 579.62 Q62.58 579.9 59.69 579.91 Q56.8 579.93 54.92 579.52 Q53.04 579.11 52.51 577.78 Q51.98 576.46 52.05 573.78 Q52.13 571.11 52.24 567.95 Q52.35 564.79 52.65 562 Q52.95 559.22 53.54 557.86 Q54.13 556.5 54.84 555.17 Q55.55 553.85 55.93 552.52 Q56.32 551.19 56.84 550.3 Q57.37 549.4 58.58 549.32 Q59.79 549.24 61.15 549.39 Z" fill="url(#mouse)"/>
<ellipse cx="57.89" cy="555.59" rx="1.87" ry="1.72" fill="#c8c8c8" opacity="0.3"/>
<ellipse cx="58.79" cy="577.61" rx="1.99" ry="1" fill="#a8a8a8" opacity="0.3"/>
<ellipse cx="63.75" cy="555.15" rx="1.33" ry="2.28" fill="#f4f4f4" opacity="0.3"/>
<ellipse cx="55.91" cy="569.46" rx="1.89" ry="1.49" fill="#ffffff" opacity="0.3"/>
<ellipse cx="58.1" cy="554.23" rx="1.37" ry="2.66" fill="#a8a8a8" opacity="0.3"/>
<ellipse cx="57.5" cy="556.36" rx="0.88" ry="2.43" fill="#a8a8a8" opacity="0.3"/>
<ellipse cx="61.5" cy="558.52" rx="1.51" ry="2.77" fill="#a8a8a8" opacity="0.3"/>
<path d="M61.23 582.32 Q62.47 582.35 62.93 583.17 Q63.4 583.99 63.98 585.38 Q64.56 586.76 65.21 588.26 Q65.86 589.75 66.41 591.02 Q66.96 592.28 67.08 595.02 Q67.19 597.76 67.28 601.03 Q67.36 604.29 67.2 607.07 Q67.04 609.85 66.58 611.22 Q66.13 612.58 64.53 612.96 Q62.93 613.34 60.1 613.22 Q57.27 613.1 55.19 612.91 Q53.11 612.72 52.86 611.06 Q52.61 609.4 52.71 606.86 Q52.82 604.32 52.49 601.04 Q52.17 597.75 52.48 594.91 Q52.8 592.07 53.64 590.77 Q54.47 589.48 54.96 587.88 Q55.46 586.29 55.68 585.28 Q55.89 584.27 56.76 583.4 Q57.63 582.52 58.82 582.41 Q60 582.3 61.23 582.32 Z" fill="url(#mouse)"/>
<ellipse cx="60.9" cy="598.78" rx="1.34" ry="1.05" fill="#ffffff" opacity="0.3"/>
<ellipse cx="64.31" cy="611.25" rx="1.73" ry="1.64" fill="#c8c8c8" opacity="0.3"/>
<ellipse cx="63.38" cy="596.5" rx="1.23" ry="1.45" fill="#c8c8c8" opacity="0.3"/>
<ellipse cx="58.77" cy="599.64" rx="1.93" ry="1.9" fill="#ffffff" opacity="0.3"/>
<ellipse cx="58.93" cy="608.32" rx="0.85" ry="1.05" fill="#f4f4f4" opacity="0.3"/>
<ellipse cx="55.83" cy="591.98" rx="1.65" ry="2.36" fill="#a8a8a8" opacity="0.3"/>
<ellipse cx="57.06" cy="604.25" rx="0.85" ry="1.5" fill="#c8c8c8" opacity="0.3"/>
<path d="M78.73 516.77 Q79.84 517.02 80.39 517.68 Q80.93 518.33 81.71 519.64 Q82.48 520.94 82.8 522.26 Q83.11 523.59 83.67 525.07 Q84.22 526.56 84.39 529.12 Q84.55 531.69 85.03 534.81 Q85.51 537.93 85.04 540.66 Q84.58 543.39 84.43 544.78 Q84.29 546.17 82.3 546.73 Q80.31 547.28 77.35 547.24 Q74.38 547.2 72.28 546.76 Q70.17 546.32 69.68 544.79 Q69.18 543.25 69.14 540.67 Q69.09 538.08 69.22 535 Q69.34 531.92 69.6 528.97 Q69.85 526.02 70.42 524.97 Q70.98 523.92 71.84 522.23 Q72.71 520.54 72.89 519.24 Q73.06 517.95 74.04 517.3 Q75.02 516.65 76.32 516.58 Q77.62 516.51 78.73 516.77 Z" fill="url(#mouse)"/>
<ellipse cx="73.81" cy="536.96" rx="1.64" ry="1.81" fill="#a8a8a8" opacity="0.3"/>
<ellipse cx="81.21" cy="527.77" rx="1.97" ry="1.28" fill="#f4f4f4" opacity="0.3"/>
<ellipse cx="81.28" cy="542.29" rx="1.77" ry="2.79" fill="#f4f4f4" opacity="0.3"/>
<ellipse cx="75.77" cy="523.89" rx="1.65" ry="1.94" fill="#f4f4f4" opacity="0.3"/>
<ellipse cx="74.15" cy="525.27" rx="0.91" ry="2.41" fill="#c8c8c8" opacity="0.3"/>
<ellipse cx="72.54" cy="537.07" rx="1.24" ry="2.31" fill="#f4f4f4" opacity="0.3"/>
<ellipse cx="77.52" cy="539.82" rx="0.88" ry="2.2" fill="#ffffff" opacity="0.3"/>
<path d="M79.01 549.44 Q80.4 549.56 80.99 550.4 Q81.58 551.24 82.33 552.39 Q83.08 553.55 83.41 555.01 Q83.74 556.48 84.13 557.76 Q84.52 559.04 85.11 561.74 Q85.7 564.43 85.87 567.58 Q86.05 570.73 85.67 573.47 Q85.28 576.2 85.17 577.81 Q85.06 579.42 83.24 579.84 Q81.42 580.27 77.88 580.18 Q74.34 580.09 72.8 579.56 Q71.25 579.03 70.99 577.72 Q70.73 576.4 70.24 573.75 Q69.75 571.1 69.81 568.03 Q69.88 564.97 70.34 562.06 Q70.81 559.15 71.39 557.89 Q71.97 556.63 72.36 554.94 Q72.76 553.25 73.55 552.07 Q74.34 550.9 75.09 550.14 Q75.83 549.39 76.72 549.35 Q77.61 549.32 79.01 549.44 Z" fill="url(#mouse)"/>
<ellipse cx="82.34" cy="576.02" rx="1.86" ry="2.37" fill="#ffffff" opacity="0.3"/>
<ellipse cx="74.37" cy="565.66" rx="1.96" ry="1.36" fill="#a8a8a8" opacity="0.3"/>
<ellipse cx="81.57" cy="564.01" rx="1.31" ry="1.81" fill="#f4f4f4" opacity="0.3"/>
<ellipse cx="76.21" cy="565.86" rx="1.17" ry="2.5" fill="#a8a8a8" opacity="0.3"/>
<ellipse cx="79.98" cy="578.47" rx="1.49" ry="1.88" fill="#a8a8a8" opacity="0.3"/>
<ellipse cx="78.6" cy="561.75" rx="2.17" ry="1.2" fill="#a8a8a8" opacity="0.3"/>
<ellipse cx="79.11" cy="574.52" rx="1.27" ry="2.37" fill="#c8c8c8" opacity="0.3"/>
<path d="M78.61 582.43 Q79.35 582.89 80.21 583.36 Q81.07 583.84 81.76 585.15 Q82.45 586.47 83.03 588 Q83.62 589.52 84.28 590.8 Q84.94 592.07 85.08 595.07 Q85.23 598.07 85.35 601.19 Q85.46 604.3 85.36 606.84 Q85.25 609.37 84.86 610.95 Q84.47 612.52 82.44 612.86 Q80.4 613.21 77.51 613.33 Q74.63 613.45 72.9 613.04 Q71.18 612.63 70.72 611.17 Q70.26 609.7 70.02 606.9 Q69.78 604.11 69.65 601.1 Q69.52 598.08 69.86 595.22 Q70.2 592.36 71.13 591.07 Q72.06 589.78 72.15 588.28 Q72.24 586.77 72.95 585.32 Q73.67 583.88 74.17 583.23 Q74.66 582.59 76.27 582.28 Q77.87 581.98 78.61 582.43 Z" fill="url(#mouse)"/>
<ellipse cx="73.03" cy="609.97" rx="1.51" ry="1.93" fill="#f4f4f4" opacity="0.3"/>
<ellipse cx="76.47" cy="609.95" rx="1.06" ry="2.01" fill="#f4f4f4" opacity="0.3"/>
<ellipse cx="78.22" cy="594.3" rx="1.63" ry="1.98" fill="#f4f4f4" opacity="0.3"/>
<ellipse cx="79.87" cy="609.32" rx="1.4" ry="1.16" fill="#f4f4f4" opacity="0.3"/>
<ellipse cx="76.08" cy="597.66" rx="1.36" ry="2.67" fill="#a8a8a8" opacity="0.3"/>
<ellipse cx="77.55" cy="596.88" rx="0.94" ry="2.61" fill="#a8a8a8" opacity="0.3"/>
<ellipse cx="73.01" cy="596.27" rx="1.05" ry="2.64" fill="#a8a8a8" opacity="0.3"/>
<path d="M95.79 516.57 Q96.71 516.86 97.56 517.48 Q98.41 518.1 98.96 519.45 Q99.51 520.8 100.25 522.28 Q100.98 523.77 101.6 525.16 Q102.22 526.56 102.18 529.05 Q102.14 531.54 102.18 534.85 Q102.22 538.17 102.31 540.97 Q102.39 543.76 102.1 545.07 Q101.81 546.37 99.88 546.65 Q97.94 546.93 94.63 547.16 Q91.31 547.39 89.88 546.91 Q88.45 546.44 87.93 545.02 Q87.42 543.61 87.34 540.91 Q87.26 538.2 87.09 535 Q86.93 531.8 87.33 529.13 Q87.73 526.46 88.6 525.05 Q89.48 523.64 89.58 522.1 Q89.67 520.55 90.24 519.48 Q90.81 518.41 91.62 517.67 Q92.44 516.92 93.65 516.6 Q94.87 516.27 95.79 516.57 Z" fill="url(#mouse)"/>
<ellipse cx="92.99" cy="533.93" rx="1.06" ry="2.16" fill="#f4f4f4" opacity="0.3"/>
<ellipse cx="98.18" cy="544.39" rx="1.53" ry="1.12" fill="#ffffff" opacity="0.3"/>
<ellipse cx="94.59" cy="532.99" rx="2.11" ry="1.46" fill="#c8c8c8" opacity="0.3"/>
<ellipse cx="98.48" cy="542.64" rx="1.04" ry="1.33" fill="#a8a8a8" opacity="0.3"/>
<ellipse cx="94.95" cy="531.37" rx="1.12" ry="1.38" fill="#c8c8c8" opacity="0.3"/>
<ellipse cx="98.85" cy="543.16" rx="1.94" ry="1.54" fill="#f4f4f4" opacity="0.3"/>
<ellipse cx="96.32" cy="543.67" rx="1.22" ry="2.46" fill="#f4f4f4" opacity="0.3"/>
<path d="M96.35 549.32 Q97.68 549.69 98.33 550.25 Q98.98 550.82 99.49 552.26 Q99.99 553.7 100.42 555.24 Q100.84 556.79 101.69 557.84 Q102.55 558.89 102.8 561.78 Q103.05 564.67 103.07 567.94 Q103.09 571.21 102.82 573.7 Q102.56 576.18 102.49 577.7 Q102.42 579.21 100.34 579.65 Q98.27 580.09 95.26 580.29 Q92.26 580.48 90.46 579.79 Q88.65 579.09 88.36 577.8 Q88.08 576.51 88.13 573.81 Q88.19 571.11 87.99 567.81 Q87.79 564.52 88.32 561.97 Q88.85 559.42 89.09 558.1 Q89.33 556.79 90.18 555.21 Q91.03 553.63 91.19 552.44 Q91.36 551.24 92.36 550.31 Q93.37 549.38 94.19 549.17 Q95.02 548.96 96.35 549.32 Z" fill="url(#mouse)"/>
<ellipse cx="96.77" cy="559.29" rx="0.86" ry="1.6" fill="#c8c8c8" opacity="0.3"/>
<ellipse cx="96.13" cy="565.8" rx="1.71" ry="1.57" fill="#a8a8a8" opacity="0.3"/>
<ellipse cx="99.87" cy="578.49" rx="1.91" ry="1.55" fill="#a8a8a8" opacity="0.3"/>
<ellipse cx="96.02" cy="577.06" rx="1.97" ry="1.53" fill="#a8a8a8" opacity="0.3"/>
<ellipse cx="92.63" cy="576.69" rx="1.64" ry="2.25" fill="#ffffff" opacity="0.3"/>
<ellipse cx="97.03" cy="560.91" rx="1.23" ry="2.51" fill="#a8a8a8" opacity="0.3"/>
<ellipse cx="91.9" cy="558.87" rx="1.27" ry="1.73" fill="#ffffff" opacity="0.3"/>
<path d="M96.31 582.42 Q97.57 582.82 98.43 583.52 Q99.29 584.21 99.57 585.39 Q99.84 586.57 100.65 588.14 Q101.45 589.7 102.12 591.06 Q102.78 592.42 102.82 594.96 Q102.87 597.49 103.12 600.65 Q103.38 603.81 102.92 606.8 Q102.46 609.8 102.38 611.24 Q102.3 612.67 100.62 612.94 Q98.94 613.21 95.46 613.19 Q91.97 613.16 90.65 612.69 Q89.34 612.22 88.5 610.79 Q87.66 609.36 87.49 606.55 Q87.32 603.75 87.54 600.67 Q87.76 597.59 88.05 595.02 Q88.33 592.45 88.88 591.17 Q89.43 589.88 90.16 588.25 Q90.89 586.61 91.27 585.43 Q91.66 584.24 92.44 583.32 Q93.21 582.41 94.13 582.21 Q95.05 582.02 96.31 582.42 Z" fill="url(#mouse)"/>
<ellipse cx="93.86" cy="592.97" rx="1.36" ry="2.78" fill="#f4f4f4" opacity="0.3"/>
<ellipse cx="97.26" cy="606.68" rx="0.81" ry="1.32" fill="#a8a8a8" opacity="0.3"/>
<ellipse cx="97.31" cy="589.15" rx="0.89" ry="2.19" fill="#ffffff" opacity="0.3"/>
<ellipse cx="95.92" cy="590.51" rx="0.88" ry="2.06" fill="#f4f4f4" opacity="0.3"/>
<ellipse cx="90.88" cy="610.63" rx="1.76" ry="2.71" fill="#f4f4f4" opacity="0.3"/>
<ellipse cx="95.24" cy="610.24" rx="1.15" ry="1.58" fill="#a8a8a8" opacity="0.3"/>
<ellipse cx="92.9" cy="596.27" rx="1.81" ry="1.35" fill="#a8a8a8" opacity="0.3"/>
<path d="M112.77 516.63 Q113.69 516.64 114.85 517.49 Q116 518.35 116.07 519.48 Q116.15 520.62 116.93 522.19 Q117.7 523.76 117.92 525.13 Q118.13 526.5 118.47 529.19 Q118.81 531.89 119.11 534.91 Q119.4 537.94 119.44 540.62 Q119.48 543.3 118.88 544.67 Q118.27 546.04 116.77 546.51 Q115.26 546.98 112.1 547.19 Q108.94 547.4 107.44 546.72 Q105.94 546.03 105.49 544.87 Q105.05 543.72 104.69 540.92 Q104.33 538.12 104.36 534.85 Q104.4 531.59 104.66 528.86 Q104.93 526.14 105.82 524.95 Q106.7 523.77 107.22 522.36 Q107.74 520.95 107.83 519.58 Q107.93 518.21 108.61 517.51 Q109.28 516.82 110.57 516.73 Q111.85 516.63 112.77 516.63 Z" fill="url(#mouse)"/>
<ellipse cx="112.86" cy="535.44" rx="0.92" ry="2.1" fill="#ffffff" opacity="0.3"/>
<ellipse cx="109.15" cy="526.96" rx="1.44" ry="1.85" fill="#c8c8c8" opacity="0.3"/>
<ellipse cx="112.97" cy="532.19" rx="1.98" ry="2.64" fill="#a8a8a8" opacity="0.3"/>
<ellipse cx="108.07" cy="521.93" rx="1.01" ry="1.69" fill="#f4f4f4" opacity="0.3"/>
<ellipse cx="108.41" cy="539.11" rx="1.07" ry="1.03" fill="#f4f4f4" opacity="0.3"/>
<ellipse cx="112.06" cy="526.95" rx="1.11" ry="2.41" fill="#a8a8a8" opacity="0.3"/>
<ellipse cx="108.97" cy="528.54" rx="1.15" ry="1.17" fill="#c8c8c8" opacity="0.3"/>
<path d="M113.15 549.43 Q114.16 549.83 115.08 550.5 Q116.01 551.18 116.44 552.32 Q116.87 553.47 117.4 555.08 Q117.92 556.69 118.53 557.95 Q119.15 559.22 119.47 561.94 Q119.79 564.66 119.56 567.67 Q119.33 570.68 119.47 573.48 Q119.61 576.27 119.14 577.81 Q118.67 579.34 116.74 579.86 Q114.81 580.38 111.84 580.4 Q108.86 580.43 107.56 579.76 Q106.25 579.09 105.76 577.86 Q105.26 576.62 104.88 573.81 Q104.51 571.01 104.58 567.98 Q104.65 564.96 105.2 562.19 Q105.75 559.42 106.06 557.97 Q106.37 556.53 107.06 555.07 Q107.76 553.61 108.01 552.45 Q108.26 551.3 109.29 550.37 Q110.33 549.45 111.23 549.24 Q112.13 549.03 113.15 549.43 Z" fill="url(#mouse)"/>
<ellipse cx="109.09" cy="570.41" rx="1.37" ry="2.19" fill="#f4f4f4" opacity="0.3"/>
<ellipse cx="115.43" cy="559.56" rx="0.92" ry="1.14" fill="#f4f4f4" opacity="0.3"/>
<ellipse cx="111.58" cy="572.31" rx="1.56" ry="2.58" fill="#f4f4f4" opacity="0.3"/>
<ellipse cx="110.66" cy="557.29" rx="0.89" ry="1.07" fill="#ffffff" opacity="0.3"/>
<ellipse cx="116.56" cy="571.34" rx="2.05" ry="1.74" fill="#ffffff" opacity="0.3"/>
<ellipse cx="113.21" cy="564.23" rx="1.99" ry="2.73" fill="#a8a8a8" opacity="0.3"/>
<ellipse cx="109.76" cy="562.86" rx="1.44" ry="2.3" fill="#f4f4f4" opacity="0.3"/>
<path d="M113.3 582.15 Q114.25 582.4 115.2 583.29 Q116.14 584.18 116.65 585.25 Q117.17 586.31 117.4 587.85 Q117.64 589.39 118.14 590.79 Q118.64 592.19 118.85 594.9 Q119.06 597.61 119.41 600.84 Q119.76 604.07 119.46 606.89 Q119.16 609.71 118.98 610.93 Q118.8 612.16 117.13 612.84 Q115.46 613.52 112.3 613.35 Q109.13 613.19 107.74 612.77 Q106.35 612.36 105.52 610.88 Q104.69 609.4 104.92 606.75 Q105.14 604.1 105.2 601.02 Q105.25 597.94 105.43 595.21 Q105.6 592.48 106.13 591.1 Q106.65 589.72 107.29 588.18 Q107.94 586.64 108.39 585.38 Q108.85 584.12 109.52 583.21 Q110.19 582.29 111.27 582.1 Q112.36 581.9 113.3 582.15 Z" fill="url(#mouse)"/>
<ellipse cx="109.82" cy="594.1" rx="0.91" ry="1.42" fill="#ffffff" opacity="0.3"/>
<ellipse cx="111.17" cy="598.2" rx="1.97" ry="1.29" fill="#c8c8c8" opacity="0.3"/>
<ellipse cx="109.65" cy="593.54" rx="2.11" ry="2.17" fill="#a8a8a8" opacity="0.3"/>
<ellipse cx="112.53" cy="592.99" rx="1.45" ry="1.49" fill="#a8a8a8" opacity="0.3"/>
<ellipse cx="113.87" cy="607.92" rx="1.89" ry="1.41" fill="#ffffff" opacity="0.3"/>
<ellipse cx="114.94" cy="596.89" rx="0.89" ry="2.64" fill="#c8c8c8" opacity="0.3"/>
<ellipse cx="109.68" cy="599.34" rx="2.04" ry="2.16" fill="#a8a8a8" opacity="0.3"/>
<path d="M130.5 516.43 Q131.71 516.61 132.4 517.57 Q133.09 518.54 133.37 519.57 Q133.65 520.6 134.38 522.07 Q135.11 523.54 135.48 525 Q135.86 526.46 136.54 529.07 Q137.23 531.69 136.94 534.97 Q136.65 538.25 136.6 540.91 Q136.55 543.57 136.22 544.96 Q135.89 546.36 134.31 546.92 Q132.73 547.48 129.57 547.44 Q126.41 547.4 124.73 546.88 Q123.06 546.36 122.43 544.85 Q121.8 543.34 121.61 540.78 Q121.42 538.22 121.7 534.89 Q121.98 531.56 122.38 528.84 Q122.78 526.11 123.29 524.94 Q123.8 523.77 124.07 522.15 Q124.33 520.53 124.94 519.36 Q125.54 518.19 126.32 517.54 Q127.11 516.89 128.2 516.57 Q129.29 516.26 130.5 516.43 Z" fill="url(#mouse)"/>
<ellipse cx="132.22" cy="542.04" rx="1.68" ry="2.74" fill="#f4f4f4" opacity="0.3"/>
<ellipse cx="128.62" cy="533.77" rx="1.54" ry="2.21" fill="#f4f4f4" opacity="0.3"/>
<ellipse cx="129.94" cy="533.75" rx="0.93" ry="1.66" fill="#a8a8a8" opacity="0.3"/>
<ellipse cx="124.76" cy="521.24" rx="1.62" ry="1.74" fill="#a8a8a8" opacity="0.3"/>
<ellipse cx="126.19" cy="535.14" rx="1.97" ry="1.46" fill="#a8a8a8" opacity="0.3"/>
<ellipse cx="127.78" cy="536.61" rx="0.87" ry="2.54" fill="#a8a8a8" opacity="0.3"/>
<ellipse cx="130.96" cy="527.48" rx="1.39" ry="2.04" fill="#f4f4f4" opacity="0.3"/>
<path d="M129.99 549.49 Q131.1 549.77 131.89 550.43 Q132.69 551.09 133.47 552.28 Q134.25 553.48 134.73 555.13 Q135.2 556.78 135.62 557.99 Q136.04 559.2 136.37 561.91 Q136.69 564.61 136.95 567.73 Q137.22 570.84 137.1 573.77 Q136.98 576.7 136.08 577.91 Q135.18 579.12 133.67 579.76 Q132.15 580.4 128.95 580.33 Q125.76 580.27 124.12 579.86 Q122.49 579.45 122.29 578.04 Q122.08 576.64 121.63 573.85 Q121.18 571.06 121.37 567.99 Q121.56 564.91 121.88 562.14 Q122.2 559.37 123.05 558.11 Q123.9 556.84 124.28 555.29 Q124.67 553.74 125.02 552.3 Q125.37 550.86 126.32 550.2 Q127.26 549.55 128.07 549.38 Q128.88 549.2 129.99 549.49 Z" fill="url(#mouse)"/>
<ellipse cx="124.67" cy="564.62" rx="1.38" ry="1.36" fill="#c8c8c8" opacity="0.3"/>
<ellipse cx="125.55" cy="576.27" rx="1.57" ry="1.32" fill="#c8c8c8" opacity="0.3"/>
<ellipse cx="133.61" cy="566.13" rx="1.53" ry="1.79" fill="#ffffff" opacity="0.3"/>
<ellipse cx="133.54" cy="574.43" rx="1.9" ry="2.79" fill="#ffffff" opacity="0.3"/>
<ellipse cx="129.33" cy="574.03" rx="2.1" ry="2.49" fill="#ffffff" opacity="0.3"/>
<ellipse cx="127.53" cy="566.96" rx="2.03" ry="2.55" fill="#f4f4f4" opacity="0.3"/>
<ellipse cx="129.67" cy="575.13" rx="1.11" ry="2.31" fill="#f4f4f4" opacity="0.3"/>
<path d="M130.87 582.24 Q131.9 582.56 132.76 583.29 Q133.63 584.01 134.07 585.18 Q134.52 586.36 135.02 587.99 Q135.51 589.63 135.75 590.86 Q135.99 592.09 136.5 594.8 Q137.01 597.51 136.98 600.62 Q136.94 603.73 136.68 606.59 Q136.42 609.45 136.04 610.89 Q135.65 612.32 134.18 612.84 Q132.71 613.35 129.69 613.5 Q126.66 613.65 124.96 613.2 Q123.26 612.74 122.65 611.25 Q122.04 609.76 122.07 606.92 Q122.1 604.07 121.83 600.94 Q121.57 597.81 122.05 594.9 Q122.54 591.98 122.95 590.74 Q123.36 589.49 124.1 588.13 Q124.83 586.76 125.27 585.39 Q125.71 584.03 126.19 583.15 Q126.67 582.27 128.25 582.09 Q129.83 581.92 130.87 582.24 Z" fill="url(#mouse)"/>
<ellipse cx="130.82" cy="600.1" rx="1.44" ry="1.31" fill="#ffffff" opacity="0.3"/>
<ellipse cx="131.8" cy="589.06" rx="1.68" ry="1.39" fill="#a8a8a8" opacity="0.3"/>
<ellipse cx="129.9" cy="597.59" rx="1.57" ry="2.34" fill="#a8a8a8" opacity="0.3"/>
<ellipse cx="126.18" cy="610.84" rx="1.99" ry="2.48" fill="#f4f4f4" opacity="0.3"/>
<ellipse cx="130.29" cy="590.71" rx="2.06" ry="1.95" fill="#f4f4f4" opacity="0.3"/>
<ellipse cx="129.66" cy="603.63" rx="0.91" ry="2.2" fill="#a8a8a8" opacity="0.3"/>
<ellipse cx="125.19" cy="602.41" rx="0.81" ry="1.47" fill="#f4f4f4" opacity="0.3"/>
<ellipse cx="44.3" cy="521.8" rx="4.06" ry="3.86" fill="#1838ff"/>
<ellipse cx="41.8" cy="537" rx="7.39" ry="9.24" fill="#1838ff"/>
<ellipse cx="37.5" cy="532" rx="2.71" ry="3.25" fill="#1838ff"/>
<ellipse cx="42.6" cy="554.6" rx="2.9" ry="2.67" fill="#1838ff"/>
<ellipse cx="40.6" cy="567.5" rx="6.6" ry="7.84" fill="#1838ff"/>
<ellipse cx="45" cy="573.5" rx="4.19" ry="4.86" fill="#1838ff"/>
<ellipse cx="41.5" cy="577" rx="3.48" ry="2.61" fill="#1838ff"/>
<ellipse cx="37" cy="561" rx="2.85" ry="3.99" fill="#1838ff"/>
<ellipse cx="47" cy="560" rx="2.52" ry="3.44" fill="#1838ff"/>
<ellipse cx="40.6" cy="591.2" rx="5.59" ry="6.42" fill="#1838ff"/>
<ellipse cx="41.8" cy="598" rx="4.5" ry="2.81" fill="#1838ff"/>
<ellipse cx="41.4" cy="606.5" rx="5.37" ry="6.82" fill="#1838ff"/>
<ellipse cx="43.4" cy="611.5" rx="2.73" ry="2.31" fill="#1838ff"/>
<ellipse cx="59.6" cy="533.5" rx="8.05" ry="8.5" fill="#1838ff"/>
<ellipse cx="65.3" cy="533" rx="2.56" ry="2.99" fill="#1838ff"/>
<ellipse cx="56.3" cy="537" rx="2.4" ry="2.84" fill="#1838ff"/>
<ellipse cx="60.5" cy="528" rx="3.34" ry="2.23" fill="#1838ff"/>
<ellipse cx="60.1" cy="574.2" rx="6.62" ry="6" fill="#1838ff"/>
<ellipse cx="60.9" cy="586.6" rx="2.51" ry="2.51" fill="#1838ff"/>
<ellipse cx="59.3" cy="602" rx="5.85" ry="9.57" fill="#1838ff"/>
<ellipse cx="58.6" cy="607" rx="3.48" ry="3.48" fill="#1838ff"/>
<ellipse cx="56" cy="596" rx="2.28" ry="3.42" fill="#1838ff"/>
<ellipse cx="64" cy="597" rx="2.28" ry="3.42" fill="#1838ff"/>
<ellipse cx="78.4" cy="522.3" rx="2.9" ry="2.78" fill="#1838ff"/>
<ellipse cx="73.6" cy="538" rx="4.84" ry="5.63" fill="#1838ff"/>
<ellipse cx="82.5" cy="537.7" rx="4.55" ry="6.49" fill="#1838ff"/>
<ellipse cx="83.6" cy="537" rx="1.7" ry="2.12" fill="#1838ff"/>
<ellipse cx="78.4" cy="543.8" rx="5.21" ry="2.55" fill="#1838ff"/>
<ellipse cx="77.5" cy="567.3" rx="6.88" ry="4.66" fill="#1838ff"/>
<ellipse cx="80" cy="565.8" rx="2.34" ry="2.34" fill="#1838ff"/>
<ellipse cx="75.9" cy="589" rx="2.75" ry="2.75" fill="#1838ff"/>
<ellipse cx="79" cy="604.5" rx="6.75" ry="10.13" fill="#1838ff"/>
<ellipse cx="79.8" cy="608" rx="3.25" ry="3.47" fill="#1838ff"/>
<ellipse cx="94.8" cy="524.2" rx="4.49" ry="4.39" fill="#1838ff"/>
<ellipse cx="100" cy="529" rx="2.32" ry="2.32" fill="#1838ff"/>
<ellipse cx="98.4" cy="538.5" rx="3.13" ry="3.13" fill="#1838ff"/>
<ellipse cx="95.8" cy="541.3" rx="2.78" ry="2.67" fill="#1838ff"/>
<ellipse cx="98.7" cy="546.5" rx="2.35" ry="2.24" fill="#1838ff"/>
<ellipse cx="94.8" cy="553.7" rx="4" ry="4" fill="#1838ff"/>
<ellipse cx="93.8" cy="568" rx="6.86" ry="7.9" fill="#1838ff"/>
<ellipse cx="99.2" cy="576.5" rx="3.24" ry="3.71" fill="#1838ff"/>
<ellipse cx="89.5" cy="563" rx="2.98" ry="5.74" fill="#1838ff"/>
<ellipse cx="91" cy="575" rx="3.99" ry="3.99" fill="#1838ff"/>
<ellipse cx="99" cy="566" rx="2.32" ry="4.64" fill="#1838ff"/>
<ellipse cx="96" cy="587.2" rx="3.49" ry="3.49" fill="#1838ff"/>
<ellipse cx="96.8" cy="604.7" rx="5.06" ry="6.95" fill="#1838ff"/>
<ellipse cx="108.7" cy="518.6" rx="1.66" ry="1.66" fill="#1838ff"/>
<ellipse cx="115.9" cy="536.1" rx="2.42" ry="2.42" fill="#1838ff"/>
<ellipse cx="107.9" cy="541.7" rx="2.35" ry="2.35" fill="#1838ff"/>
<ellipse cx="107.6" cy="566.4" rx="3.21" ry="3.21" fill="#1838ff"/>
<ellipse cx="111.9" cy="578.4" rx="2.93" ry="2.59" fill="#1838ff"/>
<ellipse cx="106.3" cy="595" rx="1.54" ry="1.54" fill="#1838ff"/>
<ellipse cx="107.9" cy="608.7" rx="2.93" ry="2.93" fill="#1838ff"/>
<ellipse cx="117.5" cy="607.1" rx="3.42" ry="3.53" fill="#1838ff"/>
<ellipse cx="131.6" cy="524.4" rx="3.31" ry="4.41" fill="#1838ff"/>
<ellipse cx="131.6" cy="545" rx="3.76" ry="3.34" fill="#1838ff"/>
<ellipse cx="130" cy="551.3" rx="2.48" ry="2.48" fill="#1838ff"/>
<ellipse cx="126.8" cy="565.6" rx="4.06" ry="3.53" fill="#1838ff"/>
<ellipse cx="130.8" cy="576" rx="2.93" ry="4.69" fill="#1838ff"/>
<ellipse cx="129.2" cy="584.8" rx="2.83" ry="2.83" fill="#1838ff"/>
<ellipse cx="127.6" cy="592" rx="2.85" ry="2.51" fill="#1838ff"/>
<ellipse cx="132.4" cy="592" rx="2.85" ry="2.51" fill="#1838ff"/>
<ellipse cx="125.2" cy="600" rx="2.74" ry="3.88" fill="#1838ff"/>
<ellipse cx="134.7" cy="604" rx="2.35" ry="3.05" fill="#1838ff"/>
<ellipse cx="130" cy="612" rx="2.35" ry="1.88" fill="#1838ff"/>
<ellipse cx="44.3" cy="521.8" rx="3.9" ry="3.7" fill="#1838ff"/>
<ellipse cx="41.8" cy="537" rx="7.2" ry="9" fill="#1838ff"/>
<ellipse cx="37.5" cy="532" rx="2.5" ry="3" fill="#1838ff"/>
<ellipse cx="42.6" cy="554.6" rx="2.6" ry="2.4" fill="#1838ff"/>
<ellipse cx="40.6" cy="567.5" rx="6.4" ry="7.6" fill="#1838ff"/>
<ellipse cx="45" cy="573.5" rx="3.8" ry="4.4" fill="#1838ff"/>
<ellipse cx="41.5" cy="577" rx="3.2" ry="2.4" fill="#1838ff"/>
<ellipse cx="37" cy="561" rx="2.5" ry="3.5" fill="#1838ff"/>
<ellipse cx="47" cy="560" rx="2.2" ry="3" fill="#1838ff"/>
<ellipse cx="40.6" cy="591.2" rx="5.4" ry="6.2" fill="#1838ff"/>
<ellipse cx="41.8" cy="598" rx="4" ry="2.5" fill="#1838ff"/>
<ellipse cx="41.4" cy="606.5" rx="5.2" ry="6.6" fill="#1838ff"/>
<ellipse cx="43.4" cy="611.5" rx="2.6" ry="2.2" fill="#1838ff"/>
<ellipse cx="59.6" cy="533.5" rx="7.2" ry="7.6" fill="#1838ff"/>
<ellipse cx="65.3" cy="533" rx="2.4" ry="2.8" fill="#1838ff"/>
<ellipse cx="56.3" cy="537" rx="2.2" ry="2.6" fill="#1838ff"/>
<ellipse cx="60.5" cy="528" rx="3" ry="2" fill="#1838ff"/>
<ellipse cx="60.1" cy="574.2" rx="6.4" ry="5.8" fill="#1838ff"/>
<ellipse cx="60.9" cy="586.6" rx="2.2" ry="2.2" fill="#1838ff"/>
<ellipse cx="59.3" cy="602" rx="5.2" ry="8.5" fill="#1838ff"/>
<ellipse cx="58.6" cy="607" rx="3.2" ry="3.2" fill="#1838ff"/>
<ellipse cx="56" cy="596" rx="2" ry="3" fill="#1838ff"/>
<ellipse cx="64" cy="597" rx="2" ry="3" fill="#1838ff"/>
<ellipse cx="78.4" cy="522.3" rx="2.5" ry="2.4" fill="#1838ff"/>
<ellipse cx="73.6" cy="538" rx="4.3" ry="5" fill="#1838ff"/>
<ellipse cx="82.5" cy="537.7" rx="4.2" ry="6" fill="#1838ff"/>
<ellipse cx="83.6" cy="537" rx="1.6" ry="2" fill="#1838ff"/>
<ellipse cx="78.4" cy="543.8" rx="4.5" ry="2.2" fill="#1838ff"/>
<ellipse cx="77.5" cy="567.3" rx="6.2" ry="4.2" fill="#1838ff"/>
<ellipse cx="80" cy="565.8" rx="2.2" ry="2.2" fill="#1838ff"/>
<ellipse cx="75.9" cy="589" rx="2.4" ry="2.4" fill="#1838ff"/>
<ellipse cx="79" cy="604.5" rx="6" ry="9" fill="#1838ff"/>
<ellipse cx="79.8" cy="608" rx="3" ry="3.2" fill="#1838ff"/>
<ellipse cx="94.8" cy="524.2" rx="4.3" ry="4.2" fill="#1838ff"/>
<ellipse cx="100" cy="529" rx="2" ry="2" fill="#1838ff"/>
<ellipse cx="98.4" cy="538.5" rx="2.7" ry="2.7" fill="#1838ff"/>
<ellipse cx="95.8" cy="541.3" rx="2.4" ry="2.3" fill="#1838ff"/>
<ellipse cx="98.7" cy="546.5" rx="2.2" ry="2.1" fill="#1838ff"/>
<ellipse cx="94.8" cy="553.7" rx="3.8" ry="3.8" fill="#1838ff"/>
<ellipse cx="93.8" cy="568" rx="6.6" ry="7.6" fill="#1838ff"/>
<ellipse cx="99.2" cy="576.5" rx="2.8" ry="3.2" fill="#1838ff"/>
<ellipse cx="89.5" cy="563" rx="2.6" ry="5" fill="#1838ff"/>
<ellipse cx="91" cy="575" rx="3.5" ry="3.5" fill="#1838ff"/>
<ellipse cx="99" cy="566" rx="2" ry="4" fill="#1838ff"/>
<ellipse cx="96" cy="587.2" rx="3.1" ry="3.1" fill="#1838ff"/>
<ellipse cx="96.8" cy="604.7" rx="4.8" ry="6.6" fill="#1838ff"/>
<ellipse cx="108.7" cy="518.6" rx="1.4" ry="1.4" fill="#1838ff"/>
<ellipse cx="115.9" cy="536.1" rx="2.2" ry="2.2" fill="#1838ff"/>
<ellipse cx="107.9" cy="541.7" rx="2" ry="2" fill="#1838ff"/>
<ellipse cx="107.6" cy="566.4" rx="3" ry="3" fill="#1838ff"/>
<ellipse cx="111.9" cy="578.4" rx="2.6" ry="2.3" fill="#1838ff"/>
<ellipse cx="106.3" cy="595" rx="1.3" ry="1.3" fill="#1838ff"/>
<ellipse cx="107.9" cy="608.7" rx="2.6" ry="2.6" fill="#1838ff"/>
<ellipse cx="117.5" cy="607.1" rx="3.2" ry="3.3" fill="#1838ff"/>
<ellipse cx="131.6" cy="524.4" rx="3" ry="4" fill="#1838ff"/>
<ellipse cx="131.6" cy="545" rx="3.6" ry="3.2" fill="#1838ff"/>
<ellipse cx="130" cy="551.3" rx="2.2" ry="2.2" fill="#1838ff"/>
<ellipse cx="126.8" cy="565.6" rx="3.8" ry="3.3" fill="#1838ff"/>
<ellipse cx="130.8" cy="576" rx="2.5" ry="4" fill="#1838ff"/>
<ellipse cx="129.2" cy="584.8" rx="2.5" ry="2.5" fill="#1838ff"/>
<ellipse cx="127.6" cy="592" rx="2.5" ry="2.2" fill="#1838ff"/>
<ellipse cx="132.4" cy="592" rx="2.5" ry="2.2" fill="#1838ff"/>
<ellipse cx="125.2" cy="600" rx="2.4" ry="3.4" fill="#1838ff"/>
<ellipse cx="134.7" cy="604" rx="2" ry="2.6" fill="#1838ff"/>
<ellipse cx="130" cy="612" rx="2" ry="1.6" fill="#1838ff"/>
<ellipse cx="44.3" cy="521.8" rx="3.61" ry="3.43" fill="#1a8cff"/>
<ellipse cx="41.8" cy="537" rx="6.86" ry="8.58" fill="#1a8cff"/>
<ellipse cx="37.5" cy="532" rx="2.11" ry="2.54" fill="#1a8cff"/>
<ellipse cx="42.6" cy="554.6" rx="2.01" ry="1.86" fill="#1a8cff"/>
<ellipse cx="40.6" cy="567.5" rx="6.05" ry="7.19" fill="#1a8cff"/>
<ellipse cx="45" cy="573.5" rx="3.03" ry="3.51" fill="#1a8cff"/>
<ellipse cx="41.5" cy="577" rx="2.66" ry="2" fill="#1a8cff"/>
<ellipse cx="37" cy="561" rx="1.77" ry="2.47" fill="#1a8cff"/>
<ellipse cx="47" cy="560" rx="1.51" ry="2.06" fill="#1a8cff"/>
<ellipse cx="40.6" cy="591.2" rx="5.07" ry="5.82" fill="#1a8cff"/>
<ellipse cx="41.8" cy="598" rx="2.98" ry="1.86" fill="#1a8cff"/>
<ellipse cx="41.4" cy="606.5" rx="4.9" ry="6.22" fill="#1a8cff"/>
<ellipse cx="43.4" cy="611.5" rx="2.37" ry="2.01" fill="#1a8cff"/>
<ellipse cx="59.6" cy="533.5" rx="5.5" ry="5.8" fill="#1a8cff"/>
<ellipse cx="65.3" cy="533" rx="2.1" ry="2.45" fill="#1a8cff"/>
<ellipse cx="56.3" cy="537" rx="1.81" ry="2.14" fill="#1a8cff"/>
<ellipse cx="60.5" cy="528" rx="2.32" ry="1.55" fill="#1a8cff"/>
<ellipse cx="60.1" cy="574.2" rx="6.01" ry="5.45" fill="#1a8cff"/>
<ellipse cx="60.9" cy="586.6" rx="1.56" ry="1.56" fill="#1a8cff"/>
<ellipse cx="59.3" cy="602" rx="3.88" ry="6.34" fill="#1a8cff"/>
<ellipse cx="58.6" cy="607" rx="2.67" ry="2.67" fill="#1a8cff"/>
<ellipse cx="56" cy="596" rx="1.41" ry="2.12" fill="#1a8cff"/>
<ellipse cx="64" cy="597" rx="1.41" ry="2.12" fill="#1a8cff"/>
<ellipse cx="78.4" cy="522.3" rx="1.64" ry="1.57" fill="#1a8cff"/>
<ellipse cx="73.6" cy="538" rx="3.21" ry="3.73" fill="#1a8cff"/>
<ellipse cx="82.5" cy="537.7" rx="3.55" ry="5.07" fill="#1a8cff"/>
<ellipse cx="83.6" cy="537" rx="1.42" ry="1.78" fill="#1a8cff"/>
<ellipse cx="78.4" cy="543.8" rx="2.95" ry="1.44" fill="#1a8cff"/>
<ellipse cx="77.5" cy="567.3" rx="4.86" ry="3.29" fill="#1a8cff"/>
<ellipse cx="80" cy="565.8" rx="1.94" ry="1.94" fill="#1a8cff"/>
<ellipse cx="75.9" cy="589" rx="1.65" ry="1.65" fill="#1a8cff"/>
<ellipse cx="79" cy="604.5" rx="4.47" ry="6.71" fill="#1a8cff"/>
<ellipse cx="79.8" cy="608" rx="2.52" ry="2.69" fill="#1a8cff"/>
<ellipse cx="94.8" cy="524.2" rx="3.96" ry="3.86" fill="#1a8cff"/>
<ellipse cx="100" cy="529" rx="1.31" ry="1.31" fill="#1a8cff"/>
<ellipse cx="98.4" cy="538.5" rx="1.77" ry="1.77" fill="#1a8cff"/>
<ellipse cx="95.8" cy="541.3" rx="1.57" ry="1.51" fill="#1a8cff"/>
<ellipse cx="98.7" cy="546.5" rx="1.92" ry="1.84" fill="#1a8cff"/>
<ellipse cx="94.8" cy="553.7" rx="3.44" ry="3.44" fill="#1a8cff"/>
<ellipse cx="93.8" cy="568" rx="6.14" ry="7.08" fill="#1a8cff"/>
<ellipse cx="99.2" cy="576.5" rx="1.83" ry="2.09" fill="#1a8cff"/>
<ellipse cx="89.5" cy="563" rx="1.79" ry="3.44" fill="#1a8cff"/>
<ellipse cx="91" cy="575" rx="2.47" ry="2.47" fill="#1a8cff"/>
<ellipse cx="99" cy="566" rx="1.31" ry="2.62" fill="#1a8cff"/>
<ellipse cx="96" cy="587.2" rx="2.31" ry="2.31" fill="#1a8cff"/>
<ellipse cx="96.8" cy="604.7" rx="4.34" ry="5.97" fill="#1a8cff"/>
<ellipse cx="108.7" cy="518.6" rx="0.81" ry="0.81" fill="#1a8cff"/>
<ellipse cx="115.9" cy="536.1" rx="1.78" ry="1.78" fill="#1a8cff"/>
<ellipse cx="107.9" cy="541.7" rx="1.22" ry="1.22" fill="#1a8cff"/>
<ellipse cx="107.6" cy="566.4" rx="2.61" ry="2.61" fill="#1a8cff"/>
<ellipse cx="111.9" cy="578.4" rx="1.94" ry="1.71" fill="#1a8cff"/>
<ellipse cx="106.3" cy="595" rx="0.75" ry="0.75" fill="#1a8cff"/>
<ellipse cx="107.9" cy="608.7" rx="1.94" ry="1.94" fill="#1a8cff"/>
<ellipse cx="117.5" cy="607.1" rx="2.8" ry="2.89" fill="#1a8cff"/>
<ellipse cx="131.6" cy="524.4" rx="2.39" ry="3.19" fill="#1a8cff"/>
<ellipse cx="131.6" cy="545" rx="3.31" ry="2.94" fill="#1a8cff"/>
<ellipse cx="130" cy="551.3" rx="1.64" ry="1.64" fill="#1a8cff"/>
<ellipse cx="126.8" cy="565.6" rx="3.32" ry="2.89" fill="#1a8cff"/>
<ellipse cx="130.8" cy="576" rx="1.53" ry="2.45" fill="#1a8cff"/>
<ellipse cx="129.2" cy="584.8" rx="1.81" ry="1.81" fill="#1a8cff"/>
<ellipse cx="127.6" cy="592" rx="1.77" ry="1.56" fill="#1a8cff"/>
<ellipse cx="132.4" cy="592" rx="1.77" ry="1.56" fill="#1a8cff"/>
<ellipse cx="125.2" cy="600" rx="1.7" ry="2.4" fill="#1a8cff"/>
<ellipse cx="134.7" cy="604" rx="1.22" ry="1.59" fill="#1a8cff"/>
<ellipse cx="130" cy="612" rx="1.22" ry="0.98" fill="#1a8cff"/>
<ellipse cx="44.3" cy="521.8" rx="3.39" ry="3.22" fill="#22d8d0"/>
<ellipse cx="41.8" cy="537" rx="6.62" ry="8.28" fill="#22d8d0"/>
<ellipse cx="37.5" cy="532" rx="1.79" ry="2.15" fill="#22d8d0"/>
<ellipse cx="42.6" cy="554.6" rx="1.47" ry="1.36" fill="#22d8d0"/>
<ellipse cx="40.6" cy="567.5" rx="5.8" ry="6.89" fill="#22d8d0"/>
<ellipse cx="45" cy="573.5" rx="2.35" ry="2.72" fill="#22d8d0"/>
<ellipse cx="41.5" cy="577" rx="2.21" ry="1.66" fill="#22d8d0"/>
<ellipse cx="37" cy="561" rx="0.97" ry="1.36" fill="#22d8d0"/>
<ellipse cx="47" cy="560" rx="0.71" ry="0.97" fill="#22d8d0"/>
<ellipse cx="40.6" cy="591.2" rx="4.83" ry="5.55" fill="#22d8d0"/>
<ellipse cx="41.8" cy="598" rx="1.98" ry="1.24" fill="#22d8d0"/>
<ellipse cx="41.4" cy="606.5" rx="4.68" ry="5.94" fill="#22d8d0"/>
<ellipse cx="43.4" cy="611.5" rx="2.2" ry="1.86" fill="#22d8d0"/>
<ellipse cx="59.6" cy="533.5" rx="3.89" ry="4.1" fill="#22d8d0"/>
<ellipse cx="65.3" cy="533" rx="1.86" ry="2.17" fill="#22d8d0"/>
<ellipse cx="56.3" cy="537" rx="1.48" ry="1.75" fill="#22d8d0"/>
<ellipse cx="60.5" cy="528" rx="1.7" ry="1.13" fill="#22d8d0"/>
<ellipse cx="60.1" cy="574.2" rx="5.72" ry="5.19" fill="#22d8d0"/>
<ellipse cx="60.9" cy="586.6" rx="0.85" ry="0.85" fill="#22d8d0"/>
<ellipse cx="59.3" cy="602" rx="2.57" ry="4.2" fill="#22d8d0"/>
<ellipse cx="58.6" cy="607" rx="2.23" ry="2.23" fill="#22d8d0"/>
<ellipse cx="56" cy="596" rx="0.77" ry="1.16" fill="#22d8d0"/>
<ellipse cx="64" cy="597" rx="0.77" ry="1.16" fill="#22d8d0"/>
<ellipse cx="78.4" cy="522.3" rx="0.42" ry="0.41" fill="#22d8d0"/>
<ellipse cx="73.6" cy="538" rx="2.13" ry="2.47" fill="#22d8d0"/>
<ellipse cx="82.5" cy="537.7" rx="3.01" ry="4.3" fill="#22d8d0"/>
<ellipse cx="83.6" cy="537" rx="1.28" ry="1.6" fill="#22d8d0"/>
<ellipse cx="78.4" cy="543.8" rx="0.76" ry="0.37" fill="#22d8d0"/>
<ellipse cx="77.5" cy="567.3" rx="3.65" ry="2.47" fill="#22d8d0"/>
<ellipse cx="80" cy="565.8" rx="1.74" ry="1.74" fill="#22d8d0"/>
<ellipse cx="75.9" cy="589" rx="0.78" ry="0.78" fill="#22d8d0"/>
<ellipse cx="79" cy="604.5" rx="2.97" ry="4.45" fill="#22d8d0"/>
<ellipse cx="79.8" cy="608" rx="2.12" ry="2.26" fill="#22d8d0"/>
<ellipse cx="94.8" cy="524.2" rx="3.7" ry="3.61" fill="#22d8d0"/>
<ellipse cx="100" cy="529" rx="0.34" ry="0.34" fill="#22d8d0"/>
<ellipse cx="98.4" cy="538.5" rx="0.46" ry="0.46" fill="#22d8d0"/>
<ellipse cx="95.8" cy="541.3" rx="0.41" ry="0.39" fill="#22d8d0"/>
<ellipse cx="98.7" cy="546.5" rx="1.7" ry="1.63" fill="#22d8d0"/>
<ellipse cx="94.8" cy="553.7" rx="3.16" ry="3.16" fill="#22d8d0"/>
<ellipse cx="93.8" cy="568" rx="5.8" ry="6.68" fill="#22d8d0"/>
<ellipse cx="99.2" cy="576.5" rx="0.47" ry="0.54" fill="#22d8d0"/>
<ellipse cx="89.5" cy="563" rx="0.84" ry="1.62" fill="#22d8d0"/>
<ellipse cx="91" cy="575" rx="1.36" ry="1.36" fill="#22d8d0"/>
<ellipse cx="99" cy="566" rx="0.34" ry="0.68" fill="#22d8d0"/>
<ellipse cx="96" cy="587.2" rx="1.53" ry="1.53" fill="#22d8d0"/>
<ellipse cx="96.8" cy="604.7" rx="3.99" ry="5.49" fill="#22d8d0"/>
<ellipse cx="115.9" cy="536.1" rx="1.42" ry="1.42" fill="#22d8d0"/>
<ellipse cx="107.6" cy="566.4" rx="2.3" ry="2.3" fill="#22d8d0"/>
<ellipse cx="111.9" cy="578.4" rx="1.29" ry="1.14" fill="#22d8d0"/>
<ellipse cx="107.9" cy="608.7" rx="1.29" ry="1.29" fill="#22d8d0"/>
<ellipse cx="117.5" cy="607.1" rx="2.48" ry="2.56" fill="#22d8d0"/>
<ellipse cx="131.6" cy="524.4" rx="1.85" ry="2.47" fill="#22d8d0"/>
<ellipse cx="131.6" cy="545" rx="3.09" ry="2.75" fill="#22d8d0"/>
<ellipse cx="130" cy="551.3" rx="1.09" ry="1.09" fill="#22d8d0"/>
<ellipse cx="126.8" cy="565.6" rx="2.94" ry="2.56" fill="#22d8d0"/>
<ellipse cx="129.2" cy="584.8" rx="1.09" ry="1.09" fill="#22d8d0"/>
<ellipse cx="127.6" cy="592" rx="0.97" ry="0.85" fill="#22d8d0"/>
<ellipse cx="132.4" cy="592" rx="0.97" ry="0.85" fill="#22d8d0"/>
<ellipse cx="125.2" cy="600" rx="0.93" ry="1.32" fill="#22d8d0"/>
<ellipse cx="44.3" cy="521.8" rx="3.2" ry="3.03" fill="#3ce040"/>
<ellipse cx="41.8" cy="537" rx="6.4" ry="8" fill="#3ce040"/>
<ellipse cx="37.5" cy="532" rx="1.46" ry="1.76" fill="#3ce040"/>
<ellipse cx="42.6" cy="554.6" rx="0.74" ry="0.68" fill="#3ce040"/>
<ellipse cx="40.6" cy="567.5" rx="5.57" ry="6.62" fill="#3ce040"/>
<ellipse cx="45" cy="573.5" rx="1.54" ry="1.78" fill="#3ce040"/>
<ellipse cx="41.5" cy="577" rx="1.73" ry="1.3" fill="#3ce040"/>
<ellipse cx="40.6" cy="591.2" rx="4.61" ry="5.3" fill="#3ce040"/>
<ellipse cx="41.4" cy="606.5" rx="4.49" ry="5.69" fill="#3ce040"/>
<ellipse cx="43.4" cy="611.5" rx="2.04" ry="1.73" fill="#3ce040"/>
<ellipse cx="59.6" cy="533.5" rx="1.47" ry="1.55" fill="#3ce040"/>
<ellipse cx="65.3" cy="533" rx="1.63" ry="1.9" fill="#3ce040"/>
<ellipse cx="56.3" cy="537" rx="1.12" ry="1.32" fill="#3ce040"/>
<ellipse cx="60.5" cy="528" rx="0.85" ry="0.57" fill="#3ce040"/>
<ellipse cx="60.1" cy="574.2" rx="5.47" ry="4.95" fill="#3ce040"/>
<ellipse cx="58.6" cy="607" rx="1.76" ry="1.76" fill="#3ce040"/>
<ellipse cx="82.5" cy="537.7" rx="2.46" ry="3.51" fill="#3ce040"/>
<ellipse cx="83.6" cy="537" rx="1.15" ry="1.44" fill="#3ce040"/>
<ellipse cx="77.5" cy="567.3" rx="2.11" ry="1.43" fill="#3ce040"/>
<ellipse cx="80" cy="565.8" rx="1.54" ry="1.54" fill="#3ce040"/>
<ellipse cx="79.8" cy="608" rx="1.71" ry="1.82" fill="#3ce040"/>
<ellipse cx="94.8" cy="524.2" rx="3.46" ry="3.38" fill="#3ce040"/>
<ellipse cx="98.7" cy="546.5" rx="1.49" ry="1.42" fill="#3ce040"/>
<ellipse cx="94.8" cy="553.7" rx="2.9" ry="2.9" fill="#3ce040"/>
<ellipse cx="93.8" cy="568" rx="5.5" ry="6.33" fill="#3ce040"/>
<ellipse cx="96.8" cy="604.7" rx="3.66" ry="5.03" fill="#3ce040"/>
<ellipse cx="115.9" cy="536.1" rx="1" ry="1" fill="#3ce040"/>
<ellipse cx="107.6" cy="566.4" rx="1.99" ry="1.99" fill="#3ce040"/>
<ellipse cx="117.5" cy="607.1" rx="2.17" ry="2.24" fill="#3ce040"/>
<ellipse cx="131.6" cy="524.4" rx="1.21" ry="1.62" fill="#3ce040"/>
<ellipse cx="131.6" cy="545" rx="2.89" ry="2.57" fill="#3ce040"/>
<ellipse cx="126.8" cy="565.6" rx="2.57" ry="2.24" fill="#3ce040"/>
<ellipse cx="44.3" cy="521.8" rx="2.95" ry="2.8" fill="#e6ea20"/>
<ellipse cx="41.8" cy="537" rx="6.14" ry="7.68" fill="#e6ea20"/>
<ellipse cx="37.5" cy="532" rx="0.94" ry="1.13" fill="#e6ea20"/>
<ellipse cx="40.6" cy="567.5" rx="5.29" ry="6.29" fill="#e6ea20"/>
<ellipse cx="41.5" cy="577" rx="0.89" ry="0.67" fill="#e6ea20"/>
<ellipse cx="40.6" cy="591.2" rx="4.34" ry="4.99" fill="#e6ea20"/>
<ellipse cx="41.4" cy="606.5" rx="4.25" ry="5.39" fill="#e6ea20"/>
<ellipse cx="43.4" cy="611.5" rx="1.84" ry="1.56" fill="#e6ea20"/>
<ellipse cx="65.3" cy="533" rx="1.3" ry="1.52" fill="#e6ea20"/>
<ellipse cx="56.3" cy="537" rx="0.4" ry="0.47" fill="#e6ea20"/>
<ellipse cx="60.1" cy="574.2" rx="5.15" ry="4.67" fill="#e6ea20"/>
<ellipse cx="58.6" cy="607" rx="0.96" ry="0.96" fill="#e6ea20"/>
<ellipse cx="82.5" cy="537.7" rx="1.59" ry="2.27" fill="#e6ea20"/>
<ellipse cx="83.6" cy="537" rx="0.97" ry="1.21" fill="#e6ea20"/>
<ellipse cx="80" cy="565.8" rx="1.27" ry="1.27" fill="#e6ea20"/>
<ellipse cx="79.8" cy="608" rx="1.03" ry="1.1" fill="#e6ea20"/>
<ellipse cx="94.8" cy="524.2" rx="3.16" ry="3.08" fill="#e6ea20"/>
<ellipse cx="98.7" cy="546.5" rx="1.19" ry="1.14" fill="#e6ea20"/>
<ellipse cx="94.8" cy="553.7" rx="2.56" ry="2.56" fill="#e6ea20"/>
<ellipse cx="93.8" cy="568" rx="5.11" ry="5.89" fill="#e6ea20"/>
<ellipse cx="96.8" cy="604.7" rx="3.24" ry="4.45" fill="#e6ea20"/>
<ellipse cx="107.6" cy="566.4" rx="1.55" ry="1.55" fill="#e6ea20"/>
<ellipse cx="117.5" cy="607.1" rx="1.74" ry="1.79" fill="#e6ea20"/>
<ellipse cx="131.6" cy="545" rx="2.64" ry="2.35" fill="#e6ea20"/>
<ellipse cx="126.8" cy="565.6" rx="2.06" ry="1.79" fill="#e6ea20"/>
<ellipse cx="44.3" cy="521.8" rx="2.72" ry="2.58" fill="#ff9400"/>
<ellipse cx="41.8" cy="537" rx="5.91" ry="7.38" fill="#ff9400"/>
<ellipse cx="40.6" cy="567.5" rx="5.04" ry="5.99" fill="#ff9400"/>
<ellipse cx="40.6" cy="591.2" rx="4.1" ry="4.71" fill="#ff9400"/>
<ellipse cx="41.4" cy="606.5" rx="4.03" ry="5.11" fill="#ff9400"/>
<ellipse cx="43.4" cy="611.5" rx="1.64" ry="1.39" fill="#ff9400"/>
<ellipse cx="65.3" cy="533" rx="0.94" ry="1.1" fill="#ff9400"/>
<ellipse cx="60.1" cy="574.2" rx="4.86" ry="4.4" fill="#ff9400"/>
<ellipse cx="83.6" cy="537" rx="0.79" ry="0.98" fill="#ff9400"/>
<ellipse cx="80" cy="565.8" rx="0.98" ry="0.98" fill="#ff9400"/>
<ellipse cx="94.8" cy="524.2" rx="2.87" ry="2.81" fill="#ff9400"/>
<ellipse cx="98.7" cy="546.5" rx="0.86" ry="0.82" fill="#ff9400"/>
<ellipse cx="94.8" cy="553.7" rx="2.23" ry="2.23" fill="#ff9400"/>
<ellipse cx="93.8" cy="568" rx="4.76" ry="5.48" fill="#ff9400"/>
<ellipse cx="96.8" cy="604.7" rx="2.82" ry="3.88" fill="#ff9400"/>
<ellipse cx="107.6" cy="566.4" rx="1.05" ry="1.05" fill="#ff9400"/>
<ellipse cx="117.5" cy="607.1" rx="1.25" ry="1.29" fill="#ff9400"/>
<ellipse cx="131.6" cy="545" rx="2.4" ry="2.14" fill="#ff9400"/>
<ellipse cx="126.8" cy="565.6" rx="1.49" ry="1.29" fill="#ff9400"/>
<ellipse cx="44.3" cy="521.8" rx="2.51" ry="2.38" fill="#ff2400"/>
<ellipse cx="41.8" cy="537" rx="5.7" ry="7.13" fill="#ff2400"/>
<ellipse cx="40.6" cy="567.5" rx="4.83" ry="5.73" fill="#ff2400"/>
<ellipse cx="40.6" cy="591.2" rx="3.89" ry="4.46" fill="#ff2400"/>
<ellipse cx="41.4" cy="606.5" rx="3.84" ry="4.87" fill="#ff2400"/>
<ellipse cx="43.4" cy="611.5" rx="1.46" ry="1.24" fill="#ff2400"/>
<ellipse cx="65.3" cy="533" rx="0.45" ry="0.53" fill="#ff2400"/>
<ellipse cx="60.1" cy="574.2" rx="4.6" ry="4.17" fill="#ff2400"/>
<ellipse cx="83.6" cy="537" rx="0.59" ry="0.74" fill="#ff2400"/>
<ellipse cx="80" cy="565.8" rx="0.66" ry="0.66" fill="#ff2400"/>
<ellipse cx="94.8" cy="524.2" rx="2.61" ry="2.55" fill="#ff2400"/>
<ellipse cx="98.7" cy="546.5" rx="0.41" ry="0.39" fill="#ff2400"/>
<ellipse cx="94.8" cy="553.7" rx="1.92" ry="1.92" fill="#ff2400"/>
<ellipse cx="93.8" cy="568" rx="4.44" ry="5.12" fill="#ff2400"/>
<ellipse cx="96.8" cy="604.7" rx="2.42" ry="3.33" fill="#ff2400"/>
<ellipse cx="117.5" cy="607.1" rx="0.6" ry="0.62" fill="#ff2400"/>
<ellipse cx="131.6" cy="545" rx="2.19" ry="1.94" fill="#ff2400"/>
<ellipse cx="126.8" cy="565.6" rx="0.71" ry="0.62" fill="#ff2400"/>
<ellipse cx="44.3" cy="521.8" rx="1.5" ry="1.4" fill="#c8c8c8"/>
<ellipse cx="40.6" cy="591.2" rx="2.3" ry="2.8" fill="#c8c8c8"/>
<ellipse cx="48.2" cy="536" rx="1.3" ry="2.6" fill="#c8c8c8"/>
</g>
<line x1="51.4" y1="515.2" x2="51.4" y2="614.2" stroke="#a0a0a0" stroke-width="1"/>
<line x1="68.7" y1="515.2" x2="68.7" y2="614.2" stroke="#a0a0a0" stroke-width="1"/>
<line x1="86.4" y1="515.2" x2="86.4" y2="614.2" stroke="#a0a0a0" stroke-width="1"/>
<line x1="103.8" y1="515.2" x2="103.8" y2="614.2" stroke="#a0a0a0" stroke-width="1"/>
<line x1="120.6" y1="515.2" x2="120.6" y2="614.2" stroke="#a0a0a0" stroke-width="1"/>
<text x="35.8" y="512.8" font-size="7.6" transform="rotate(-45 35.8 512.8)">Vehicle</text>
<text x="60" y="512.8" font-size="7.6" transform="rotate(-45 60 512.8)">Romi</text>
<text x="78.5" y="512.8" font-size="7.6" transform="rotate(-45 78.5 512.8)">JQ1</text>
<text x="95" y="512.8" font-size="7.6" transform="rotate(-45 95 512.8)">AC220</text>
<text x="114.6" y="512.8" font-size="7.6" transform="rotate(-45 114.6 512.8)">Romi+JQ1</text>
<text x="131.9" y="512.8" font-size="7.6" transform="rotate(-45 131.9 512.8)">Romi+AC220</text>
<text x="142.8" y="526" font-size="5.6" fill="#222" textLength="33.7" lengthAdjust="spacingAndGlyphs">Luminescence</text>
<rect x="144.1" y="528.8" width="2.8" height="65.6" fill="url(#cbar)"/>
<line x1="146.9" y1="532.9" x2="148.4" y2="532.9" stroke="#000" stroke-width="0.5"/>
<text x="148.4" y="534.9" font-size="5.8" fill="#222" textLength="12.6" lengthAdjust="spacingAndGlyphs">6000</text>
<line x1="146.9" y1="554.5" x2="148.4" y2="554.5" stroke="#000" stroke-width="0.5"/>
<text x="148.4" y="556.5" font-size="5.8" fill="#222" textLength="12.6" lengthAdjust="spacingAndGlyphs">4000</text>
<line x1="146.9" y1="576.6" x2="148.4" y2="576.6" stroke="#000" stroke-width="0.5"/>
<text x="148.4" y="578.6" font-size="5.8" fill="#222" textLength="12.6" lengthAdjust="spacingAndGlyphs">2000</text>
<text x="142.8" y="600.3" font-size="5.9" fill="#222">Counts</text>
<text x="142.8" y="608.7" font-size="5.7" fill="#222">Color Scale</text>
<text x="142.8" y="614.8" font-size="5.7" fill="#222">Min=-334</text>
<text x="142.8" y="620.8" font-size="5.7" fill="#222">Max=6493</text>
<line x1="221.2" y1="509.6" x2="221.2" y2="605" stroke="#222" stroke-width="1.1"/>
<line x1="221.2" y1="603.8" x2="361" y2="603.8" stroke="#333" stroke-width="1.4"/>
<line x1="218.4" y1="510.1" x2="221.2" y2="510.1" stroke="#222" stroke-width="1"/>
<text x="215.3" y="512.8" font-size="7.8" text-anchor="end" fill="#222">90</text>
<line x1="218.4" y1="556.7" x2="221.2" y2="556.7" stroke="#222" stroke-width="1"/>
<text x="215.3" y="559.4" font-size="7.8" text-anchor="end" fill="#222">50</text>
<line x1="218.4" y1="603.3" x2="221.2" y2="603.3" stroke="#222" stroke-width="1"/>
<text x="215.3" y="606" font-size="7.8" text-anchor="end" fill="#222">0</text>
<line x1="221.2" y1="604" x2="221.2" y2="606.6" stroke="#333" stroke-width="1"/>
<text x="221.2" y="615.6" font-size="7.8" text-anchor="middle" fill="#222">0</text>
<line x1="249.19" y1="604" x2="249.19" y2="606.6" stroke="#333" stroke-width="1"/>
<text x="249.19" y="615.6" font-size="7.8" text-anchor="middle" fill="#222">20</text>
<line x1="277.18" y1="604" x2="277.18" y2="606.6" stroke="#333" stroke-width="1"/>
<text x="277.18" y="615.6" font-size="7.8" text-anchor="middle" fill="#222">40</text>
<line x1="305.17" y1="604" x2="305.17" y2="606.6" stroke="#333" stroke-width="1"/>
<text x="305.17" y="615.6" font-size="7.8" text-anchor="middle" fill="#222">60</text>
<line x1="333.16" y1="604" x2="333.16" y2="606.6" stroke="#333" stroke-width="1"/>
<text x="333.16" y="615.6" font-size="7.8" text-anchor="middle" fill="#222">80</text>
<line x1="361.15" y1="604" x2="361.15" y2="606.6" stroke="#333" stroke-width="1"/>
<text x="361.15" y="615.6" font-size="7.8" text-anchor="middle" fill="#222">100</text>
<text x="290.8" y="628.6" font-size="8.8" text-anchor="middle" fill="#222" textLength="37.2" lengthAdjust="spacingAndGlyphs">Time (days)</text>
<text x="199.6" y="556.3" font-size="8.4" text-anchor="middle" fill="#222" transform="rotate(-90 199.6 556.3)" textLength="51.5" lengthAdjust="spacingAndGlyphs">Percent survival</text>
<polyline points="221.2,510.1 270.3,510.1 270.3,547.38 271.7,547.38 271.7,566.02 271,566.02 271,603.3" fill="none" stroke="#30e020" stroke-width="1.7" stroke-linejoin="miter" stroke-linecap="square"/>
<polyline points="221.2,510.1 259,510.1 259,528.74 269.9,528.74 269.9,566.02 270.6,566.02 270.6,603.3" fill="none" stroke="#000" stroke-width="1.7" stroke-linejoin="miter" stroke-linecap="square"/>
<polyline points="221.2,510.1 270.2,510.1 270.2,528.74 278.7,528.74 278.7,547.38 284.1,547.38 284.1,566.02 288.1,566.02 288.1,584.66 290.8,584.66 290.8,603.3" fill="none" stroke="#2a14a8" stroke-width="1.7" stroke-linejoin="miter" stroke-linecap="square"/>
<polyline points="221.2,510.1 268.6,510.1 268.6,547.38 274.1,547.38 274.1,566.02 290.8,566.02 290.8,584.66 296.5,584.66 296.5,603.3" fill="none" stroke="#d81010" stroke-width="1.7" stroke-linejoin="miter" stroke-linecap="square"/>
<polyline points="221.2,510.1 287.9,510.1 287.9,528.74 291,528.74 291,547.38 305.9,547.38 305.9,566.02 311.6,566.02 311.6,584.66 318.5,584.66 318.5,603.3" fill="none" stroke="#ff10ff" stroke-width="1.7" stroke-linejoin="miter" stroke-linecap="square"/>
<polyline points="221.2,510.1 291,510.1 291,528.74 296.6,528.74 296.6,547.38 311.6,547.38 311.6,566.02 338.1,566.02 338.1,584.66 346.5,584.66 346.5,603.3" fill="none" stroke="#1448d8" stroke-width="1.7" stroke-linejoin="miter" stroke-linecap="square"/>
<rect x="268.7" y="527.84" width="1.8" height="1.8" fill="#000"/>
<rect x="268.9" y="565.12" width="1.8" height="1.8" fill="#000"/>
<rect x="287" y="527.84" width="1.8" height="1.8" fill="#000"/>
<rect x="290.1" y="546.48" width="1.8" height="1.8" fill="#000"/>
<rect x="305" y="565.12" width="1.8" height="1.8" fill="#000"/>
<rect x="310.7" y="583.76" width="1.8" height="1.8" fill="#000"/>
<rect x="269.3" y="527.84" width="1.8" height="1.8" fill="#000"/>
<rect x="283.2" y="565.12" width="1.8" height="1.8" fill="#000"/>
<rect x="287.2" y="583.76" width="1.8" height="1.8" fill="#000"/>
<rect x="270.8" y="565.12" width="1.8" height="1.8" fill="#000"/>
<rect x="289.9" y="583.76" width="1.8" height="1.8" fill="#000"/>
<line x1="351.9" y1="510.1" x2="361.1" y2="510.1" stroke="#000" stroke-width="1.6"/>
<line x1="356.6" y1="508.5" x2="356.6" y2="510.1" stroke="#000" stroke-width="0.9"/>
<text x="365.4" y="512" font-size="8.1" fill="#222">Vehicle</text>
<line x1="351.9" y1="522.9" x2="361.1" y2="522.9" stroke="#d81010" stroke-width="1.6"/>
<line x1="356.6" y1="521.3" x2="356.6" y2="522.9" stroke="#000" stroke-width="0.9"/>
<text x="365.4" y="524.8" font-size="8.1" fill="#222">Romi</text>
<line x1="351.9" y1="535.7" x2="361.1" y2="535.7" stroke="#2a14a8" stroke-width="1.6"/>
<line x1="356.6" y1="534.1" x2="356.6" y2="535.7" stroke="#000" stroke-width="0.9"/>
<text x="365.4" y="537.6" font-size="8.1" fill="#222">JQ1</text>
<line x1="351.9" y1="547.8" x2="361.1" y2="547.8" stroke="#30e020" stroke-width="1.6"/>
<line x1="356.6" y1="546.2" x2="356.6" y2="547.8" stroke="#000" stroke-width="0.9"/>
<text x="365.4" y="549.7" font-size="8.1" fill="#222">AC220</text>
<line x1="351.9" y1="560.6" x2="361.1" y2="560.6" stroke="#ff10ff" stroke-width="1.6"/>
<line x1="356.6" y1="559" x2="356.6" y2="560.6" stroke="#000" stroke-width="0.9"/>
<text x="365.4" y="562.5" font-size="8.1" fill="#222">Romi+JQ1</text>
<line x1="351.9" y1="573.4" x2="361.1" y2="573.4" stroke="#1448d8" stroke-width="1.6"/>
<text x="365.4" y="575.3" font-size="8.1" fill="#222">Romi+AC220</text>
<polyline points="349.9,510.1 335.5,510.1 335.5,547.8 340.9,547.8" fill="none" stroke="#333" stroke-width="1.1"/>
<polyline points="341.2,510.1 341.2,536.1 345.5,536.1" fill="none" stroke="#333" stroke-width="1.1"/>
<polyline points="345.2,510.1 345.2,524.5 349.9,524.5" fill="none" stroke="#333" stroke-width="1.1"/>
<line x1="341.2" y1="516.8" x2="345.2" y2="516.8" stroke="#333" stroke-width="0.9"/>
<text x="333" y="528.9" font-size="7.2" text-anchor="middle" fill="#222" transform="rotate(-90 333 528.9)">ns</text>
<circle cx="338.2" cy="520.2" r="0.9" fill="#111"/>
<circle cx="338.2" cy="522.8" r="0.9" fill="#111"/>
<polyline points="409.2,522.9 413.6,522.9 413.6,560.8 403.5,560.8" fill="none" stroke="#333" stroke-width="1.1"/>
<polyline points="419.6,522.9 424.8,522.9 424.8,573.2 414.4,573.2" fill="none" stroke="#333" stroke-width="1.1"/>
<polyline points="403.5,539.4 409,539.4 409,560.8" fill="none" stroke="#333" stroke-width="1.1"/>
<polyline points="414.4,549.2 419.4,549.2 419.4,573.2" fill="none" stroke="#333" stroke-width="1.1"/>
<circle cx="418.2" cy="542.3" r="1.12" fill="#111"/>
<circle cx="429.4" cy="547.8" r="1.12" fill="#111"/>
<circle cx="411" cy="550.4" r="1.12" fill="#111"/>
<circle cx="421.9" cy="560" r="0.9" fill="#111"/>
<circle cx="421.9" cy="562.6" r="0.9" fill="#111"/>
</svg></body></html>
